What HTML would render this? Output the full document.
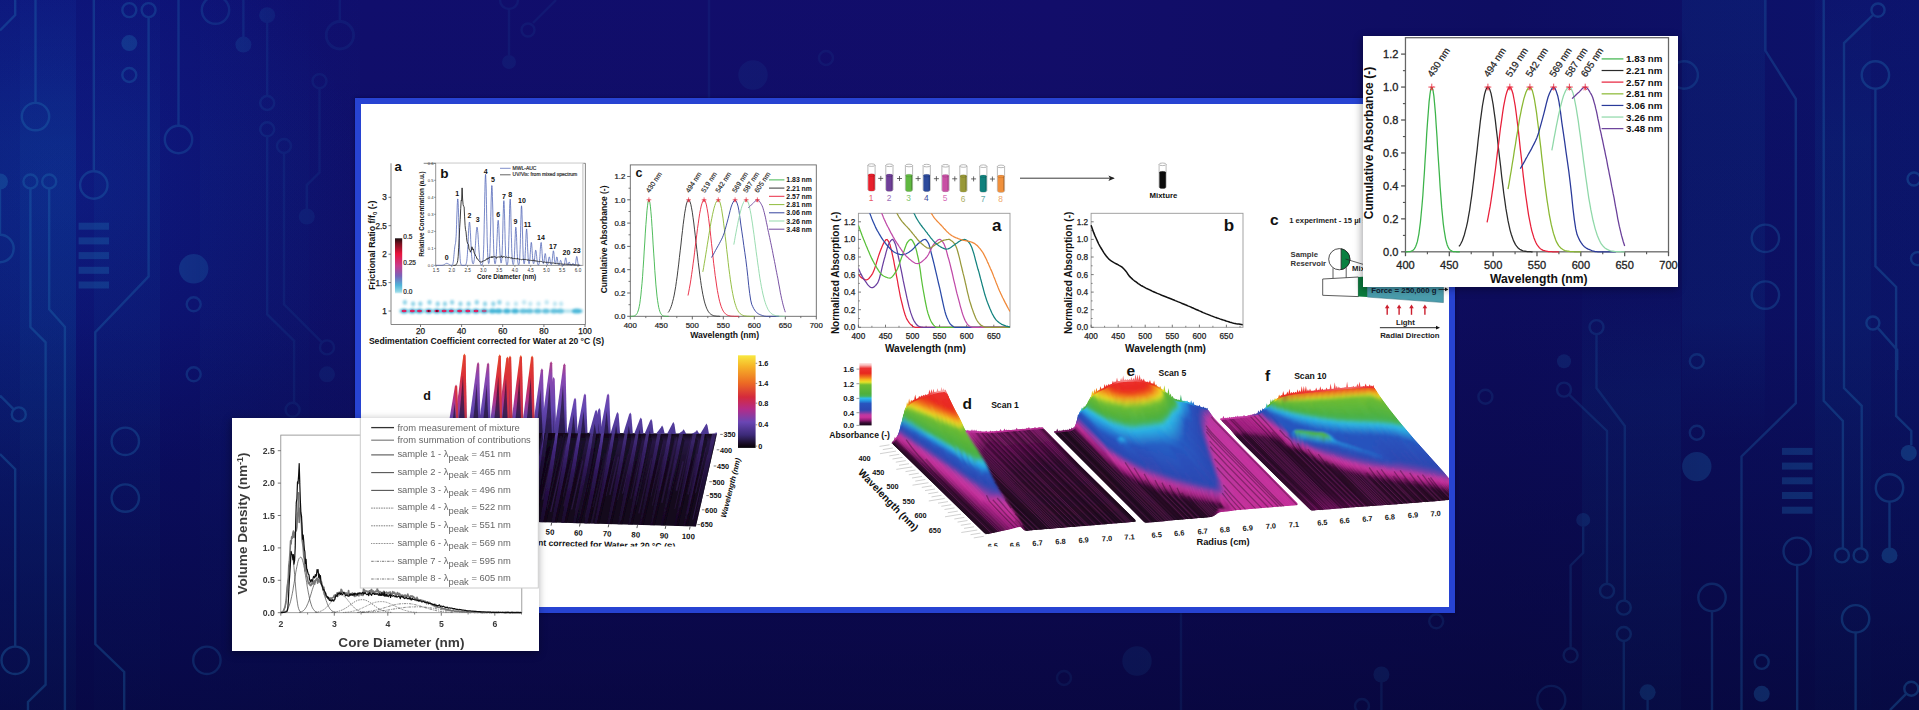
<!DOCTYPE html>
<html><head><meta charset="utf-8"><title>Multiwavelength AUC figures</title>
<style>
html,body{margin:0;padding:0;background:#0d0b63;}
body{width:1919px;height:710px;position:relative;overflow:hidden;font-family:"Liberation Sans",sans-serif;}
svg{position:absolute;left:0;top:0;display:block;}
svg text{font-family:"Liberation Sans",sans-serif;}
.panel{position:absolute;left:355px;top:98px;width:1088px;height:503px;border:6px solid #2743d2;background:#fff;box-shadow:0 0 3px rgba(0,0,40,.6);}
.card{position:absolute;background:#fff;box-shadow:-1px 2px 8px rgba(0,0,10,.38);}
#c1{left:1363px;top:36px;width:315px;height:251px;}
#c2{left:232px;top:418px;width:307px;height:233px;}
</style></head><body>
<svg class="bg" width="1919" height="710" viewBox="0 0 1919 710">
<defs>
<linearGradient id="bgh" x1="0" x2="1" y1="0" y2="0">
<stop offset="0" stop-color="#0c1174"/><stop offset="0.10" stop-color="#0d1072"/><stop offset="0.19" stop-color="#100e6c"/>
<stop offset="0.55" stop-color="#120d6a"/><stop offset="0.78" stop-color="#0e0d62"/><stop offset="1" stop-color="#0c136c"/>
</linearGradient>
<linearGradient id="bgv" x1="0" x2="0" y1="0" y2="1">
<stop offset="0" stop-color="#04042a" stop-opacity="0"/><stop offset="0.45" stop-color="#04042a" stop-opacity="0.12"/><stop offset="1" stop-color="#04042a" stop-opacity="0.62"/>
</linearGradient>
<linearGradient id="bandv" x1="0" x2="0" y1="0" y2="1"><stop offset="0" stop-color="#1238a0" stop-opacity="0.55"/><stop offset="0.2" stop-color="#0a58a4"/><stop offset="0.55" stop-color="#0a58a4"/><stop offset="1" stop-color="#0a50a0" stop-opacity="0.6"/></linearGradient>
<linearGradient id="bandT" x1="0" x2="0" y1="0" y2="1"><stop offset="0" stop-color="#0a58a4"/><stop offset="0.45" stop-color="#0a58a4"/><stop offset="0.62" stop-color="#0a58a4" stop-opacity="0"/></linearGradient>
<linearGradient id="bandB" x1="0" x2="0" y1="0" y2="1"><stop offset="0.38" stop-color="#0a58a4" stop-opacity="0"/><stop offset="0.56" stop-color="#0a58a4"/><stop offset="1" stop-color="#0a58a4"/></linearGradient>
<linearGradient id="cmg" x1="0" x2="1" y1="0" y2="0"><stop offset="0" stop-color="#fff"/><stop offset="0.09" stop-color="#ddd"/><stop offset="0.15" stop-color="#555"/><stop offset="0.5" stop-color="#4a4a4a"/><stop offset="0.8" stop-color="#777"/><stop offset="0.9" stop-color="#ccc"/><stop offset="1" stop-color="#fff"/></linearGradient><mask id="cmask" maskUnits="userSpaceOnUse" x="0" y="0" width="1919" height="710"><rect width="1919" height="710" fill="url(#cmg)"/></mask>
<radialGradient id="bgr" gradientUnits="userSpaceOnUse" cx="60" cy="190" r="300"><stop offset="0" stop-color="#1848c8" stop-opacity="0.22"/><stop offset="0.5" stop-color="#1848c8" stop-opacity="0.10"/><stop offset="1" stop-color="#1848c8" stop-opacity="0"/></radialGradient>
</defs>
<rect width="1919" height="710" fill="url(#bgh)"/>
<rect x="0" y="0" width="20" height="710" fill="url(#bandv)" opacity="0.2"/>
<rect x="20" y="0" width="56" height="710" fill="url(#bandv)" opacity="0.3"/>
<rect x="94" y="0" width="66" height="710" fill="url(#bandv)" opacity="0.11"/>
<rect x="200" y="0" width="109" height="710" fill="url(#bandv)" opacity="0.07"/>
<rect x="309" y="0" width="51" height="710" fill="url(#bandv)" opacity="0.04"/>
<rect x="1582" y="0" width="99" height="710" fill="url(#bandB)" opacity="0.14"/>
<rect x="1682" y="0" width="83" height="710" fill="url(#bandT)" opacity="0.13"/>
<rect x="1815" y="0" width="56" height="710" fill="url(#bandv)" opacity="0.14"/>
<rect x="1871" y="0" width="48" height="710" fill="url(#bandv)" opacity="0.05"/>
<rect width="700" height="710" fill="url(#bgr)"/>
<rect width="1919" height="710" fill="url(#bgv)"/>
<g stroke="#1f6fb0" stroke-width="2.4" opacity="0.36" fill="none" mask="url(#cmask)">
<path d="M15.2 0 L15.2 15 L0 30.4" fill="none"/>
<path d="M35.5 0 L35.5 103" fill="none"/>
<circle cx="35.5" cy="116.6" r="13.7" fill="none"/>
<path d="M93.8 0 L93.8 171.3" fill="none"/>
<circle cx="93.8" cy="185" r="13.7" fill="none"/>
<circle cx="129.3" cy="10.1" r="7" fill="none"/>
<circle cx="148.6" cy="10.1" r="7" fill="none"/>
<path d="M148.6 17 L148.6 276.4 L95.3 332.2 L95.3 644.1 L124.2 672 L124.2 710" fill="none"/>
<circle cx="129.3" cy="43.1" r="8" fill="#1f6fb0" stroke="none"/>
<circle cx="129.3" cy="75" r="7" fill="none"/>
<path d="M178.5 0 L178.5 126" fill="none"/>
<circle cx="178.5" cy="139.5" r="13.7" fill="none"/>
<circle cx="215.5" cy="10.1" r="13.7" fill="none"/>
<path d="M243.4 0 L243.4 37" fill="none"/>
<circle cx="243.4" cy="44.6" r="8" fill="#1f6fb0" stroke="none"/>
<circle cx="267.2" cy="15.2" r="8" fill="#1f6fb0" stroke="none"/>
<path d="M267.2 23 L267.2 96" fill="none"/>
<circle cx="267.2" cy="103" r="7" fill="none"/>
<circle cx="267.2" cy="129.3" r="7" fill="none"/>
<path d="M267.2 136.3 L267.2 314.4 L294.1 340.8 L294.1 402.8" fill="none"/>
<circle cx="292.6" cy="409.8" r="7" fill="none"/>
<circle cx="284" cy="146" r="7" fill="none"/>
<path d="M284 153 L284 304.3 L322 342.4" fill="none"/>
<circle cx="327" cy="347.4" r="7" fill="none"/>
<circle cx="327" cy="374.3" r="8" fill="#1f6fb0" stroke="none"/>
<circle cx="319.5" cy="81.1" r="7" fill="none"/>
<path d="M319.5 88 L319.5 172.4 L306.8 185.1 L306.8 209" fill="none"/>
<circle cx="306.8" cy="216.5" r="8" fill="#1f6fb0" stroke="none"/>
<path d="M339.8 0 L339.8 22" fill="none"/>
<circle cx="339.8" cy="35.5" r="13.7" fill="none"/>
<circle cx="30.4" cy="181.5" r="7" fill="none"/>
<circle cx="49.2" cy="181.5" r="7" fill="none"/>
<path d="M30.4 188.5 L30.4 327 L45.6 342.3 L45.6 684.7 L28 702 L28 710" fill="none"/>
<path d="M49.2 188.5 L49.2 309.3 L64.9 327 L64.9 710" fill="none"/>
<circle cx="0" cy="181.5" r="8" fill="#1f6fb0" stroke="none"/>
<path d="M0 189 L0 235" fill="none"/>
<circle cx="0" cy="248.5" r="13.7" fill="none"/>
<circle cx="193.7" cy="268.8" r="14.7" fill="#1f6fb0" stroke="none"/>
<circle cx="193.7" cy="304.3" r="7" fill="none"/>
<circle cx="193.7" cy="374.3" r="7" fill="none"/>
<rect x="78.6" y="222.7" width="30.4" height="7" fill="#1f6fb0" stroke="none"/>
<rect x="78.6" y="237.4" width="30.4" height="7" fill="#1f6fb0" stroke="none"/>
<rect x="78.6" y="252.1" width="30.4" height="7" fill="#1f6fb0" stroke="none"/>
<rect x="78.6" y="266.8" width="30.4" height="7" fill="#1f6fb0" stroke="none"/>
<rect x="78.6" y="281.5" width="30.4" height="7" fill="#1f6fb0" stroke="none"/>
<path d="M0 395.6 L13.8 409.4" fill="none"/>
<circle cx="18.8" cy="414.4" r="7" fill="none"/>
<path d="M0 454 L15.2 469.2 L15.2 646.6" fill="none"/>
<circle cx="15.2" cy="660.3" r="13.7" fill="none"/>
<circle cx="125.3" cy="441.3" r="13.7" fill="none"/>
<circle cx="125.3" cy="498.1" r="13.7" fill="none"/>
<circle cx="206.9" cy="660.3" r="13.7" fill="none"/>
<circle cx="340" cy="35" r="13.7" fill="none"/>
<circle cx="509" cy="0" r="9" fill="none"/>
<path d="M509 9 L509 55" fill="none"/>
<circle cx="509" cy="62" r="7" fill="#1f6fb0" stroke="none"/>
<path d="M556 0 L533 23" fill="none"/>
<circle cx="528" cy="30" r="6.5" fill="none"/>
<path d="M709 0 L709 98" fill="none"/>
<circle cx="753" cy="75" r="14.7" fill="#1f6fb0" stroke="none"/>
<circle cx="826" cy="58" r="7" fill="none"/>
<circle cx="1064" cy="678" r="7" fill="none"/>
<circle cx="1137" cy="661" r="14.7" fill="#1f6fb0" stroke="none"/>
<path d="M1181 613 L1181 710" fill="none"/>
<circle cx="1436.2" cy="621.3" r="7" fill="none"/>
<circle cx="1381.4" cy="674.5" r="8" fill="#1f6fb0" stroke="none"/>
<path d="M1381.4 682 L1381.4 710" fill="none"/>
<circle cx="1362" cy="706" r="7" fill="none"/>
<path d="M1765.4 0 L1765.4 50.7 L1795.8 98.9 L1795.8 403.2 L1741.5 456.5 L1741.5 710" fill="none"/>
<path d="M1823.7 0 L1823.7 400.7 L1842.9 421 L1842.9 548.4" fill="none"/>
<circle cx="1841.9" cy="555.4" r="7" fill="none"/>
<circle cx="1878" cy="10.1" r="6.6" fill="none"/>
<path d="M1873 15 L1844 43.1 L1844 388 L1861.7 405.8 L1861.7 548.4" fill="none"/>
<circle cx="1860.6" cy="555.4" r="7" fill="none"/>
<circle cx="1875.4" cy="75" r="13.7" fill="none"/>
<path d="M1875.4 88.7 L1875.4 266.2 L1896.1 287 L1896.1 415.9 L1911.3 431 L1911.3 445" fill="none"/>
<circle cx="1908.8" cy="452.9" r="8" fill="#1f6fb0" stroke="none"/>
<circle cx="1684.2" cy="75" r="13.7" fill="none"/>
<circle cx="1765.4" cy="238.3" r="13.7" fill="none"/>
<circle cx="1765.4" cy="295.1" r="13.7" fill="none"/>
<circle cx="1914" cy="179" r="6.5" fill="none"/>
<circle cx="1917.5" cy="258.6" r="6.5" fill="none"/>
<circle cx="1872.9" cy="323" r="6.5" fill="none"/>
<path d="M1877.5 327.6 L1897.2 349.9 L1897.2 370" fill="none"/>
<circle cx="1596.5" cy="327.1" r="7" fill="none"/>
<path d="M1596.5 334 L1596.5 388 L1624.8 426 L1624.8 600.6" fill="none"/>
<circle cx="1623.8" cy="607.6" r="7" fill="none"/>
<circle cx="1485.4" cy="396.7" r="7" fill="none"/>
<circle cx="1564" cy="361.2" r="7" fill="#1f6fb0" stroke="none"/>
<circle cx="1564" cy="389.6" r="7" fill="none"/>
<path d="M1569 394.6 L1607 431 L1607 583.9" fill="none"/>
<circle cx="1607" cy="590.9" r="7" fill="none"/>
<circle cx="1583.2" cy="519.9" r="7" fill="#1f6fb0" stroke="none"/>
<path d="M1583.2 527 L1583.2 552.8 L1570.6 565.5 L1570.6 648.3" fill="none"/>
<circle cx="1570.6" cy="655.3" r="7" fill="none"/>
<circle cx="1623.8" cy="634" r="7" fill="none"/>
<path d="M1623.8 641 L1623.8 710" fill="none"/>
<circle cx="1551.3" cy="699.9" r="14" fill="none"/>
<circle cx="1647.6" cy="692.3" r="8" fill="#1f6fb0" stroke="none"/>
<path d="M1647.6 700 L1647.6 710" fill="none"/>
<circle cx="1696.8" cy="361.2" r="7" fill="none"/>
<circle cx="1696.8" cy="432.7" r="7" fill="none"/>
<circle cx="1696.8" cy="466.6" r="14.7" fill="#1f6fb0" stroke="none"/>
<circle cx="1712" cy="597.5" r="13.7" fill="none"/>
<path d="M1712 611.2 L1712 710" fill="none"/>
<rect x="1782" y="447.9" width="30.5" height="7" fill="#1f6fb0" stroke="none"/>
<rect x="1782" y="462.6" width="30.5" height="7" fill="#1f6fb0" stroke="none"/>
<rect x="1782" y="477.3" width="30.5" height="7" fill="#1f6fb0" stroke="none"/>
<rect x="1782" y="492" width="30.5" height="7" fill="#1f6fb0" stroke="none"/>
<rect x="1782" y="506.7" width="30.5" height="7" fill="#1f6fb0" stroke="none"/>
<circle cx="1797.2" cy="551.3" r="13.7" fill="none"/>
<path d="M1797.2 565 L1797.2 710" fill="none"/>
<circle cx="1889.5" cy="487.9" r="13.7" fill="none"/>
<path d="M1889.5 501.6 L1889.5 548" fill="none"/>
<circle cx="1889.5" cy="555.4" r="8" fill="#1f6fb0" stroke="none"/>
<circle cx="1855.6" cy="618.8" r="13.7" fill="none"/>
<path d="M1855.6 632.5 L1855.6 710" fill="none"/>
<circle cx="1761.7" cy="661.9" r="7" fill="none"/>
<circle cx="1761.7" cy="693.8" r="8" fill="#1f6fb0" stroke="none"/>
<circle cx="1911.3" cy="688.7" r="7" fill="none"/>
<path d="M1906.3 693.7 L1890 710" fill="none"/>
</g></svg>
<div class="panel"></div>
<svg width="1919" height="710" viewBox="0 0 1919 710"><defs><clipPath id="pclip"><rect x="361" y="104" width="1088" height="503"/></clipPath><clipPath id="figclip"><rect x="361" y="104" width="1088" height="442.5"/></clipPath></defs>
<g clip-path="url(#pclip)">
<g>
<defs><linearGradient id="hcb" x1="0" x2="0" y1="0" y2="1"><stop offset="0" stop-color="#1a0d10"/><stop offset="0.1" stop-color="#7a1020"/><stop offset="0.28" stop-color="#e8143c"/><stop offset="0.5" stop-color="#c83c8c"/><stop offset="0.68" stop-color="#7a62b8"/><stop offset="0.85" stop-color="#4fb4d8"/><stop offset="0.96" stop-color="#8fd6e6"/><stop offset="1" stop-color="#d8f0f6"/></linearGradient><filter id="hb" x="-20%" y="-200%" width="140%" height="500%"><feGaussianBlur stdDeviation="1.3"/></filter><filter id="hb2" x="-20%" y="-200%" width="140%" height="500%"><feGaussianBlur stdDeviation="0.7"/></filter></defs>
<path d="M391 163.3 V324.5 H585.4 V163.3 H423.7" fill="#fff" stroke="#777" stroke-width="0.9"/>
<line x1="391" y1="311" x2="388.5" y2="311" stroke="#555" stroke-width="0.8" />
<text x="386.8" y="314" font-size="8.2" text-anchor="end" font-weight="normal" fill="#222" stroke="#222" stroke-width="0.25">1</text>
<line x1="391" y1="282.6" x2="388.5" y2="282.6" stroke="#555" stroke-width="0.8" />
<text x="386.8" y="285.6" font-size="8.2" text-anchor="end" font-weight="normal" fill="#222" stroke="#222" stroke-width="0.25">1.5</text>
<line x1="391" y1="254.2" x2="388.5" y2="254.2" stroke="#555" stroke-width="0.8" />
<text x="386.8" y="257.1" font-size="8.2" text-anchor="end" font-weight="normal" fill="#222" stroke="#222" stroke-width="0.25">2</text>
<line x1="391" y1="225.7" x2="388.5" y2="225.7" stroke="#555" stroke-width="0.8" />
<text x="386.8" y="228.7" font-size="8.2" text-anchor="end" font-weight="normal" fill="#222" stroke="#222" stroke-width="0.25">2.5</text>
<line x1="391" y1="197.3" x2="388.5" y2="197.3" stroke="#555" stroke-width="0.8" />
<text x="386.8" y="200.3" font-size="8.2" text-anchor="end" font-weight="normal" fill="#222" stroke="#222" stroke-width="0.25">3</text>
<line x1="420.5" y1="324.5" x2="420.5" y2="327" stroke="#555" stroke-width="0.8" />
<text x="420.5" y="334.1" font-size="8.2" text-anchor="middle" font-weight="normal" fill="#222" stroke="#222" stroke-width="0.25">20</text>
<line x1="461.6" y1="324.5" x2="461.6" y2="327" stroke="#555" stroke-width="0.8" />
<text x="461.6" y="334.1" font-size="8.2" text-anchor="middle" font-weight="normal" fill="#222" stroke="#222" stroke-width="0.25">40</text>
<line x1="502.7" y1="324.5" x2="502.7" y2="327" stroke="#555" stroke-width="0.8" />
<text x="502.7" y="334.1" font-size="8.2" text-anchor="middle" font-weight="normal" fill="#222" stroke="#222" stroke-width="0.25">60</text>
<line x1="543.9" y1="324.5" x2="543.9" y2="327" stroke="#555" stroke-width="0.8" />
<text x="543.9" y="334.1" font-size="8.2" text-anchor="middle" font-weight="normal" fill="#222" stroke="#222" stroke-width="0.25">80</text>
<line x1="585" y1="324.5" x2="585" y2="327" stroke="#555" stroke-width="0.8" />
<text x="585" y="334.1" font-size="8.2" text-anchor="middle" font-weight="normal" fill="#222" stroke="#222" stroke-width="0.25">100</text>
<text x="486.5" y="344.4" font-size="8.6" text-anchor="middle" font-weight="bold" fill="#111" >Sedimentation Coefficient corrected for Water at 20 °C (S)</text>
<text font-size="8.8" font-weight="bold" fill="#111" text-anchor="middle" transform="translate(375.3 245.2) rotate(-90)">Frictional Ratio f/f<tspan font-size="6" dy="1.8">0</tspan><tspan dy="-1.8"> (-)</tspan></text>
<text x="394.6" y="170.7" font-size="13" text-anchor="start" font-weight="bold" fill="#111" >a</text>
<rect x="395" y="238.3" width="7.2" height="55.2" fill="url(#hcb)"/>
<text x="403.3" y="239.3" font-size="6.5" text-anchor="start" font-weight="normal" fill="#222" stroke="#222" stroke-width="0.2">0.5</text>
<text x="403.3" y="265.4" font-size="6.5" text-anchor="start" font-weight="normal" fill="#222" stroke="#222" stroke-width="0.2">0.25</text>
<text x="403.3" y="294.3" font-size="6.5" text-anchor="start" font-weight="normal" fill="#222" stroke="#222" stroke-width="0.2">0.0</text>
<g filter="url(#hb)">
<rect x="399" y="309.3" width="184" height="3.6" fill="#7fd0e4" opacity="0.55"/>
<ellipse cx="404.1" cy="311" rx="3.6" ry="2.6" fill="#3fb2d6" opacity="0.95"/>
<ellipse cx="404.9" cy="302.3" rx="2.2" ry="2.6" fill="#52bcdc" opacity="0.6"/>
<ellipse cx="412.3" cy="311" rx="3.6" ry="2.6" fill="#3fb2d6" opacity="0.95"/>
<ellipse cx="413.1" cy="303.8" rx="2.2" ry="2.6" fill="#52bcdc" opacity="0.6"/>
<ellipse cx="419.5" cy="311" rx="3.6" ry="2.6" fill="#3fb2d6" opacity="0.95"/>
<ellipse cx="420.3" cy="303.8" rx="2.2" ry="2.6" fill="#52bcdc" opacity="0.6"/>
<ellipse cx="428.7" cy="311" rx="3.6" ry="2.6" fill="#3fb2d6" opacity="0.95"/>
<ellipse cx="429.5" cy="302.3" rx="2.2" ry="2.6" fill="#52bcdc" opacity="0.6"/>
<ellipse cx="436.9" cy="311" rx="3.6" ry="2.6" fill="#3fb2d6" opacity="0.95"/>
<ellipse cx="437.7" cy="303.8" rx="2.2" ry="2.6" fill="#52bcdc" opacity="0.6"/>
<ellipse cx="444.1" cy="311" rx="3.6" ry="2.6" fill="#3fb2d6" opacity="0.95"/>
<ellipse cx="444.9" cy="303.8" rx="2.2" ry="2.6" fill="#52bcdc" opacity="0.6"/>
<ellipse cx="451.3" cy="311" rx="3.6" ry="2.6" fill="#3fb2d6" opacity="0.95"/>
<ellipse cx="452.1" cy="302.3" rx="2.2" ry="2.6" fill="#52bcdc" opacity="0.6"/>
<ellipse cx="459.6" cy="311" rx="3.6" ry="2.6" fill="#3fb2d6" opacity="0.95"/>
<ellipse cx="460.4" cy="303.8" rx="2.2" ry="2.6" fill="#52bcdc" opacity="0.6"/>
<ellipse cx="467.8" cy="311" rx="3.6" ry="2.6" fill="#3fb2d6" opacity="0.95"/>
<ellipse cx="468.6" cy="303.8" rx="2.2" ry="2.6" fill="#52bcdc" opacity="0.6"/>
<ellipse cx="476" cy="311" rx="3.6" ry="2.6" fill="#3fb2d6" opacity="0.95"/>
<ellipse cx="476.8" cy="302.3" rx="2.2" ry="2.6" fill="#52bcdc" opacity="0.6"/>
<ellipse cx="484.2" cy="311" rx="3.6" ry="2.6" fill="#3fb2d6" opacity="0.95"/>
<ellipse cx="485" cy="303.8" rx="2.2" ry="2.6" fill="#52bcdc" opacity="0.6"/>
<ellipse cx="492.5" cy="311" rx="3.6" ry="2.6" fill="#3fb2d6" opacity="0.95"/>
<ellipse cx="493.3" cy="303.8" rx="2.2" ry="2.6" fill="#52bcdc" opacity="0.6"/>
<ellipse cx="498.6" cy="311" rx="3.6" ry="2.6" fill="#3fb2d6" opacity="0.95"/>
<ellipse cx="499.4" cy="302.3" rx="2.2" ry="2.6" fill="#52bcdc" opacity="0.6"/>
<ellipse cx="506.9" cy="311" rx="3.6" ry="2.6" fill="#3fb2d6" opacity="0.95"/>
<ellipse cx="507.7" cy="303.8" rx="2.2" ry="2.6" fill="#52bcdc" opacity="0.35"/>
<ellipse cx="515.1" cy="311" rx="3.6" ry="2.6" fill="#3fb2d6" opacity="0.95"/>
<ellipse cx="515.9" cy="303.8" rx="2.2" ry="2.6" fill="#52bcdc" opacity="0.35"/>
<ellipse cx="523.3" cy="311" rx="3.6" ry="2.6" fill="#3fb2d6" opacity="0.7"/>
<ellipse cx="524.1" cy="302.3" rx="2.2" ry="2.6" fill="#52bcdc" opacity="0.35"/>
<ellipse cx="529.5" cy="311" rx="3.6" ry="2.6" fill="#3fb2d6" opacity="0.7"/>
<ellipse cx="530.3" cy="303.8" rx="2.2" ry="2.6" fill="#52bcdc" opacity="0.35"/>
<ellipse cx="537.7" cy="311" rx="3.6" ry="2.6" fill="#3fb2d6" opacity="0.7"/>
<ellipse cx="538.5" cy="303.8" rx="2.2" ry="2.6" fill="#52bcdc" opacity="0.35"/>
<ellipse cx="545.9" cy="311" rx="3.6" ry="2.6" fill="#3fb2d6" opacity="0.7"/>
<ellipse cx="546.7" cy="302.3" rx="2.2" ry="2.6" fill="#52bcdc" opacity="0.35"/>
<ellipse cx="554.1" cy="311" rx="3.6" ry="2.6" fill="#3fb2d6" opacity="0.7"/>
<ellipse cx="554.9" cy="303.8" rx="2.2" ry="2.6" fill="#52bcdc" opacity="0.35"/>
<ellipse cx="560.3" cy="311" rx="3.6" ry="2.6" fill="#3fb2d6" opacity="0.7"/>
<ellipse cx="561.1" cy="303.8" rx="2.2" ry="2.6" fill="#52bcdc" opacity="0.35"/>
<ellipse cx="576.8" cy="311" rx="5" ry="2.6" fill="#3fb2d6" opacity="0.9"/>
</g><g filter="url(#hb2)">
<ellipse cx="404.1" cy="311" rx="2.5" ry="1.35" fill="#e21a5c" opacity="0.95"/>
<ellipse cx="412.3" cy="311" rx="2.5" ry="1.35" fill="#e21a5c" opacity="0.95"/>
<ellipse cx="419.5" cy="311" rx="2.5" ry="1.35" fill="#e21a5c" opacity="0.95"/>
<ellipse cx="428.7" cy="311" rx="2.5" ry="1.35" fill="#e21a5c" opacity="0.95"/>
<ellipse cx="436.9" cy="311" rx="2.5" ry="1.35" fill="#e21a5c" opacity="0.95"/>
<ellipse cx="444.1" cy="311" rx="2.5" ry="1.35" fill="#e21a5c" opacity="0.95"/>
<ellipse cx="451.3" cy="311" rx="2.5" ry="1.35" fill="#e21a5c" opacity="0.95"/>
<ellipse cx="459.6" cy="311" rx="2.5" ry="1.35" fill="#e21a5c" opacity="0.95"/>
<ellipse cx="467.8" cy="311" rx="2.5" ry="1.35" fill="#e21a5c" opacity="0.95"/>
<ellipse cx="476" cy="311" rx="2.5" ry="1.35" fill="#e21a5c" opacity="0.95"/>
<ellipse cx="484.2" cy="311" rx="2.5" ry="1.35" fill="#e21a5c" opacity="0.6"/>
<ellipse cx="428.7" cy="311" rx="1.1" ry="0.8" fill="#300810"/>
<ellipse cx="436.9" cy="311" rx="1.1" ry="0.8" fill="#300810"/>
</g>
<rect x="435.7" y="163.3" width="147.5" height="102.1" fill="#fff" stroke="none"/>
<path d="M435.7 163.3 V265.4 H583.2" fill="none" stroke="#777" stroke-width="0.8"/>
<line x1="582.9" y1="163.3" x2="582.9" y2="265.4" stroke="#c8c8c8" stroke-width="1.2" />
<line x1="435.7" y1="265.4" x2="434.1" y2="265.4" stroke="#555" stroke-width="0.6" />
<text x="433.7" y="266.9" font-size="4.2" text-anchor="end" font-weight="normal" fill="#333" >0.0</text>
<line x1="435.7" y1="248.4" x2="434.1" y2="248.4" stroke="#555" stroke-width="0.6" />
<text x="433.7" y="249.9" font-size="4.2" text-anchor="end" font-weight="normal" fill="#333" >0.1</text>
<line x1="435.7" y1="231.4" x2="434.1" y2="231.4" stroke="#555" stroke-width="0.6" />
<text x="433.7" y="232.9" font-size="4.2" text-anchor="end" font-weight="normal" fill="#333" >0.2</text>
<line x1="435.7" y1="214.3" x2="434.1" y2="214.3" stroke="#555" stroke-width="0.6" />
<text x="433.7" y="215.8" font-size="4.2" text-anchor="end" font-weight="normal" fill="#333" >0.3</text>
<line x1="435.7" y1="197.3" x2="434.1" y2="197.3" stroke="#555" stroke-width="0.6" />
<text x="433.7" y="198.8" font-size="4.2" text-anchor="end" font-weight="normal" fill="#333" >0.4</text>
<line x1="435.7" y1="180.3" x2="434.1" y2="180.3" stroke="#555" stroke-width="0.6" />
<text x="433.7" y="181.8" font-size="4.2" text-anchor="end" font-weight="normal" fill="#333" >0.5</text>
<line x1="435.7" y1="163.3" x2="434.1" y2="163.3" stroke="#555" stroke-width="0.6" />
<text x="433.7" y="164.8" font-size="4.2" text-anchor="end" font-weight="normal" fill="#333" >0.6</text>
<line x1="436" y1="265.4" x2="436" y2="267" stroke="#555" stroke-width="0.6" />
<text x="436" y="271.6" font-size="4.6" text-anchor="middle" font-weight="normal" fill="#333" >1.5</text>
<line x1="451.8" y1="265.4" x2="451.8" y2="267" stroke="#555" stroke-width="0.6" />
<text x="451.8" y="271.6" font-size="4.6" text-anchor="middle" font-weight="normal" fill="#333" >2.0</text>
<line x1="467.6" y1="265.4" x2="467.6" y2="267" stroke="#555" stroke-width="0.6" />
<text x="467.6" y="271.6" font-size="4.6" text-anchor="middle" font-weight="normal" fill="#333" >2.5</text>
<line x1="483.3" y1="265.4" x2="483.3" y2="267" stroke="#555" stroke-width="0.6" />
<text x="483.3" y="271.6" font-size="4.6" text-anchor="middle" font-weight="normal" fill="#333" >3.0</text>
<line x1="499.1" y1="265.4" x2="499.1" y2="267" stroke="#555" stroke-width="0.6" />
<text x="499.1" y="271.6" font-size="4.6" text-anchor="middle" font-weight="normal" fill="#333" >3.5</text>
<line x1="514.9" y1="265.4" x2="514.9" y2="267" stroke="#555" stroke-width="0.6" />
<text x="514.9" y="271.6" font-size="4.6" text-anchor="middle" font-weight="normal" fill="#333" >4.0</text>
<line x1="530.7" y1="265.4" x2="530.7" y2="267" stroke="#555" stroke-width="0.6" />
<text x="530.7" y="271.6" font-size="4.6" text-anchor="middle" font-weight="normal" fill="#333" >4.5</text>
<line x1="546.5" y1="265.4" x2="546.5" y2="267" stroke="#555" stroke-width="0.6" />
<text x="546.5" y="271.6" font-size="4.6" text-anchor="middle" font-weight="normal" fill="#333" >5.0</text>
<line x1="562.2" y1="265.4" x2="562.2" y2="267" stroke="#555" stroke-width="0.6" />
<text x="562.2" y="271.6" font-size="4.6" text-anchor="middle" font-weight="normal" fill="#333" >5.5</text>
<line x1="578" y1="265.4" x2="578" y2="267" stroke="#555" stroke-width="0.6" />
<text x="578" y="271.6" font-size="4.6" text-anchor="middle" font-weight="normal" fill="#333" >6.0</text>
<text x="506.6" y="279.2" font-size="6.4" text-anchor="middle" font-weight="bold" fill="#111" >Core Diameter (nm)</text>
<text x="424" y="214" font-size="6.3" text-anchor="middle" font-weight="bold" fill="#111" transform="rotate(-90 424 214)" >Relative Concentration (a.u.)</text>
<text x="440.2" y="177.9" font-size="13.6" text-anchor="start" font-weight="bold" fill="#111" >b</text>
<path d="M436 265.4 L436.2 265.4 L436.3 265.4 L436.5 265.4 L436.6 265.4 L436.8 265.4 L437 265.4 L437.1 265.4 L437.3 265.4 L437.4 265.4 L437.6 265.4 L437.8 265.4 L437.9 265.4 L438.1 265.4 L438.3 265.4 L438.4 265.4 L438.6 265.4 L438.7 265.4 L438.9 265.4 L439.1 265.4 L439.2 265.4 L439.4 265.4 L439.5 265.4 L439.7 265.4 L439.9 265.4 L440 265.4 L440.2 265.4 L440.3 265.4 L440.5 265.4 L440.7 265.4 L440.8 265.4 L441 265.4 L441.1 265.4 L441.3 265.4 L441.5 265.4 L441.6 265.3 L441.8 265.3 L441.9 265.3 L442.1 265.3 L442.3 265.3 L442.4 265.2 L442.6 265.2 L442.8 265.2 L442.9 265.1 L443.1 265.1 L443.2 265 L443.4 265 L443.6 264.9 L443.7 264.8 L443.9 264.7 L444 264.7 L444.2 264.6 L444.4 264.5 L444.5 264.4 L444.7 264.3 L444.8 264.2 L445 264.1 L445.2 263.9 L445.3 263.8 L445.5 263.8 L445.6 263.7 L445.8 263.6 L446 263.5 L446.1 263.5 L446.3 263.4 L446.5 263.4 L446.6 263.4 L446.8 263.4 L446.9 263.4 L447.1 263.4 L447.3 263.4 L447.4 263.5 L447.6 263.6 L447.7 263.6 L447.9 263.7 L448.1 263.8 L448.2 263.9 L448.4 264 L448.5 264.1 L448.7 264.2 L448.9 264.3 L449 264.4 L449.2 264.5 L449.3 264.6 L449.5 264.7 L449.7 264.8 L449.8 264.9 L450 264.9 L450.1 265 L450.3 265.1 L450.5 265.1 L450.6 265.2 L450.8 265.2 L451 265.2 L451.1 265.3 L451.3 265.3 L451.4 265.3 L451.6 265.3 L451.8 265.3 L451.9 265.2 L452.1 265.2 L452.2 265.1 L452.4 264.9 L452.6 264.6 L452.7 264.3 L452.9 263.8 L453 263.1 L453.2 262.2 L453.4 261.1 L453.5 259.7 L453.7 258.2 L453.8 256.5 L454 254.7 L454.2 252.8 L454.3 251 L454.5 249.4 L454.7 247.9 L454.8 246.7 L455 245.7 L455.1 245 L455.3 244.2 L455.5 243.5 L455.6 242.4 L455.8 241 L455.9 239.1 L456.1 236.5 L456.3 233.2 L456.4 229.2 L456.6 224.7 L456.7 219.9 L456.9 214.9 L457.1 210.2 L457.2 205.9 L457.4 202.5 L457.5 200.1 L457.7 198.9 L457.9 199.1 L458 200.6 L458.2 203.4 L458.3 207.3 L458.5 212.1 L458.7 217.6 L458.8 223.3 L459 229.2 L459.2 234.9 L459.3 240.2 L459.5 245 L459.6 249.3 L459.8 252.9 L460 255.9 L460.1 258.4 L460.3 260.3 L460.4 261.8 L460.6 262.9 L460.8 263.7 L460.9 264.2 L461.1 264.6 L461.2 264.9 L461.4 265.1 L461.6 265.2 L461.7 265.3 L461.9 265.3 L462 265.4 L462.2 265.4 L462.4 265.4 L462.5 265.4 L462.7 265.4 L462.9 265.4 L463 265.4 L463.2 265.4 L463.3 265.4 L463.5 265.4 L463.7 265.4 L463.8 265.4 L464 265.4 L464.1 265.4 L464.3 265.4 L464.5 265.4 L464.6 265.4 L464.8 265.4 L464.9 265.3 L465.1 265.3 L465.3 265.2 L465.4 265.1 L465.6 265 L465.7 264.8 L465.9 264.6 L466.1 264.2 L466.2 263.7 L466.4 263.1 L466.5 262.3 L466.7 261.3 L466.9 260.1 L467 258.5 L467.2 256.7 L467.4 254.5 L467.5 252.1 L467.7 249.3 L467.8 246.3 L468 243.1 L468.2 239.8 L468.3 236.4 L468.5 233.2 L468.6 230.2 L468.8 227.4 L469 225.2 L469.1 223.5 L469.3 222.4 L469.4 222 L469.6 222.3 L469.8 223.3 L469.9 224.9 L470.1 227.1 L470.2 229.8 L470.4 232.8 L470.6 236 L470.7 239.4 L470.9 242.7 L471.1 245.9 L471.2 248.9 L471.4 251.7 L471.5 254.2 L471.7 256.4 L471.9 258.2 L472 259.8 L472.2 261 L472.3 262 L472.5 262.8 L472.7 263.3 L472.8 263.7 L473 263.9 L473.1 263.9 L473.3 263.8 L473.5 263.5 L473.6 263.1 L473.8 262.5 L473.9 261.7 L474.1 260.7 L474.3 259.6 L474.4 258.2 L474.6 256.6 L474.7 254.8 L474.9 252.8 L475.1 250.6 L475.2 248.2 L475.4 245.7 L475.6 243.1 L475.7 240.4 L475.9 237.9 L476 235.4 L476.2 233.1 L476.4 231.2 L476.5 229.5 L476.7 228.2 L476.8 227.4 L477 227.1 L477.2 227.3 L477.3 227.9 L477.5 229 L477.6 230.5 L477.8 232.4 L478 234.6 L478.1 237 L478.3 239.5 L478.4 242.2 L478.6 244.8 L478.8 247.3 L478.9 249.8 L479.1 252.1 L479.3 254.1 L479.4 256 L479.6 257.7 L479.7 259.2 L479.9 260.4 L480.1 261.4 L480.2 262.3 L480.4 263 L480.5 263.6 L480.7 264 L480.9 264.4 L481 264.7 L481.2 264.9 L481.3 265 L481.5 265.1 L481.7 265.1 L481.8 265.1 L482 265.1 L482.1 264.9 L482.3 264.6 L482.5 264.2 L482.6 263.6 L482.8 262.7 L482.9 261.4 L483.1 259.5 L483.3 257.1 L483.4 253.9 L483.6 249.8 L483.8 244.8 L483.9 238.9 L484.1 232 L484.2 224.3 L484.4 216.1 L484.6 207.6 L484.7 199.2 L484.9 191.4 L485 184.6 L485.2 179.3 L485.4 175.8 L485.5 174.4 L485.7 175.1 L485.8 177.9 L486 182.6 L486.2 188.9 L486.3 196.4 L486.5 204.6 L486.6 213.2 L486.8 221.5 L487 229.4 L487.1 236.6 L487.3 242.9 L487.5 248.2 L487.6 252.6 L487.8 256 L487.9 258.7 L488.1 260.7 L488.3 262.1 L488.4 263 L488.6 263.5 L488.7 263.7 L488.9 263.5 L489.1 262.9 L489.2 262 L489.4 260.6 L489.5 258.7 L489.7 256 L489.9 252.7 L490 248.5 L490.2 243.5 L490.3 237.7 L490.5 231.1 L490.7 224 L490.8 216.5 L491 209.1 L491.1 202.1 L491.3 195.9 L491.5 190.8 L491.6 187.3 L491.8 185.6 L492 185.7 L492.1 187.7 L492.3 191.5 L492.4 196.7 L492.6 203 L492.8 210.1 L492.9 217.6 L493.1 225 L493.2 232.1 L493.4 238.5 L493.6 244.3 L493.7 249.2 L493.9 253.2 L494 256.4 L494.2 259 L494.4 260.8 L494.5 262.2 L494.7 263.1 L494.8 263.6 L495 263.8 L495.2 263.8 L495.3 263.4 L495.5 262.9 L495.7 262 L495.8 260.8 L496 259.2 L496.1 257.2 L496.3 254.8 L496.5 251.9 L496.6 248.7 L496.8 245.1 L496.9 241.3 L497.1 237.3 L497.3 233.4 L497.4 229.7 L497.6 226.3 L497.7 223.6 L497.9 221.6 L498.1 220.5 L498.2 220.3 L498.4 221.1 L498.5 222.8 L498.7 225.2 L498.9 228.4 L499 232 L499.2 235.8 L499.3 239.8 L499.5 243.7 L499.7 247.4 L499.8 250.8 L500 253.8 L500.2 256.3 L500.3 258.4 L500.5 260.1 L500.6 261.4 L500.8 262.4 L501 262.9 L501.1 263.1 L501.3 262.9 L501.4 262.3 L501.6 261.2 L501.8 259.6 L501.9 257.2 L502.1 254.1 L502.2 250.1 L502.4 245.4 L502.6 239.8 L502.7 233.6 L502.9 227 L503 220.4 L503.2 214.2 L503.4 208.7 L503.5 204.4 L503.7 201.7 L503.9 200.7 L504 201.6 L504.2 204.3 L504.3 208.5 L504.5 213.9 L504.7 220.2 L504.8 226.8 L505 233.4 L505.1 239.6 L505.3 245.2 L505.5 250 L505.6 254 L505.8 257.2 L505.9 259.7 L506.1 261.5 L506.3 262.8 L506.4 263.7 L506.6 264.3 L506.7 264.7 L506.9 264.9 L507.1 264.9 L507.2 264.7 L507.4 264.4 L507.5 263.9 L507.7 263.1 L507.9 261.9 L508 260.2 L508.2 257.8 L508.4 254.8 L508.5 250.9 L508.7 246.2 L508.8 240.7 L509 234.5 L509.2 227.8 L509.3 221 L509.5 214.4 L509.6 208.5 L509.8 203.8 L510 200.6 L510.1 199.1 L510.3 199.5 L510.4 201.8 L510.6 205.8 L510.8 211 L510.9 217.3 L511.1 224 L511.2 230.8 L511.4 237.3 L511.6 243.2 L511.7 248.4 L511.9 252.8 L512.1 256.2 L512.2 259 L512.4 261 L512.5 262.5 L512.7 263.5 L512.9 264.1 L513 264.5 L513.2 264.6 L513.3 264.5 L513.5 264.1 L513.7 263.5 L513.8 262.6 L514 261.3 L514.1 259.4 L514.3 257.1 L514.5 254.2 L514.6 250.7 L514.8 246.8 L514.9 242.7 L515.1 238.5 L515.3 234.5 L515.4 231.2 L515.6 228.7 L515.7 227.3 L515.9 227.2 L516.1 228.3 L516.2 230.6 L516.4 233.7 L516.6 237.6 L516.7 241.7 L516.9 245.9 L517 249.9 L517.2 253.5 L517.4 256.5 L517.5 259 L517.7 260.9 L517.8 262.4 L518 263.4 L518.2 264.1 L518.3 264.6 L518.5 264.8 L518.6 264.9 L518.8 264.7 L519 264.4 L519.1 263.9 L519.3 263 L519.4 261.7 L519.6 259.8 L519.8 257.2 L519.9 253.8 L520.1 249.5 L520.3 244.4 L520.4 238.6 L520.6 232.2 L520.7 225.6 L520.9 219.3 L521.1 213.8 L521.2 209.4 L521.4 206.7 L521.5 205.8 L521.7 206.9 L521.9 209.9 L522 214.4 L522.2 220 L522.3 226.4 L522.5 233 L522.7 239.3 L522.8 245.1 L523 250.1 L523.1 254.2 L523.3 257.5 L523.5 260 L523.6 261.7 L523.8 262.9 L523.9 263.6 L524.1 263.8 L524.3 263.7 L524.4 263.2 L524.6 262.3 L524.8 261 L524.9 259.1 L525.1 256.8 L525.2 253.8 L525.4 250.4 L525.6 246.6 L525.7 242.6 L525.9 238.6 L526 235 L526.2 232 L526.4 229.9 L526.5 228.9 L526.7 229.1 L526.8 230.4 L527 232.8 L527.2 236.1 L527.3 239.8 L527.5 243.8 L527.6 247.8 L527.8 251.5 L528 254.8 L528.1 257.5 L528.3 259.7 L528.5 261.4 L528.6 262.6 L528.8 263.4 L528.9 263.7 L529.1 263.8 L529.3 263.5 L529.4 262.9 L529.6 261.9 L529.7 260.6 L529.9 259 L530.1 257 L530.2 254.7 L530.4 252.2 L530.5 249.7 L530.7 247.3 L530.9 245.2 L531 243.6 L531.2 242.7 L531.3 242.4 L531.5 243 L531.7 244.2 L531.8 246 L532 248.3 L532.1 250.7 L532.3 253.3 L532.5 255.7 L532.6 257.8 L532.8 259.7 L533 261.2 L533.1 262.3 L533.3 263.1 L533.4 263.6 L533.6 263.8 L533.8 263.6 L533.9 263.2 L534.1 262.6 L534.2 261.6 L534.4 260.4 L534.6 259 L534.7 257.4 L534.9 255.7 L535 254.1 L535.2 252.6 L535.4 251.3 L535.5 250.5 L535.7 250.1 L535.8 250.2 L536 250.8 L536.2 251.9 L536.3 253.2 L536.5 254.8 L536.7 256.5 L536.8 258.2 L537 259.7 L537.1 261.1 L537.3 262.2 L537.5 263.1 L537.6 263.8 L537.8 264.3 L537.9 264.7 L538.1 264.9 L538.3 265 L538.4 265 L538.6 264.9 L538.7 264.7 L538.9 264.3 L539.1 263.8 L539.2 263 L539.4 261.9 L539.5 260.5 L539.7 258.7 L539.9 256.7 L540 254.3 L540.2 251.8 L540.3 249.3 L540.5 246.9 L540.7 244.9 L540.8 243.4 L541 242.6 L541.2 242.5 L541.3 243.1 L541.5 244.4 L541.6 246.3 L541.8 248.6 L542 251.1 L542.1 253.6 L542.3 256 L542.4 258.1 L542.6 260 L542.8 261.4 L542.9 262.5 L543.1 263.2 L543.2 263.6 L543.4 263.7 L543.6 263.5 L543.7 263 L543.9 262.3 L544 261.2 L544.2 259.9 L544.4 258.5 L544.5 257.1 L544.7 255.7 L544.9 254.6 L545 253.8 L545.2 253.5 L545.3 253.7 L545.5 254.3 L545.7 255.3 L545.8 256.6 L546 258.1 L546.1 259.5 L546.3 260.9 L546.5 262.1 L546.6 263 L546.8 263.8 L546.9 264.3 L547.1 264.6 L547.3 264.7 L547.4 264.7 L547.6 264.5 L547.7 264.1 L547.9 263.6 L548.1 262.9 L548.2 262 L548.4 261 L548.5 260 L548.7 259 L548.9 258.1 L549 257.4 L549.2 257 L549.4 256.9 L549.5 257.2 L549.7 257.8 L549.8 258.6 L550 259.6 L550.2 260.7 L550.3 261.7 L550.5 262.6 L550.6 263.4 L550.8 263.9 L551 264.3 L551.1 264.6 L551.3 264.6 L551.4 264.5 L551.6 264.2 L551.8 263.6 L551.9 262.8 L552.1 261.8 L552.2 260.4 L552.4 258.8 L552.6 257 L552.7 255.2 L552.9 253.6 L553.1 252.2 L553.2 251.2 L553.4 250.8 L553.5 251 L553.7 251.7 L553.9 253 L554 254.6 L554.2 256.3 L554.3 258.1 L554.5 259.8 L554.7 261.2 L554.8 262.4 L555 263.2 L555.1 263.7 L555.3 263.9 L555.5 263.8 L555.6 263.4 L555.8 262.8 L555.9 261.8 L556.1 260.8 L556.3 259.6 L556.4 258.5 L556.6 257.6 L556.7 257 L556.9 256.9 L557.1 257.2 L557.2 257.9 L557.4 259 L557.6 260.1 L557.7 261.3 L557.9 262.4 L558 263.3 L558.2 264 L558.4 264.5 L558.5 264.8 L558.7 265 L558.8 265.1 L559 265 L559.2 264.9 L559.3 264.6 L559.5 264.2 L559.6 263.7 L559.8 263 L560 262.3 L560.1 261.6 L560.3 261 L560.4 260.5 L560.6 260.3 L560.8 260.4 L560.9 260.7 L561.1 261.2 L561.3 261.8 L561.4 262.5 L561.6 263.2 L561.7 263.8 L561.9 264.3 L562.1 264.7 L562.2 265 L562.4 265.2 L562.5 265.3 L562.7 265.3 L562.9 265.4 L563 265.4 L563.2 265.4 L563.3 265.4 L563.5 265.4 L563.7 265.3 L563.8 265.2 L564 265.1 L564.1 264.8 L564.3 264.4 L564.5 263.9 L564.6 263.1 L564.8 262.2 L564.9 261.2 L565.1 260.1 L565.3 259.1 L565.4 258.3 L565.6 257.9 L565.8 257.8 L565.9 258.1 L566.1 258.7 L566.2 259.6 L566.4 260.7 L566.6 261.7 L566.7 262.7 L566.9 263.5 L567 264.2 L567.2 264.6 L567.4 264.9 L567.5 265 L567.7 265.1 L567.8 265 L568 264.8 L568.2 264.5 L568.3 264 L568.5 263.5 L568.6 263 L568.8 262.5 L569 262.2 L569.1 262 L569.3 262 L569.5 262.3 L569.6 262.7 L569.8 263.2 L569.9 263.7 L570.1 264.2 L570.3 264.6 L570.4 264.9 L570.6 265.1 L570.7 265.2 L570.9 265.3 L571.1 265.3 L571.2 265.3 L571.4 265.3 L571.5 265.2 L571.7 265.1 L571.9 265 L572 264.7 L572.2 264.5 L572.3 264.2 L572.5 263.8 L572.7 263.6 L572.8 263.4 L573 263.4 L573.1 263.4 L573.3 263.6 L573.5 263.9 L573.6 264.2 L573.8 264.5 L574 264.8 L574.1 265 L574.3 265.1 L574.4 265.2 L574.6 265.3 L574.8 265.2 L574.9 265.1 L575.1 264.9 L575.2 264.6 L575.4 264.1 L575.6 263.4 L575.7 262.4 L575.9 261.3 L576 260.1 L576.2 258.8 L576.4 257.7 L576.5 256.9 L576.7 256.4 L576.8 256.5 L577 256.9 L577.2 257.8 L577.3 259 L577.5 260.2 L577.7 261.5 L577.8 262.5 L578 263.4 L578.1 264.1 L578.3 264.6 L578.5 264.9 L578.6 265.1 L578.8 265.3 L578.9 265.3 L579.1 265.4 L579.3 265.4 L579.4 265.4 L579.6 265.4 L579.7 265.4 L579.9 265.4 L580.1 265.4 L580.2 265.4 L580.4 265.4 L580.5 265.4" fill="none" stroke="#4a5fb4" stroke-width="0.75" stroke-linejoin="round"/>
<path d="M453.4 265.4 L453.8 265.4 L454.3 265.4 L454.8 265.4 L455.3 265.3 L455.8 265 L456.3 264.4 L456.8 263.6 L457.3 262.5 L457.7 260.7 L458.2 256.4 L458.7 247.3 L459.2 238.2 L459.7 227.4 L460.2 219.7 L460.7 208.7 L461.2 200.4 L461.6 200.9 L462.1 187.9 L462.6 199 L463.1 204.6 L463.6 206.3 L464.1 206.6 L464.6 216.9 L465.1 225.7 L465.5 229.7 L466 231.7 L466.5 237.4 L467 241.4 L467.5 243.1 L468 244 L468.5 244.5 L469 249.3 L469.4 249.5 L469.9 250.3 L470.4 252.2 L470.9 250.8 L471.4 250.1 L471.9 246.8 L472.4 247.7 L472.9 249.9 L473.3 248.9 L473.8 251.1 L474.3 253.4 L474.8 253.7 L475.3 254.9 L475.8 256.1 L476.3 256.6 L476.8 258.6 L477.2 258.5 L477.7 258.9 L478.2 259.9 L478.7 260.6 L479.2 261.2 L479.7 261.5 L480.2 262.2 L480.7 261.8 L481.1 262.3 L481.6 261.9 L482.1 262 L482.6 261.2 L483.1 260.9 L483.6 261.1 L484.1 260.4 L484.6 260.8 L485 260.3 L485.5 260 L486 260.1 L486.5 259.3 L487 258.4 L487.5 259.3 L488 258.3 L488.5 258.5 L488.9 257.4 L489.4 257.7 L489.9 257.4 L490.4 257.2 L490.9 257.2 L491.4 257.8 L491.9 256.3 L492.4 257.6 L492.8 256.8 L493.3 256.6 L493.8 257.3 L494.3 256.8 L494.8 256.3 L495.3 256.9 L495.8 257.3 L496.3 258.4 L496.7 257.4 L497.2 257.2 L497.7 257.2 L498.2 257.4 L498.7 256.7 L499.2 257.2 L499.7 256.9 L500.1 256.5 L500.6 257.3 L501.1 257 L501.6 255.8 L502.1 256.4 L502.6 257.6 L503.1 256.9 L503.6 256.6 L504 256.3 L504.5 256.9 L505 257.3 L505.5 257.5 L506 256.8 L506.5 257.1 L507 257.5 L507.5 257.5 L507.9 257.6 L508.4 257.2 L508.9 257.9 L509.4 257.5 L509.9 257.4 L510.4 257.7 L510.9 258.3 L511.4 257.5 L511.8 258.4 L512.3 258 L512.8 258.6 L513.3 259.1 L513.8 258.4 L514.3 258.4 L514.8 258.6 L515.3 258.5 L515.7 259 L516.2 259 L516.7 258.9 L517.2 258.1 L517.7 258.6 L518.2 259.2 L518.7 258.8 L519.2 259.3 L519.6 259.3 L520.1 258.9 L520.6 259.4 L521.1 259.9 L521.6 259.7 L522.1 259.3 L522.6 259.4 L523.1 259 L523.5 259.8 L524 259.3 L524.5 259.5 L525 259.7 L525.5 259.4 L526 259.6 L526.5 260.1 L527 259.5 L527.4 260.3 L527.9 260 L528.4 260 L528.9 260 L529.4 260.4 L529.9 260.2 L530.4 260.3 L530.9 260 L531.3 260.6 L531.8 260.4 L532.3 260.6 L532.8 260.9 L533.3 259.8 L533.8 260.7 L534.3 261.2 L534.8 260.4 L535.2 261.2 L535.7 260.8 L536.2 260.8 L536.7 261.2 L537.2 261.2 L537.7 261.3 L538.2 261.3 L538.7 261.7 L539.1 261.7 L539.6 261.5 L540.1 261.3 L540.6 261.4 L541.1 261.3 L541.6 261.6 L542.1 261.9 L542.6 261.9 L543 262.3 L543.5 262.2 L544 262.2 L544.5 262 L545 262 L545.5 262.3 L546 262.4 L546.5 262.6 L546.9 262.4 L547.4 262.4 L547.9 262.4 L548.4 262.7 L548.9 262.3 L549.4 262.5 L549.9 262.8 L550.4 262.9 L550.8 262.9 L551.3 262.9 L551.8 263 L552.3 263 L552.8 263 L553.3 263 L553.8 263 L554.3 263.3 L554.7 263.3 L555.2 263.4 L555.7 263.5 L556.2 263.2 L556.7 263.6 L557.2 263.3 L557.7 263.7 L558.2 263.6 L558.6 263.6 L559.1 263.8 L559.6 263.8 L560.1 263.9 L560.6 263.9 L561.1 264 L561.6 264 L562.1 263.9 L562.5 264.1 L563 264 L563.5 264.3 L564 264.2 L564.5 264.2 L565 264.3 L565.5 264.2 L566 264.3 L566.4 264.3 L566.9 264.3 L567.4 264.2 L567.9 264.4 L568.4 264.4 L568.9 264.5 L569.4 264.5 L569.8 264.6 L570.3 264.6 L570.8 264.5 L571.3 264.6 L571.8 264.6 L572.3 264.6 L572.8 264.6 L573.3 264.7 L573.7 264.7 L574.2 264.7 L574.7 264.8 L575.2 264.8 L575.7 265 L576.2 264.9 L576.7 264.9 L577.2 265 L577.6 265 L578.1 265.1 L578.6 265.1 L579.1 265.1 L579.6 265.2" fill="none" stroke="#1a1a1a" stroke-width="0.85" stroke-linejoin="round"/>
<text x="446.7" y="259.6" font-size="7.0" text-anchor="middle" font-weight="bold" fill="#111" >0</text>
<text x="457.2" y="196.2" font-size="7.0" text-anchor="middle" font-weight="bold" fill="#111" >1</text>
<text x="469.5" y="217.9" font-size="7.0" text-anchor="middle" font-weight="bold" fill="#111" >2</text>
<text x="477.7" y="222.1" font-size="7.0" text-anchor="middle" font-weight="bold" fill="#111" >3</text>
<text x="485.6" y="174.1" font-size="7.0" text-anchor="middle" font-weight="bold" fill="#111" >4</text>
<text x="492.9" y="181.6" font-size="7.0" text-anchor="middle" font-weight="bold" fill="#111" >5</text>
<text x="498.2" y="217.4" font-size="7.0" text-anchor="middle" font-weight="bold" fill="#111" >6</text>
<text x="504" y="198.6" font-size="7.0" text-anchor="middle" font-weight="bold" fill="#111" >7</text>
<text x="510.3" y="197.1" font-size="7.0" text-anchor="middle" font-weight="bold" fill="#111" >8</text>
<text x="515.4" y="224.4" font-size="7.0" text-anchor="middle" font-weight="bold" fill="#111" >9</text>
<text x="521.9" y="203.3" font-size="7.0" text-anchor="middle" font-weight="bold" fill="#111" >10</text>
<text x="527.4" y="227.2" font-size="7.0" text-anchor="middle" font-weight="bold" fill="#111" >11</text>
<text x="541" y="239.9" font-size="7.0" text-anchor="middle" font-weight="bold" fill="#111" >14</text>
<text x="552.9" y="249.2" font-size="7.0" text-anchor="middle" font-weight="bold" fill="#111" >17</text>
<text x="566.4" y="255.4" font-size="7.0" text-anchor="middle" font-weight="bold" fill="#111" >20</text>
<text x="576.8" y="253.4" font-size="7.0" text-anchor="middle" font-weight="bold" fill="#111" >23</text>
<line x1="500" y1="168.3" x2="510.6" y2="168.3" stroke="#4a5fb4" stroke-width="0.7" />
<text x="512.6" y="169.8" font-size="5.0" text-anchor="start" font-weight="normal" fill="#333" stroke="#333" stroke-width="0.2">MWL-AUC</text>
<line x1="500" y1="174.8" x2="510.6" y2="174.8" stroke="#222" stroke-width="0.7" />
<text x="512.6" y="176.3" font-size="5.0" text-anchor="start" font-weight="normal" fill="#333" stroke="#333" stroke-width="0.2">UV/Vis: from mixed spectrum</text>
</g>
<g transform="translate(0 0) scale(1)">
<rect x="630.3" y="164.9" width="186" height="151.4" fill="#fff" stroke="#666" stroke-width="0.9"/>
<line x1="630.3" y1="316.3" x2="627.2" y2="316.3" stroke="#555" stroke-width="0.9" />
<text x="625.3" y="319.1" font-size="7.8" text-anchor="end" font-weight="normal" fill="#222" stroke="#222" stroke-width="0.22">0.0</text>
<line x1="630.3" y1="304.7" x2="628.5" y2="304.7" stroke="#555" stroke-width="0.8" />
<line x1="630.3" y1="293" x2="627.2" y2="293" stroke="#555" stroke-width="0.9" />
<text x="625.3" y="295.8" font-size="7.8" text-anchor="end" font-weight="normal" fill="#222" stroke="#222" stroke-width="0.22">0.2</text>
<line x1="630.3" y1="281.4" x2="628.5" y2="281.4" stroke="#555" stroke-width="0.8" />
<line x1="630.3" y1="269.7" x2="627.2" y2="269.7" stroke="#555" stroke-width="0.9" />
<text x="625.3" y="272.5" font-size="7.8" text-anchor="end" font-weight="normal" fill="#222" stroke="#222" stroke-width="0.22">0.4</text>
<line x1="630.3" y1="258.1" x2="628.5" y2="258.1" stroke="#555" stroke-width="0.8" />
<line x1="630.3" y1="246.4" x2="627.2" y2="246.4" stroke="#555" stroke-width="0.9" />
<text x="625.3" y="249.2" font-size="7.8" text-anchor="end" font-weight="normal" fill="#222" stroke="#222" stroke-width="0.22">0.6</text>
<line x1="630.3" y1="234.8" x2="628.5" y2="234.8" stroke="#555" stroke-width="0.8" />
<line x1="630.3" y1="223.1" x2="627.2" y2="223.1" stroke="#555" stroke-width="0.9" />
<text x="625.3" y="225.9" font-size="7.8" text-anchor="end" font-weight="normal" fill="#222" stroke="#222" stroke-width="0.22">0.8</text>
<line x1="630.3" y1="211.5" x2="628.5" y2="211.5" stroke="#555" stroke-width="0.8" />
<line x1="630.3" y1="199.8" x2="627.2" y2="199.8" stroke="#555" stroke-width="0.9" />
<text x="625.3" y="202.6" font-size="7.8" text-anchor="end" font-weight="normal" fill="#222" stroke="#222" stroke-width="0.22">1.0</text>
<line x1="630.3" y1="188.2" x2="628.5" y2="188.2" stroke="#555" stroke-width="0.8" />
<line x1="630.3" y1="176.5" x2="627.2" y2="176.5" stroke="#555" stroke-width="0.9" />
<text x="625.3" y="179.3" font-size="7.8" text-anchor="end" font-weight="normal" fill="#222" stroke="#222" stroke-width="0.22">1.2</text>
<line x1="630.3" y1="316.3" x2="630.3" y2="319.4" stroke="#555" stroke-width="0.9" />
<text x="630.3" y="328.3" font-size="7.8" text-anchor="middle" font-weight="normal" fill="#222" stroke="#222" stroke-width="0.22">400</text>
<line x1="645.8" y1="316.3" x2="645.8" y2="318.1" stroke="#555" stroke-width="0.8" />
<line x1="661.3" y1="316.3" x2="661.3" y2="319.4" stroke="#555" stroke-width="0.9" />
<text x="661.3" y="328.3" font-size="7.8" text-anchor="middle" font-weight="normal" fill="#222" stroke="#222" stroke-width="0.22">450</text>
<line x1="676.8" y1="316.3" x2="676.8" y2="318.1" stroke="#555" stroke-width="0.8" />
<line x1="692.3" y1="316.3" x2="692.3" y2="319.4" stroke="#555" stroke-width="0.9" />
<text x="692.3" y="328.3" font-size="7.8" text-anchor="middle" font-weight="normal" fill="#222" stroke="#222" stroke-width="0.22">500</text>
<line x1="707.8" y1="316.3" x2="707.8" y2="318.1" stroke="#555" stroke-width="0.8" />
<line x1="723.3" y1="316.3" x2="723.3" y2="319.4" stroke="#555" stroke-width="0.9" />
<text x="723.3" y="328.3" font-size="7.8" text-anchor="middle" font-weight="normal" fill="#222" stroke="#222" stroke-width="0.22">550</text>
<line x1="738.8" y1="316.3" x2="738.8" y2="318.1" stroke="#555" stroke-width="0.8" />
<line x1="754.3" y1="316.3" x2="754.3" y2="319.4" stroke="#555" stroke-width="0.9" />
<text x="754.3" y="328.3" font-size="7.8" text-anchor="middle" font-weight="normal" fill="#222" stroke="#222" stroke-width="0.22">600</text>
<line x1="769.8" y1="316.3" x2="769.8" y2="318.1" stroke="#555" stroke-width="0.8" />
<line x1="785.3" y1="316.3" x2="785.3" y2="319.4" stroke="#555" stroke-width="0.9" />
<text x="785.3" y="328.3" font-size="7.8" text-anchor="middle" font-weight="normal" fill="#222" stroke="#222" stroke-width="0.22">650</text>
<line x1="800.8" y1="316.3" x2="800.8" y2="318.1" stroke="#555" stroke-width="0.8" />
<line x1="816.3" y1="316.3" x2="816.3" y2="319.4" stroke="#555" stroke-width="0.9" />
<text x="816.3" y="328.3" font-size="7.8" text-anchor="middle" font-weight="normal" fill="#222" stroke="#222" stroke-width="0.22">700</text>
<text x="724.6" y="338.2" font-size="8.6" text-anchor="middle" font-weight="bold" fill="#111" >Wavelength (nm)</text>
<text x="607.4" y="239.4" font-size="8.5" text-anchor="middle" font-weight="bold" fill="#111" transform="rotate(-90 607.4 239.4)" >Cumulative Absorbance (-)</text>
<text x="635.6" y="177" font-size="12.5" text-anchor="start" font-weight="bold" fill="#111" >c</text>
<path d="M630.3 316.3 L630.9 316.3 L631.4 316.3 L632 316.2 L632.5 316.2 L633.1 316.1 L633.6 316.1 L634.2 315.9 L634.8 315.7 L635.3 315.4 L635.9 315 L636.4 314.4 L637 313.6 L637.5 312.5 L638.1 311 L638.7 309.1 L639.2 306.7 L639.8 303.6 L640.3 299.7 L640.9 295.1 L641.4 289.7 L642 283.4 L642.6 276.3 L643.1 268.4 L643.7 259.9 L644.2 251.1 L644.8 242 L645.3 233.1 L645.9 224.6 L646.5 216.9 L647 210.3 L647.6 205.2 L648.1 201.7 L648.7 200 L649.2 200.2 L649.8 202.3 L650.4 206.2 L650.9 211.7 L651.5 218.6 L652 226.5 L652.6 235.1 L653.1 244.1 L653.7 253.1 L654.3 261.9 L654.8 270.3 L655.4 278 L655.9 284.9 L656.5 291 L657 296.2 L657.6 300.7 L658.2 304.3 L658.7 307.3 L659.3 309.6 L659.8 311.4 L660.4 312.8 L660.9 313.8 L661.5 314.6 L662.1 315.1 L662.6 315.5 L663.2 315.8 L663.7 316 L664.3 316.1 L664.8 316.2 L665.4 316.2 L666 316.2 L666.5 316.3 L667.1 316.3 L667.6 316.3 L668.2 316.3 L668.7 316.3" fill="none" stroke="#3cb44a" stroke-width="0.9" stroke-linejoin="round"/>
<line x1="769" y1="179.9" x2="784.4" y2="179.9" stroke="#3cb44a" stroke-width="0.95" />
<text x="786.3" y="182.4" font-size="6.9" text-anchor="start" font-weight="bold" fill="#111" >1.83 nm</text>
<path d="M646.5 199.8 h4.8 M648.9 197.4 v4.8 M647.7 199.6 l2.4 2.2 M650.1 199.6 l-2.4 2.2" stroke="#e8283c" stroke-width="0.7" fill="none"/>
<text x="649.5" y="193.2" font-size="6.9" text-anchor="start" font-weight="normal" fill="#222" transform="rotate(-57 649.5 193.2)" stroke="#222" stroke-width="0.15">430 nm</text>
<path d="M668.1 312.5 L668.9 311.5 L669.6 310.2 L670.4 308.6 L671.1 306.7 L671.9 304.4 L672.6 301.7 L673.4 298.7 L674.2 295.1 L674.9 291.1 L675.7 286.6 L676.4 281.6 L677.2 276.2 L677.9 270.3 L678.7 264.1 L679.4 257.5 L680.2 250.8 L681 244 L681.7 237.2 L682.5 230.6 L683.2 224.3 L684 218.4 L684.7 213.2 L685.5 208.7 L686.2 205 L687 202.2 L687.7 200.5 L688.5 199.8 L689.3 200.3 L690 201.8 L690.8 204.3 L691.5 207.8 L692.3 212.2 L693 217.3 L693.8 223 L694.5 229.2 L695.3 235.8 L696 242.5 L696.8 249.4 L697.6 256.1 L698.3 262.7 L699.1 269 L699.8 274.9 L700.6 280.5 L701.3 285.6 L702.1 290.2 L702.8 294.3 L703.6 297.9 L704.3 301.1 L705.1 303.9 L705.9 306.2 L706.6 308.2 L707.4 309.8 L708.1 311.2 L708.9 312.3 L709.6 313.2 L710.4 313.9 L711.1 314.5 L711.9 314.9 L712.7 315.3 L713.4 315.6 L714.2 315.8 L714.9 315.9 L715.7 316 L716.4 316.1 L717.2 316.2 L717.9 316.2 L718.7 316.2 L719.4 316.3 L720.2 316.3" fill="none" stroke="#2b2b2b" stroke-width="0.9" stroke-linejoin="round"/>
<line x1="769" y1="188.1" x2="784.4" y2="188.1" stroke="#2b2b2b" stroke-width="0.95" />
<text x="786.3" y="190.6" font-size="6.9" text-anchor="start" font-weight="bold" fill="#111" >2.21 nm</text>
<path d="M686.2 199.8 h4.8 M688.6 197.4 v4.8 M687.4 199.6 l2.4 2.2 M689.8 199.6 l-2.4 2.2" stroke="#e8283c" stroke-width="0.7" fill="none"/>
<text x="689.2" y="193.2" font-size="6.9" text-anchor="start" font-weight="normal" fill="#222" transform="rotate(-57 689.2 193.2)" stroke="#222" stroke-width="0.15">494 nm</text>
<path d="M688 295.5 L688.7 292.1 L689.4 288.3 L690.2 284 L690.9 279.5 L691.6 274.6 L692.4 269.3 L693.1 263.8 L693.9 258.1 L694.6 252.2 L695.3 246.2 L696.1 240.3 L696.8 234.4 L697.5 228.6 L698.3 223.2 L699 218.1 L699.7 213.5 L700.5 209.4 L701.2 206 L702 203.3 L702.7 201.3 L703.4 200.2 L704.2 199.8 L704.9 200.5 L705.6 202.2 L706.4 204.9 L707.1 208.6 L707.9 213.1 L708.6 218.3 L709.3 224 L710.1 230.3 L710.8 236.8 L711.5 243.5 L712.3 250.3 L713 257 L713.7 263.5 L714.5 269.7 L715.2 275.6 L716 281 L716.7 286 L717.4 290.5 L718.2 294.6 L718.9 298.2 L719.6 301.3 L720.4 304 L721.1 306.3 L721.9 308.3 L722.6 309.9 L723.3 311.2 L724.1 312.3 L724.8 313.2 L725.5 313.9 L726.3 314.5 L727 314.9 L727.7 315.3 L728.5 315.5 L729.2 315.7 L730 315.9 L730.7 316 L731.4 316.1 L732.2 316.2 L732.9 316.2 L733.6 316.2 L734.4 316.3 L735.1 316.3 L735.9 316.3 L736.6 316.3 L737.3 316.3 L738.1 316.3 L738.8 316.3" fill="none" stroke="#e8203a" stroke-width="0.9" stroke-linejoin="round"/>
<line x1="769" y1="196.3" x2="784.4" y2="196.3" stroke="#e8203a" stroke-width="0.95" />
<text x="786.3" y="198.8" font-size="6.9" text-anchor="start" font-weight="bold" fill="#111" >2.57 nm</text>
<path d="M701.7 199.8 h4.8 M704.1 197.4 v4.8 M702.9 199.6 l2.4 2.2 M705.3 199.6 l-2.4 2.2" stroke="#e8283c" stroke-width="0.7" fill="none"/>
<text x="704.7" y="193.2" font-size="6.9" text-anchor="start" font-weight="normal" fill="#222" transform="rotate(-57 704.7 193.2)" stroke="#222" stroke-width="0.15">519 nm</text>
<path d="M702.8 271.9 L703.6 267.7 L704.3 263.3 L705.1 258.8 L705.8 254.2 L706.6 249.5 L707.3 244.8 L708.1 240.1 L708.8 235.4 L709.6 230.9 L710.3 226.5 L711 222.2 L711.8 218.3 L712.5 214.6 L713.3 211.2 L714 208.2 L714.8 205.6 L715.5 203.5 L716.3 201.8 L717 200.7 L717.8 200 L718.5 199.9 L719.2 200.6 L720 202.3 L720.7 205 L721.5 208.6 L722.2 213 L723 218.1 L723.7 223.8 L724.5 229.9 L725.2 236.3 L726 242.8 L726.7 249.5 L727.5 256.1 L728.2 262.5 L728.9 268.6 L729.7 274.4 L730.4 279.8 L731.2 284.8 L731.9 289.4 L732.7 293.5 L733.4 297.1 L734.2 300.3 L734.9 303.1 L735.7 305.5 L736.4 307.6 L737.1 309.3 L737.9 310.7 L738.6 311.9 L739.4 312.8 L740.1 313.6 L740.9 314.2 L741.6 314.7 L742.4 315.1 L743.1 315.4 L743.9 315.6 L744.6 315.8 L745.4 315.9 L746.1 316 L746.8 316.1 L747.6 316.2 L748.3 316.2 L749.1 316.2 L749.8 316.3 L750.6 316.3 L751.3 316.3 L752.1 316.3 L752.8 316.3 L753.6 316.3 L754.3 316.3" fill="none" stroke="#8ab832" stroke-width="0.9" stroke-linejoin="round"/>
<line x1="769" y1="204.6" x2="784.4" y2="204.6" stroke="#8ab832" stroke-width="0.95" />
<text x="786.3" y="207.1" font-size="6.9" text-anchor="start" font-weight="bold" fill="#111" >2.81 nm</text>
<path d="M715.9 199.8 h4.8 M718.3 197.4 v4.8 M717.1 199.6 l2.4 2.2 M719.5 199.6 l-2.4 2.2" stroke="#e8283c" stroke-width="0.7" fill="none"/>
<text x="718.9" y="193.2" font-size="6.9" text-anchor="start" font-weight="normal" fill="#222" transform="rotate(-57 718.9 193.2)" stroke="#222" stroke-width="0.15">542 nm</text>
<path d="M711.5 257.5 L712.5 255.8 L713.5 254.1 L714.5 252.4 L715.4 250.6 L716.4 248.9 L717.4 247 L718.4 245.3 L719.4 243.5 L720.3 241.7 L721.3 239.8 L722.3 237.8 L723.3 235.4 L724.3 232.7 L725.2 229.4 L726.2 225.8 L727.2 222.1 L728.2 218.4 L729.1 214.8 L730.1 210.7 L731.1 207 L732.1 204.3 L733.1 202.2 L734 200.6 L735 199.8 L736 200.7 L737 203 L738 206.1 L738.9 210.5 L739.9 217.4 L740.9 225.1 L741.9 231.9 L742.9 238.7 L743.8 245.5 L744.8 252.3 L745.8 259.4 L746.8 267.5 L747.8 276.4 L748.7 285.3 L749.7 293.5 L750.7 300.1 L751.7 304.3 L752.7 306.5 L753.6 308.4 L754.6 310 L755.6 311.4 L756.6 312.5 L757.6 313.3 L758.5 313.9 L759.5 314.4 L760.5 314.8 L761.5 315.2 L762.4 315.6 L763.4 315.8 L764.4 316.1 L765.4 316.2 L766.4 316.3 L767.3 316.3 L768.3 316.3 L769.3 316.3 L770.3 316.3 L771.3 316.3 L772.2 316.3 L773.2 316.3 L774.2 316.3 L775.2 316.3 L776.2 316.3 L777.1 316.3 L778.1 316.3 L779.1 316.3" fill="none" stroke="#2a3a9a" stroke-width="0.9" stroke-linejoin="round"/>
<line x1="769" y1="212.8" x2="784.4" y2="212.8" stroke="#2a3a9a" stroke-width="0.95" />
<text x="786.3" y="215.3" font-size="6.9" text-anchor="start" font-weight="bold" fill="#111" >3.06 nm</text>
<path d="M732.7 199.8 h4.8 M735.1 197.4 v4.8 M733.9 199.6 l2.4 2.2 M736.3 199.6 l-2.4 2.2" stroke="#e8283c" stroke-width="0.7" fill="none"/>
<text x="735.7" y="193.2" font-size="6.9" text-anchor="start" font-weight="normal" fill="#222" transform="rotate(-57 735.7 193.2)" stroke="#222" stroke-width="0.15">569 nm</text>
<path d="M733.8 244.6 L734.6 240.4 L735.3 236.3 L736.1 232.2 L736.8 228.3 L737.6 224.4 L738.3 220.8 L739.1 217.3 L739.8 214.1 L740.6 211.1 L741.3 208.5 L742 206.1 L742.8 204.1 L743.5 202.5 L744.3 201.2 L745 200.4 L745.8 199.9 L746.5 199.9 L747.3 200.6 L748 202 L748.8 204.1 L749.5 207 L750.2 210.4 L751 214.5 L751.7 219 L752.5 223.9 L753.2 229.2 L754 234.7 L754.7 240.3 L755.5 246.1 L756.2 251.8 L757 257.4 L757.7 262.9 L758.5 268.3 L759.2 273.3 L759.9 278.1 L760.7 282.6 L761.4 286.7 L762.2 290.5 L762.9 294 L763.7 297.1 L764.4 299.9 L765.2 302.4 L765.9 304.6 L766.7 306.5 L767.4 308.1 L768.1 309.6 L768.9 310.8 L769.6 311.8 L770.4 312.6 L771.1 313.4 L771.9 313.9 L772.6 314.4 L773.4 314.8 L774.1 315.1 L774.9 315.4 L775.6 315.6 L776.4 315.8 L777.1 315.9 L777.8 316 L778.6 316.1 L779.3 316.1 L780.1 316.2 L780.8 316.2 L781.6 316.2 L782.3 316.2 L783.1 316.3 L783.8 316.3 L784.6 316.3 L785.3 316.3" fill="none" stroke="#8fd8a8" stroke-width="0.9" stroke-linejoin="round"/>
<line x1="769" y1="221" x2="784.4" y2="221" stroke="#8fd8a8" stroke-width="0.95" />
<text x="786.3" y="223.5" font-size="6.9" text-anchor="start" font-weight="bold" fill="#111" >3.26 nm</text>
<path d="M743.8 199.8 h4.8 M746.2 197.4 v4.8 M745 199.6 l2.4 2.2 M747.4 199.6 l-2.4 2.2" stroke="#e8283c" stroke-width="0.7" fill="none"/>
<text x="746.8" y="193.2" font-size="6.9" text-anchor="start" font-weight="normal" fill="#222" transform="rotate(-57 746.8 193.2)" stroke="#222" stroke-width="0.15">587 nm</text>
<path d="M748.1 208 L748.6 207.5 L749.2 206.9 L749.7 206.4 L750.3 205.9 L750.8 205.4 L751.3 204.9 L751.9 204.4 L752.4 203.9 L753 203.4 L753.5 202.9 L754 202.3 L754.6 201.7 L755.1 201.1 L755.6 200.7 L756.2 200.3 L756.7 200 L757.3 199.8 L757.8 199.9 L758.3 200.2 L758.9 200.7 L759.4 201.3 L760 202.1 L760.5 202.9 L761 203.8 L761.6 204.8 L762.1 205.8 L762.7 207.2 L763.2 208.8 L763.7 210.6 L764.3 212.6 L764.8 214.9 L765.4 217.2 L765.9 219.7 L766.4 222.3 L767 224.9 L767.5 227.5 L768 230.1 L768.6 232.6 L769.1 235.1 L769.7 237.6 L770.2 240.1 L770.7 242.6 L771.3 245.2 L771.8 247.9 L772.4 250.5 L772.9 253.3 L773.4 256 L774 258.8 L774.5 261.5 L775.1 264.3 L775.6 267.1 L776.1 269.9 L776.7 272.7 L777.2 275.4 L777.8 278.2 L778.3 281.1 L778.8 284 L779.4 287 L779.9 289.9 L780.4 292.8 L781 295.6 L781.5 298.2 L782.1 300.6 L782.6 302.8 L783.1 304.9 L783.7 306.9 L784.2 308.8 L784.8 310.6 L785.3 312.2" fill="none" stroke="#6a3f9a" stroke-width="0.9" stroke-linejoin="round"/>
<line x1="769" y1="229.2" x2="784.4" y2="229.2" stroke="#6a3f9a" stroke-width="0.95" />
<text x="786.3" y="231.7" font-size="6.9" text-anchor="start" font-weight="bold" fill="#111" >3.48 nm</text>
<path d="M755 199.8 h4.8 M757.4 197.4 v4.8 M756.2 199.6 l2.4 2.2 M758.6 199.6 l-2.4 2.2" stroke="#e8283c" stroke-width="0.7" fill="none"/>
<text x="758" y="193.2" font-size="6.9" text-anchor="start" font-weight="normal" fill="#222" transform="rotate(-57 758 193.2)" stroke="#222" stroke-width="0.15">605 nm</text>
</g>
<g>
<path d="M867.9 165 V189.6 A3.6 1.4 0 0 0 875.1 189.6 V165" fill="#fff" stroke="#8a8a8a" stroke-width="0.6"/><path d="M868.2 175.1 V189.5 A3.3 1.5 0 0 0 874.8 189.5 V175.1 Z" fill="#e8202c"/><ellipse cx="871.5" cy="175.1" rx="3.3" ry="1.3" fill="#e8202c" stroke="rgba(0,0,0,0.25)" stroke-width="0.4"/><rect x="873.5" y="175.1" width="1.2" height="14.2" fill="rgba(0,0,0,0.18)"/><ellipse cx="871.5" cy="165.1" rx="3.6" ry="1.3" fill="#fff" stroke="#8a8a8a" stroke-width="0.6"/>
<text x="871.2" y="200.9" font-size="8.4" text-anchor="middle" font-weight="normal" fill="#e85868" >1</text>
<path d="M878.2 178.4 h5 M880.8 175.9 v5" stroke="#444" stroke-width="0.8" fill="none"/>
<path d="M885.8 165.2 V189.8 A3.6 1.4 0 0 0 893 189.8 V165.2" fill="#fff" stroke="#8a8a8a" stroke-width="0.6"/><path d="M886.1 175.3 V189.7 A3.3 1.5 0 0 0 892.7 189.7 V175.3 Z" fill="#6f3f98"/><ellipse cx="889.4" cy="175.3" rx="3.3" ry="1.3" fill="#6f3f98" stroke="rgba(0,0,0,0.25)" stroke-width="0.4"/><rect x="891.4" y="175.3" width="1.2" height="14.2" fill="rgba(0,0,0,0.18)"/><ellipse cx="889.4" cy="165.3" rx="3.6" ry="1.3" fill="#fff" stroke="#8a8a8a" stroke-width="0.6"/>
<text x="889.1" y="201" font-size="8.4" text-anchor="middle" font-weight="normal" fill="#9a70b8" >2</text>
<path d="M897 178.5 h5 M899.5 176 v5" stroke="#444" stroke-width="0.8" fill="none"/>
<path d="M905.4 165.4 V190 A3.6 1.4 0 0 0 912.6 190 V165.4" fill="#fff" stroke="#8a8a8a" stroke-width="0.6"/><path d="M905.7 175.5 V189.9 A3.3 1.5 0 0 0 912.3 189.9 V175.5 Z" fill="#60b840"/><ellipse cx="909" cy="175.5" rx="3.3" ry="1.3" fill="#60b840" stroke="rgba(0,0,0,0.25)" stroke-width="0.4"/><rect x="911" y="175.5" width="1.2" height="14.2" fill="rgba(0,0,0,0.18)"/><ellipse cx="909" cy="165.5" rx="3.6" ry="1.3" fill="#fff" stroke="#8a8a8a" stroke-width="0.6"/>
<text x="908.7" y="201.1" font-size="8.4" text-anchor="middle" font-weight="normal" fill="#80c870" >3</text>
<path d="M915.6 178.6 h5 M918.1 176.1 v5" stroke="#444" stroke-width="0.8" fill="none"/>
<path d="M923.1 165.5 V190.1 A3.6 1.4 0 0 0 930.3 190.1 V165.5" fill="#fff" stroke="#8a8a8a" stroke-width="0.6"/><path d="M923.4 175.6 V190 A3.3 1.5 0 0 0 930 190 V175.6 Z" fill="#2c4a9c"/><ellipse cx="926.7" cy="175.6" rx="3.3" ry="1.3" fill="#2c4a9c" stroke="rgba(0,0,0,0.25)" stroke-width="0.4"/><rect x="928.7" y="175.6" width="1.2" height="14.2" fill="rgba(0,0,0,0.18)"/><ellipse cx="926.7" cy="165.6" rx="3.6" ry="1.3" fill="#fff" stroke="#8a8a8a" stroke-width="0.6"/>
<text x="926.4" y="201.3" font-size="8.4" text-anchor="middle" font-weight="normal" fill="#3a4a9a" >4</text>
<path d="M933.9 178.7 h5 M936.4 176.2 v5" stroke="#444" stroke-width="0.8" fill="none"/>
<path d="M941.9 165.7 V190.3 A3.6 1.4 0 0 0 949.1 190.3 V165.7" fill="#fff" stroke="#8a8a8a" stroke-width="0.6"/><path d="M942.2 175.8 V190.2 A3.3 1.5 0 0 0 948.8 190.2 V175.8 Z" fill="#c850a4"/><ellipse cx="945.5" cy="175.8" rx="3.3" ry="1.3" fill="#c850a4" stroke="rgba(0,0,0,0.25)" stroke-width="0.4"/><rect x="947.5" y="175.8" width="1.2" height="14.2" fill="rgba(0,0,0,0.18)"/><ellipse cx="945.5" cy="165.8" rx="3.6" ry="1.3" fill="#fff" stroke="#8a8a8a" stroke-width="0.6"/>
<text x="945.2" y="201.4" font-size="8.4" text-anchor="middle" font-weight="normal" fill="#d870b8" >5</text>
<path d="M952.2 178.8 h5 M954.8 176.3 v5" stroke="#444" stroke-width="0.8" fill="none"/>
<path d="M959.8 165.9 V190.5 A3.6 1.4 0 0 0 967 190.5 V165.9" fill="#fff" stroke="#8a8a8a" stroke-width="0.6"/><path d="M960.1 176 V190.4 A3.3 1.5 0 0 0 966.7 190.4 V176 Z" fill="#989838"/><ellipse cx="963.4" cy="176" rx="3.3" ry="1.3" fill="#989838" stroke="rgba(0,0,0,0.25)" stroke-width="0.4"/><rect x="965.4" y="176" width="1.2" height="14.2" fill="rgba(0,0,0,0.18)"/><ellipse cx="963.4" cy="166" rx="3.6" ry="1.3" fill="#fff" stroke="#8a8a8a" stroke-width="0.6"/>
<text x="963.1" y="201.5" font-size="8.4" text-anchor="middle" font-weight="normal" fill="#b0b068" >6</text>
<path d="M971.1 178.9 h5 M973.6 176.4 v5" stroke="#444" stroke-width="0.8" fill="none"/>
<path d="M979.7 166.1 V190.7 A3.6 1.4 0 0 0 986.9 190.7 V166.1" fill="#fff" stroke="#8a8a8a" stroke-width="0.6"/><path d="M980 176.2 V190.6 A3.3 1.5 0 0 0 986.6 190.6 V176.2 Z" fill="#0f807c"/><ellipse cx="983.3" cy="176.2" rx="3.3" ry="1.3" fill="#0f807c" stroke="rgba(0,0,0,0.25)" stroke-width="0.4"/><rect x="985.3" y="176.2" width="1.2" height="14.2" fill="rgba(0,0,0,0.18)"/><ellipse cx="983.3" cy="166.2" rx="3.6" ry="1.3" fill="#fff" stroke="#8a8a8a" stroke-width="0.6"/>
<text x="983" y="201.6" font-size="8.4" text-anchor="middle" font-weight="normal" fill="#60a8a8" >7</text>
<path d="M989.9 179 h5 M992.4 176.5 v5" stroke="#444" stroke-width="0.8" fill="none"/>
<path d="M997.4 166.3 V190.9 A3.6 1.4 0 0 0 1004.6 190.9 V166.3" fill="#fff" stroke="#8a8a8a" stroke-width="0.6"/><path d="M997.7 176.4 V190.8 A3.3 1.5 0 0 0 1004.3 190.8 V176.4 Z" fill="#f0903c"/><ellipse cx="1001" cy="176.4" rx="3.3" ry="1.3" fill="#f0903c" stroke="rgba(0,0,0,0.25)" stroke-width="0.4"/><rect x="1003" y="176.4" width="1.2" height="14.2" fill="rgba(0,0,0,0.18)"/><ellipse cx="1001" cy="166.4" rx="3.6" ry="1.3" fill="#fff" stroke="#8a8a8a" stroke-width="0.6"/>
<text x="1000.7" y="201.7" font-size="8.4" text-anchor="middle" font-weight="normal" fill="#f0a868" >8</text>
<line x1="1020" y1="178.2" x2="1113.5" y2="178.2" stroke="#222" stroke-width="0.9" />
<path d="M1108.4 175.4 L1114.8 178.2 L1108.4 181 L1110 178.2 Z" fill="#222"/>
<path d="M1159.1 164.2 V187.1 A3.5 1.4 0 0 0 1166.1 187.1 V164.2" fill="#fff" stroke="#8a8a8a" stroke-width="0.6"/><path d="M1159.4 172.5 V187 A3.2 1.5 0 0 0 1165.8 187 V172.5 Z" fill="#0c0c0c"/><ellipse cx="1162.6" cy="172.5" rx="3.2" ry="1.3" fill="#0c0c0c" stroke="rgba(0,0,0,0.25)" stroke-width="0.4"/><rect x="1164.5" y="172.5" width="1.2" height="14.3" fill="rgba(0,0,0,0.18)"/><ellipse cx="1162.6" cy="164.3" rx="3.5" ry="1.3" fill="#fff" stroke="#8a8a8a" stroke-width="0.6"/>
<text x="1163.4" y="197.8" font-size="7.8" text-anchor="middle" font-weight="bold" fill="#111" >Mixture</text>
<rect x="858.4" y="213.3" width="151.6" height="114" fill="#fff" stroke="#999" stroke-width="0.9"/><line x1="858.4" y1="327.3" x2="861" y2="327.3" stroke="#555" stroke-width="0.8" /><line x1="858.4" y1="318.5" x2="859.9" y2="318.5" stroke="#555" stroke-width="0.7" /><text x="855.4" y="330.3" font-size="8.2" text-anchor="end" font-weight="normal" fill="#222" stroke="#222" stroke-width="0.25">0.0</text><line x1="858.4" y1="309.7" x2="861" y2="309.7" stroke="#555" stroke-width="0.8" /><line x1="858.4" y1="300.9" x2="859.9" y2="300.9" stroke="#555" stroke-width="0.7" /><text x="855.4" y="312.7" font-size="8.2" text-anchor="end" font-weight="normal" fill="#222" stroke="#222" stroke-width="0.25">0.2</text><line x1="858.4" y1="292.1" x2="861" y2="292.1" stroke="#555" stroke-width="0.8" /><line x1="858.4" y1="283.4" x2="859.9" y2="283.4" stroke="#555" stroke-width="0.7" /><text x="855.4" y="295.1" font-size="8.2" text-anchor="end" font-weight="normal" fill="#222" stroke="#222" stroke-width="0.25">0.4</text><line x1="858.4" y1="274.6" x2="861" y2="274.6" stroke="#555" stroke-width="0.8" /><line x1="858.4" y1="265.8" x2="859.9" y2="265.8" stroke="#555" stroke-width="0.7" /><text x="855.4" y="277.6" font-size="8.2" text-anchor="end" font-weight="normal" fill="#222" stroke="#222" stroke-width="0.25">0.6</text><line x1="858.4" y1="257" x2="861" y2="257" stroke="#555" stroke-width="0.8" /><line x1="858.4" y1="248.2" x2="859.9" y2="248.2" stroke="#555" stroke-width="0.7" /><text x="855.4" y="260" font-size="8.2" text-anchor="end" font-weight="normal" fill="#222" stroke="#222" stroke-width="0.25">0.8</text><line x1="858.4" y1="239.4" x2="861" y2="239.4" stroke="#555" stroke-width="0.8" /><line x1="858.4" y1="230.6" x2="859.9" y2="230.6" stroke="#555" stroke-width="0.7" /><text x="855.4" y="242.4" font-size="8.2" text-anchor="end" font-weight="normal" fill="#222" stroke="#222" stroke-width="0.25">1.0</text><line x1="858.4" y1="221.8" x2="861" y2="221.8" stroke="#555" stroke-width="0.8" /><text x="855.4" y="224.8" font-size="8.2" text-anchor="end" font-weight="normal" fill="#222" stroke="#222" stroke-width="0.25">1.2</text><line x1="858.4" y1="327.3" x2="858.4" y2="324.7" stroke="#555" stroke-width="0.8" /><line x1="871.9" y1="327.3" x2="871.9" y2="325.8" stroke="#555" stroke-width="0.7" /><text x="858.4" y="339.3" font-size="8.2" text-anchor="middle" font-weight="normal" fill="#222" stroke="#222" stroke-width="0.25">400</text><line x1="885.5" y1="327.3" x2="885.5" y2="324.7" stroke="#555" stroke-width="0.8" /><line x1="899" y1="327.3" x2="899" y2="325.8" stroke="#555" stroke-width="0.7" /><text x="885.5" y="339.3" font-size="8.2" text-anchor="middle" font-weight="normal" fill="#222" stroke="#222" stroke-width="0.25">450</text><line x1="912.5" y1="327.3" x2="912.5" y2="324.7" stroke="#555" stroke-width="0.8" /><line x1="926.1" y1="327.3" x2="926.1" y2="325.8" stroke="#555" stroke-width="0.7" /><text x="912.5" y="339.3" font-size="8.2" text-anchor="middle" font-weight="normal" fill="#222" stroke="#222" stroke-width="0.25">500</text><line x1="939.6" y1="327.3" x2="939.6" y2="324.7" stroke="#555" stroke-width="0.8" /><line x1="953.1" y1="327.3" x2="953.1" y2="325.8" stroke="#555" stroke-width="0.7" /><text x="939.6" y="339.3" font-size="8.2" text-anchor="middle" font-weight="normal" fill="#222" stroke="#222" stroke-width="0.25">550</text><line x1="966.7" y1="327.3" x2="966.7" y2="324.7" stroke="#555" stroke-width="0.8" /><line x1="980.2" y1="327.3" x2="980.2" y2="325.8" stroke="#555" stroke-width="0.7" /><text x="966.7" y="339.3" font-size="8.2" text-anchor="middle" font-weight="normal" fill="#222" stroke="#222" stroke-width="0.25">600</text><line x1="993.8" y1="327.3" x2="993.8" y2="324.7" stroke="#555" stroke-width="0.8" /><line x1="1007.3" y1="327.3" x2="1007.3" y2="325.8" stroke="#555" stroke-width="0.7" /><text x="993.8" y="339.3" font-size="8.2" text-anchor="middle" font-weight="normal" fill="#222" stroke="#222" stroke-width="0.25">650</text><text x="925.4" y="352.1" font-size="10.1" text-anchor="middle" font-weight="bold" fill="#111" >Wavelength (nm)</text><text x="838.9" y="272.9" font-size="10.0" text-anchor="middle" font-weight="bold" fill="#111" transform="rotate(-90 838.9 272.9)" >Normalized Absorption (-)</text><text x="996.8" y="231.3" font-size="17" text-anchor="middle" font-weight="bold" fill="#111" >a</text>
<clipPath id="aclip"><rect x="858.4" y="213.3" width="151.6" height="115"/></clipPath><g clip-path="url(#aclip)">
<path d="M858.4 274.6 L859.4 275.7 L860.3 276.7 L861.3 277.5 L862.2 278.2 L863.2 278.7 L864.1 279.2 L865.1 279.6 L866 279.8 L867 279.8 L867.9 279.3 L868.9 278.5 L869.8 277.4 L870.8 276.2 L871.7 274.8 L872.7 273.3 L873.7 271.1 L874.6 268.6 L875.6 265.7 L876.5 262.6 L877.5 259.4 L878.4 256.4 L879.4 253.5 L880.3 251 L881.3 248.6 L882.2 246.2 L883.2 244.1 L884.1 242.4 L885.1 240.8 L886 239.6 L887 239.5 L888 240.6 L888.9 242.2 L889.9 244.4 L890.8 247.8 L891.8 251.9 L892.7 256.2 L893.7 260.7 L894.6 265.7 L895.6 270.8 L896.5 275.8 L897.5 281 L898.4 286.3 L899.4 291.5 L900.3 296.4 L901.3 300.6 L902.3 304.5 L903.2 308.3 L904.2 311.8 L905.1 314.8 L906.1 317.4 L907 319.4 L908 321 L908.9 322.4 L909.9 323.6 L910.8 324.6 L911.8 325.4 L912.7 326.2 L913.7 326.8 L914.7 327.2 L915.6 327.3 L916.6 327.3 L917.5 327.3 L918.5 327.3 L919.4 327.3 L920.4 327.3 L921.3 327.3 L922.3 327.3 L923.2 327.3 L924.2 327.3 L925.1 327.3 L926.1 327.3 L927 327.3 L928 327.3 L929 327.3 L929.9 327.3 L930.9 327.3 L931.8 327.3 L932.8 327.3 L933.7 327.3 L934.7 327.3 L935.6 327.3 L936.6 327.3 L937.5 327.3 L938.5 327.3 L939.4 327.3 L940.4 327.3 L941.3 327.3 L942.3 327.3 L943.3 327.3 L944.2 327.3 L945.2 327.3 L946.1 327.3 L947.1 327.3 L948 327.3 L949 327.3 L949.9 327.3 L950.9 327.3 L951.8 327.3 L952.8 327.3 L953.7 327.3 L954.7 327.3 L955.6 327.3 L956.6 327.3 L957.6 327.3 L958.5 327.3 L959.5 327.3 L960.4 327.3 L961.4 327.3 L962.3 327.3 L963.3 327.3 L964.2 327.3 L965.2 327.3 L966.1 327.3 L967.1 327.3 L968 327.3 L969 327.3 L969.9 327.3 L970.9 327.3 L971.9 327.3 L972.8 327.3 L973.8 327.3 L974.7 327.3 L975.7 327.3 L976.6 327.3 L977.6 327.3 L978.5 327.3 L979.5 327.3 L980.4 327.3 L981.4 327.3 L982.3 327.3 L983.3 327.3 L984.2 327.3 L985.2 327.3 L986.2 327.3 L987.1 327.3 L988.1 327.3 L989 327.3 L990 327.3 L990.9 327.3 L991.9 327.3 L992.8 327.3 L993.8 327.3 L994.7 327.3 L995.7 327.3 L996.6 327.3 L997.6 327.3 L998.6 327.3 L999.5 327.3 L1000.5 327.3 L1001.4 327.3 L1002.4 327.3 L1003.3 327.3 L1004.3 327.3 L1005.2 327.3 L1006.2 327.3 L1007.1 327.3 L1008.1 327.3 L1009 327.3 L1010 327.3" fill="none" stroke="#e8203a" stroke-width="1.25" stroke-linejoin="round"/>
<path d="M858.4 268.4 L859.4 270.6 L860.3 272.7 L861.3 274.6 L862.2 276.4 L863.2 278.1 L864.1 279.6 L865.1 280.9 L866 282.2 L867 283.6 L867.9 284.8 L868.9 285.9 L869.8 286.8 L870.8 287.5 L871.7 287.7 L872.7 287.6 L873.7 287.2 L874.6 286.4 L875.6 285.5 L876.5 284.4 L877.5 283.2 L878.4 281.3 L879.4 278.5 L880.3 275 L881.3 271.2 L882.2 267.1 L883.2 263.2 L884.1 259.6 L885.1 256.2 L886 252.6 L887 249.1 L888 245.9 L888.9 243.5 L889.9 242 L890.8 240.6 L891.8 239.7 L892.7 239.4 L893.7 240.5 L894.6 242.4 L895.6 244.8 L896.5 248.2 L897.5 252.4 L898.4 257 L899.4 261.4 L900.3 266 L901.3 270.7 L902.3 275.6 L903.2 280.4 L904.2 285.1 L905.1 289.4 L906.1 293.9 L907 298.2 L908 302.5 L908.9 306.4 L909.9 309.9 L910.8 312.9 L911.8 315.6 L912.7 318.1 L913.7 320.3 L914.7 321.9 L915.6 323.3 L916.6 324.5 L917.5 325.5 L918.5 326.2 L919.4 326.5 L920.4 326.8 L921.3 327.1 L922.3 327.2 L923.2 327.3 L924.2 327.3 L925.1 327.3 L926.1 327.3 L927 327.3 L928 327.3 L929 327.3 L929.9 327.3 L930.9 327.3 L931.8 327.3 L932.8 327.3 L933.7 327.3 L934.7 327.3 L935.6 327.3 L936.6 327.3 L937.5 327.3 L938.5 327.3 L939.4 327.3 L940.4 327.3 L941.3 327.3 L942.3 327.3 L943.3 327.3 L944.2 327.3 L945.2 327.3 L946.1 327.3 L947.1 327.3 L948 327.3 L949 327.3 L949.9 327.3 L950.9 327.3 L951.8 327.3 L952.8 327.3 L953.7 327.3 L954.7 327.3 L955.6 327.3 L956.6 327.3 L957.6 327.3 L958.5 327.3 L959.5 327.3 L960.4 327.3 L961.4 327.3 L962.3 327.3 L963.3 327.3 L964.2 327.3 L965.2 327.3 L966.1 327.3 L967.1 327.3 L968 327.3 L969 327.3 L969.9 327.3 L970.9 327.3 L971.9 327.3 L972.8 327.3 L973.8 327.3 L974.7 327.3 L975.7 327.3 L976.6 327.3 L977.6 327.3 L978.5 327.3 L979.5 327.3 L980.4 327.3 L981.4 327.3 L982.3 327.3 L983.3 327.3 L984.2 327.3 L985.2 327.3 L986.2 327.3 L987.1 327.3 L988.1 327.3 L989 327.3 L990 327.3 L990.9 327.3 L991.9 327.3 L992.8 327.3 L993.8 327.3 L994.7 327.3 L995.7 327.3 L996.6 327.3 L997.6 327.3 L998.6 327.3 L999.5 327.3 L1000.5 327.3 L1001.4 327.3 L1002.4 327.3 L1003.3 327.3 L1004.3 327.3 L1005.2 327.3 L1006.2 327.3 L1007.1 327.3 L1008.1 327.3 L1009 327.3 L1010 327.3" fill="none" stroke="#6a3fa0" stroke-width="1.25" stroke-linejoin="round"/>
<path d="M858.4 225.3 L859.4 228 L860.3 230.6 L861.3 233.2 L862.2 235.7 L863.2 238.2 L864.1 240.6 L865.1 242.9 L866 245.3 L867 247.5 L867.9 249.8 L868.9 252 L869.8 254.2 L870.8 256.4 L871.7 258.4 L872.7 260.4 L873.7 262.2 L874.6 264 L875.6 265.6 L876.5 267.3 L877.5 268.9 L878.4 270.4 L879.4 271.9 L880.3 273.1 L881.3 274.2 L882.2 275.1 L883.2 275.7 L884.1 276.2 L885.1 276.7 L886 277.2 L887 277.5 L888 277.8 L888.9 278 L889.9 278.1 L890.8 277.8 L891.8 277.2 L892.7 276.2 L893.7 275 L894.6 273.6 L895.6 272.1 L896.5 270.7 L897.5 268.8 L898.4 266.5 L899.4 263.9 L900.3 261.1 L901.3 258.3 L902.3 255.5 L903.2 252.9 L904.2 250.4 L905.1 247.7 L906.1 245.1 L907 243 L908 241.7 L908.9 240.6 L909.9 239.8 L910.8 239.4 L911.8 239.9 L912.7 241.1 L913.7 242.9 L914.7 244.9 L915.6 247.6 L916.6 251.1 L917.5 255.1 L918.5 259.5 L919.4 264.7 L920.4 271.1 L921.3 278 L922.3 284.5 L923.2 290 L924.2 295.3 L925.1 300.5 L926.1 305.3 L927 309.7 L928 313.4 L929 316.3 L929.9 318.8 L930.9 321 L931.8 322.7 L932.8 324 L933.7 325.1 L934.7 326.1 L935.6 326.9 L936.6 327.3 L937.5 327.3 L938.5 327.3 L939.4 327.3 L940.4 327.3 L941.3 327.3 L942.3 327.3 L943.3 327.3 L944.2 327.3 L945.2 327.3 L946.1 327.3 L947.1 327.3 L948 327.3 L949 327.3 L949.9 327.3 L950.9 327.3 L951.8 327.3 L952.8 327.3 L953.7 327.3 L954.7 327.3 L955.6 327.3 L956.6 327.3 L957.6 327.3 L958.5 327.3 L959.5 327.3 L960.4 327.3 L961.4 327.3 L962.3 327.3 L963.3 327.3 L964.2 327.3 L965.2 327.3 L966.1 327.3 L967.1 327.3 L968 327.3 L969 327.3 L969.9 327.3 L970.9 327.3 L971.9 327.3 L972.8 327.3 L973.8 327.3 L974.7 327.3 L975.7 327.3 L976.6 327.3 L977.6 327.3 L978.5 327.3 L979.5 327.3 L980.4 327.3 L981.4 327.3 L982.3 327.3 L983.3 327.3 L984.2 327.3 L985.2 327.3 L986.2 327.3 L987.1 327.3 L988.1 327.3 L989 327.3 L990 327.3 L990.9 327.3 L991.9 327.3 L992.8 327.3 L993.8 327.3 L994.7 327.3 L995.7 327.3 L996.6 327.3 L997.6 327.3 L998.6 327.3 L999.5 327.3 L1000.5 327.3 L1001.4 327.3 L1002.4 327.3 L1003.3 327.3 L1004.3 327.3 L1005.2 327.3 L1006.2 327.3 L1007.1 327.3 L1008.1 327.3 L1009 327.3 L1010 327.3" fill="none" stroke="#58c038" stroke-width="1.25" stroke-linejoin="round"/>
<path d="M866.5 202.5 L867.4 205.6 L868.3 208.7 L869.2 211.5 L870.1 214 L871 216.4 L871.9 218.8 L872.8 221 L873.7 223.1 L874.6 225.1 L875.5 227.1 L876.4 228.9 L877.3 230.6 L878.3 232.3 L879.2 233.9 L880.1 235.4 L881 236.9 L881.9 238.3 L882.8 239.7 L883.7 241 L884.6 242.2 L885.5 243.4 L886.4 244.5 L887.3 245.5 L888.2 246.5 L889.1 247.5 L890 248.5 L890.9 249.4 L891.8 250.2 L892.7 251 L893.6 251.7 L894.5 252.2 L895.4 252.7 L896.3 253.1 L897.2 253.4 L898.1 253.8 L899 254.1 L899.9 254.4 L900.8 254.6 L901.7 254.7 L902.6 254.8 L903.5 254.7 L904.4 254.5 L905.3 254.2 L906.2 253.8 L907.1 253.3 L908 252.8 L908.9 252.2 L909.8 251.5 L910.7 250.9 L911.6 250.3 L912.5 249.5 L913.4 248.6 L914.3 247.7 L915.2 246.6 L916.1 245.6 L917.1 244.7 L918 243.8 L918.9 243.1 L919.8 242.4 L920.7 241.7 L921.6 240.9 L922.5 240.3 L923.4 239.8 L924.3 239.5 L925.2 239.4 L926.1 239.9 L927 241 L927.9 242.3 L928.8 244 L929.7 246.8 L930.6 250.3 L931.5 254 L932.4 257.5 L933.3 261 L934.2 264.7 L935.1 268.5 L936 272.3 L936.9 276.2 L937.8 280.1 L938.7 284 L939.6 287.7 L940.5 291.6 L941.4 295.8 L942.3 300 L943.2 304.1 L944.1 308.1 L945 311.7 L945.9 314.7 L946.8 317.2 L947.7 319.3 L948.6 321.2 L949.5 322.8 L950.4 324.1 L951.3 325 L952.2 325.8 L953.1 326.5 L954 327 L954.9 327.3 L955.9 327.3 L956.8 327.3 L957.7 327.3 L958.6 327.3 L959.5 327.3 L960.4 327.3 L961.3 327.3 L962.2 327.3 L963.1 327.3 L964 327.3 L964.9 327.3 L965.8 327.3 L966.7 327.3 L967.6 327.3 L968.5 327.3 L969.4 327.3 L970.3 327.3 L971.2 327.3 L972.1 327.3 L973 327.3 L973.9 327.3 L974.8 327.3 L975.7 327.3 L976.6 327.3 L977.5 327.3 L978.4 327.3 L979.3 327.3 L980.2 327.3 L981.1 327.3 L982 327.3 L982.9 327.3 L983.8 327.3 L984.7 327.3 L985.6 327.3 L986.5 327.3 L987.4 327.3 L988.3 327.3 L989.2 327.3 L990.1 327.3 L991 327.3 L991.9 327.3 L992.8 327.3 L993.8 327.3 L994.7 327.3 L995.6 327.3 L996.5 327.3 L997.4 327.3 L998.3 327.3 L999.2 327.3 L1000.1 327.3 L1001 327.3 L1001.9 327.3 L1002.8 327.3 L1003.7 327.3 L1004.6 327.3 L1005.5 327.3 L1006.4 327.3 L1007.3 327.3 L1008.2 327.3 L1009.1 327.3 L1010 327.3" fill="none" stroke="#2a4aa8" stroke-width="1.25" stroke-linejoin="round"/>
<path d="M878.4 202.5 L879.3 205.4 L880.1 208.2 L880.9 210.8 L881.7 213.2 L882.6 215.3 L883.4 217.4 L884.2 219.3 L885.1 221.1 L885.9 222.9 L886.7 224.6 L887.5 226.2 L888.4 227.8 L889.2 229.4 L890 231 L890.8 232.6 L891.7 234.1 L892.5 235.6 L893.3 237.1 L894.2 238.6 L895 240 L895.8 241.3 L896.6 242.6 L897.5 243.9 L898.3 245.2 L899.1 246.5 L899.9 247.7 L900.8 249 L901.6 250.2 L902.4 251.4 L903.3 252.6 L904.1 253.7 L904.9 254.7 L905.7 255.6 L906.6 256.5 L907.4 257.2 L908.2 257.9 L909 258.7 L909.9 259.4 L910.7 260.1 L911.5 260.8 L912.4 261.5 L913.2 262 L914 262.5 L914.8 263 L915.7 263.3 L916.5 263.5 L917.3 263.6 L918.1 263.5 L919 263.3 L919.8 263 L920.6 262.5 L921.5 262 L922.3 261.3 L923.1 260.6 L923.9 259.9 L924.8 259.1 L925.6 258.3 L926.4 257.5 L927.2 256.4 L928.1 255 L928.9 253.5 L929.7 251.8 L930.6 250.1 L931.4 248.4 L932.2 246.8 L933 245.3 L933.9 244.2 L934.7 243.2 L935.5 242.3 L936.4 241.4 L937.2 240.6 L938 240 L938.8 239.5 L939.7 239.4 L940.5 239.7 L941.3 240.3 L942.1 241.2 L943 242.3 L943.8 243.6 L944.6 245.4 L945.5 247.7 L946.3 250.4 L947.1 253.4 L947.9 256.5 L948.8 259.4 L949.6 262.4 L950.4 265.6 L951.2 269 L952.1 272.5 L952.9 276.1 L953.7 279.8 L954.6 283.4 L955.4 286.9 L956.2 290.4 L957 293.7 L957.9 296.8 L958.7 299.8 L959.5 302.9 L960.3 306.1 L961.2 309.1 L962 312 L962.8 314.6 L963.7 317 L964.5 319.1 L965.3 320.7 L966.1 322.2 L967 323.5 L967.8 324.6 L968.6 325.4 L969.4 326 L970.3 326.5 L971.1 326.9 L971.9 327.2 L972.8 327.3 L973.6 327.3 L974.4 327.3 L975.2 327.3 L976.1 327.3 L976.9 327.3 L977.7 327.3 L978.5 327.3 L979.4 327.3 L980.2 327.3 L981 327.3 L981.9 327.3 L982.7 327.3 L983.5 327.3 L984.3 327.3 L985.2 327.3 L986 327.3 L986.8 327.3 L987.7 327.3 L988.5 327.3 L989.3 327.3 L990.1 327.3 L991 327.3 L991.8 327.3 L992.6 327.3 L993.4 327.3 L994.3 327.3 L995.1 327.3 L995.9 327.3 L996.8 327.3 L997.6 327.3 L998.4 327.3 L999.2 327.3 L1000.1 327.3 L1000.9 327.3 L1001.7 327.3 L1002.5 327.3 L1003.4 327.3 L1004.2 327.3 L1005 327.3 L1005.9 327.3 L1006.7 327.3 L1007.5 327.3 L1008.3 327.3 L1009.2 327.3 L1010 327.3" fill="none" stroke="#c04aa8" stroke-width="1.25" stroke-linejoin="round"/>
<path d="M893.6 202.5 L894.3 205.2 L895.1 207.8 L895.8 210.3 L896.5 212.3 L897.3 213.9 L898 215.2 L898.7 216.5 L899.4 217.7 L900.2 218.8 L900.9 219.9 L901.6 220.8 L902.4 221.8 L903.1 222.6 L903.8 223.5 L904.6 224.3 L905.3 225.1 L906 225.9 L906.8 226.6 L907.5 227.4 L908.2 228.2 L909 229 L909.7 229.8 L910.4 230.7 L911.2 231.6 L911.9 232.5 L912.6 233.4 L913.4 234.3 L914.1 235.2 L914.8 236.1 L915.6 237 L916.3 237.9 L917 238.8 L917.7 239.7 L918.5 240.5 L919.2 241.3 L919.9 242.1 L920.7 242.8 L921.4 243.5 L922.1 244.1 L922.9 244.7 L923.6 245.3 L924.3 245.9 L925.1 246.5 L925.8 247.1 L926.5 247.6 L927.3 247.9 L928 248.1 L928.7 248.2 L929.5 248.1 L930.2 247.9 L930.9 247.6 L931.7 247.2 L932.4 246.7 L933.1 246.2 L933.9 245.7 L934.6 245.2 L935.3 244.7 L936.1 244.3 L936.8 243.9 L937.5 243.5 L938.2 243.1 L939 242.6 L939.7 242.2 L940.4 241.8 L941.2 241.4 L941.9 241 L942.6 240.7 L943.4 240.4 L944.1 240.2 L944.8 240 L945.6 239.9 L946.3 239.7 L947 239.6 L947.8 239.5 L948.5 239.4 L949.2 239.4 L950 239.7 L950.7 240.2 L951.4 240.7 L952.2 241.2 L952.9 241.9 L953.6 242.6 L954.4 243.6 L955.1 244.7 L955.8 246 L956.6 247.9 L957.3 250 L958 252.5 L958.7 255.2 L959.5 258.1 L960.2 261.2 L960.9 264.3 L961.7 267.4 L962.4 270.5 L963.1 273.4 L963.9 276.3 L964.6 279.3 L965.3 282.5 L966.1 285.8 L966.8 289.1 L967.5 292.3 L968.3 295.4 L969 298.4 L969.7 301.1 L970.5 303.5 L971.2 305.8 L971.9 308 L972.7 310.1 L973.4 312.2 L974.1 314.1 L974.9 316 L975.6 317.7 L976.3 319.2 L977 320.5 L977.8 321.7 L978.5 322.6 L979.2 323.4 L980 324.2 L980.7 324.9 L981.4 325.4 L982.2 325.9 L982.9 326.2 L983.6 326.6 L984.4 326.9 L985.1 327.2 L985.8 327.3 L986.6 327.3 L987.3 327.3 L988 327.3 L988.8 327.3 L989.5 327.3 L990.2 327.3 L991 327.3 L991.7 327.3 L992.4 327.3 L993.2 327.3 L993.9 327.3 L994.6 327.3 L995.4 327.3 L996.1 327.3 L996.8 327.3 L997.5 327.3 L998.3 327.3 L999 327.3 L999.7 327.3 L1000.5 327.3 L1001.2 327.3 L1001.9 327.3 L1002.7 327.3 L1003.4 327.3 L1004.1 327.3 L1004.9 327.3 L1005.6 327.3 L1006.3 327.3 L1007.1 327.3 L1007.8 327.3 L1008.5 327.3 L1009.3 327.3 L1010 327.3" fill="none" stroke="#98983a" stroke-width="1.25" stroke-linejoin="round"/>
<path d="M910.4 202.5 L911 204.6 L911.6 206.6 L912.3 208.6 L912.9 210.5 L913.5 212.1 L914.1 213.5 L914.8 214.8 L915.4 216.1 L916 217.2 L916.6 218.4 L917.3 219.5 L917.9 220.5 L918.5 221.5 L919.1 222.4 L919.8 223.4 L920.4 224.3 L921 225.1 L921.7 226 L922.3 226.8 L922.9 227.6 L923.5 228.4 L924.2 229.2 L924.8 230 L925.4 230.8 L926 231.6 L926.7 232.4 L927.3 233.2 L927.9 234.1 L928.5 234.9 L929.2 235.7 L929.8 236.5 L930.4 237.4 L931 238.2 L931.7 238.9 L932.3 239.7 L932.9 240.4 L933.6 241.1 L934.2 241.8 L934.8 242.5 L935.4 243.1 L936.1 243.6 L936.7 244.1 L937.3 244.6 L937.9 245 L938.6 245.4 L939.2 245.9 L939.8 246.3 L940.4 246.7 L941.1 247.1 L941.7 247.4 L942.3 247.8 L943 248.1 L943.6 248.4 L944.2 248.6 L944.8 248.8 L945.5 249 L946.1 249 L946.7 249.1 L947.3 249 L948 248.9 L948.6 248.7 L949.2 248.4 L949.8 248 L950.5 247.7 L951.1 247.2 L951.7 246.8 L952.4 246.3 L953 245.8 L953.6 245.4 L954.2 244.9 L954.9 244.5 L955.5 244 L956.1 243.6 L956.7 243.2 L957.4 242.8 L958 242.3 L958.6 241.8 L959.2 241.4 L959.9 241 L960.5 240.6 L961.1 240.3 L961.7 240.1 L962.4 239.8 L963 239.6 L963.6 239.5 L964.3 239.4 L964.9 239.5 L965.5 239.7 L966.1 240 L966.8 240.4 L967.4 240.8 L968 241.4 L968.6 242 L969.3 242.8 L969.9 243.7 L970.5 244.8 L971.1 246 L971.8 247.5 L972.4 249.2 L973 251.1 L973.7 253.2 L974.3 255.4 L974.9 257.7 L975.5 260.1 L976.2 262.5 L976.8 264.8 L977.4 267.1 L978 269.3 L978.7 271.4 L979.3 273.7 L979.9 276 L980.5 278.4 L981.2 280.8 L981.8 283.2 L982.4 285.6 L983.1 288 L983.7 290.3 L984.3 292.6 L984.9 294.8 L985.6 296.9 L986.2 298.8 L986.8 300.6 L987.4 302.3 L988.1 303.9 L988.7 305.4 L989.3 307 L989.9 308.5 L990.6 310 L991.2 311.4 L991.8 312.8 L992.4 314.1 L993.1 315.3 L993.7 316.4 L994.3 317.5 L995 318.4 L995.6 319.3 L996.2 320 L996.8 320.6 L997.5 321.2 L998.1 321.8 L998.7 322.3 L999.3 322.8 L1000 323.2 L1000.6 323.6 L1001.2 324 L1001.8 324.4 L1002.5 324.7 L1003.1 324.9 L1003.7 325.2 L1004.4 325.4 L1005 325.7 L1005.6 325.9 L1006.2 326.1 L1006.9 326.3 L1007.5 326.4 L1008.1 326.6 L1008.7 326.7 L1009.4 326.8 L1010 326.9" fill="none" stroke="#12827e" stroke-width="1.25" stroke-linejoin="round"/>
<path d="M927.7 202.5 L928.2 204.3 L928.7 206 L929.3 207.7 L929.8 209.3 L930.3 210.8 L930.8 212.1 L931.3 213.1 L931.8 214.1 L932.4 214.9 L932.9 215.8 L933.4 216.5 L933.9 217.3 L934.4 218 L934.9 218.6 L935.5 219.2 L936 219.9 L936.5 220.4 L937 221 L937.5 221.5 L938.1 222.1 L938.6 222.6 L939.1 223.1 L939.6 223.6 L940.1 224.2 L940.6 224.7 L941.2 225.3 L941.7 225.8 L942.2 226.4 L942.7 226.9 L943.2 227.5 L943.7 228.1 L944.3 228.7 L944.8 229.2 L945.3 229.8 L945.8 230.3 L946.3 230.9 L946.8 231.4 L947.4 231.9 L947.9 232.4 L948.4 232.9 L948.9 233.4 L949.4 233.8 L950 234.2 L950.5 234.7 L951 235 L951.5 235.4 L952 235.7 L952.5 236 L953.1 236.3 L953.6 236.6 L954.1 236.8 L954.6 237.1 L955.1 237.3 L955.6 237.6 L956.2 237.8 L956.7 238 L957.2 238.2 L957.7 238.4 L958.2 238.6 L958.8 238.8 L959.3 239 L959.8 239.2 L960.3 239.4 L960.8 239.5 L961.3 239.7 L961.9 239.8 L962.4 240 L962.9 240.1 L963.4 240.3 L963.9 240.4 L964.4 240.5 L965 240.6 L965.5 240.7 L966 240.8 L966.5 240.9 L967 241 L967.6 241.1 L968.1 241.2 L968.6 241.3 L969.1 241.4 L969.6 241.5 L970.1 241.7 L970.7 241.8 L971.2 242 L971.7 242.2 L972.2 242.4 L972.7 242.6 L973.2 242.8 L973.8 243.1 L974.3 243.4 L974.8 243.7 L975.3 244 L975.8 244.4 L976.4 244.9 L976.9 245.3 L977.4 245.8 L977.9 246.3 L978.4 246.9 L978.9 247.5 L979.5 248.1 L980 248.7 L980.5 249.4 L981 250 L981.5 250.7 L982 251.4 L982.6 252.2 L983.1 253 L983.6 253.9 L984.1 254.9 L984.6 255.8 L985.1 256.9 L985.7 257.9 L986.2 259 L986.7 260.1 L987.2 261.3 L987.7 262.4 L988.3 263.6 L988.8 264.8 L989.3 265.9 L989.8 267.1 L990.3 268.3 L990.8 269.4 L991.4 270.6 L991.9 271.8 L992.4 273.1 L992.9 274.3 L993.4 275.6 L993.9 276.9 L994.5 278.3 L995 279.6 L995.5 280.9 L996 282.3 L996.5 283.6 L997.1 284.9 L997.6 286.2 L998.1 287.5 L998.6 288.7 L999.1 289.9 L999.6 291.1 L1000.2 292.3 L1000.7 293.4 L1001.2 294.5 L1001.7 295.6 L1002.2 296.7 L1002.7 297.8 L1003.3 298.8 L1003.8 299.9 L1004.3 300.9 L1004.8 301.9 L1005.3 302.9 L1005.9 303.9 L1006.4 304.9 L1006.9 305.9 L1007.4 306.9 L1007.9 307.8 L1008.4 308.7 L1009 309.7 L1009.5 310.6 L1010 311.5" fill="none" stroke="#f08838" stroke-width="1.25" stroke-linejoin="round"/>
</g>
<rect x="1091.1" y="213.3" width="151.9" height="114" fill="#fff" stroke="#999" stroke-width="0.9"/><line x1="1091.1" y1="327.3" x2="1093.7" y2="327.3" stroke="#555" stroke-width="0.8" /><line x1="1091.1" y1="318.5" x2="1092.6" y2="318.5" stroke="#555" stroke-width="0.7" /><text x="1088.1" y="330.3" font-size="8.2" text-anchor="end" font-weight="normal" fill="#222" stroke="#222" stroke-width="0.25">0.0</text><line x1="1091.1" y1="309.7" x2="1093.7" y2="309.7" stroke="#555" stroke-width="0.8" /><line x1="1091.1" y1="300.9" x2="1092.6" y2="300.9" stroke="#555" stroke-width="0.7" /><text x="1088.1" y="312.7" font-size="8.2" text-anchor="end" font-weight="normal" fill="#222" stroke="#222" stroke-width="0.25">0.2</text><line x1="1091.1" y1="292.1" x2="1093.7" y2="292.1" stroke="#555" stroke-width="0.8" /><line x1="1091.1" y1="283.4" x2="1092.6" y2="283.4" stroke="#555" stroke-width="0.7" /><text x="1088.1" y="295.1" font-size="8.2" text-anchor="end" font-weight="normal" fill="#222" stroke="#222" stroke-width="0.25">0.4</text><line x1="1091.1" y1="274.6" x2="1093.7" y2="274.6" stroke="#555" stroke-width="0.8" /><line x1="1091.1" y1="265.8" x2="1092.6" y2="265.8" stroke="#555" stroke-width="0.7" /><text x="1088.1" y="277.6" font-size="8.2" text-anchor="end" font-weight="normal" fill="#222" stroke="#222" stroke-width="0.25">0.6</text><line x1="1091.1" y1="257" x2="1093.7" y2="257" stroke="#555" stroke-width="0.8" /><line x1="1091.1" y1="248.2" x2="1092.6" y2="248.2" stroke="#555" stroke-width="0.7" /><text x="1088.1" y="260" font-size="8.2" text-anchor="end" font-weight="normal" fill="#222" stroke="#222" stroke-width="0.25">0.8</text><line x1="1091.1" y1="239.4" x2="1093.7" y2="239.4" stroke="#555" stroke-width="0.8" /><line x1="1091.1" y1="230.6" x2="1092.6" y2="230.6" stroke="#555" stroke-width="0.7" /><text x="1088.1" y="242.4" font-size="8.2" text-anchor="end" font-weight="normal" fill="#222" stroke="#222" stroke-width="0.25">1.0</text><line x1="1091.1" y1="221.8" x2="1093.7" y2="221.8" stroke="#555" stroke-width="0.8" /><text x="1088.1" y="224.8" font-size="8.2" text-anchor="end" font-weight="normal" fill="#222" stroke="#222" stroke-width="0.25">1.2</text><line x1="1091.1" y1="327.3" x2="1091.1" y2="324.7" stroke="#555" stroke-width="0.8" /><line x1="1104.6" y1="327.3" x2="1104.6" y2="325.8" stroke="#555" stroke-width="0.7" /><text x="1091.1" y="339.3" font-size="8.2" text-anchor="middle" font-weight="normal" fill="#222" stroke="#222" stroke-width="0.25">400</text><line x1="1118.2" y1="327.3" x2="1118.2" y2="324.7" stroke="#555" stroke-width="0.8" /><line x1="1131.7" y1="327.3" x2="1131.7" y2="325.8" stroke="#555" stroke-width="0.7" /><text x="1118.2" y="339.3" font-size="8.2" text-anchor="middle" font-weight="normal" fill="#222" stroke="#222" stroke-width="0.25">450</text><line x1="1145.2" y1="327.3" x2="1145.2" y2="324.7" stroke="#555" stroke-width="0.8" /><line x1="1158.8" y1="327.3" x2="1158.8" y2="325.8" stroke="#555" stroke-width="0.7" /><text x="1145.2" y="339.3" font-size="8.2" text-anchor="middle" font-weight="normal" fill="#222" stroke="#222" stroke-width="0.25">500</text><line x1="1172.3" y1="327.3" x2="1172.3" y2="324.7" stroke="#555" stroke-width="0.8" /><line x1="1185.8" y1="327.3" x2="1185.8" y2="325.8" stroke="#555" stroke-width="0.7" /><text x="1172.3" y="339.3" font-size="8.2" text-anchor="middle" font-weight="normal" fill="#222" stroke="#222" stroke-width="0.25">550</text><line x1="1199.4" y1="327.3" x2="1199.4" y2="324.7" stroke="#555" stroke-width="0.8" /><line x1="1212.9" y1="327.3" x2="1212.9" y2="325.8" stroke="#555" stroke-width="0.7" /><text x="1199.4" y="339.3" font-size="8.2" text-anchor="middle" font-weight="normal" fill="#222" stroke="#222" stroke-width="0.25">600</text><line x1="1226.4" y1="327.3" x2="1226.4" y2="324.7" stroke="#555" stroke-width="0.8" /><line x1="1240" y1="327.3" x2="1240" y2="325.8" stroke="#555" stroke-width="0.7" /><text x="1226.4" y="339.3" font-size="8.2" text-anchor="middle" font-weight="normal" fill="#222" stroke="#222" stroke-width="0.25">650</text><text x="1165.5" y="352.1" font-size="10.1" text-anchor="middle" font-weight="bold" fill="#111" >Wavelength (nm)</text><text x="1071.6" y="272.9" font-size="10.0" text-anchor="middle" font-weight="bold" fill="#111" transform="rotate(-90 1071.6 272.9)" >Normalized Absorption (-)</text><text x="1229" y="231.3" font-size="17" text-anchor="middle" font-weight="bold" fill="#111" >b</text>
<path d="M1091.1 225.3 L1092.4 228.9 L1093.6 232.4 L1094.9 235.6 L1096.2 238.5 L1097.5 241.4 L1098.7 244 L1100 246.4 L1101.3 248.5 L1102.6 250.6 L1103.8 252.6 L1105.1 254.5 L1106.4 256.2 L1107.7 257.8 L1108.9 259.1 L1110.2 260.2 L1111.5 261.1 L1112.8 261.9 L1114 262.6 L1115.3 263.3 L1116.6 264 L1117.9 264.7 L1119.1 265.4 L1120.4 266.1 L1121.7 266.9 L1122.9 267.9 L1124.2 269.3 L1125.5 270.7 L1126.8 272.4 L1128 274.3 L1129.3 276.1 L1130.6 277.4 L1131.9 278.6 L1133.1 279.7 L1134.4 280.8 L1135.7 281.7 L1137 282.7 L1138.2 283.6 L1139.5 284.4 L1140.8 285.3 L1142.1 286 L1143.3 286.7 L1144.6 287.4 L1145.9 288.1 L1147.2 288.7 L1148.4 289.3 L1149.7 289.9 L1151 290.5 L1152.2 291.1 L1153.5 291.7 L1154.8 292.3 L1156.1 292.8 L1157.3 293.4 L1158.6 293.9 L1159.9 294.4 L1161.2 295 L1162.4 295.5 L1163.7 296 L1165 296.5 L1166.3 297 L1167.5 297.5 L1168.8 298 L1170.1 298.5 L1171.4 299 L1172.6 299.5 L1173.9 300 L1175.2 300.6 L1176.5 301.1 L1177.7 301.6 L1179 302.1 L1180.3 302.6 L1181.5 303.2 L1182.8 303.7 L1184.1 304.2 L1185.4 304.8 L1186.6 305.3 L1187.9 305.9 L1189.2 306.4 L1190.5 306.9 L1191.7 307.5 L1193 308 L1194.3 308.6 L1195.6 309.2 L1196.8 309.7 L1198.1 310.3 L1199.4 310.9 L1200.7 311.4 L1201.9 312 L1203.2 312.6 L1204.5 313.1 L1205.7 313.6 L1207 314.1 L1208.3 314.6 L1209.6 315.1 L1210.8 315.6 L1212.1 316.1 L1213.4 316.6 L1214.7 317.1 L1215.9 317.5 L1217.2 318 L1218.5 318.4 L1219.8 318.9 L1221 319.3 L1222.3 319.7 L1223.6 320.1 L1224.9 320.5 L1226.1 321 L1227.4 321.4 L1228.7 321.8 L1230 322.2 L1231.2 322.5 L1232.5 322.9 L1233.8 323.2 L1235 323.4 L1236.3 323.7 L1237.6 323.9 L1238.9 324.1 L1240.1 324.3 L1241.4 324.5 L1242.7 324.7" fill="none" stroke="#111" stroke-width="1.5" stroke-linejoin="round"/>
</g>
<g>
<text x="1270" y="224.7" font-size="15.5" text-anchor="start" font-weight="bold" fill="#111" >c</text>
<text x="1289.2" y="222.8" font-size="7.7" text-anchor="start" font-weight="bold" fill="#222" >1 experiment - 15 µl sample</text>
<text x="1290.6" y="256.7" font-size="7.7" text-anchor="start" font-weight="bold" fill="#333" >Sample</text>
<text x="1290.6" y="265.7" font-size="7.7" text-anchor="start" font-weight="bold" fill="#333" >Reservoir</text>
<circle cx="1339.3" cy="259.2" r="10.6" fill="#fff" stroke="#222" stroke-width="0.8"/>
<path d="M1341.1 248.75 A10.6 10.6 0 0 1 1341.1 269.65 Z" fill="#0a8040" stroke="#222" stroke-width="0.8"/>
<line x1="1333" y1="268.2" x2="1333" y2="278.6" stroke="#333" stroke-width="0.8" />
<line x1="1346.2" y1="267.5" x2="1346.2" y2="278.2" stroke="#333" stroke-width="0.8" />
<line x1="1345.5" y1="259" x2="1364" y2="264.6" stroke="#222" stroke-width="0.7" />
<text x="1352.1" y="270.7" font-size="7.7" text-anchor="start" font-weight="bold" fill="#222" >Mixture</text>
<path d="M1322.7 279 L1358.4 277 L1358.4 296.6 L1322.7 295.3 Z" fill="#fff" stroke="#333" stroke-width="0.8"/>
<path d="M1358.2 277 L1367.5 276.6 L1367.5 297.1 L1358.2 296.6 Z" fill="#0a7a3c"/>
<path d="M1367.5 276.6 L1443.4 274 L1443.4 302.6 L1367.5 297.1 Z" fill="#4a9cac" stroke="#2a6a78" stroke-width="0.5"/>
<text x="1371.2" y="292.8" font-size="7.8" text-anchor="start" font-weight="bold" fill="#123" >Force = 250,000 g</text>
<line x1="1438.5" y1="289.4" x2="1447" y2="289.4" stroke="#111" stroke-width="0.8" />
<path d="M1445 287.6 L1448.4 289.4 L1445 291.2 Z" fill="#111"/>
<line x1="1387.2" y1="314.8" x2="1387.2" y2="306.5" stroke="#cc1f2e" stroke-width="1.4" />
<path d="M1384.9 308.2 L1387.2 304.4 L1389.5 308.2 Z" fill="#cc1f2e"/>
<line x1="1399.1" y1="314.8" x2="1399.1" y2="306.5" stroke="#cc1f2e" stroke-width="1.4" />
<path d="M1396.8 308.2 L1399.1 304.4 L1401.4 308.2 Z" fill="#cc1f2e"/>
<line x1="1411.5" y1="314.8" x2="1411.5" y2="306.5" stroke="#cc1f2e" stroke-width="1.4" />
<path d="M1409.2 308.2 L1411.5 304.4 L1413.8 308.2 Z" fill="#cc1f2e"/>
<line x1="1424.9" y1="314.8" x2="1424.9" y2="306.5" stroke="#cc1f2e" stroke-width="1.4" />
<path d="M1422.6 308.2 L1424.9 304.4 L1427.2 308.2 Z" fill="#cc1f2e"/>
<text x="1405.4" y="324.7" font-size="7.7" text-anchor="middle" font-weight="bold" fill="#222" >Light</text>
<line x1="1379.9" y1="327.7" x2="1437.5" y2="327.7" stroke="#111" stroke-width="0.9" />
<path d="M1436 325.8 L1440 327.7 L1436 329.6 Z" fill="#111"/>
<text x="1409.9" y="338.1" font-size="7.8" text-anchor="middle" font-weight="bold" fill="#222" >Radial Direction</text>
</g>
<g clip-path="url(#figclip)">
<g>
<defs>
<linearGradient id="dsp" gradientUnits="userSpaceOnUse" x1="0" y1="352" x2="0" y2="434">
<stop offset="0" stop-color="#ee5a26"/><stop offset="0.3" stop-color="#d82e3a"/><stop offset="0.58" stop-color="#b4348a"/><stop offset="0.8" stop-color="#6e48b4"/><stop offset="1" stop-color="#4c3894"/></linearGradient>
<linearGradient id="dsp2" gradientUnits="userSpaceOnUse" x1="0" y1="352" x2="0" y2="434">
<stop offset="0" stop-color="#c83a6a"/><stop offset="0.3" stop-color="#8a46b0"/><stop offset="0.68" stop-color="#6446b0"/><stop offset="1" stop-color="#4a3690"/></linearGradient>
<linearGradient id="dwall" gradientUnits="userSpaceOnUse" x1="0" y1="430" x2="0" y2="526">
<stop offset="0" stop-color="#5a42a4"/><stop offset="0.2" stop-color="#40267a"/><stop offset="0.5" stop-color="#2a1450"/><stop offset="1" stop-color="#1a0a2a"/></linearGradient>
<linearGradient id="dcb" x1="0" x2="0" y1="0" y2="1">
<stop offset="0" stop-color="#f8e840"/><stop offset="0.12" stop-color="#f6b428"/><stop offset="0.3" stop-color="#ec6a24"/><stop offset="0.45" stop-color="#d42a3c"/><stop offset="0.58" stop-color="#b42c88"/>
<stop offset="0.72" stop-color="#6a46b4"/><stop offset="0.86" stop-color="#3c2a78"/><stop offset="0.97" stop-color="#120818"/><stop offset="1" stop-color="#050308"/></linearGradient>
<linearGradient id="dhaze" gradientUnits="userSpaceOnUse" x1="0" y1="434" x2="0" y2="495"><stop offset="0" stop-color="#4a3090" stop-opacity="0"/><stop offset="0.12" stop-color="#4a3090" stop-opacity="0.34"/><stop offset="0.55" stop-color="#3a2470" stop-opacity="0.16"/><stop offset="1" stop-color="#3a2470" stop-opacity="0"/></linearGradient>
<filter id="dbl" x="-5%" y="-5%" width="110%" height="110%"><feGaussianBlur stdDeviation="0.6"/></filter>
</defs>
<path d="M430 431.7 L717 433.7 L695.9 526.5 L408.7 518.4Z" fill="#140a1c"/>
<clipPath id="dclip"><path d="M400 340H720V433.7H717L695.9 526.5L408.7 518.4L400 518Z"/></clipPath><g clip-path="url(#dclip)"><g filter="url(#dbl)">
<path d="M430 431.7L717 433.7L695.9 526.5L408.7 518.4Z" fill="url(#dhaze)"/>
<path d="M434.9 456.1 L425.9 495.3" stroke="#3a2060" stroke-width="1.7" opacity="0.4" fill="none"/>
<path d="M440.3 453.2 L428 506.9" stroke="#3a2060" stroke-width="1.1" opacity="0.3" fill="none"/>
<path d="M443.4 452.4 L431.6 504" stroke="#3a2060" stroke-width="1" opacity="0.6" fill="none"/>
<path d="M449.9 443.4 L437.2 498.7" stroke="#3a2060" stroke-width="1.4" opacity="0.5" fill="none"/>
<path d="M455.5 439.3 L442 498.3" stroke="#3a2060" stroke-width="1.1" opacity="0.4" fill="none"/>
<path d="M459.2 436.5 L439.3 523.6" stroke="#3a2060" stroke-width="1.8" opacity="0.3" fill="none"/>
<path d="M462.7 437.6 L445.3 513.8" stroke="#3a2060" stroke-width="1.6" opacity="0.3" fill="none"/>
<path d="M469.1 432 L452 506.9" stroke="#3a2060" stroke-width="1.4" opacity="0.6" fill="none"/>
<path d="M467.4 454.4 L452.3 520.2" stroke="#3a2060" stroke-width="1.7" opacity="0.3" fill="none"/>
<path d="M470.7 459.4 L460.8 502.7" stroke="#3a2060" stroke-width="1.6" opacity="0.5" fill="none"/>
<path d="M478.4 445.6 L468.5 488.9" stroke="#3a2060" stroke-width="0.9" opacity="0.3" fill="none"/>
<path d="M478.3 459 L466.3 511.4" stroke="#3a2060" stroke-width="1.6" opacity="0.5" fill="none"/>
<path d="M484.1 454.8 L468.6 522.4" stroke="#3a2060" stroke-width="1.7" opacity="0.6" fill="none"/>
<path d="M489.9 442.2 L479.1 489.3" stroke="#3a2060" stroke-width="1.3" opacity="0.6" fill="none"/>
<path d="M494.9 437.4 L480.2 501.6" stroke="#3a2060" stroke-width="1" opacity="0.6" fill="none"/>
<path d="M496.6 450 L483.7 506.3" stroke="#3a2060" stroke-width="1.4" opacity="0.6" fill="none"/>
<path d="M505.2 435.3 L485.9 519.4" stroke="#3a2060" stroke-width="1.1" opacity="0.3" fill="none"/>
<path d="M505.5 446.5 L487.8 523.8" stroke="#3a2060" stroke-width="1.2" opacity="0.3" fill="none"/>
<path d="M513 435.4 L496.9 505.9" stroke="#3a2060" stroke-width="1.6" opacity="0.5" fill="none"/>
<path d="M511.8 454.6 L503.9 488.9" stroke="#3a2060" stroke-width="1.4" opacity="0.4" fill="none"/>
<path d="M516.8 454.7 L508.7 490.1" stroke="#3a2060" stroke-width="1" opacity="0.4" fill="none"/>
<path d="M523.3 441.6 L509.6 501.6" stroke="#3a2060" stroke-width="1.7" opacity="0.6" fill="none"/>
<path d="M523.1 457.5 L513.2 500.5" stroke="#3a2060" stroke-width="0.9" opacity="0.5" fill="none"/>
<path d="M527.6 457.3 L512.3 524.1" stroke="#3a2060" stroke-width="1.6" opacity="0.6" fill="none"/>
<path d="M532.9 452 L518.1 516.8" stroke="#3a2060" stroke-width="1.8" opacity="0.4" fill="none"/>
<path d="M538.6 439.2 L525.5 496.5" stroke="#3a2060" stroke-width="1.2" opacity="0.6" fill="none"/>
<path d="M541.2 445 L524.4 518.5" stroke="#3a2060" stroke-width="1.1" opacity="0.3" fill="none"/>
<path d="M547.9 434.9 L528.8 518.4" stroke="#3a2060" stroke-width="1" opacity="0.3" fill="none"/>
<path d="M548.5 455.2 L535.8 510.3" stroke="#3a2060" stroke-width="1.7" opacity="0.3" fill="none"/>
<path d="M554.3 448.5 L542.6 499.6" stroke="#3a2060" stroke-width="1.6" opacity="0.5" fill="none"/>
<path d="M561.3 435.6 L544.2 510" stroke="#3a2060" stroke-width="1.3" opacity="0.5" fill="none"/>
<path d="M564.3 433.5 L547.1 508.7" stroke="#3a2060" stroke-width="1.2" opacity="0.6" fill="none"/>
<path d="M566.2 444.3 L550.7 512" stroke="#3a2060" stroke-width="1.3" opacity="0.6" fill="none"/>
<path d="M570.4 446.6 L559 496.4" stroke="#3a2060" stroke-width="1.4" opacity="0.5" fill="none"/>
<path d="M571.2 460.4 L562.9 496.7" stroke="#3a2060" stroke-width="1.2" opacity="0.4" fill="none"/>
<path d="M578.3 442.9 L563.8 506.3" stroke="#3a2060" stroke-width="1.3" opacity="0.4" fill="none"/>
<path d="M582.3 441.2 L570.3 493.7" stroke="#3a2060" stroke-width="1.1" opacity="0.5" fill="none"/>
<path d="M582.8 460.6 L571.6 509.5" stroke="#3a2060" stroke-width="1.3" opacity="0.5" fill="none"/>
<path d="M589.5 450 L575.7 510.5" stroke="#3a2060" stroke-width="1.4" opacity="0.4" fill="none"/>
<path d="M593.7 449.7 L582.1 500.2" stroke="#3a2060" stroke-width="1" opacity="0.3" fill="none"/>
<path d="M600.6 433.2 L586.5 494.9" stroke="#3a2060" stroke-width="0.9" opacity="0.4" fill="none"/>
<path d="M600.9 449.4 L585.3 517.5" stroke="#3a2060" stroke-width="1.4" opacity="0.3" fill="none"/>
<path d="M605.1 453.3 L592.8 507.3" stroke="#3a2060" stroke-width="1.4" opacity="0.5" fill="none"/>
<path d="M608.2 450.9 L591.1 525.5" stroke="#3a2060" stroke-width="1.6" opacity="0.3" fill="none"/>
<path d="M610.3 459 L595.7 522.7" stroke="#3a2060" stroke-width="1.5" opacity="0.6" fill="none"/>
<path d="M615.1 455.7 L605.9 496" stroke="#3a2060" stroke-width="1" opacity="0.4" fill="none"/>
<path d="M618.6 456.6 L609.8 494.8" stroke="#3a2060" stroke-width="1.5" opacity="0.5" fill="none"/>
<path d="M625.7 449.8 L608.6 524.7" stroke="#3a2060" stroke-width="1.2" opacity="0.4" fill="none"/>
<path d="M627.9 453.8 L617.3 500.1" stroke="#3a2060" stroke-width="1.6" opacity="0.3" fill="none"/>
<path d="M633.7 445.4 L622.6 493.6" stroke="#3a2060" stroke-width="1" opacity="0.6" fill="none"/>
<path d="M639.3 439.3 L620.8 520.4" stroke="#3a2060" stroke-width="1.4" opacity="0.5" fill="none"/>
<path d="M641.2 453.1 L630.7 498.9" stroke="#3a2060" stroke-width="0.8" opacity="0.5" fill="none"/>
<path d="M644.3 455.7 L635 496.1" stroke="#3a2060" stroke-width="1.4" opacity="0.6" fill="none"/>
<path d="M650.6 441.4 L636.1 504.9" stroke="#3a2060" stroke-width="1.4" opacity="0.6" fill="none"/>
<path d="M651.5 458.1 L638.8 513.5" stroke="#3a2060" stroke-width="1.3" opacity="0.4" fill="none"/>
<path d="M655.7 455 L646.4 495.7" stroke="#3a2060" stroke-width="0.9" opacity="0.3" fill="none"/>
<path d="M663 443.7 L650.8 496.8" stroke="#3a2060" stroke-width="1.1" opacity="0.3" fill="none"/>
<path d="M663.7 456 L652.3 505.7" stroke="#3a2060" stroke-width="1.2" opacity="0.3" fill="none"/>
<path d="M672.1 435.5 L659.4 491" stroke="#3a2060" stroke-width="1.7" opacity="0.5" fill="none"/>
<path d="M676.8 437.1 L661.8 502.8" stroke="#3a2060" stroke-width="1.7" opacity="0.4" fill="none"/>
<path d="M675.7 460.3 L669 489.5" stroke="#3a2060" stroke-width="1.2" opacity="0.5" fill="none"/>
<path d="M682.3 444 L668.9 502.5" stroke="#3a2060" stroke-width="1" opacity="0.3" fill="none"/>
<path d="M683.1 461.4 L676.4 490.7" stroke="#3a2060" stroke-width="1.7" opacity="0.5" fill="none"/>
<path d="M691.6 435.4 L674.8 508.9" stroke="#3a2060" stroke-width="0.9" opacity="0.4" fill="none"/>
<path d="M690.3 460.6 L679.8 506.8" stroke="#3a2060" stroke-width="1.1" opacity="0.6" fill="none"/>
<path d="M697.3 453.7 L688 494.5" stroke="#3a2060" stroke-width="1.7" opacity="0.4" fill="none"/>
<path d="M701 453.7 L687.2 513.7" stroke="#3a2060" stroke-width="1.6" opacity="0.6" fill="none"/>
<path d="M705.8 447.2 L695.3 493.1" stroke="#3a2060" stroke-width="1.2" opacity="0.6" fill="none"/>
<path d="M707.7 454.6 L692.8 519.5" stroke="#3a2060" stroke-width="1" opacity="0.6" fill="none"/>
<path d="M711.1 460.9 L701.2 503.9" stroke="#3a2060" stroke-width="1.6" opacity="0.6" fill="none"/>
<path d="M716.4 432.2 L714.8 439.8 L713.1 447.3 L711.5 454.7 L709.8 462 L708.2 469.3 L706.6 476.5 L704.9 483.7 L703.3 490.9 L701.7 498 L700 505.2 L698.4 512.4 L696.7 519.5 L695.1 526.7 L693.2 526.7 L694.6 519.5 L696.1 512.4 L697.5 505.2 L699 498.1 L700.4 490.9 L701.9 483.8 L703.4 476.6 L704.8 469.5 L706.3 462.3 L707.7 455.2 L709.2 448 L710.6 440.8 L712.1 433.7Z" fill="url(#dwall)" opacity="0.5"/>
<path d="M710.6 434.2 L715.1 434.2 L716.2 432.2 L717.3 434.2 L718.8 434.2Z" fill="url(#dsp2)"/>
<path d="M714.8 439.8 L713.1 447.3 L711.5 454.7 L709.8 462 L708.2 469.3 L706.6 476.5 L704.9 483.7 L703.3 490.9 L701.7 498 L700 505.2 L698.4 512.4 L696.7 519.5 L695.1 526.7 L697.5 526.7 L699.1 519.5 L700.8 512.4 L702.4 505.2 L704.1 498.1 L705.7 490.9 L707.3 483.8 L709 476.6 L710.6 469.5 L712.2 462.3 L713.9 455.2 L715.5 448 L717.2 440.8Z" fill="#0c0612" opacity="0.55"/>
<path d="M706.6 423.4 L705 433.7 L703.3 443.1 L701.7 451.7 L700 459.9 L698.4 467.8 L696.8 475.5 L695.1 483 L693.5 490.4 L691.9 497.7 L690.2 504.9 L688.6 512.2 L686.9 519.4 L685.3 526.6 L683.1 526.6 L684.5 519.5 L685.9 512.3 L687.4 505.2 L688.8 498 L690.2 490.9 L691.7 483.7 L693.1 476.6 L694.5 469.4 L696 462.2 L697.4 455.1 L698.8 447.9 L700.3 440.8 L701.7 433.6Z" fill="url(#dwall)" opacity="0.6"/>
<path d="M700.2 434.1 L705.3 425.4 L706.4 423.4 L707.5 425.4 L709 434.1Z" fill="url(#dsp2)"/>
<path d="M705 433.7 L703.3 443.1 L701.7 451.7 L700 459.9 L698.4 467.8 L696.8 475.5 L695.1 483 L693.5 490.4 L691.9 497.7 L690.2 504.9 L688.6 512.2 L686.9 519.4 L685.3 526.6 L687.7 526.6 L689.3 519.5 L691 512.3 L692.6 505.2 L694.3 498 L695.9 490.9 L697.5 483.7 L699.2 476.6 L700.8 469.4 L702.4 462.2 L704.1 455.1 L705.7 447.9 L707.4 440.8Z" fill="#0c0612" opacity="0.55"/>
<path d="M697.2 429.9 L695.6 438.2 L693.9 446.2 L692.3 453.9 L690.6 461.4 L689 468.8 L687.4 476.1 L685.7 483.4 L684.1 490.6 L682.5 497.8 L680.8 505 L679.2 512.2 L677.5 519.4 L675.9 526.5 L673.9 526.6 L675.3 519.4 L676.8 512.3 L678.2 505.1 L679.7 497.9 L681.1 490.8 L682.6 483.6 L684 476.5 L685.5 469.3 L686.9 462.2 L688.4 455 L689.8 447.9 L691.3 440.7 L692.7 433.6Z" fill="url(#dwall)" opacity="0.5"/>
<path d="M691.2 434.1 L695.9 431.9 L697 429.9 L698.1 431.9 L699.6 434.1Z" fill="url(#dsp2)"/>
<path d="M695.6 438.2 L693.9 446.2 L692.3 453.9 L690.6 461.4 L689 468.8 L687.4 476.1 L685.7 483.4 L684.1 490.6 L682.5 497.8 L680.8 505 L679.2 512.2 L677.5 519.4 L675.9 526.5 L678.3 526.6 L679.9 519.4 L681.6 512.3 L683.2 505.1 L684.9 497.9 L686.5 490.8 L688.1 483.6 L689.8 476.5 L691.4 469.3 L693 462.2 L694.7 455 L696.3 447.9 L698 440.7Z" fill="#0c0612" opacity="0.55"/>
<path d="M683.9 429.3 L682.3 437.8 L680.6 445.8 L679 453.6 L677.3 461.2 L675.7 468.6 L674.1 476 L672.4 483.3 L670.8 490.5 L669.2 497.7 L667.5 504.9 L665.9 512.1 L664.2 519.3 L662.6 526.4 L660.6 526.5 L662 519.3 L663.5 512.2 L664.9 505 L666.4 497.9 L667.8 490.7 L669.3 483.5 L670.7 476.4 L672.2 469.2 L673.6 462.1 L675.1 454.9 L676.5 447.8 L678 440.6 L679.4 433.5Z" fill="url(#dwall)" opacity="0.5"/>
<path d="M677.9 434 L682.6 431.3 L683.7 429.3 L684.8 431.3 L686.3 434Z" fill="url(#dsp2)"/>
<path d="M682.3 437.8 L680.6 445.8 L679 453.6 L677.3 461.2 L675.7 468.6 L674.1 476 L672.4 483.3 L670.8 490.5 L669.2 497.7 L667.5 504.9 L665.9 512.1 L664.2 519.3 L662.6 526.4 L665 526.5 L666.6 519.3 L668.3 512.2 L669.9 505 L671.6 497.9 L673.2 490.7 L674.8 483.5 L676.5 476.4 L678.1 469.2 L679.7 462.1 L681.4 454.9 L683 447.8 L684.7 440.6Z" fill="#0c0612" opacity="0.55"/>
<path d="M673.5 421.9 L671.9 432.6 L670.2 442.2 L668.6 451 L666.9 459.4 L665.3 467.4 L663.7 475.1 L662 482.6 L660.4 490 L658.8 497.4 L657.1 504.7 L655.5 511.9 L653.8 519.1 L652.2 526.3 L649.9 526.4 L651.4 519.2 L652.8 512.1 L654.2 504.9 L655.7 497.8 L657.1 490.6 L658.5 483.5 L659.9 476.3 L661.4 469.2 L662.8 462 L664.2 454.9 L665.6 447.7 L667.1 440.6 L668.5 433.4Z" fill="url(#dwall)" opacity="0.6"/>
<path d="M667 433.9 L672.2 423.9 L673.3 421.9 L674.4 423.9 L675.9 433.9Z" fill="url(#dsp2)"/>
<path d="M671.9 432.6 L670.2 442.2 L668.6 451 L666.9 459.4 L665.3 467.4 L663.7 475.1 L662 482.6 L660.4 490 L658.8 497.4 L657.1 504.7 L655.5 511.9 L653.8 519.1 L652.2 526.3 L654.6 526.4 L656.2 519.2 L657.9 512.1 L659.5 504.9 L661.2 497.8 L662.8 490.6 L664.4 483.5 L666.1 476.3 L667.7 469.2 L669.3 462 L671 454.9 L672.6 447.7 L674.3 440.6Z" fill="#0c0612" opacity="0.55"/>
<path d="M662.3 425.4 L660.7 435 L659 443.9 L657.4 452.2 L655.7 460.2 L654.1 467.9 L652.5 475.4 L650.8 482.8 L649.2 490.2 L647.6 497.5 L645.9 504.7 L644.3 511.9 L642.6 519.1 L641 526.3 L638.9 526.3 L640.3 519.2 L641.7 512 L643.2 504.9 L644.6 497.7 L646 490.5 L647.5 483.4 L648.9 476.2 L650.4 469.1 L651.8 461.9 L653.2 454.8 L654.7 447.6 L656.1 440.5 L657.5 433.3Z" fill="url(#dwall)" opacity="0.6"/>
<path d="M656 433.8 L661 427.4 L662.1 425.4 L663.2 427.4 L664.7 433.8Z" fill="url(#dsp2)"/>
<path d="M660.7 435 L659 443.9 L657.4 452.2 L655.7 460.2 L654.1 467.9 L652.5 475.4 L650.8 482.8 L649.2 490.2 L647.6 497.5 L645.9 504.7 L644.3 511.9 L642.6 519.1 L641 526.3 L643.4 526.3 L645 519.2 L646.7 512 L648.3 504.9 L650 497.7 L651.6 490.5 L653.2 483.4 L654.9 476.2 L656.5 469.1 L658.1 461.9 L659.8 454.8 L661.4 447.6 L663.1 440.5Z" fill="#0c0612" opacity="0.55"/>
<path d="M651.3 418.9 L649.7 430.4 L648 440.6 L646.4 449.9 L644.7 458.5 L643.1 466.7 L641.5 474.6 L639.8 482.2 L638.2 489.7 L636.6 497.1 L634.9 504.4 L633.3 511.7 L631.6 518.9 L630 526.1 L627.7 526.2 L629.1 519.1 L630.5 511.9 L631.9 504.8 L633.3 497.6 L634.7 490.5 L636.2 483.3 L637.6 476.2 L639 469 L640.4 461.9 L641.8 454.7 L643.3 447.5 L644.7 440.4 L646.1 433.2Z" fill="url(#dwall)" opacity="0.7"/>
<path d="M644.6 433.7 L650 420.9 L651.1 418.9 L652.2 420.9 L653.7 433.7Z" fill="url(#dsp2)"/>
<path d="M649.7 430.4 L648 440.6 L646.4 449.9 L644.7 458.5 L643.1 466.7 L641.5 474.6 L639.8 482.2 L638.2 489.7 L636.6 497.1 L634.9 504.4 L633.3 511.7 L631.6 518.9 L630 526.1 L632.4 526.2 L634 519.1 L635.7 511.9 L637.3 504.8 L639 497.6 L640.6 490.5 L642.2 483.3 L643.9 476.2 L645.5 469 L647.1 461.9 L648.8 454.7 L650.4 447.5 L652.1 440.4Z" fill="#0c0612" opacity="0.55"/>
<path d="M641 417.4 L639.4 429.3 L637.7 439.8 L636.1 449.2 L634.4 458 L632.8 466.3 L631.2 474.3 L629.5 482 L627.9 489.5 L626.3 497 L624.6 504.3 L623 511.6 L621.3 518.8 L619.7 526 L617.3 526.2 L618.7 519 L620.1 511.9 L621.6 504.7 L623 497.6 L624.4 490.4 L625.8 483.2 L627.2 476.1 L628.6 468.9 L630 461.8 L631.5 454.6 L632.9 447.5 L634.3 440.3 L635.7 433.2Z" fill="url(#dwall)" opacity="0.7"/>
<path d="M634.2 433.7 L639.7 419.4 L640.8 417.4 L641.9 419.4 L643.4 433.7Z" fill="url(#dsp2)"/>
<path d="M639.4 429.3 L637.7 439.8 L636.1 449.2 L634.4 458 L632.8 466.3 L631.2 474.3 L629.5 482 L627.9 489.5 L626.3 497 L624.6 504.3 L623 511.6 L621.3 518.8 L619.7 526 L622.1 526.2 L623.7 519 L625.4 511.9 L627 504.7 L628.7 497.6 L630.3 490.4 L631.9 483.2 L633.6 476.1 L635.2 468.9 L636.8 461.8 L638.5 454.6 L640.1 447.5 L641.8 440.3Z" fill="#0c0612" opacity="0.55"/>
<path d="M630.4 412.6 L628.8 425.7 L627.1 437.2 L625.5 447.3 L623.8 456.6 L622.2 465.3 L620.6 473.5 L618.9 481.4 L617.3 489.1 L615.7 496.6 L614 504 L612.4 511.4 L610.7 518.7 L609.1 525.9 L606.6 526.1 L608 518.9 L609.4 511.8 L610.8 504.6 L612.2 497.5 L613.6 490.3 L615 483.2 L616.4 476 L617.8 468.9 L619.2 461.7 L620.6 454.6 L622 447.4 L623.4 440.3 L624.8 433.1Z" fill="url(#dwall)" opacity="0.7"/>
<path d="M623.3 433.6 L629.1 414.6 L630.2 412.6 L631.3 414.6 L632.8 433.6Z" fill="url(#dsp2)"/>
<path d="M628.8 425.7 L627.1 437.2 L625.5 447.3 L623.8 456.6 L622.2 465.3 L620.6 473.5 L618.9 481.4 L617.3 489.1 L615.7 496.6 L614 504 L612.4 511.4 L610.7 518.7 L609.1 525.9 L611.5 526.1 L613.1 518.9 L614.8 511.8 L616.4 504.6 L618.1 497.5 L619.7 490.3 L621.3 483.2 L623 476 L624.6 468.9 L626.2 461.7 L627.9 454.6 L629.5 447.4 L631.2 440.3Z" fill="#0c0612" opacity="0.55"/>
<path d="M617.7 411.9 L616.1 425.2 L614.4 436.7 L612.8 447 L611.1 456.4 L609.5 465.1 L607.9 473.3 L606.2 481.3 L604.6 489 L603 496.5 L601.3 503.9 L599.7 511.3 L598 518.6 L596.4 525.8 L593.8 526 L595.2 518.9 L596.6 511.7 L598 504.5 L599.4 497.4 L600.8 490.2 L602.2 483.1 L603.6 475.9 L605 468.8 L606.4 461.6 L607.8 454.5 L609.2 447.3 L610.6 440.2 L612 433Z" fill="url(#dwall)" opacity="0.8"/>
<path d="M610.5 433.5 L616.4 413.9 L617.5 411.9 L618.6 413.9 L620.1 433.5Z" fill="url(#dsp2)"/>
<path d="M616.1 425.2 L614.4 436.7 L612.8 447 L611.1 456.4 L609.5 465.1 L607.9 473.3 L606.2 481.3 L604.6 489 L603 496.5 L601.3 503.9 L599.7 511.3 L598 518.6 L596.4 525.8 L598.8 526 L600.4 518.9 L602.1 511.7 L603.7 504.5 L605.4 497.4 L607 490.2 L608.6 483.1 L610.3 475.9 L611.9 468.8 L613.5 461.6 L615.2 454.5 L616.8 447.3 L618.5 440.2Z" fill="#0c0612" opacity="0.55"/>
<path d="M608.3 393.6 L606.7 411 L605 425.8 L603.4 438.6 L601.7 449.9 L600.1 460.2 L598.5 469.6 L596.8 478.5 L595.2 486.9 L593.6 494.9 L591.9 502.7 L590.3 510.4 L588.6 517.9 L587 525.3 L583.9 525.9 L585.2 518.8 L586.6 511.6 L587.9 504.5 L589.2 497.3 L590.6 490.2 L591.9 483 L593.3 475.9 L594.6 468.7 L596 461.6 L597.3 454.4 L598.7 447.3 L600 440.1 L601.3 432.9Z" fill="url(#dwall)" opacity="1"/>
<path d="M599.8 433.4 L607 395.6 L608.1 393.6 L609.2 395.6 L610.7 433.4Z" fill="url(#dsp2)"/>
<path d="M606.7 411 L605 425.8 L603.4 438.6 L601.7 449.9 L600.1 460.2 L598.5 469.6 L596.8 478.5 L595.2 486.9 L593.6 494.9 L591.9 502.7 L590.3 510.4 L588.6 517.9 L587 525.3 L589.4 525.9 L591 518.8 L592.7 511.6 L594.3 504.5 L596 497.3 L597.6 490.2 L599.2 483 L600.9 475.9 L602.5 468.7 L604.1 461.6 L605.8 454.4 L607.4 447.3 L609.1 440.1Z" fill="#0c0612" opacity="0.55"/>
<path d="M599.5 408 L597.9 422.2 L596.2 434.5 L594.6 445.3 L592.9 455.1 L591.3 464.1 L589.7 472.6 L588 480.7 L586.4 488.5 L584.8 496.1 L583.1 503.6 L581.5 511 L579.8 518.3 L578.2 525.6 L575.5 525.9 L576.9 518.7 L578.3 511.6 L579.7 504.4 L581.1 497.3 L582.5 490.1 L583.8 483 L585.2 475.8 L586.6 468.7 L588 461.5 L589.4 454.3 L590.8 447.2 L592.2 440 L593.6 432.9Z" fill="url(#dwall)" opacity="0.8"/>
<path d="M592.1 433.4 L598.2 410 L599.3 408 L600.4 410 L601.9 433.4Z" fill="url(#dsp2)"/>
<path d="M597.9 422.2 L596.2 434.5 L594.6 445.3 L592.9 455.1 L591.3 464.1 L589.7 472.6 L588 480.7 L586.4 488.5 L584.8 496.1 L583.1 503.6 L581.5 511 L579.8 518.3 L578.2 525.6 L580.6 525.9 L582.2 518.7 L583.9 511.6 L585.5 504.4 L587.2 497.3 L588.8 490.1 L590.4 483 L592.1 475.8 L593.7 468.7 L595.3 461.5 L597 454.3 L598.6 447.2 L600.3 440Z" fill="#0c0612" opacity="0.55"/>
<path d="M596.3 409.8 L594.7 423.6 L593 435.5 L591.4 446 L589.7 455.6 L588.1 464.5 L586.5 472.9 L584.8 480.9 L583.2 488.6 L581.6 496.2 L579.9 503.7 L578.3 511.1 L576.6 518.4 L575 525.6 L572.4 525.9 L573.8 518.7 L575.2 511.6 L576.6 504.4 L578 497.2 L579.3 490.1 L580.7 482.9 L582.1 475.8 L583.5 468.6 L584.9 461.5 L586.3 454.3 L587.7 447.2 L589.1 440 L590.5 432.9Z" fill="url(#dwall)" opacity="0.8"/>
<path d="M589 433.4 L595 411.8 L596.1 409.8 L597.2 411.8 L598.7 433.4Z" fill="url(#dsp2)"/>
<path d="M594.7 423.6 L593 435.5 L591.4 446 L589.7 455.6 L588.1 464.5 L586.5 472.9 L584.8 480.9 L583.2 488.6 L581.6 496.2 L579.9 503.7 L578.3 511.1 L576.6 518.4 L575 525.6 L577.4 525.9 L579 518.7 L580.7 511.6 L582.3 504.4 L584 497.2 L585.6 490.1 L587.2 482.9 L588.9 475.8 L590.5 468.6 L592.1 461.5 L593.8 454.3 L595.4 447.2 L597.1 440Z" fill="#0c0612" opacity="0.55"/>
<path d="M585.1 393.6 L583.5 411 L581.8 425.7 L580.2 438.5 L578.5 449.8 L576.9 460.1 L575.3 469.5 L573.6 478.3 L572 486.7 L570.4 494.8 L568.7 502.6 L567.1 510.2 L565.4 517.7 L563.8 525.1 L560.7 525.8 L562 518.6 L563.4 511.5 L564.7 504.3 L566.1 497.2 L567.4 490 L568.7 482.9 L570.1 475.7 L571.4 468.6 L572.8 461.4 L574.1 454.2 L575.5 447.1 L576.8 439.9 L578.2 432.8Z" fill="url(#dwall)" opacity="1"/>
<path d="M576.7 433.3 L583.8 395.6 L584.9 393.6 L586 395.6 L587.5 433.3Z" fill="url(#dsp2)"/>
<path d="M583.5 411 L581.8 425.7 L580.2 438.5 L578.5 449.8 L576.9 460.1 L575.3 469.5 L573.6 478.3 L572 486.7 L570.4 494.8 L568.7 502.6 L567.1 510.2 L565.4 517.7 L563.8 525.1 L566.2 525.8 L567.8 518.6 L569.5 511.5 L571.1 504.3 L572.8 497.2 L574.4 490 L576 482.9 L577.7 475.7 L579.3 468.6 L580.9 461.4 L582.6 454.2 L584.2 447.1 L585.9 439.9Z" fill="#0c0612" opacity="0.55"/>
<path d="M575.2 397.8 L573.6 414.3 L571.9 428.4 L570.3 440.6 L568.6 451.4 L567 461.3 L565.4 470.4 L563.7 479 L562.1 487.2 L560.5 495.1 L558.8 502.9 L557.2 510.4 L555.5 517.9 L553.9 525.2 L550.9 525.7 L552.3 518.6 L553.6 511.4 L555 504.3 L556.3 497.1 L557.7 489.9 L559.1 482.8 L560.4 475.6 L561.8 468.5 L563.1 461.3 L564.5 454.2 L565.8 447 L567.2 439.9 L568.6 432.7Z" fill="url(#dwall)" opacity="0.9"/>
<path d="M567.1 433.2 L573.9 399.8 L575 397.8 L576.1 399.8 L577.6 433.2Z" fill="url(#dsp2)"/>
<path d="M573.6 414.3 L571.9 428.4 L570.3 440.6 L568.6 451.4 L567 461.3 L565.4 470.4 L563.7 479 L562.1 487.2 L560.5 495.1 L558.8 502.9 L557.2 510.4 L555.5 517.9 L553.9 525.2 L556.3 525.7 L557.9 518.6 L559.6 511.4 L561.2 504.3 L562.9 497.1 L564.5 489.9 L566.1 482.8 L567.8 475.6 L569.4 468.5 L571 461.3 L572.7 454.2 L574.3 447 L576 439.9Z" fill="#0c0612" opacity="0.55"/>
<path d="M564.6 363.3 L563 384.9 L561.3 403.5 L559.7 419.8 L558 434.2 L556.4 447.2 L554.8 458.9 L553.1 469.7 L551.5 479.7 L549.9 489.1 L548.2 498 L546.6 506.6 L544.9 514.8 L543.3 522.8 L539.2 525.6 L540.5 518.5 L541.7 511.3 L543 504.2 L544.2 497 L545.5 489.9 L546.8 482.7 L548 475.6 L549.3 468.4 L550.5 461.3 L551.8 454.1 L553 446.9 L554.3 439.8 L555.5 432.6Z" fill="url(#dwall)" opacity="1"/>
<path d="M554 433.1 L563.3 365.3 L564.4 363.3 L565.5 365.3 L567 433.1Z" fill="url(#dsp2)"/>
<path d="M563 384.9 L561.3 403.5 L559.7 419.8 L558 434.2 L556.4 447.2 L554.8 458.9 L553.1 469.7 L551.5 479.7 L549.9 489.1 L548.2 498 L546.6 506.6 L544.9 514.8 L543.3 522.8 L545.7 525.6 L547.3 518.5 L549 511.3 L550.6 504.2 L552.3 497 L553.9 489.9 L555.5 482.7 L557.2 475.6 L558.8 468.4 L560.4 461.3 L562.1 454.1 L563.7 446.9 L565.4 439.8Z" fill="#0c0612" opacity="0.55"/>
<path d="M553.8 377 L552.2 397.1 L550.5 414.2 L548.9 429 L547.2 442.1 L545.6 453.8 L544 464.4 L542.3 474.3 L540.7 483.5 L539.1 492.2 L537.4 500.5 L535.8 508.6 L534.1 516.4 L532.5 524.1 L528.9 525.6 L530.2 518.4 L531.5 511.3 L532.7 504.1 L534 496.9 L535.3 489.8 L536.6 482.6 L537.9 475.5 L539.2 468.3 L540.5 461.2 L541.8 454 L543.1 446.9 L544.4 439.7 L545.7 432.6Z" fill="url(#dwall)" opacity="1"/>
<path d="M544.2 433.1 L552.5 379 L553.6 377 L554.7 379 L556.2 433.1Z" fill="url(#dsp2)"/>
<path d="M552.2 397.1 L550.5 414.2 L548.9 429 L547.2 442.1 L545.6 453.8 L544 464.4 L542.3 474.3 L540.7 483.5 L539.1 492.2 L537.4 500.5 L535.8 508.6 L534.1 516.4 L532.5 524.1 L534.9 525.6 L536.5 518.4 L538.2 511.3 L539.8 504.1 L541.5 496.9 L543.1 489.8 L544.7 482.6 L546.4 475.5 L548 468.3 L549.6 461.2 L551.3 454 L552.9 446.9 L554.6 439.7Z" fill="#0c0612" opacity="0.55"/>
<path d="M551.3 361.2 L549.7 382.9 L548 401.7 L546.4 418.2 L544.7 432.8 L543.1 445.9 L541.5 457.8 L539.8 468.8 L538.2 478.9 L536.6 488.4 L534.9 497.5 L533.3 506.1 L531.6 514.4 L530 522.5 L525.9 525.5 L527.1 518.4 L528.4 511.2 L529.6 504.1 L530.9 496.9 L532.1 489.8 L533.4 482.6 L534.6 475.5 L535.9 468.3 L537.1 461.2 L538.4 454 L539.6 446.9 L540.9 439.7 L542.1 432.5Z" fill="url(#dwall)" opacity="1"/>
<path d="M540.6 433 L550 363.2 L551.1 361.2 L552.2 363.2 L553.7 433Z" fill="url(#dsp2)"/>
<path d="M549.7 382.9 L548 401.7 L546.4 418.2 L544.7 432.8 L543.1 445.9 L541.5 457.8 L539.8 468.8 L538.2 478.9 L536.6 488.4 L534.9 497.5 L533.3 506.1 L531.6 514.4 L530 522.5 L532.4 525.5 L534 518.4 L535.7 511.2 L537.3 504.1 L539 496.9 L540.6 489.8 L542.2 482.6 L543.9 475.5 L545.5 468.3 L547.1 461.2 L548.8 454 L550.4 446.9 L552.1 439.7Z" fill="#0c0612" opacity="0.55"/>
<path d="M542.1 368.2 L540.5 389.3 L538.8 407.4 L537.2 423.2 L535.5 437.2 L533.9 449.7 L532.3 461 L530.6 471.4 L529 481.1 L527.4 490.3 L525.7 499 L524.1 507.3 L522.4 515.4 L520.8 523.3 L516.9 525.5 L518.2 518.3 L519.4 511.2 L520.7 504 L522 496.9 L523.2 489.7 L524.5 482.6 L525.8 475.4 L527 468.3 L528.3 461.1 L529.6 453.9 L530.9 446.8 L532.1 439.6 L533.4 432.5Z" fill="url(#dwall)" opacity="1"/>
<path d="M531.9 433 L540.8 370.2 L541.9 368.2 L543 370.2 L544.5 433Z" fill="url(#dsp2)"/>
<path d="M540.5 389.3 L538.8 407.4 L537.2 423.2 L535.5 437.2 L533.9 449.7 L532.3 461 L530.6 471.4 L529 481.1 L527.4 490.3 L525.7 499 L524.1 507.3 L522.4 515.4 L520.8 523.3 L523.2 525.5 L524.8 518.3 L526.5 511.2 L528.1 504 L529.8 496.9 L531.4 489.7 L533 482.6 L534.7 475.4 L536.3 468.3 L537.9 461.1 L539.6 453.9 L541.2 446.8 L542.9 439.6Z" fill="#0c0612" opacity="0.55"/>
<path d="M532.3 355.6 L530.7 377.7 L529 396.9 L527.4 413.9 L525.7 429 L524.1 442.5 L522.5 454.9 L520.8 466.2 L519.2 476.7 L517.6 486.5 L515.9 495.9 L514.3 504.8 L512.6 513.3 L511 521.5 L506.7 525.4 L507.9 518.3 L509.2 511.1 L510.4 504 L511.6 496.8 L512.9 489.6 L514.1 482.5 L515.3 475.3 L516.6 468.2 L517.8 461 L519 453.9 L520.3 446.7 L521.5 439.6 L522.7 432.4Z" fill="url(#dwall)" opacity="1"/>
<path d="M521.2 432.9 L531 357.6 L532.1 355.6 L533.2 357.6 L534.7 432.9Z" fill="url(#dsp)"/>
<path d="M531.2 357.6 L533.2 357.6 L534.7 424.4 L532.1 424.4Z" fill="#dc3436" opacity="0.8"/>
<path d="M530.7 377.7 L529 396.9 L527.4 413.9 L525.7 429 L524.1 442.5 L522.5 454.9 L520.8 466.2 L519.2 476.7 L517.6 486.5 L515.9 495.9 L514.3 504.8 L512.6 513.3 L511 521.5 L513.4 525.4 L515 518.3 L516.7 511.1 L518.3 504 L520 496.8 L521.6 489.6 L523.2 482.5 L524.9 475.3 L526.5 468.2 L528.1 461 L529.8 453.9 L531.4 446.7 L533.1 439.6Z" fill="#0c0612" opacity="0.55"/>
<path d="M521 354.9 L519.4 377 L517.7 396.3 L516.1 413.3 L514.4 428.4 L512.8 442.1 L511.2 454.4 L509.5 465.8 L507.9 476.4 L506.3 486.3 L504.6 495.6 L503 504.5 L501.3 513.1 L499.7 521.4 L495.4 525.3 L496.6 518.2 L497.8 511 L499.1 503.9 L500.3 496.7 L501.5 489.6 L502.8 482.4 L504 475.3 L505.2 468.1 L506.5 460.9 L507.7 453.8 L508.9 446.6 L510.1 439.5 L511.4 432.3Z" fill="url(#dwall)" opacity="1"/>
<path d="M509.9 432.8 L519.7 356.9 L520.8 354.9 L521.9 356.9 L523.4 432.8Z" fill="url(#dsp)"/>
<path d="M519.9 356.9 L521.9 356.9 L523.4 424.3 L520.8 424.3Z" fill="#dc3436" opacity="0.8"/>
<path d="M519.4 377 L517.7 396.3 L516.1 413.3 L514.4 428.4 L512.8 442.1 L511.2 454.4 L509.5 465.8 L507.9 476.4 L506.3 486.3 L504.6 495.6 L503 504.5 L501.3 513.1 L499.7 521.4 L502.1 525.3 L503.7 518.2 L505.4 511 L507 503.9 L508.7 496.7 L510.3 489.6 L511.9 482.4 L513.6 475.3 L515.2 468.1 L516.8 460.9 L518.5 453.8 L520.1 446.6 L521.8 439.5Z" fill="#0c0612" opacity="0.55"/>
<path d="M510.2 355.4 L508.6 377.5 L506.9 396.7 L505.3 413.7 L503.6 428.8 L502 442.3 L500.4 454.7 L498.7 466 L497.1 476.5 L495.5 486.4 L493.8 495.7 L492.2 504.6 L490.5 513.1 L488.9 521.4 L484.6 525.3 L485.8 518.1 L487.1 511 L488.3 503.8 L489.5 496.6 L490.8 489.5 L492 482.3 L493.2 475.2 L494.5 468 L495.7 460.9 L496.9 453.7 L498.2 446.6 L499.4 439.4 L500.6 432.3Z" fill="url(#dwall)" opacity="1"/>
<path d="M499.1 432.8 L508.9 357.4 L510 355.4 L511.1 357.4 L512.6 432.8Z" fill="url(#dsp)"/>
<path d="M509.1 357.4 L511.1 357.4 L512.6 424.3 L510 424.3Z" fill="#dc3436" opacity="0.8"/>
<path d="M508.6 377.5 L506.9 396.7 L505.3 413.7 L503.6 428.8 L502 442.3 L500.4 454.7 L498.7 466 L497.1 476.5 L495.5 486.4 L493.8 495.7 L492.2 504.6 L490.5 513.1 L488.9 521.4 L491.3 525.3 L492.9 518.1 L494.6 511 L496.2 503.8 L497.9 496.6 L499.5 489.5 L501.1 482.3 L502.8 475.2 L504.4 468 L506 460.9 L507.7 453.7 L509.3 446.6 L511 439.4Z" fill="#0c0612" opacity="0.55"/>
<path d="M507.6 356.5 L506 378.5 L504.3 397.7 L502.7 414.5 L501 429.5 L499.4 443 L497.8 455.3 L496.1 466.5 L494.5 477 L492.9 486.7 L491.2 496 L489.6 504.8 L487.9 513.3 L486.3 521.5 L482 525.2 L483.3 518.1 L484.5 510.9 L485.7 503.8 L487 496.6 L488.2 489.5 L489.4 482.3 L490.7 475.2 L491.9 468 L493.2 460.9 L494.4 453.7 L495.6 446.5 L496.9 439.4 L498.1 432.2Z" fill="url(#dwall)" opacity="1"/>
<path d="M496.6 432.7 L506.3 358.5 L507.4 356.5 L508.5 358.5 L510 432.7Z" fill="url(#dsp)"/>
<path d="M506.5 358.5 L508.5 358.5 L510 424.2 L507.4 424.2Z" fill="#dc3436" opacity="0.8"/>
<path d="M506 378.5 L504.3 397.7 L502.7 414.5 L501 429.5 L499.4 443 L497.8 455.3 L496.1 466.5 L494.5 477 L492.9 486.7 L491.2 496 L489.6 504.8 L487.9 513.3 L486.3 521.5 L488.7 525.2 L490.3 518.1 L492 510.9 L493.6 503.8 L495.3 496.6 L496.9 489.5 L498.5 482.3 L500.2 475.2 L501.8 468 L503.4 460.9 L505.1 453.7 L506.7 446.5 L508.4 439.4Z" fill="#0c0612" opacity="0.55"/>
<path d="M499.9 354.2 L498.3 376.3 L496.6 395.7 L495 412.7 L493.3 427.9 L491.7 441.6 L490.1 454 L488.4 465.4 L486.8 476 L485.2 485.9 L483.5 495.3 L481.9 504.2 L480.2 512.8 L478.6 521.1 L474.3 525.2 L475.5 518 L476.7 510.9 L477.9 503.7 L479.2 496.6 L480.4 489.4 L481.6 482.3 L482.9 475.1 L484.1 468 L485.3 460.8 L486.6 453.6 L487.8 446.5 L489 439.3 L490.2 432.2Z" fill="url(#dwall)" opacity="1"/>
<path d="M488.7 432.7 L498.6 356.2 L499.7 354.2 L500.8 356.2 L502.3 432.7Z" fill="url(#dsp)"/>
<path d="M498.8 356.2 L500.8 356.2 L502.3 424.2 L499.7 424.2Z" fill="#dc3436" opacity="0.8"/>
<path d="M498.3 376.3 L496.6 395.7 L495 412.7 L493.3 427.9 L491.7 441.6 L490.1 454 L488.4 465.4 L486.8 476 L485.2 485.9 L483.5 495.3 L481.9 504.2 L480.2 512.8 L478.6 521.1 L481 525.2 L482.6 518 L484.3 510.9 L485.9 503.7 L487.6 496.6 L489.2 489.4 L490.8 482.3 L492.5 475.1 L494.1 468 L495.7 460.8 L497.4 453.6 L499 446.5 L500.7 439.3Z" fill="#0c0612" opacity="0.55"/>
<path d="M488.3 362.6 L486.7 384.2 L485 402.8 L483.4 419.2 L481.7 433.6 L480.1 446.5 L478.5 458.3 L476.8 469.1 L475.2 479.1 L473.6 488.5 L471.9 497.5 L470.3 506 L468.6 514.3 L467 522.3 L462.9 525.1 L464.2 518 L465.4 510.8 L466.7 503.6 L467.9 496.5 L469.2 489.3 L470.5 482.2 L471.7 475 L473 467.9 L474.2 460.7 L475.5 453.6 L476.7 446.4 L478 439.3 L479.2 432.1Z" fill="url(#dwall)" opacity="1"/>
<path d="M477.7 432.6 L487 364.6 L488.1 362.6 L489.2 364.6 L490.7 432.6Z" fill="url(#dsp2)"/>
<path d="M486.7 384.2 L485 402.8 L483.4 419.2 L481.7 433.6 L480.1 446.5 L478.5 458.3 L476.8 469.1 L475.2 479.1 L473.6 488.5 L471.9 497.5 L470.3 506 L468.6 514.3 L467 522.3 L469.4 525.1 L471 518 L472.7 510.8 L474.3 503.6 L476 496.5 L477.6 489.3 L479.2 482.2 L480.9 475 L482.5 467.9 L484.1 460.7 L485.8 453.6 L487.4 446.4 L489.1 439.3Z" fill="#0c0612" opacity="0.55"/>
<path d="M478.3 361.9 L476.7 383.5 L475 402.2 L473.4 418.6 L471.7 433.1 L470.1 446.1 L468.5 457.9 L466.8 468.7 L465.2 478.8 L463.6 488.3 L461.9 497.2 L460.3 505.8 L458.6 514.1 L457 522.1 L452.9 525 L454.2 517.9 L455.4 510.7 L456.7 503.6 L457.9 496.4 L459.2 489.3 L460.4 482.1 L461.7 475 L462.9 467.8 L464.2 460.7 L465.4 453.5 L466.7 446.3 L467.9 439.2 L469.2 432Z" fill="url(#dwall)" opacity="1"/>
<path d="M467.7 432.5 L477 363.9 L478.1 361.9 L479.2 363.9 L480.7 432.5Z" fill="url(#dsp2)"/>
<path d="M476.7 383.5 L475 402.2 L473.4 418.6 L471.7 433.1 L470.1 446.1 L468.5 457.9 L466.8 468.7 L465.2 478.8 L463.6 488.3 L461.9 497.2 L460.3 505.8 L458.6 514.1 L457 522.1 L459.4 525 L461 517.9 L462.7 510.7 L464.3 503.6 L466 496.4 L467.6 489.3 L469.2 482.1 L470.9 475 L472.5 467.8 L474.1 460.7 L475.8 453.5 L477.4 446.3 L479.1 439.2Z" fill="#0c0612" opacity="0.55"/>
<path d="M464.6 353.5 L463 375.6 L461.3 395 L459.7 412.1 L458 427.3 L456.4 441 L454.8 453.5 L453.1 464.9 L451.5 475.5 L449.9 485.5 L448.2 494.9 L446.6 503.9 L444.9 512.5 L443.3 520.8 L438.9 524.9 L440.2 517.8 L441.4 510.6 L442.6 503.5 L443.9 496.3 L445.1 489.2 L446.3 482 L447.5 474.9 L448.8 467.7 L450 460.6 L451.2 453.4 L452.5 446.2 L453.7 439.1 L454.9 431.9Z" fill="url(#dwall)" opacity="1"/>
<path d="M453.4 432.4 L463.3 355.5 L464.4 353.5 L465.5 355.5 L467 432.4Z" fill="url(#dsp)"/>
<path d="M463.5 355.5 L465.5 355.5 L467 423.9 L464.4 423.9Z" fill="#dc3436" opacity="0.8"/>
<path d="M463 375.6 L461.3 395 L459.7 412.1 L458 427.3 L456.4 441 L454.8 453.5 L453.1 464.9 L451.5 475.5 L449.9 485.5 L448.2 494.9 L446.6 503.9 L444.9 512.5 L443.3 520.8 L445.7 524.9 L447.3 517.8 L449 510.6 L450.6 503.5 L452.3 496.3 L453.9 489.2 L455.5 482 L457.2 474.9 L458.8 467.7 L460.4 460.6 L462.1 453.4 L463.7 446.2 L465.4 439.1Z" fill="#0c0612" opacity="0.55"/>
<path d="M456.2 384.4 L454.6 403.3 L452.9 419.3 L451.3 433.2 L449.6 445.4 L448 456.3 L446.4 466.4 L444.7 475.7 L443.1 484.5 L441.5 492.8 L439.8 500.9 L438.2 508.7 L436.5 516.4 L434.9 523.9 L431.5 524.9 L432.8 517.7 L434.2 510.6 L435.5 503.4 L436.8 496.3 L438.1 489.1 L439.4 482 L440.8 474.8 L442.1 467.7 L443.4 460.5 L444.7 453.3 L446 446.2 L447.4 439 L448.7 431.9Z" fill="url(#dwall)" opacity="1"/>
<path d="M447.2 432.4 L454.9 386.4 L456 384.4 L457.1 386.4 L458.6 432.4Z" fill="url(#dsp)"/>
<path d="M455.1 386.4 L457.1 386.4 L458.6 423.9 L456 423.9Z" fill="#dc3436" opacity="0.8"/>
<path d="M454.6 403.3 L452.9 419.3 L451.3 433.2 L449.6 445.4 L448 456.3 L446.4 466.4 L444.7 475.7 L443.1 484.5 L441.5 492.8 L439.8 500.9 L438.2 508.7 L436.5 516.4 L434.9 523.9 L437.3 524.9 L438.9 517.7 L440.6 510.6 L442.2 503.4 L443.9 496.3 L445.5 489.1 L447.1 482 L448.8 474.8 L450.4 467.7 L452 460.5 L453.7 453.3 L455.3 446.2 L457 439Z" fill="#0c0612" opacity="0.55"/>
</g></g>
<line x1="720.2" y1="434.4" x2="722.8" y2="434.4" stroke="#444" stroke-width="0.7" />
<text x="723.4" y="437.2" font-size="7.3" text-anchor="start" font-weight="bold" fill="#111" >350</text>
<line x1="716.7" y1="449.8" x2="719.3" y2="449.8" stroke="#444" stroke-width="0.7" />
<text x="719.9" y="452.6" font-size="7.3" text-anchor="start" font-weight="bold" fill="#111" >400</text>
<line x1="713.7" y1="466" x2="716.3" y2="466" stroke="#444" stroke-width="0.7" />
<text x="716.9" y="468.8" font-size="7.3" text-anchor="start" font-weight="bold" fill="#111" >450</text>
<line x1="709.3" y1="481.7" x2="711.9" y2="481.7" stroke="#444" stroke-width="0.7" />
<text x="712.5" y="484.5" font-size="7.3" text-anchor="start" font-weight="bold" fill="#111" >500</text>
<line x1="706.3" y1="495.6" x2="708.9" y2="495.6" stroke="#444" stroke-width="0.7" />
<text x="709.5" y="498.4" font-size="7.3" text-anchor="start" font-weight="bold" fill="#111" >550</text>
<line x1="701.9" y1="509.8" x2="704.5" y2="509.8" stroke="#444" stroke-width="0.7" />
<text x="705.1" y="512.6" font-size="7.3" text-anchor="start" font-weight="bold" fill="#111" >600</text>
<line x1="697.4" y1="524.6" x2="700" y2="524.6" stroke="#444" stroke-width="0.7" />
<text x="700.6" y="527.4" font-size="7.3" text-anchor="start" font-weight="bold" fill="#111" >650</text>
<text x="733.2" y="488.4" font-size="7.6" text-anchor="middle" font-weight="bold" fill="#111" font-style="italic" transform="rotate(-76 733.2 488.4)" >Wavelength (nm)</text>
<text x="549.9" y="534.7" font-size="7.8" text-anchor="middle" font-weight="bold" fill="#111" transform="rotate(1.7 549.9 534.7)" >50</text>
<line x1="551.7" y1="522.7" x2="551.1" y2="525.7" stroke="#333" stroke-width="0.8" />
<text x="578.3" y="535.6" font-size="7.8" text-anchor="middle" font-weight="bold" fill="#111" transform="rotate(1.7 578.3 535.6)" >60</text>
<line x1="580.1" y1="523.5" x2="579.5" y2="526.5" stroke="#333" stroke-width="0.8" />
<text x="607" y="536.5" font-size="7.8" text-anchor="middle" font-weight="bold" fill="#111" transform="rotate(1.7 607 536.5)" >70</text>
<line x1="608.8" y1="524.3" x2="608.2" y2="527.3" stroke="#333" stroke-width="0.8" />
<text x="635.7" y="537.5" font-size="7.8" text-anchor="middle" font-weight="bold" fill="#111" transform="rotate(1.7 635.7 537.5)" >80</text>
<line x1="637.5" y1="525.1" x2="636.9" y2="528.1" stroke="#333" stroke-width="0.8" />
<text x="664" y="538.4" font-size="7.8" text-anchor="middle" font-weight="bold" fill="#111" transform="rotate(1.7 664 538.4)" >90</text>
<line x1="665.8" y1="525.9" x2="665.2" y2="528.9" stroke="#333" stroke-width="0.8" />
<text x="688.3" y="539.1" font-size="7.8" text-anchor="middle" font-weight="bold" fill="#111" transform="rotate(1.7 688.3 539.1)" >100</text>
<line x1="690.1" y1="526.6" x2="689.5" y2="529.6" stroke="#333" stroke-width="0.8" />
<text x="557.8" y="546.2" font-size="8.6" text-anchor="middle" font-weight="bold" fill="#111" transform="rotate(1.7 557.8 546.2)" >Sedimentation Coefficient corrected for Water at 20 °C (S)</text>
<text x="423.2" y="399.8" font-size="12.5" text-anchor="start" font-weight="bold" fill="#111" >d</text>
<rect x="738" y="355.3" width="17.6" height="92.6" fill="url(#dcb)"/>
<line x1="755.6" y1="363.3" x2="757.2" y2="363.3" stroke="#444" stroke-width="0.6" />
<text x="758.2" y="365.9" font-size="7.3" text-anchor="start" font-weight="bold" fill="#111" >1.6</text>
<line x1="755.6" y1="383.4" x2="757.2" y2="383.4" stroke="#444" stroke-width="0.6" />
<text x="758.2" y="386" font-size="7.3" text-anchor="start" font-weight="bold" fill="#111" >1.4</text>
<line x1="755.6" y1="403.2" x2="757.2" y2="403.2" stroke="#444" stroke-width="0.6" />
<text x="758.2" y="405.8" font-size="7.3" text-anchor="start" font-weight="bold" fill="#111" >0.8</text>
<line x1="755.6" y1="424.8" x2="757.2" y2="424.8" stroke="#444" stroke-width="0.6" />
<text x="758.2" y="427.4" font-size="7.3" text-anchor="start" font-weight="bold" fill="#111" >0.4</text>
<line x1="755.6" y1="446.1" x2="757.2" y2="446.1" stroke="#444" stroke-width="0.6" />
<text x="758.2" y="448.7" font-size="7.3" text-anchor="start" font-weight="bold" fill="#111" >0</text>
</g>
<g>
<defs><filter id="sbl" x="-2%" y="-5%" width="104%" height="110%"><feGaussianBlur stdDeviation="1.15"/><feComponentTransfer><feFuncA type="linear" slope="4" intercept="-1.5"/></feComponentTransfer></filter><linearGradient id="p76" gradientUnits="userSpaceOnUse" x1="1041.9" x2="1136.2"><stop offset="0" stop-color="#72165e"/><stop offset=".357" stop-color="#340b31"/><stop offset="1" stop-color="#260925"/></linearGradient><linearGradient id="p75" gradientUnits="userSpaceOnUse" x1="1039.5" x2="1133.8"><stop offset="0" stop-color="#72165e"/><stop offset=".357" stop-color="#340b31"/><stop offset="1" stop-color="#260925"/></linearGradient><linearGradient id="p74" gradientUnits="userSpaceOnUse" x1="1037.2" x2="1131.5"><stop offset="0" stop-color="#72165e"/><stop offset=".357" stop-color="#340b31"/><stop offset="1" stop-color="#260925"/></linearGradient><linearGradient id="p73" gradientUnits="userSpaceOnUse" x1="1034.8" x2="1129.1"><stop offset="0" stop-color="#72165e"/><stop offset=".357" stop-color="#340b31"/><stop offset="1" stop-color="#260925"/></linearGradient><linearGradient id="p72" gradientUnits="userSpaceOnUse" x1="1032.4" x2="1126.7"><stop offset="0" stop-color="#72165e"/><stop offset=".357" stop-color="#340b31"/><stop offset="1" stop-color="#260925"/></linearGradient><linearGradient id="p71" gradientUnits="userSpaceOnUse" x1="1030" x2="1124.3"><stop offset="0" stop-color="#72165e"/><stop offset=".357" stop-color="#340b31"/><stop offset="1" stop-color="#260925"/></linearGradient><linearGradient id="p70" gradientUnits="userSpaceOnUse" x1="1027.7" x2="1122"><stop offset="0" stop-color="#72165e"/><stop offset=".357" stop-color="#340b31"/><stop offset="1" stop-color="#260925"/></linearGradient><linearGradient id="p69" gradientUnits="userSpaceOnUse" x1="1025.3" x2="1119.6"><stop offset="0" stop-color="#72165e"/><stop offset=".357" stop-color="#340b31"/><stop offset="1" stop-color="#260925"/></linearGradient><linearGradient id="p68" gradientUnits="userSpaceOnUse" x1="1022.9" x2="1117.2"><stop offset="0" stop-color="#72165e"/><stop offset=".357" stop-color="#340b31"/><stop offset="1" stop-color="#260925"/></linearGradient><linearGradient id="p67" gradientUnits="userSpaceOnUse" x1="1020.6" x2="1114.9"><stop offset="0" stop-color="#72165e"/><stop offset=".357" stop-color="#340b31"/><stop offset="1" stop-color="#260925"/></linearGradient><linearGradient id="p66" gradientUnits="userSpaceOnUse" x1="1018.2" x2="1112.5"><stop offset="0" stop-color="#72165e"/><stop offset=".357" stop-color="#340b31"/><stop offset="1" stop-color="#260925"/></linearGradient><linearGradient id="p65" gradientUnits="userSpaceOnUse" x1="1015.8" x2="1110.1"><stop offset="0" stop-color="#72165e"/><stop offset=".357" stop-color="#340b31"/><stop offset="1" stop-color="#260925"/></linearGradient><linearGradient id="p64" gradientUnits="userSpaceOnUse" x1="1013.4" x2="1107.7"><stop offset="0" stop-color="#72165e"/><stop offset=".357" stop-color="#340b31"/><stop offset="1" stop-color="#260925"/></linearGradient><linearGradient id="p63" gradientUnits="userSpaceOnUse" x1="1011.1" x2="1105.4"><stop offset="0" stop-color="#72165e"/><stop offset=".357" stop-color="#340b31"/><stop offset="1" stop-color="#260925"/></linearGradient><linearGradient id="p62" gradientUnits="userSpaceOnUse" x1="1008.7" x2="1103"><stop offset="0" stop-color="#72165e"/><stop offset=".357" stop-color="#340b31"/><stop offset="1" stop-color="#260925"/></linearGradient><linearGradient id="p61" gradientUnits="userSpaceOnUse" x1="1006.3" x2="1100.6"><stop offset="0" stop-color="#72165e"/><stop offset=".357" stop-color="#340b31"/><stop offset="1" stop-color="#260925"/></linearGradient><linearGradient id="p60" gradientUnits="userSpaceOnUse" x1="1003.9" x2="1098.2"><stop offset="0" stop-color="#72165e"/><stop offset=".357" stop-color="#340b31"/><stop offset="1" stop-color="#260925"/></linearGradient><linearGradient id="p59" gradientUnits="userSpaceOnUse" x1="1001.6" x2="1095.9"><stop offset="0" stop-color="#72165e"/><stop offset=".357" stop-color="#340b31"/><stop offset="1" stop-color="#260925"/></linearGradient><linearGradient id="p58" gradientUnits="userSpaceOnUse" x1="999.2" x2="1093.5"><stop offset="0" stop-color="#72165e"/><stop offset=".357" stop-color="#340b31"/><stop offset="1" stop-color="#260925"/></linearGradient><linearGradient id="p57" gradientUnits="userSpaceOnUse" x1="996.8" x2="1091.1"><stop offset="0" stop-color="#72165e"/><stop offset=".357" stop-color="#340b31"/><stop offset="1" stop-color="#260925"/></linearGradient><linearGradient id="p56" gradientUnits="userSpaceOnUse" x1="994.4" x2="1088.7"><stop offset="0" stop-color="#72165e"/><stop offset=".357" stop-color="#340b31"/><stop offset="1" stop-color="#260925"/></linearGradient><linearGradient id="p55" gradientUnits="userSpaceOnUse" x1="992.1" x2="1086.4"><stop offset="0" stop-color="#73165e"/><stop offset=".357" stop-color="#340b31"/><stop offset="1" stop-color="#260925"/></linearGradient><linearGradient id="p54" gradientUnits="userSpaceOnUse" x1="989.7" x2="1084"><stop offset="0" stop-color="#771661"/><stop offset=".32" stop-color="#360b32"/><stop offset="1" stop-color="#260925"/></linearGradient><linearGradient id="p53" gradientUnits="userSpaceOnUse" x1="987.3" x2="1081.6"><stop offset="0" stop-color="#7f1867"/><stop offset=".1" stop-color="#5a114c"/><stop offset=".431" stop-color="#310a2e"/><stop offset="1" stop-color="#260925"/></linearGradient><linearGradient id="p52" gradientUnits="userSpaceOnUse" x1="985" x2="1079.3"><stop offset="0" stop-color="#88196e"/><stop offset=".082" stop-color="#5e124f"/><stop offset=".412" stop-color="#320a2f"/><stop offset="1" stop-color="#260925"/></linearGradient><linearGradient id="p51" gradientUnits="userSpaceOnUse" x1="982.6" x2="1076.9"><stop offset="0" stop-color="#911b74"/><stop offset=".082" stop-color="#5e124f"/><stop offset=".412" stop-color="#320a2f"/><stop offset="1" stop-color="#260925"/></linearGradient><linearGradient id="p50" gradientUnits="userSpaceOnUse" x1="980.2" x2="1074.5"><stop offset="0" stop-color="#991d7a"/><stop offset=".1" stop-color="#5a114c"/><stop offset=".431" stop-color="#310a2e"/><stop offset="1" stop-color="#260925"/></linearGradient><linearGradient id="p49" gradientUnits="userSpaceOnUse" x1="977.8" x2="1072.1"><stop offset="0" stop-color="#9f207e"/><stop offset=".1" stop-color="#5b124d"/><stop offset=".431" stop-color="#310a2e"/><stop offset="1" stop-color="#260925"/></linearGradient><linearGradient id="p48" gradientUnits="userSpaceOnUse" x1="975.5" x2="1069.8"><stop offset="0" stop-color="#a52383"/><stop offset=".118" stop-color="#57114a"/><stop offset=".431" stop-color="#310a2e"/><stop offset="1" stop-color="#260925"/></linearGradient><linearGradient id="p47" gradientUnits="userSpaceOnUse" x1="973.1" x2="1067.4"><stop offset="0" stop-color="#ab2587"/><stop offset=".137" stop-color="#531047"/><stop offset=".449" stop-color="#310a2e"/><stop offset="1" stop-color="#260925"/></linearGradient><linearGradient id="p46" gradientUnits="userSpaceOnUse" x1="970.7" x2="1065"><stop offset="0" stop-color="#b3298d"/><stop offset=".155" stop-color="#501045"/><stop offset=".467" stop-color="#300a2d"/><stop offset="1" stop-color="#260925"/></linearGradient><linearGradient id="p45" gradientUnits="userSpaceOnUse" x1="968.3" x2="1062.6"><stop offset="0" stop-color="#ba2c92"/><stop offset=".174" stop-color="#4c0f42"/><stop offset=".504" stop-color="#2f0a2c"/><stop offset="1" stop-color="#260925"/></linearGradient><linearGradient id="p44" gradientUnits="userSpaceOnUse" x1="966" x2="1060.3"><stop offset="0" stop-color="#c22f98"/><stop offset=".192" stop-color="#490e40"/><stop offset=".559" stop-color="#2d0a2b"/><stop offset="1" stop-color="#260925"/></linearGradient><linearGradient id="p43" gradientUnits="userSpaceOnUse" x1="963.6" x2="1057.9"><stop offset="0" stop-color="#bf2e96"/><stop offset=".118" stop-color="#771661"/><stop offset=".229" stop-color="#410d3a"/><stop offset="1" stop-color="#260925"/></linearGradient><linearGradient id="p42" gradientUnits="userSpaceOnUse" x1="961.2" x2="1055.5"><stop offset="0" stop-color="#be2e95"/><stop offset=".045" stop-color="#a12180"/><stop offset=".137" stop-color="#71155d"/><stop offset=".247" stop-color="#3d0c37"/><stop offset="1" stop-color="#260925"/></linearGradient><linearGradient id="p41" gradientUnits="userSpaceOnUse" x1="958.8" x2="1053.1"><stop offset="0" stop-color="#9a3ca4"/><stop offset=".011" stop-color="#bf38a0"/><stop offset=".034" stop-color="#c8329c"/><stop offset=".137" stop-color="#6e155b"/><stop offset=".284" stop-color="#350b31"/><stop offset="1" stop-color="#260925"/></linearGradient><linearGradient id="p40" gradientUnits="userSpaceOnUse" x1="956.5" x2="1050.8"><stop offset="0" stop-color="#2951bb"/><stop offset=".034" stop-color="#3447b1"/><stop offset=".063" stop-color="#a23ba3"/><stop offset=".082" stop-color="#c3359e"/><stop offset=".1" stop-color="#c22f98"/><stop offset=".21" stop-color="#4c0f42"/><stop offset=".357" stop-color="#300a2d"/><stop offset="1" stop-color="#260925"/></linearGradient><linearGradient id="p39" gradientUnits="userSpaceOnUse" x1="954.1" x2="1048.4"><stop offset="0" stop-color="#47b457"/><stop offset=".011" stop-color="#36bbc2"/><stop offset=".022" stop-color="#2aa9e4"/><stop offset=".045" stop-color="#275dc3"/><stop offset=".082" stop-color="#2b4bb5"/><stop offset=".1" stop-color="#4745af"/><stop offset=".137" stop-color="#bf38a0"/><stop offset=".155" stop-color="#c6339d"/><stop offset=".21" stop-color="#8b1a70"/><stop offset=".265" stop-color="#470e3e"/><stop offset=".339" stop-color="#310a2e"/><stop offset="1" stop-color="#260925"/></linearGradient><linearGradient id="p38" gradientUnits="userSpaceOnUse" x1="951.7" x2="1046"><stop offset="0" stop-color="#68ba34"/><stop offset=".045" stop-color="#4db03f"/><stop offset=".063" stop-color="#3eb88e"/><stop offset=".082" stop-color="#28a5e3"/><stop offset=".1" stop-color="#276bcb"/><stop offset=".118" stop-color="#2951bb"/><stop offset=".155" stop-color="#2c49b3"/><stop offset=".21" stop-color="#bf38a0"/><stop offset=".229" stop-color="#c6339d"/><stop offset=".339" stop-color="#3a0c35"/><stop offset=".522" stop-color="#2c092a"/><stop offset="1" stop-color="#260925"/></linearGradient><linearGradient id="p37" gradientUnits="userSpaceOnUse" x1="949.4" x2="1043.7"><stop offset="0" stop-color="#f3911e"/><stop offset=".022" stop-color="#ead625"/><stop offset=".034" stop-color="#b7d32c"/><stop offset=".045" stop-color="#6ebc32"/><stop offset=".1" stop-color="#4eb03c"/><stop offset=".118" stop-color="#44b569"/><stop offset=".137" stop-color="#2db4e5"/><stop offset=".174" stop-color="#285cc2"/><stop offset=".229" stop-color="#2c49b3"/><stop offset=".265" stop-color="#9a3ca5"/><stop offset=".284" stop-color="#c0379f"/><stop offset=".302" stop-color="#c6339d"/><stop offset=".357" stop-color="#86196c"/><stop offset=".412" stop-color="#360b32"/><stop offset=".596" stop-color="#2a0928"/><stop offset="1" stop-color="#260925"/></linearGradient><linearGradient id="p36" gradientUnits="userSpaceOnUse" x1="947" x2="1041.3"><stop offset="0" stop-color="#e92a23"/><stop offset=".011" stop-color="#e8281f"/><stop offset=".045" stop-color="#f1791e"/><stop offset=".063" stop-color="#f5b81f"/><stop offset=".082" stop-color="#d4dc2a"/><stop offset=".1" stop-color="#6dbc32"/><stop offset=".174" stop-color="#4bb147"/><stop offset=".192" stop-color="#42b672"/><stop offset=".21" stop-color="#2db4e5"/><stop offset=".247" stop-color="#2854be"/><stop offset=".302" stop-color="#2c48b2"/><stop offset=".357" stop-color="#b239a1"/><stop offset=".394" stop-color="#c22f98"/><stop offset=".486" stop-color="#340b30"/><stop offset=".651" stop-color="#290927"/><stop offset="1" stop-color="#260925"/></linearGradient><linearGradient id="p35" gradientUnits="userSpaceOnUse" x1="944.6" x2="1038.9"><stop offset="0" stop-color="#eb312f"/><stop offset=".063" stop-color="#e92e1e"/><stop offset=".118" stop-color="#f2bf20"/><stop offset=".137" stop-color="#d7dd29"/><stop offset=".155" stop-color="#7fc131"/><stop offset=".192" stop-color="#62b736"/><stop offset=".229" stop-color="#50b13b"/><stop offset=".247" stop-color="#48b354"/><stop offset=".265" stop-color="#31bee0"/><stop offset=".302" stop-color="#257fd5"/><stop offset=".32" stop-color="#285ac1"/><stop offset=".394" stop-color="#2c48b2"/><stop offset=".449" stop-color="#c0379f"/><stop offset=".467" stop-color="#c7339c"/><stop offset=".541" stop-color="#410d3a"/><stop offset=".596" stop-color="#260925"/><stop offset="1" stop-color="#260925"/></linearGradient><linearGradient id="p34" gradientUnits="userSpaceOnUse" x1="942.2" x2="1036.5"><stop offset="0" stop-color="#ec3232"/><stop offset=".1" stop-color="#e82920"/><stop offset=".155" stop-color="#f38d1e"/><stop offset=".192" stop-color="#ebd225"/><stop offset=".229" stop-color="#6aba33"/><stop offset=".302" stop-color="#4cb145"/><stop offset=".32" stop-color="#47b356"/><stop offset=".357" stop-color="#2fbae6"/><stop offset=".394" stop-color="#2581d7"/><stop offset=".412" stop-color="#285ac1"/><stop offset=".467" stop-color="#2b4ab4"/><stop offset=".486" stop-color="#4445af"/><stop offset=".522" stop-color="#bf379f"/><stop offset=".541" stop-color="#c7329b"/><stop offset=".614" stop-color="#380b33"/><stop offset=".688" stop-color="#250824"/><stop offset="1" stop-color="#260925"/></linearGradient><linearGradient id="p33" gradientUnits="userSpaceOnUse" x1="939.9" x2="1034.2"><stop offset="0" stop-color="#ec3131"/><stop offset=".137" stop-color="#e82920"/><stop offset=".192" stop-color="#f06c1e"/><stop offset=".229" stop-color="#ebd425"/><stop offset=".247" stop-color="#9ecb2e"/><stop offset=".265" stop-color="#69ba34"/><stop offset=".376" stop-color="#4eb03c"/><stop offset=".412" stop-color="#43b56e"/><stop offset=".431" stop-color="#34bccd"/><stop offset=".449" stop-color="#2bace4"/><stop offset=".504" stop-color="#2952bc"/><stop offset=".541" stop-color="#2c49b3"/><stop offset=".559" stop-color="#6142ac"/><stop offset=".578" stop-color="#ae3aa2"/><stop offset=".596" stop-color="#c4349e"/><stop offset=".633" stop-color="#9e1f7d"/><stop offset=".688" stop-color="#3a0c35"/><stop offset=".761" stop-color="#240824"/><stop offset="1" stop-color="#260925"/></linearGradient><linearGradient id="p32" gradientUnits="userSpaceOnUse" x1="937.5" x2="1031.8"><stop offset="0" stop-color="#ec3130"/><stop offset=".155" stop-color="#e8281e"/><stop offset=".192" stop-color="#ee5a1e"/><stop offset=".229" stop-color="#f3bd20"/><stop offset=".247" stop-color="#dcdf29"/><stop offset=".265" stop-color="#85c330"/><stop offset=".284" stop-color="#6abb33"/><stop offset=".431" stop-color="#4cb145"/><stop offset=".449" stop-color="#48b353"/><stop offset=".467" stop-color="#40b780"/><stop offset=".486" stop-color="#33bdd3"/><stop offset=".504" stop-color="#2baee4"/><stop offset=".522" stop-color="#2496e2"/><stop offset=".541" stop-color="#2769ca"/><stop offset=".559" stop-color="#2951bb"/><stop offset=".596" stop-color="#2c49b3"/><stop offset=".633" stop-color="#833ea7"/><stop offset=".651" stop-color="#b938a1"/><stop offset=".688" stop-color="#bf2e95"/><stop offset=".78" stop-color="#320a2f"/><stop offset=".871" stop-color="#250824"/><stop offset="1" stop-color="#260925"/></linearGradient><linearGradient id="p31" gradientUnits="userSpaceOnUse" x1="935.1" x2="1029.4"><stop offset="0" stop-color="#eb302e"/><stop offset=".137" stop-color="#e8291e"/><stop offset=".174" stop-color="#ee5d1e"/><stop offset=".21" stop-color="#f6b21e"/><stop offset=".229" stop-color="#e9db26"/><stop offset=".265" stop-color="#83c330"/><stop offset=".284" stop-color="#6abb33"/><stop offset=".431" stop-color="#4db140"/><stop offset=".467" stop-color="#47b458"/><stop offset=".486" stop-color="#3abaa7"/><stop offset=".504" stop-color="#32bddb"/><stop offset=".541" stop-color="#279fe3"/><stop offset=".559" stop-color="#266fcd"/><stop offset=".578" stop-color="#2853bd"/><stop offset=".651" stop-color="#2c48b2"/><stop offset=".725" stop-color="#be38a0"/><stop offset=".761" stop-color="#c6319b"/><stop offset=".89" stop-color="#350b31"/><stop offset="1" stop-color="#250924"/></linearGradient><linearGradient id="p30" gradientUnits="userSpaceOnUse" x1="932.7" x2="1027"><stop offset="0" stop-color="#eb2f2b"/><stop offset=".118" stop-color="#e92f1e"/><stop offset=".155" stop-color="#ee5d1e"/><stop offset=".192" stop-color="#f5b81f"/><stop offset=".21" stop-color="#e8dd27"/><stop offset=".229" stop-color="#a0cc2e"/><stop offset=".247" stop-color="#6ebc32"/><stop offset=".412" stop-color="#4eb03c"/><stop offset=".467" stop-color="#44b564"/><stop offset=".486" stop-color="#30bde6"/><stop offset=".541" stop-color="#259ae2"/><stop offset=".559" stop-color="#2859c1"/><stop offset=".669" stop-color="#2c48b2"/><stop offset=".706" stop-color="#5643ad"/><stop offset=".743" stop-color="#943ca5"/><stop offset=".78" stop-color="#be38a0"/><stop offset=".853" stop-color="#bf2e95"/><stop offset=".908" stop-color="#951c77"/><stop offset=".963" stop-color="#2e0a2c"/><stop offset="1" stop-color="#240823"/></linearGradient><linearGradient id="p29" gradientUnits="userSpaceOnUse" x1="930.4" x2="1024.7"><stop offset="0" stop-color="#ea2d29"/><stop offset=".082" stop-color="#e8281f"/><stop offset=".137" stop-color="#ef641e"/><stop offset=".174" stop-color="#f3bd20"/><stop offset=".192" stop-color="#e6e128"/><stop offset=".21" stop-color="#96c92f"/><stop offset=".229" stop-color="#6cbb33"/><stop offset=".394" stop-color="#4eb03c"/><stop offset=".449" stop-color="#44b566"/><stop offset=".467" stop-color="#3cb898"/><stop offset=".486" stop-color="#2aa9e4"/><stop offset=".541" stop-color="#2586d9"/><stop offset=".559" stop-color="#2951bb"/><stop offset=".669" stop-color="#3647b1"/><stop offset=".706" stop-color="#5943ad"/><stop offset=".725" stop-color="#973ca5"/><stop offset=".78" stop-color="#bf37a0"/><stop offset=".908" stop-color="#c5319a"/><stop offset=".963" stop-color="#8b1a70"/><stop offset="1" stop-color="#320a2f"/></linearGradient><linearGradient id="p28" gradientUnits="userSpaceOnUse" x1="928" x2="1022.3"><stop offset="0" stop-color="#ea2c26"/><stop offset=".063" stop-color="#e82a1e"/><stop offset=".118" stop-color="#ef6a1e"/><stop offset=".155" stop-color="#f3be20"/><stop offset=".174" stop-color="#dfe029"/><stop offset=".192" stop-color="#8dc62f"/><stop offset=".21" stop-color="#6bbb33"/><stop offset=".376" stop-color="#4cb142"/><stop offset=".412" stop-color="#46b459"/><stop offset=".449" stop-color="#31bedf"/><stop offset=".504" stop-color="#257dd5"/><stop offset=".559" stop-color="#2a4eb8"/><stop offset=".633" stop-color="#2c48b2"/><stop offset=".706" stop-color="#6341ab"/><stop offset=".725" stop-color="#b639a1"/><stop offset=".89" stop-color="#c33098"/><stop offset=".982" stop-color="#a92486"/><stop offset="1" stop-color="#8f1b73"/></linearGradient><linearGradient id="p27" gradientUnits="userSpaceOnUse" x1="925.6" x2="1019.9"><stop offset="0" stop-color="#e92a22"/><stop offset=".045" stop-color="#e9301e"/><stop offset=".1" stop-color="#f06f1e"/><stop offset=".137" stop-color="#f1c221"/><stop offset=".155" stop-color="#d8dd29"/><stop offset=".174" stop-color="#86c330"/><stop offset=".192" stop-color="#6aba33"/><stop offset=".339" stop-color="#4db140"/><stop offset=".376" stop-color="#46b458"/><stop offset=".412" stop-color="#2fbae6"/><stop offset=".467" stop-color="#276aca"/><stop offset=".522" stop-color="#2952bc"/><stop offset=".614" stop-color="#3447b1"/><stop offset=".706" stop-color="#6e40aa"/><stop offset=".725" stop-color="#c1369f"/><stop offset=".853" stop-color="#c02e96"/><stop offset="1" stop-color="#ae2789"/></linearGradient><linearGradient id="p26" gradientUnits="userSpaceOnUse" x1="923.2" x2="1017.5"><stop offset="0" stop-color="#e8281f"/><stop offset=".063" stop-color="#ee5a1e"/><stop offset=".118" stop-color="#f0c622"/><stop offset=".137" stop-color="#cfdb2a"/><stop offset=".155" stop-color="#7bc031"/><stop offset=".21" stop-color="#5fb637"/><stop offset=".302" stop-color="#4db040"/><stop offset=".339" stop-color="#46b45a"/><stop offset=".357" stop-color="#38bab3"/><stop offset=".376" stop-color="#2cb2e5"/><stop offset=".412" stop-color="#267ad3"/><stop offset=".431" stop-color="#285bc2"/><stop offset=".559" stop-color="#2c48b2"/><stop offset=".688" stop-color="#7b3fa8"/><stop offset=".706" stop-color="#813ea8"/><stop offset=".725" stop-color="#c4349d"/><stop offset="1" stop-color="#a52383"/></linearGradient><linearGradient id="p25" gradientUnits="userSpaceOnUse" x1="921.5" x2="1015.8"><stop offset="0" stop-color="#e9301e"/><stop offset=".063" stop-color="#f06f1e"/><stop offset=".1" stop-color="#f2bf20"/><stop offset=".118" stop-color="#dfe029"/><stop offset=".137" stop-color="#87c430"/><stop offset=".155" stop-color="#6aba33"/><stop offset=".284" stop-color="#4bb146"/><stop offset=".302" stop-color="#48b354"/><stop offset=".32" stop-color="#3fb785"/><stop offset=".339" stop-color="#30bee6"/><stop offset=".394" stop-color="#275ec3"/><stop offset=".541" stop-color="#2c48b2"/><stop offset=".578" stop-color="#5743ad"/><stop offset=".706" stop-color="#953ca5"/><stop offset=".725" stop-color="#c7339c"/><stop offset="1" stop-color="#9e1f7e"/></linearGradient><linearGradient id="p24" gradientUnits="userSpaceOnUse" x1="920.3" x2="1014.6"><stop offset="0" stop-color="#ea391e"/><stop offset=".045" stop-color="#ef641e"/><stop offset=".1" stop-color="#ebd325"/><stop offset=".118" stop-color="#afd02d"/><stop offset=".137" stop-color="#6cbb33"/><stop offset=".265" stop-color="#4cb145"/><stop offset=".284" stop-color="#47b355"/><stop offset=".302" stop-color="#3eb88f"/><stop offset=".32" stop-color="#2fbae6"/><stop offset=".357" stop-color="#2677d1"/><stop offset=".376" stop-color="#2856bf"/><stop offset=".522" stop-color="#3447b1"/><stop offset=".596" stop-color="#763fa9"/><stop offset=".706" stop-color="#a83aa3"/><stop offset=".725" stop-color="#c5319a"/><stop offset=".982" stop-color="#9a1e7b"/><stop offset="1" stop-color="#9a1e7b"/></linearGradient><linearGradient id="p23" gradientUnits="userSpaceOnUse" x1="919.2" x2="1013.5"><stop offset="0" stop-color="#eb421e"/><stop offset=".045" stop-color="#f0731e"/><stop offset=".082" stop-color="#f1c121"/><stop offset=".1" stop-color="#d8de29"/><stop offset=".118" stop-color="#7ec131"/><stop offset=".155" stop-color="#62b836"/><stop offset=".247" stop-color="#4bb146"/><stop offset=".265" stop-color="#47b355"/><stop offset=".302" stop-color="#2db5e5"/><stop offset=".339" stop-color="#2670cd"/><stop offset=".357" stop-color="#2854be"/><stop offset=".486" stop-color="#2d48b2"/><stop offset=".614" stop-color="#983ca5"/><stop offset=".725" stop-color="#be2d94"/><stop offset="1" stop-color="#951c77"/></linearGradient><linearGradient id="p22" gradientUnits="userSpaceOnUse" x1="918" x2="1012.3"><stop offset="0" stop-color="#ec4b1e"/><stop offset=".045" stop-color="#f2861e"/><stop offset=".082" stop-color="#ead625"/><stop offset=".118" stop-color="#6bbb33"/><stop offset=".229" stop-color="#4bb147"/><stop offset=".247" stop-color="#47b356"/><stop offset=".265" stop-color="#3ab9a7"/><stop offset=".284" stop-color="#2cb1e5"/><stop offset=".32" stop-color="#2768c9"/><stop offset=".339" stop-color="#2853bd"/><stop offset=".449" stop-color="#2f48b2"/><stop offset=".614" stop-color="#b039a2"/><stop offset=".706" stop-color="#c1369f"/><stop offset=".761" stop-color="#ac2688"/><stop offset="1" stop-color="#8d1a71"/></linearGradient><linearGradient id="p21" gradientUnits="userSpaceOnUse" x1="916.8" x2="1011.1"><stop offset="0" stop-color="#ed541e"/><stop offset=".034" stop-color="#f2831e"/><stop offset=".063" stop-color="#f1c421"/><stop offset=".082" stop-color="#d1db2a"/><stop offset=".1" stop-color="#73bd32"/><stop offset=".21" stop-color="#4bb147"/><stop offset=".229" stop-color="#47b457"/><stop offset=".247" stop-color="#38bab4"/><stop offset=".265" stop-color="#2bace4"/><stop offset=".302" stop-color="#2760c4"/><stop offset=".376" stop-color="#2b4cb6"/><stop offset=".412" stop-color="#2c48b2"/><stop offset=".578" stop-color="#b339a1"/><stop offset=".706" stop-color="#c4349e"/><stop offset=".743" stop-color="#a92486"/><stop offset="1" stop-color="#85196c"/></linearGradient><linearGradient id="p20" gradientUnits="userSpaceOnUse" x1="915.7" x2="1010"><stop offset="0" stop-color="#ee5e1e"/><stop offset=".045" stop-color="#f6b21e"/><stop offset=".063" stop-color="#e9d826"/><stop offset=".082" stop-color="#9dcb2e"/><stop offset=".1" stop-color="#6aba33"/><stop offset=".192" stop-color="#4bb146"/><stop offset=".21" stop-color="#46b458"/><stop offset=".229" stop-color="#36bbc2"/><stop offset=".247" stop-color="#29a7e4"/><stop offset=".284" stop-color="#2856bf"/><stop offset=".394" stop-color="#3247b1"/><stop offset=".541" stop-color="#b939a1"/><stop offset=".706" stop-color="#c7339c"/><stop offset=".725" stop-color="#a82485"/><stop offset="1" stop-color="#7e1866"/></linearGradient><linearGradient id="p19" gradientUnits="userSpaceOnUse" x1="914.5" x2="1008.8"><stop offset="0" stop-color="#ef691e"/><stop offset=".045" stop-color="#f0c522"/><stop offset=".063" stop-color="#cad92a"/><stop offset=".082" stop-color="#6dbc32"/><stop offset=".174" stop-color="#4bb146"/><stop offset=".192" stop-color="#46b45a"/><stop offset=".21" stop-color="#34bcd0"/><stop offset=".229" stop-color="#27a1e3"/><stop offset=".265" stop-color="#2853bd"/><stop offset=".357" stop-color="#2c48b2"/><stop offset=".504" stop-color="#b939a1"/><stop offset=".688" stop-color="#c12f97"/><stop offset=".706" stop-color="#be2e95"/><stop offset=".725" stop-color="#a12180"/><stop offset="1" stop-color="#761661"/></linearGradient><linearGradient id="p18" gradientUnits="userSpaceOnUse" x1="913.3" x2="1007.6"><stop offset="0" stop-color="#f1781e"/><stop offset=".045" stop-color="#e9da26"/><stop offset=".063" stop-color="#91c72f"/><stop offset=".082" stop-color="#68ba34"/><stop offset=".155" stop-color="#4bb146"/><stop offset=".174" stop-color="#45b461"/><stop offset=".192" stop-color="#31bee0"/><stop offset=".21" stop-color="#269be3"/><stop offset=".229" stop-color="#276dcb"/><stop offset=".247" stop-color="#2853bd"/><stop offset=".339" stop-color="#3747b1"/><stop offset=".467" stop-color="#b939a1"/><stop offset=".614" stop-color="#c43099"/><stop offset=".706" stop-color="#b0288b"/><stop offset=".743" stop-color="#971d79"/><stop offset="1" stop-color="#6f155c"/></linearGradient><linearGradient id="p17" gradientUnits="userSpaceOnUse" x1="912.2" x2="1006.5"><stop offset="0" stop-color="#f28a1e"/><stop offset=".034" stop-color="#ead726"/><stop offset=".045" stop-color="#c2d62b"/><stop offset=".063" stop-color="#6bbb33"/><stop offset=".137" stop-color="#4bb146"/><stop offset=".155" stop-color="#44b569"/><stop offset=".174" stop-color="#2fbbe6"/><stop offset=".192" stop-color="#2495e1"/><stop offset=".21" stop-color="#2762c6"/><stop offset=".265" stop-color="#2b4cb6"/><stop offset=".302" stop-color="#2d48b2"/><stop offset=".431" stop-color="#b939a1"/><stop offset=".559" stop-color="#c5319a"/><stop offset=".706" stop-color="#a42282"/><stop offset=".78" stop-color="#86196d"/><stop offset="1" stop-color="#691457"/></linearGradient><linearGradient id="p16" gradientUnits="userSpaceOnUse" x1="911" x2="1005.3"><stop offset="0" stop-color="#f49f1e"/><stop offset=".022" stop-color="#ebd325"/><stop offset=".034" stop-color="#cad92a"/><stop offset=".045" stop-color="#81c230"/><stop offset=".063" stop-color="#65b935"/><stop offset=".118" stop-color="#4bb146"/><stop offset=".137" stop-color="#42b672"/><stop offset=".155" stop-color="#2db5e5"/><stop offset=".174" stop-color="#258bdc"/><stop offset=".192" stop-color="#2856bf"/><stop offset=".265" stop-color="#2c49b3"/><stop offset=".394" stop-color="#b938a1"/><stop offset=".522" stop-color="#c12f97"/><stop offset=".706" stop-color="#981d7a"/><stop offset=".761" stop-color="#801868"/><stop offset="1" stop-color="#621352"/></linearGradient><linearGradient id="p15" gradientUnits="userSpaceOnUse" x1="909.8" x2="1004.1"><stop offset="0" stop-color="#f5b61e"/><stop offset=".022" stop-color="#d2dc2a"/><stop offset=".034" stop-color="#87c430"/><stop offset=".045" stop-color="#69ba34"/><stop offset=".1" stop-color="#4cb145"/><stop offset=".118" stop-color="#41b67b"/><stop offset=".137" stop-color="#2cb0e5"/><stop offset=".174" stop-color="#2853bd"/><stop offset=".247" stop-color="#3247b1"/><stop offset=".357" stop-color="#b938a1"/><stop offset=".467" stop-color="#c5319a"/><stop offset=".816" stop-color="#6f155b"/><stop offset="1" stop-color="#5b124d"/></linearGradient><linearGradient id="p14" gradientUnits="userSpaceOnUse" x1="908.7" x2="1003"><stop offset="0" stop-color="#eeca23"/><stop offset=".011" stop-color="#dbde29"/><stop offset=".022" stop-color="#8cc530"/><stop offset=".034" stop-color="#68ba34"/><stop offset=".082" stop-color="#4cb145"/><stop offset=".1" stop-color="#3fb785"/><stop offset=".118" stop-color="#2aa9e4"/><stop offset=".137" stop-color="#2673cf"/><stop offset=".155" stop-color="#2952bc"/><stop offset=".21" stop-color="#2c49b3"/><stop offset=".32" stop-color="#b938a1"/><stop offset=".431" stop-color="#c22f98"/><stop offset=".798" stop-color="#691457"/><stop offset="1" stop-color="#551048"/></linearGradient><linearGradient id="p13" gradientUnits="userSpaceOnUse" x1="907.5" x2="1001.8"><stop offset="0" stop-color="#e6e228"/><stop offset=".011" stop-color="#92c72f"/><stop offset=".022" stop-color="#68ba34"/><stop offset=".063" stop-color="#4cb144"/><stop offset=".082" stop-color="#3db896"/><stop offset=".1" stop-color="#28a3e3"/><stop offset=".118" stop-color="#2765c7"/><stop offset=".155" stop-color="#2a4db7"/><stop offset=".192" stop-color="#3946b0"/><stop offset=".284" stop-color="#ba38a1"/><stop offset=".394" stop-color="#c02e96"/><stop offset=".743" stop-color="#671456"/><stop offset="1" stop-color="#4e0f44"/></linearGradient><linearGradient id="p12" gradientUnits="userSpaceOnUse" x1="906.3" x2="1000.6"><stop offset="0" stop-color="#98c92e"/><stop offset=".011" stop-color="#67ba34"/><stop offset=".045" stop-color="#4cb143"/><stop offset=".063" stop-color="#39baab"/><stop offset=".082" stop-color="#259be2"/><stop offset=".1" stop-color="#2855bf"/><stop offset=".155" stop-color="#2c48b2"/><stop offset=".247" stop-color="#ba38a1"/><stop offset=".339" stop-color="#c43099"/><stop offset=".688" stop-color="#631353"/><stop offset="1" stop-color="#480e3f"/></linearGradient><linearGradient id="p11" gradientUnits="userSpaceOnUse" x1="905.2" x2="999.5"><stop offset="0" stop-color="#66b935"/><stop offset=".022" stop-color="#50b13b"/><stop offset=".034" stop-color="#48b353"/><stop offset=".045" stop-color="#36bbc2"/><stop offset=".063" stop-color="#258edd"/><stop offset=".082" stop-color="#2853bd"/><stop offset=".118" stop-color="#2b4ab4"/><stop offset=".21" stop-color="#ba38a1"/><stop offset=".302" stop-color="#c22f97"/><stop offset=".633" stop-color="#611351"/><stop offset="1" stop-color="#420d3b"/></linearGradient><linearGradient id="p10" gradientUnits="userSpaceOnUse" x1="904" x2="998.3"><stop offset="0" stop-color="#55b33a"/><stop offset=".011" stop-color="#4bb248"/><stop offset=".022" stop-color="#3bb9a2"/><stop offset=".034" stop-color="#2aa9e4"/><stop offset=".045" stop-color="#267cd4"/><stop offset=".063" stop-color="#2951bb"/><stop offset=".1" stop-color="#2f48b2"/><stop offset=".174" stop-color="#ba38a0"/><stop offset=".247" stop-color="#c7329b"/><stop offset=".559" stop-color="#621352"/><stop offset=".835" stop-color="#470e3e"/><stop offset="1" stop-color="#3c0c36"/></linearGradient><linearGradient id="p9" gradientUnits="userSpaceOnUse" x1="902.9" x2="997.2"><stop offset="0" stop-color="#42b674"/><stop offset=".011" stop-color="#2baee4"/><stop offset=".034" stop-color="#2853bd"/><stop offset=".063" stop-color="#2b4ab4"/><stop offset=".137" stop-color="#ba38a0"/><stop offset=".21" stop-color="#c43099"/><stop offset=".486" stop-color="#631353"/><stop offset=".743" stop-color="#450e3d"/><stop offset="1" stop-color="#360b32"/></linearGradient><linearGradient id="p8" gradientUnits="userSpaceOnUse" x1="901.7" x2="996"><stop offset="0" stop-color="#267dd4"/><stop offset=".011" stop-color="#2952bc"/><stop offset=".045" stop-color="#3647b1"/><stop offset=".1" stop-color="#ba38a0"/><stop offset=".174" stop-color="#c12f97"/><stop offset=".431" stop-color="#601251"/><stop offset=".706" stop-color="#370b32"/><stop offset="1" stop-color="#340b30"/></linearGradient><linearGradient id="p7" gradientUnits="userSpaceOnUse" x1="900.5" x2="994.8"><stop offset="0" stop-color="#2a4db7"/><stop offset=".011" stop-color="#2c49b3"/><stop offset=".063" stop-color="#ba38a1"/><stop offset=".118" stop-color="#c8329c"/><stop offset=".357" stop-color="#621352"/><stop offset=".669" stop-color="#340b30"/><stop offset="1" stop-color="#310a2e"/></linearGradient><linearGradient id="p6" gradientUnits="userSpaceOnUse" x1="899.4" x2="993.7"><stop offset="0" stop-color="#6841ab"/><stop offset=".022" stop-color="#af39a2"/><stop offset=".045" stop-color="#c2369e"/><stop offset=".1" stop-color="#b82b90"/><stop offset=".32" stop-color="#59114b"/><stop offset=".596" stop-color="#330b2f"/><stop offset="1" stop-color="#2f0a2c"/></linearGradient><linearGradient id="p5" gradientUnits="userSpaceOnUse" x1="898.2" x2="992.5"><stop offset="0" stop-color="#c1369f"/><stop offset=".045" stop-color="#bf2e95"/><stop offset=".247" stop-color="#59114c"/><stop offset=".486" stop-color="#330b2f"/><stop offset="1" stop-color="#2d0a2b"/></linearGradient><linearGradient id="p4" gradientUnits="userSpaceOnUse" x1="897" x2="991.3"><stop offset="0" stop-color="#bf2e96"/><stop offset=".174" stop-color="#5a114c"/><stop offset=".376" stop-color="#330b2f"/><stop offset="1" stop-color="#2b0929"/></linearGradient><linearGradient id="p3" gradientUnits="userSpaceOnUse" x1="895.9" x2="990.2"><stop offset="0" stop-color="#9e1f7e"/><stop offset=".118" stop-color="#531047"/><stop offset=".284" stop-color="#320a2f"/><stop offset="1" stop-color="#290927"/></linearGradient><linearGradient id="p2" gradientUnits="userSpaceOnUse" x1="894.7" x2="989"><stop offset="0" stop-color="#6e155b"/><stop offset=".118" stop-color="#370b33"/><stop offset=".927" stop-color="#280926"/><stop offset="1" stop-color="#270926"/></linearGradient><linearGradient id="p1" gradientUnits="userSpaceOnUse" x1="893.5" x2="987.8"><stop offset="0" stop-color="#3f0d38"/><stop offset=".302" stop-color="#270926"/><stop offset="1" stop-color="#250924"/></linearGradient><linearGradient id="p0" gradientUnits="userSpaceOnUse" x1="892.4" x2="986.7"><stop offset="0" stop-color="#2a0928"/><stop offset="1" stop-color="#230823"/></linearGradient><linearGradient id="pf" gradientUnits="userSpaceOnUse" x1="891.8" x2="1043.1"><stop offset="0" stop-color="#661455"/><stop offset="0.027" stop-color="#c6339d"/><stop offset="0.034" stop-color="#c0379f"/><stop offset="0.04" stop-color="#903da6"/><stop offset="0.047" stop-color="#4a44ae"/><stop offset="0.054" stop-color="#2a4db7"/><stop offset="0.06" stop-color="#2768c9"/><stop offset="0.067" stop-color="#38bbb5"/><stop offset="0.074" stop-color="#50b13c"/><stop offset="0.087" stop-color="#6ebc32"/><stop offset="0.094" stop-color="#e8dc27"/><stop offset="0.114" stop-color="#f2821e"/><stop offset="0.154" stop-color="#e82b1e"/><stop offset="0.248" stop-color="#ed3b3b"/><stop offset="0.309" stop-color="#f69898"/><stop offset="0.342" stop-color="#f7a9a9"/><stop offset="0.349" stop-color="#f6a2a2"/><stop offset="0.356" stop-color="#f37a7a"/><stop offset="0.362" stop-color="#ed3838"/><stop offset="0.376" stop-color="#e8291f"/><stop offset="0.383" stop-color="#ef611e"/><stop offset="0.389" stop-color="#f6b51e"/><stop offset="0.396" stop-color="#aacf2d"/><stop offset="0.403" stop-color="#65b835"/><stop offset="0.409" stop-color="#56b33a"/><stop offset="0.416" stop-color="#47b355"/><stop offset="0.423" stop-color="#28a4e3"/><stop offset="0.43" stop-color="#2853bd"/><stop offset="0.436" stop-color="#2b4cb6"/><stop offset="0.443" stop-color="#4d44ae"/><stop offset="0.45" stop-color="#ad3aa2"/><stop offset="0.456" stop-color="#c3359e"/><stop offset="0.49" stop-color="#bd38a0"/><stop offset="0.617" stop-color="#c02e96"/><stop offset="1" stop-color="#b52a8e"/></linearGradient><linearGradient id="q72" gradientUnits="userSpaceOnUse" x1="1206.5" x2="1298"><stop offset="0" stop-color="#5943ad"/><stop offset=".063" stop-color="#bf38a0"/><stop offset="1" stop-color="#c22f98"/></linearGradient><linearGradient id="q71" gradientUnits="userSpaceOnUse" x1="1204.1" x2="1295.6"><stop offset="0" stop-color="#3f46b0"/><stop offset=".045" stop-color="#9c3ba4"/><stop offset=".082" stop-color="#bf379f"/><stop offset="1" stop-color="#c22f98"/></linearGradient><linearGradient id="q70" gradientUnits="userSpaceOnUse" x1="1201.7" x2="1293.2"><stop offset="0" stop-color="#2c49b3"/><stop offset=".045" stop-color="#853ea7"/><stop offset=".082" stop-color="#b839a1"/><stop offset=".927" stop-color="#c43099"/><stop offset="1" stop-color="#c22f98"/></linearGradient><linearGradient id="q69" gradientUnits="userSpaceOnUse" x1="1199.2" x2="1290.7"><stop offset="0" stop-color="#2b4bb5"/><stop offset=".1" stop-color="#b539a1"/><stop offset=".357" stop-color="#c5349d"/><stop offset="1" stop-color="#c22f98"/></linearGradient><linearGradient id="q68" gradientUnits="userSpaceOnUse" x1="1196.8" x2="1288.3"><stop offset="0" stop-color="#2a4db7"/><stop offset=".022" stop-color="#2c48b2"/><stop offset=".118" stop-color="#b139a2"/><stop offset=".174" stop-color="#c1369f"/><stop offset="1" stop-color="#c22f98"/></linearGradient><linearGradient id="q67" gradientUnits="userSpaceOnUse" x1="1194.4" x2="1285.9"><stop offset="0" stop-color="#2950ba"/><stop offset=".045" stop-color="#2c48b2"/><stop offset=".155" stop-color="#be38a0"/><stop offset="1" stop-color="#c22f98"/></linearGradient><linearGradient id="q66" gradientUnits="userSpaceOnUse" x1="1192" x2="1283.5"><stop offset="0" stop-color="#2952bc"/><stop offset=".063" stop-color="#2c49b3"/><stop offset=".174" stop-color="#bb38a0"/><stop offset="1" stop-color="#c22f98"/></linearGradient><linearGradient id="q65" gradientUnits="userSpaceOnUse" x1="1189.6" x2="1281.1"><stop offset="0" stop-color="#2763c6"/><stop offset=".022" stop-color="#2952bc"/><stop offset=".1" stop-color="#3147b1"/><stop offset=".192" stop-color="#b339a1"/><stop offset=".265" stop-color="#c2369f"/><stop offset="1" stop-color="#c22f98"/></linearGradient><linearGradient id="q64" gradientUnits="userSpaceOnUse" x1="1187.1" x2="1278.6"><stop offset="0" stop-color="#2582d7"/><stop offset=".034" stop-color="#2854be"/><stop offset=".118" stop-color="#2c49b3"/><stop offset=".229" stop-color="#bd38a0"/><stop offset="1" stop-color="#c22f98"/></linearGradient><linearGradient id="q63" gradientUnits="userSpaceOnUse" x1="1184.7" x2="1276.2"><stop offset="0" stop-color="#2599e2"/><stop offset=".063" stop-color="#2854be"/><stop offset=".155" stop-color="#2c48b2"/><stop offset=".265" stop-color="#be38a0"/><stop offset="1" stop-color="#c22f98"/></linearGradient><linearGradient id="q62" gradientUnits="userSpaceOnUse" x1="1182.3" x2="1273.8"><stop offset="0" stop-color="#29a7e4"/><stop offset=".063" stop-color="#2676d0"/><stop offset=".1" stop-color="#2853bd"/><stop offset=".192" stop-color="#2f48b2"/><stop offset=".284" stop-color="#b039a2"/><stop offset=".32" stop-color="#c0379f"/><stop offset="1" stop-color="#c22f98"/></linearGradient><linearGradient id="q61" gradientUnits="userSpaceOnUse" x1="1179.9" x2="1271.4"><stop offset="0" stop-color="#2db3e5"/><stop offset=".082" stop-color="#2677d1"/><stop offset=".118" stop-color="#2853bd"/><stop offset=".229" stop-color="#3047b1"/><stop offset=".32" stop-color="#b139a2"/><stop offset=".376" stop-color="#c1369f"/><stop offset="1" stop-color="#c22f98"/></linearGradient><linearGradient id="q60" gradientUnits="userSpaceOnUse" x1="1177.5" x2="1269"><stop offset="0" stop-color="#32bdda"/><stop offset=".034" stop-color="#2bace4"/><stop offset=".118" stop-color="#2762c5"/><stop offset=".174" stop-color="#2950ba"/><stop offset=".265" stop-color="#3147b1"/><stop offset=".357" stop-color="#b139a2"/><stop offset=".412" stop-color="#c1369f"/><stop offset="1" stop-color="#c22f98"/></linearGradient><linearGradient id="q59" gradientUnits="userSpaceOnUse" x1="1175.1" x2="1266.6"><stop offset="0" stop-color="#3fb78a"/><stop offset=".045" stop-color="#2fbbe6"/><stop offset=".118" stop-color="#2670cd"/><stop offset=".174" stop-color="#2952bc"/><stop offset=".302" stop-color="#3147b1"/><stop offset=".394" stop-color="#b039a2"/><stop offset=".449" stop-color="#c1369f"/><stop offset="1" stop-color="#c22f98"/></linearGradient><linearGradient id="q58" gradientUnits="userSpaceOnUse" x1="1172.6" x2="1264.1"><stop offset="0" stop-color="#4ab24d"/><stop offset=".034" stop-color="#46b459"/><stop offset=".063" stop-color="#36bbc0"/><stop offset=".082" stop-color="#2cafe5"/><stop offset=".155" stop-color="#2856bf"/><stop offset=".339" stop-color="#2f48b2"/><stop offset=".449" stop-color="#be38a0"/><stop offset="1" stop-color="#c22f98"/></linearGradient><linearGradient id="q57" gradientUnits="userSpaceOnUse" x1="1170.2" x2="1261.7"><stop offset="0" stop-color="#52b13b"/><stop offset=".045" stop-color="#4ab24c"/><stop offset=".063" stop-color="#46b45d"/><stop offset=".082" stop-color="#36bbbe"/><stop offset=".1" stop-color="#2aaae4"/><stop offset=".174" stop-color="#2854be"/><stop offset=".376" stop-color="#2c48b2"/><stop offset=".486" stop-color="#be38a0"/><stop offset="1" stop-color="#c22f98"/></linearGradient><linearGradient id="q56" gradientUnits="userSpaceOnUse" x1="1167.8" x2="1259.3"><stop offset="0" stop-color="#5cb538"/><stop offset=".045" stop-color="#4fb03c"/><stop offset=".063" stop-color="#4ab24b"/><stop offset=".082" stop-color="#43b66f"/><stop offset=".1" stop-color="#31bedf"/><stop offset=".155" stop-color="#2676d1"/><stop offset=".192" stop-color="#2855bf"/><stop offset=".412" stop-color="#2c48b2"/><stop offset=".522" stop-color="#ba38a0"/><stop offset="1" stop-color="#c22f98"/></linearGradient><linearGradient id="q55" gradientUnits="userSpaceOnUse" x1="1165.4" x2="1256.9"><stop offset="0" stop-color="#66b934"/><stop offset=".063" stop-color="#4eb03d"/><stop offset=".082" stop-color="#48b352"/><stop offset=".118" stop-color="#2db5e5"/><stop offset=".21" stop-color="#2859c1"/><stop offset=".449" stop-color="#2c49b3"/><stop offset=".522" stop-color="#883da7"/><stop offset=".559" stop-color="#b739a1"/><stop offset=".945" stop-color="#c5319a"/><stop offset="1" stop-color="#c22f98"/></linearGradient><linearGradient id="q54" gradientUnits="userSpaceOnUse" x1="1163" x2="1254.5"><stop offset="0" stop-color="#81c230"/><stop offset=".022" stop-color="#64b835"/><stop offset=".082" stop-color="#4bb146"/><stop offset=".1" stop-color="#45b563"/><stop offset=".118" stop-color="#35bcc9"/><stop offset=".137" stop-color="#2bafe4"/><stop offset=".247" stop-color="#2854be"/><stop offset=".486" stop-color="#2c49b3"/><stop offset=".522" stop-color="#4e44ae"/><stop offset=".596" stop-color="#b439a1"/><stop offset=".725" stop-color="#c4349d"/><stop offset="1" stop-color="#c22f98"/></linearGradient><linearGradient id="q53" gradientUnits="userSpaceOnUse" x1="1160.5" x2="1252"><stop offset="0" stop-color="#e1e028"/><stop offset=".034" stop-color="#6cbb32"/><stop offset=".1" stop-color="#4cb142"/><stop offset=".118" stop-color="#41b678"/><stop offset=".137" stop-color="#30bee5"/><stop offset=".265" stop-color="#2856bf"/><stop offset=".541" stop-color="#3347b1"/><stop offset=".633" stop-color="#b039a2"/><stop offset=".688" stop-color="#c2369f"/><stop offset="1" stop-color="#c22f98"/></linearGradient><linearGradient id="q52" gradientUnits="userSpaceOnUse" x1="1158.1" x2="1249.6"><stop offset="0" stop-color="#f3be20"/><stop offset=".045" stop-color="#dddf29"/><stop offset=".063" stop-color="#8fc62f"/><stop offset=".082" stop-color="#66b934"/><stop offset=".118" stop-color="#4bb146"/><stop offset=".155" stop-color="#2fb9e6"/><stop offset=".284" stop-color="#285ac1"/><stop offset=".578" stop-color="#2f48b2"/><stop offset=".688" stop-color="#be38a0"/><stop offset="1" stop-color="#c22f98"/></linearGradient><linearGradient id="q51" gradientUnits="userSpaceOnUse" x1="1155.7" x2="1247.2"><stop offset="0" stop-color="#f3921e"/><stop offset=".045" stop-color="#f0c622"/><stop offset=".063" stop-color="#e2e128"/><stop offset=".082" stop-color="#86c330"/><stop offset=".1" stop-color="#64b835"/><stop offset=".137" stop-color="#49b34f"/><stop offset=".155" stop-color="#39bab0"/><stop offset=".174" stop-color="#2eb6e5"/><stop offset=".32" stop-color="#2854be"/><stop offset=".614" stop-color="#2c48b2"/><stop offset=".725" stop-color="#b938a1"/><stop offset="1" stop-color="#c22f98"/></linearGradient><linearGradient id="q50" gradientUnits="userSpaceOnUse" x1="1153.3" x2="1244.8"><stop offset="0" stop-color="#f06b1e"/><stop offset=".045" stop-color="#f5ac1e"/><stop offset=".063" stop-color="#edcc23"/><stop offset=".082" stop-color="#c7d82b"/><stop offset=".1" stop-color="#6cbb33"/><stop offset=".137" stop-color="#51b13b"/><stop offset=".155" stop-color="#47b457"/><stop offset=".174" stop-color="#36bbc3"/><stop offset=".192" stop-color="#2db4e5"/><stop offset=".339" stop-color="#2856bf"/><stop offset=".651" stop-color="#2c49b3"/><stop offset=".706" stop-color="#6a41ab"/><stop offset=".761" stop-color="#b439a1"/><stop offset=".945" stop-color="#c7329b"/><stop offset="1" stop-color="#c22f98"/></linearGradient><linearGradient id="q49" gradientUnits="userSpaceOnUse" x1="1150.9" x2="1242.4"><stop offset="0" stop-color="#ed501e"/><stop offset=".045" stop-color="#f38e1e"/><stop offset=".082" stop-color="#e8db27"/><stop offset=".1" stop-color="#96c92f"/><stop offset=".118" stop-color="#66b934"/><stop offset=".155" stop-color="#4db03f"/><stop offset=".174" stop-color="#43b670"/><stop offset=".192" stop-color="#33bdd4"/><stop offset=".21" stop-color="#2cb1e5"/><stop offset=".357" stop-color="#2857c0"/><stop offset=".688" stop-color="#2c49b3"/><stop offset=".725" stop-color="#4f44ae"/><stop offset=".798" stop-color="#b339a1"/><stop offset=".927" stop-color="#c7339c"/><stop offset="1" stop-color="#c22f98"/></linearGradient><linearGradient id="q48" gradientUnits="userSpaceOnUse" x1="1148.4" x2="1239.9"><stop offset="0" stop-color="#ea381e"/><stop offset=".045" stop-color="#f06a1e"/><stop offset=".082" stop-color="#f0c622"/><stop offset=".1" stop-color="#bcd52b"/><stop offset=".118" stop-color="#6bbb33"/><stop offset=".155" stop-color="#53b23a"/><stop offset=".174" stop-color="#4ab24c"/><stop offset=".21" stop-color="#30bee5"/><stop offset=".357" stop-color="#275fc4"/><stop offset=".669" stop-color="#2b4bb5"/><stop offset=".725" stop-color="#2c48b2"/><stop offset=".835" stop-color="#b939a1"/><stop offset="1" stop-color="#c22f98"/></linearGradient><linearGradient id="q47" gradientUnits="userSpaceOnUse" x1="1146" x2="1237.5"><stop offset="0" stop-color="#e8291f"/><stop offset=".034" stop-color="#ea3b1e"/><stop offset=".063" stop-color="#f06b1e"/><stop offset=".082" stop-color="#f5a81e"/><stop offset=".1" stop-color="#dddf29"/><stop offset=".118" stop-color="#6dbc32"/><stop offset=".174" stop-color="#4eb03d"/><stop offset=".192" stop-color="#47b457"/><stop offset=".21" stop-color="#39bab0"/><stop offset=".229" stop-color="#2eb9e5"/><stop offset=".394" stop-color="#2855bf"/><stop offset=".761" stop-color="#3347b1"/><stop offset=".853" stop-color="#b139a2"/><stop offset=".927" stop-color="#c5349d"/><stop offset="1" stop-color="#c22f98"/></linearGradient><linearGradient id="q46" gradientUnits="userSpaceOnUse" x1="1143.6" x2="1235.1"><stop offset="0" stop-color="#e92b24"/><stop offset=".045" stop-color="#e9331e"/><stop offset=".063" stop-color="#ed521e"/><stop offset=".082" stop-color="#f2841e"/><stop offset=".1" stop-color="#ead525"/><stop offset=".118" stop-color="#7cc031"/><stop offset=".174" stop-color="#51b13b"/><stop offset=".192" stop-color="#4ab24b"/><stop offset=".21" stop-color="#41b67d"/><stop offset=".229" stop-color="#33bdd1"/><stop offset=".247" stop-color="#2cb2e5"/><stop offset=".394" stop-color="#285ac1"/><stop offset=".78" stop-color="#3147b1"/><stop offset=".871" stop-color="#b039a2"/><stop offset=".927" stop-color="#c3359e"/><stop offset="1" stop-color="#c22f98"/></linearGradient><linearGradient id="q45" gradientUnits="userSpaceOnUse" x1="1141.2" x2="1232.7"><stop offset="0" stop-color="#ea2d27"/><stop offset=".045" stop-color="#e8291f"/><stop offset=".082" stop-color="#f06b1e"/><stop offset=".1" stop-color="#f1c421"/><stop offset=".118" stop-color="#94c82f"/><stop offset=".137" stop-color="#67b934"/><stop offset=".192" stop-color="#4cb142"/><stop offset=".21" stop-color="#46b458"/><stop offset=".229" stop-color="#39baae"/><stop offset=".247" stop-color="#2eb9e5"/><stop offset=".394" stop-color="#275fc4"/><stop offset=".798" stop-color="#2c48b2"/><stop offset=".835" stop-color="#6d40aa"/><stop offset=".853" stop-color="#af3aa2"/><stop offset=".871" stop-color="#c7339d"/><stop offset=".945" stop-color="#9e1f7e"/><stop offset=".963" stop-color="#a02180"/><stop offset=".982" stop-color="#bb2c93"/><stop offset="1" stop-color="#bc2d93"/></linearGradient><linearGradient id="q44" gradientUnits="userSpaceOnUse" x1="1138.8" x2="1230.3"><stop offset="0" stop-color="#ea2e2a"/><stop offset=".045" stop-color="#e92a22"/><stop offset=".063" stop-color="#ea361e"/><stop offset=".082" stop-color="#ee5d1e"/><stop offset=".1" stop-color="#f6b11e"/><stop offset=".118" stop-color="#abcf2d"/><stop offset=".137" stop-color="#69ba34"/><stop offset=".192" stop-color="#4eb03c"/><stop offset=".21" stop-color="#48b353"/><stop offset=".247" stop-color="#30bee6"/><stop offset=".376" stop-color="#2769ca"/><stop offset=".467" stop-color="#2853bd"/><stop offset=".798" stop-color="#2c49b3"/><stop offset=".816" stop-color="#4345af"/><stop offset=".835" stop-color="#7b3fa8"/><stop offset=".853" stop-color="#c6339d"/><stop offset=".871" stop-color="#821869"/><stop offset=".89" stop-color="#4f1045"/><stop offset=".908" stop-color="#350b31"/><stop offset=".945" stop-color="#320a2f"/><stop offset=".982" stop-color="#b3298d"/><stop offset="1" stop-color="#b62a8f"/></linearGradient><linearGradient id="q43" gradientUnits="userSpaceOnUse" x1="1136.4" x2="1227.9"><stop offset="0" stop-color="#eb2f2c"/><stop offset=".063" stop-color="#e82b1e"/><stop offset=".082" stop-color="#ed521e"/><stop offset=".1" stop-color="#f4991e"/><stop offset=".118" stop-color="#c3d72b"/><stop offset=".137" stop-color="#6abb33"/><stop offset=".192" stop-color="#4fb03c"/><stop offset=".21" stop-color="#49b350"/><stop offset=".229" stop-color="#3fb789"/><stop offset=".247" stop-color="#31bddd"/><stop offset=".32" stop-color="#2586d9"/><stop offset=".449" stop-color="#2854be"/><stop offset=".798" stop-color="#3147b1"/><stop offset=".816" stop-color="#5d42ac"/><stop offset=".835" stop-color="#be38a0"/><stop offset=".853" stop-color="#9f207f"/><stop offset=".871" stop-color="#561149"/><stop offset=".89" stop-color="#340b30"/><stop offset=".927" stop-color="#2c0a2a"/><stop offset=".945" stop-color="#380b33"/><stop offset=".963" stop-color="#a0207f"/><stop offset=".982" stop-color="#b52a8e"/><stop offset="1" stop-color="#b52a8e"/></linearGradient><linearGradient id="q42" gradientUnits="userSpaceOnUse" x1="1133.9" x2="1225.4"><stop offset="0" stop-color="#eb2f2d"/><stop offset=".063" stop-color="#e8281f"/><stop offset=".082" stop-color="#ec491e"/><stop offset=".1" stop-color="#f2831e"/><stop offset=".118" stop-color="#dbdf29"/><stop offset=".137" stop-color="#6cbb33"/><stop offset=".192" stop-color="#50b13b"/><stop offset=".21" stop-color="#49b24e"/><stop offset=".229" stop-color="#40b783"/><stop offset=".247" stop-color="#32bdd8"/><stop offset=".284" stop-color="#27a0e3"/><stop offset=".431" stop-color="#2854be"/><stop offset=".78" stop-color="#2c49b3"/><stop offset=".798" stop-color="#4a44ae"/><stop offset=".835" stop-color="#c5319a"/><stop offset=".853" stop-color="#72165e"/><stop offset=".871" stop-color="#410d3a"/><stop offset=".908" stop-color="#2c0a2a"/><stop offset=".927" stop-color="#2d0a2b"/><stop offset=".963" stop-color="#b2288c"/><stop offset="1" stop-color="#b52a8e"/></linearGradient><linearGradient id="q41" gradientUnits="userSpaceOnUse" x1="1131.5" x2="1223"><stop offset="0" stop-color="#eb302e"/><stop offset=".063" stop-color="#e82920"/><stop offset=".082" stop-color="#eb421e"/><stop offset=".1" stop-color="#f0731e"/><stop offset=".118" stop-color="#e8dc27"/><stop offset=".137" stop-color="#6dbc32"/><stop offset=".192" stop-color="#50b13b"/><stop offset=".21" stop-color="#4ab24d"/><stop offset=".229" stop-color="#41b67d"/><stop offset=".247" stop-color="#33bdd4"/><stop offset=".284" stop-color="#27a1e3"/><stop offset=".431" stop-color="#2854be"/><stop offset=".761" stop-color="#2c49b3"/><stop offset=".78" stop-color="#3a46b0"/><stop offset=".798" stop-color="#6941ab"/><stop offset=".816" stop-color="#c0379f"/><stop offset=".835" stop-color="#9f207e"/><stop offset=".853" stop-color="#5a114c"/><stop offset=".871" stop-color="#350b31"/><stop offset=".927" stop-color="#2d0a2b"/><stop offset=".945" stop-color="#5a114c"/><stop offset=".963" stop-color="#9a1e7b"/><stop offset="1" stop-color="#b52a8e"/></linearGradient><linearGradient id="q40" gradientUnits="userSpaceOnUse" x1="1129.1" x2="1220.6"><stop offset="0" stop-color="#eb302e"/><stop offset=".063" stop-color="#e92a21"/><stop offset=".082" stop-color="#ea3c1e"/><stop offset=".1" stop-color="#ef691e"/><stop offset=".118" stop-color="#ebd225"/><stop offset=".137" stop-color="#6ebc32"/><stop offset=".192" stop-color="#51b13b"/><stop offset=".21" stop-color="#4ab24b"/><stop offset=".229" stop-color="#41b678"/><stop offset=".247" stop-color="#33bcd0"/><stop offset=".265" stop-color="#2cb1e5"/><stop offset=".394" stop-color="#2760c5"/><stop offset=".541" stop-color="#2952bc"/><stop offset=".761" stop-color="#2c48b2"/><stop offset=".78" stop-color="#5543ad"/><stop offset=".798" stop-color="#9b3ca4"/><stop offset=".816" stop-color="#c22f98"/><stop offset=".835" stop-color="#7a1763"/><stop offset=".853" stop-color="#480e3f"/><stop offset=".871" stop-color="#300a2d"/><stop offset=".945" stop-color="#2f0a2c"/><stop offset=".963" stop-color="#4d0f43"/><stop offset=".982" stop-color="#951c77"/><stop offset="1" stop-color="#b0278b"/></linearGradient><linearGradient id="q39" gradientUnits="userSpaceOnUse" x1="1126.7" x2="1218.2"><stop offset="0" stop-color="#eb302f"/><stop offset=".063" stop-color="#e92a22"/><stop offset=".082" stop-color="#ea391e"/><stop offset=".1" stop-color="#ef631e"/><stop offset=".118" stop-color="#eecb23"/><stop offset=".137" stop-color="#75be31"/><stop offset=".21" stop-color="#4ab24a"/><stop offset=".229" stop-color="#42b673"/><stop offset=".247" stop-color="#34bccd"/><stop offset=".265" stop-color="#2cb1e5"/><stop offset=".394" stop-color="#2760c4"/><stop offset=".578" stop-color="#2951bb"/><stop offset=".743" stop-color="#2c49b3"/><stop offset=".761" stop-color="#4445af"/><stop offset=".78" stop-color="#783fa9"/><stop offset=".798" stop-color="#c2369e"/><stop offset=".816" stop-color="#a0207f"/><stop offset=".835" stop-color="#5f1250"/><stop offset=".853" stop-color="#370b33"/><stop offset=".963" stop-color="#300a2d"/><stop offset=".982" stop-color="#58114b"/><stop offset="1" stop-color="#9c1f7c"/></linearGradient><linearGradient id="q38" gradientUnits="userSpaceOnUse" x1="1124.3" x2="1215.8"><stop offset="0" stop-color="#eb302f"/><stop offset=".063" stop-color="#e92a22"/><stop offset=".082" stop-color="#ea371e"/><stop offset=".1" stop-color="#ef611e"/><stop offset=".118" stop-color="#efc722"/><stop offset=".137" stop-color="#7cc031"/><stop offset=".174" stop-color="#5ab538"/><stop offset=".21" stop-color="#4bb249"/><stop offset=".229" stop-color="#43b56f"/><stop offset=".247" stop-color="#34bcc9"/><stop offset=".265" stop-color="#2cb2e5"/><stop offset=".394" stop-color="#275fc4"/><stop offset=".633" stop-color="#2a4fb9"/><stop offset=".743" stop-color="#3547b1"/><stop offset=".761" stop-color="#6142ac"/><stop offset=".78" stop-color="#ad3aa2"/><stop offset=".798" stop-color="#bd2d94"/><stop offset=".835" stop-color="#4a0f41"/><stop offset=".853" stop-color="#310a2e"/><stop offset=".982" stop-color="#320a2f"/><stop offset="1" stop-color="#641353"/></linearGradient><linearGradient id="q37" gradientUnits="userSpaceOnUse" x1="1121.8" x2="1213.3"><stop offset="0" stop-color="#eb312f"/><stop offset=".063" stop-color="#e92a22"/><stop offset=".082" stop-color="#ea381e"/><stop offset=".1" stop-color="#ef621e"/><stop offset=".118" stop-color="#f0c722"/><stop offset=".137" stop-color="#7ec131"/><stop offset=".174" stop-color="#5bb538"/><stop offset=".21" stop-color="#4bb248"/><stop offset=".229" stop-color="#43b56b"/><stop offset=".247" stop-color="#35bcc7"/><stop offset=".265" stop-color="#2db3e5"/><stop offset=".394" stop-color="#275fc4"/><stop offset=".725" stop-color="#2c48b2"/><stop offset=".743" stop-color="#5044ae"/><stop offset=".78" stop-color="#c4349e"/><stop offset=".798" stop-color="#9d1f7d"/><stop offset=".816" stop-color="#5f1250"/><stop offset=".835" stop-color="#370b33"/><stop offset=".982" stop-color="#2c0a2a"/><stop offset="1" stop-color="#340b30"/></linearGradient><linearGradient id="q36" gradientUnits="userSpaceOnUse" x1="1119.4" x2="1210.9"><stop offset="0" stop-color="#eb302e"/><stop offset=".063" stop-color="#e92a21"/><stop offset=".082" stop-color="#ea3d1e"/><stop offset=".1" stop-color="#ef691e"/><stop offset=".118" stop-color="#edce24"/><stop offset=".137" stop-color="#77bf31"/><stop offset=".21" stop-color="#4bb248"/><stop offset=".229" stop-color="#44b569"/><stop offset=".247" stop-color="#35bcc4"/><stop offset=".265" stop-color="#2db3e5"/><stop offset=".394" stop-color="#275ec4"/><stop offset=".706" stop-color="#2c49b3"/><stop offset=".725" stop-color="#4145af"/><stop offset=".743" stop-color="#7040aa"/><stop offset=".761" stop-color="#bf38a0"/><stop offset=".78" stop-color="#b4298e"/><stop offset=".816" stop-color="#480e3f"/><stop offset=".835" stop-color="#310a2d"/><stop offset="1" stop-color="#2c0a2a"/></linearGradient><linearGradient id="q35" gradientUnits="userSpaceOnUse" x1="1117" x2="1208.5"><stop offset="0" stop-color="#eb2f2c"/><stop offset=".063" stop-color="#e8281f"/><stop offset=".082" stop-color="#ec481e"/><stop offset=".1" stop-color="#f17c1e"/><stop offset=".118" stop-color="#e8dd27"/><stop offset=".137" stop-color="#6dbc32"/><stop offset=".21" stop-color="#4bb248"/><stop offset=".229" stop-color="#44b568"/><stop offset=".247" stop-color="#36bbc2"/><stop offset=".265" stop-color="#2db4e5"/><stop offset=".394" stop-color="#275dc3"/><stop offset=".706" stop-color="#3447b1"/><stop offset=".725" stop-color="#5f42ac"/><stop offset=".743" stop-color="#a33ba3"/><stop offset=".761" stop-color="#c7329c"/><stop offset=".798" stop-color="#5b124d"/><stop offset=".816" stop-color="#350b31"/><stop offset="1" stop-color="#2c0a2a"/></linearGradient><linearGradient id="q34" gradientUnits="userSpaceOnUse" x1="1114.6" x2="1206.1"><stop offset="0" stop-color="#ea2d28"/><stop offset=".063" stop-color="#e9351e"/><stop offset=".082" stop-color="#ed571e"/><stop offset=".1" stop-color="#f49e1e"/><stop offset=".118" stop-color="#c4d72b"/><stop offset=".137" stop-color="#6bbb33"/><stop offset=".21" stop-color="#4bb249"/><stop offset=".229" stop-color="#44b568"/><stop offset=".247" stop-color="#36bbc1"/><stop offset=".265" stop-color="#2db4e5"/><stop offset=".394" stop-color="#275dc3"/><stop offset=".688" stop-color="#2c48b2"/><stop offset=".706" stop-color="#5243ad"/><stop offset=".743" stop-color="#c3359e"/><stop offset=".761" stop-color="#a82485"/><stop offset=".798" stop-color="#430d3b"/><stop offset=".835" stop-color="#2c0a2a"/><stop offset="1" stop-color="#2c0a2a"/></linearGradient><linearGradient id="q33" gradientUnits="userSpaceOnUse" x1="1112.2" x2="1203.7"><stop offset="0" stop-color="#e92b24"/><stop offset=".045" stop-color="#e92c1e"/><stop offset=".082" stop-color="#f06d1e"/><stop offset=".1" stop-color="#f1c421"/><stop offset=".118" stop-color="#98c92e"/><stop offset=".137" stop-color="#68ba34"/><stop offset=".192" stop-color="#50b13b"/><stop offset=".229" stop-color="#44b569"/><stop offset=".247" stop-color="#36bbc0"/><stop offset=".265" stop-color="#2db5e5"/><stop offset=".394" stop-color="#285cc2"/><stop offset=".669" stop-color="#2c49b3"/><stop offset=".688" stop-color="#4745af"/><stop offset=".706" stop-color="#783fa9"/><stop offset=".725" stop-color="#bf37a0"/><stop offset=".743" stop-color="#b92c92"/><stop offset=".78" stop-color="#521046"/><stop offset=".798" stop-color="#330b30"/><stop offset="1" stop-color="#2c0a2a"/></linearGradient><linearGradient id="q32" gradientUnits="userSpaceOnUse" x1="1109.8" x2="1201.3"><stop offset="0" stop-color="#e8281f"/><stop offset=".045" stop-color="#eb421e"/><stop offset=".063" stop-color="#ee5c1e"/><stop offset=".082" stop-color="#f3961e"/><stop offset=".1" stop-color="#e3e128"/><stop offset=".118" stop-color="#6ebc32"/><stop offset=".192" stop-color="#4fb03c"/><stop offset=".21" stop-color="#4ab24c"/><stop offset=".229" stop-color="#42b670"/><stop offset=".247" stop-color="#35bcc4"/><stop offset=".265" stop-color="#2db4e5"/><stop offset=".394" stop-color="#285bc2"/><stop offset=".651" stop-color="#2c49b3"/><stop offset=".669" stop-color="#3f46b0"/><stop offset=".688" stop-color="#6b40aa"/><stop offset=".706" stop-color="#b239a2"/><stop offset=".725" stop-color="#c8329c"/><stop offset=".78" stop-color="#3a0c35"/><stop offset=".871" stop-color="#2c0a2a"/><stop offset="1" stop-color="#2c0a2a"/></linearGradient><linearGradient id="q31" gradientUnits="userSpaceOnUse" x1="1107.3" x2="1198.8"><stop offset="0" stop-color="#eb3f1e"/><stop offset=".045" stop-color="#ee5e1e"/><stop offset=".063" stop-color="#f2831e"/><stop offset=".082" stop-color="#f0c522"/><stop offset=".1" stop-color="#acd02d"/><stop offset=".118" stop-color="#6bbb33"/><stop offset=".192" stop-color="#4eb03e"/><stop offset=".21" stop-color="#48b351"/><stop offset=".229" stop-color="#3fb787"/><stop offset=".247" stop-color="#33bdd6"/><stop offset=".284" stop-color="#28a2e3"/><stop offset=".412" stop-color="#2854be"/><stop offset=".633" stop-color="#2c49b3"/><stop offset=".651" stop-color="#3846b0"/><stop offset=".669" stop-color="#6341ab"/><stop offset=".688" stop-color="#a23ba3"/><stop offset=".706" stop-color="#c5349d"/><stop offset=".725" stop-color="#a62383"/><stop offset=".761" stop-color="#450e3d"/><stop offset=".798" stop-color="#2c0a2a"/><stop offset="1" stop-color="#2c0a2a"/></linearGradient><linearGradient id="q30" gradientUnits="userSpaceOnUse" x1="1104.9" x2="1196.4"><stop offset="0" stop-color="#ee581e"/><stop offset=".045" stop-color="#f3941e"/><stop offset=".063" stop-color="#f3be20"/><stop offset=".082" stop-color="#dddf29"/><stop offset=".1" stop-color="#85c330"/><stop offset=".118" stop-color="#68ba34"/><stop offset=".192" stop-color="#4bb146"/><stop offset=".21" stop-color="#46b45a"/><stop offset=".229" stop-color="#39baad"/><stop offset=".247" stop-color="#2fbae6"/><stop offset=".394" stop-color="#2856bf"/><stop offset=".633" stop-color="#3447b1"/><stop offset=".688" stop-color="#c3359e"/><stop offset=".706" stop-color="#b0288b"/><stop offset=".743" stop-color="#511046"/><stop offset=".761" stop-color="#330b30"/><stop offset="1" stop-color="#2c0a2a"/></linearGradient><linearGradient id="q29" gradientUnits="userSpaceOnUse" x1="1102.5" x2="1194"><stop offset="0" stop-color="#f0701e"/><stop offset=".045" stop-color="#f2c021"/><stop offset=".063" stop-color="#e8dc27"/><stop offset=".1" stop-color="#6dbc32"/><stop offset=".174" stop-color="#4eb03d"/><stop offset=".192" stop-color="#48b353"/><stop offset=".229" stop-color="#32bddc"/><stop offset=".302" stop-color="#2588db"/><stop offset=".394" stop-color="#2854be"/><stop offset=".614" stop-color="#3247b1"/><stop offset=".669" stop-color="#c2369f"/><stop offset=".688" stop-color="#b92b91"/><stop offset=".743" stop-color="#360b32"/><stop offset="1" stop-color="#2c0a2a"/></linearGradient><linearGradient id="q28" gradientUnits="userSpaceOnUse" x1="1100.1" x2="1191.6"><stop offset="0" stop-color="#f38d1e"/><stop offset=".045" stop-color="#ecd124"/><stop offset=".063" stop-color="#ccda2a"/><stop offset=".082" stop-color="#83c330"/><stop offset=".1" stop-color="#68ba34"/><stop offset=".155" stop-color="#50b13b"/><stop offset=".174" stop-color="#49b24e"/><stop offset=".192" stop-color="#40b782"/><stop offset=".21" stop-color="#34bcce"/><stop offset=".229" stop-color="#2db4e5"/><stop offset=".376" stop-color="#2854be"/><stop offset=".596" stop-color="#3247b1"/><stop offset=".651" stop-color="#c1369f"/><stop offset=".669" stop-color="#bf2e95"/><stop offset=".725" stop-color="#3f0d38"/><stop offset=".761" stop-color="#2c0a2a"/><stop offset="1" stop-color="#2c0a2a"/></linearGradient><linearGradient id="q27" gradientUnits="userSpaceOnUse" x1="1097.7" x2="1189.2"><stop offset="0" stop-color="#f5ad1e"/><stop offset=".045" stop-color="#dddf29"/><stop offset=".063" stop-color="#99ca2e"/><stop offset=".082" stop-color="#6abb33"/><stop offset=".137" stop-color="#51b13b"/><stop offset=".155" stop-color="#4ab24c"/><stop offset=".174" stop-color="#41b679"/><stop offset=".192" stop-color="#35bcc9"/><stop offset=".21" stop-color="#2eb6e5"/><stop offset=".376" stop-color="#2853bd"/><stop offset=".578" stop-color="#3647b1"/><stop offset=".633" stop-color="#c1369f"/><stop offset=".651" stop-color="#c23098"/><stop offset=".706" stop-color="#470e3f"/><stop offset=".725" stop-color="#300a2d"/><stop offset="1" stop-color="#2c0a2a"/></linearGradient><linearGradient id="q26" gradientUnits="userSpaceOnUse" x1="1095.2" x2="1186.7"><stop offset="0" stop-color="#eecc23"/><stop offset=".022" stop-color="#e5e228"/><stop offset=".063" stop-color="#6bbb33"/><stop offset=".118" stop-color="#51b13b"/><stop offset=".137" stop-color="#4ab24d"/><stop offset=".155" stop-color="#40b77e"/><stop offset=".174" stop-color="#34bccc"/><stop offset=".192" stop-color="#2eb6e5"/><stop offset=".302" stop-color="#2676d1"/><stop offset=".32" stop-color="#2588da"/><stop offset=".339" stop-color="#257fd5"/><stop offset=".357" stop-color="#2859c1"/><stop offset=".541" stop-color="#2c49b3"/><stop offset=".559" stop-color="#3d46b0"/><stop offset=".614" stop-color="#c1369f"/><stop offset=".633" stop-color="#c33098"/><stop offset=".706" stop-color="#320a2f"/><stop offset="1" stop-color="#2c0a2a"/></linearGradient><linearGradient id="q25" gradientUnits="userSpaceOnUse" x1="1093.4" x2="1184.9"><stop offset="0" stop-color="#dcdf29"/><stop offset=".034" stop-color="#6cbb32"/><stop offset=".1" stop-color="#50b13b"/><stop offset=".118" stop-color="#49b24e"/><stop offset=".137" stop-color="#40b782"/><stop offset=".155" stop-color="#34bccc"/><stop offset=".174" stop-color="#2eb7e5"/><stop offset=".284" stop-color="#2671ce"/><stop offset=".302" stop-color="#267ad3"/><stop offset=".32" stop-color="#28a4e3"/><stop offset=".339" stop-color="#279fe3"/><stop offset=".357" stop-color="#275ec3"/><stop offset=".467" stop-color="#2a4eb8"/><stop offset=".522" stop-color="#2c49b3"/><stop offset=".541" stop-color="#3a46b0"/><stop offset=".596" stop-color="#c0379f"/><stop offset=".614" stop-color="#c8329c"/><stop offset=".688" stop-color="#360b32"/><stop offset="1" stop-color="#2c0a2a"/></linearGradient><linearGradient id="q24" gradientUnits="userSpaceOnUse" x1="1092.2" x2="1183.7"><stop offset="0" stop-color="#a1cc2e"/><stop offset=".011" stop-color="#6dbc32"/><stop offset=".082" stop-color="#4eb03c"/><stop offset=".1" stop-color="#49b350"/><stop offset=".118" stop-color="#40b77f"/><stop offset=".137" stop-color="#35bcc4"/><stop offset=".155" stop-color="#2eb9e5"/><stop offset=".284" stop-color="#276dcb"/><stop offset=".302" stop-color="#267cd4"/><stop offset=".32" stop-color="#2cb2e5"/><stop offset=".339" stop-color="#2bade4"/><stop offset=".357" stop-color="#2760c5"/><stop offset=".412" stop-color="#2950ba"/><stop offset=".522" stop-color="#2f48b2"/><stop offset=".578" stop-color="#bb38a0"/><stop offset=".596" stop-color="#c5349d"/><stop offset=".633" stop-color="#9a1e7b"/><stop offset=".669" stop-color="#480e3f"/><stop offset=".688" stop-color="#300a2d"/><stop offset="1" stop-color="#2c0a2a"/></linearGradient><linearGradient id="q23" gradientUnits="userSpaceOnUse" x1="1090.9" x2="1182.4"><stop offset="0" stop-color="#6bbb33"/><stop offset=".063" stop-color="#4db03e"/><stop offset=".082" stop-color="#48b353"/><stop offset=".118" stop-color="#35bcc7"/><stop offset=".137" stop-color="#2fb9e6"/><stop offset=".247" stop-color="#267cd4"/><stop offset=".284" stop-color="#2768c9"/><stop offset=".302" stop-color="#2678d2"/><stop offset=".32" stop-color="#2cb0e5"/><stop offset=".339" stop-color="#2aabe4"/><stop offset=".357" stop-color="#285cc2"/><stop offset=".504" stop-color="#2c48b2"/><stop offset=".541" stop-color="#773fa9"/><stop offset=".559" stop-color="#aa3aa2"/><stop offset=".578" stop-color="#c2359e"/><stop offset=".596" stop-color="#c33098"/><stop offset=".669" stop-color="#360b32"/><stop offset="1" stop-color="#2c0a2a"/></linearGradient><linearGradient id="q22" gradientUnits="userSpaceOnUse" x1="1089.7" x2="1181.2"><stop offset="0" stop-color="#61b736"/><stop offset=".045" stop-color="#4db141"/><stop offset=".063" stop-color="#47b355"/><stop offset=".1" stop-color="#34bcce"/><stop offset=".118" stop-color="#2eb9e5"/><stop offset=".247" stop-color="#2676d1"/><stop offset=".284" stop-color="#2763c6"/><stop offset=".302" stop-color="#266dcc"/><stop offset=".32" stop-color="#269ee3"/><stop offset=".339" stop-color="#2598e2"/><stop offset=".357" stop-color="#2854be"/><stop offset=".486" stop-color="#2c49b3"/><stop offset=".522" stop-color="#6c40aa"/><stop offset=".559" stop-color="#c0379f"/><stop offset=".578" stop-color="#c7339c"/><stop offset=".614" stop-color="#971d79"/><stop offset=".651" stop-color="#460e3e"/><stop offset=".688" stop-color="#2c0a2a"/><stop offset="1" stop-color="#2c0a2a"/></linearGradient><linearGradient id="q21" gradientUnits="userSpaceOnUse" x1="1088.4" x2="1179.9"><stop offset="0" stop-color="#56b339"/><stop offset=".034" stop-color="#49b24e"/><stop offset=".045" stop-color="#46b459"/><stop offset=".063" stop-color="#3ab9a4"/><stop offset=".082" stop-color="#32bdd9"/><stop offset=".137" stop-color="#29a8e4"/><stop offset=".284" stop-color="#285cc2"/><stop offset=".302" stop-color="#275fc4"/><stop offset=".32" stop-color="#267cd4"/><stop offset=".339" stop-color="#2673cf"/><stop offset=".357" stop-color="#2952bc"/><stop offset=".467" stop-color="#2c49b3"/><stop offset=".486" stop-color="#3c46b0"/><stop offset=".541" stop-color="#bf38a0"/><stop offset=".578" stop-color="#ba2c92"/><stop offset=".651" stop-color="#350b31"/><stop offset="1" stop-color="#2c0a2a"/></linearGradient><linearGradient id="q20" gradientUnits="userSpaceOnUse" x1="1087.2" x2="1178.7"><stop offset="0" stop-color="#4cb143"/><stop offset=".022" stop-color="#45b45d"/><stop offset=".045" stop-color="#38bbb6"/><stop offset=".063" stop-color="#30bee5"/><stop offset=".21" stop-color="#267cd4"/><stop offset=".302" stop-color="#2854be"/><stop offset=".449" stop-color="#2b4ab4"/><stop offset=".467" stop-color="#3747b1"/><stop offset=".522" stop-color="#bb38a0"/><stop offset=".559" stop-color="#c12f97"/><stop offset=".596" stop-color="#8f1b73"/><stop offset=".633" stop-color="#400d39"/><stop offset=".669" stop-color="#2c0a2a"/><stop offset="1" stop-color="#2c0a2a"/></linearGradient><linearGradient id="q19" gradientUnits="userSpaceOnUse" x1="1086" x2="1177.5"><stop offset="0" stop-color="#43b670"/><stop offset=".034" stop-color="#32bdd8"/><stop offset=".063" stop-color="#2db4e5"/><stop offset=".21" stop-color="#2673cf"/><stop offset=".284" stop-color="#2853bd"/><stop offset=".431" stop-color="#2b4ab4"/><stop offset=".449" stop-color="#3747b1"/><stop offset=".504" stop-color="#b739a1"/><stop offset=".541" stop-color="#c6319b"/><stop offset=".578" stop-color="#991d7a"/><stop offset=".633" stop-color="#320a2f"/><stop offset="1" stop-color="#2c0a2a"/></linearGradient><linearGradient id="q18" gradientUnits="userSpaceOnUse" x1="1084.7" x2="1176.2"><stop offset="0" stop-color="#33bdd5"/><stop offset=".022" stop-color="#2fb9e6"/><stop offset=".174" stop-color="#267dd4"/><stop offset=".265" stop-color="#2853bd"/><stop offset=".412" stop-color="#2c49b3"/><stop offset=".431" stop-color="#3c46b0"/><stop offset=".486" stop-color="#b839a1"/><stop offset=".522" stop-color="#c8329c"/><stop offset=".578" stop-color="#801868"/><stop offset=".614" stop-color="#360b32"/><stop offset="1" stop-color="#2c0a2a"/></linearGradient><linearGradient id="q17" gradientUnits="userSpaceOnUse" x1="1083.5" x2="1175"><stop offset="0" stop-color="#2cb1e5"/><stop offset=".155" stop-color="#267cd4"/><stop offset=".247" stop-color="#2853bd"/><stop offset=".394" stop-color="#2c49b3"/><stop offset=".431" stop-color="#6a40aa"/><stop offset=".467" stop-color="#be38a0"/><stop offset=".504" stop-color="#c8329c"/><stop offset=".559" stop-color="#891a6f"/><stop offset=".596" stop-color="#3f0d39"/><stop offset=".633" stop-color="#2c0a2a"/><stop offset="1" stop-color="#2c0a2a"/></linearGradient><linearGradient id="q16" gradientUnits="userSpaceOnUse" x1="1082.2" x2="1173.7"><stop offset="0" stop-color="#27a1e3"/><stop offset=".155" stop-color="#2671ce"/><stop offset=".229" stop-color="#2853bd"/><stop offset=".376" stop-color="#2d48b2"/><stop offset=".449" stop-color="#bf37a0"/><stop offset=".486" stop-color="#c8329c"/><stop offset=".541" stop-color="#901b74"/><stop offset=".578" stop-color="#470e3f"/><stop offset=".614" stop-color="#2d0a2a"/><stop offset="1" stop-color="#2c0a2a"/></linearGradient><linearGradient id="q15" gradientUnits="userSpaceOnUse" x1="1081" x2="1172.5"><stop offset="0" stop-color="#2588da"/><stop offset=".155" stop-color="#285cc2"/><stop offset=".339" stop-color="#2c49b3"/><stop offset=".357" stop-color="#3b46b0"/><stop offset=".412" stop-color="#ad3aa2"/><stop offset=".449" stop-color="#c4349d"/><stop offset=".467" stop-color="#c7329b"/><stop offset=".522" stop-color="#941c77"/><stop offset=".578" stop-color="#330b30"/><stop offset="1" stop-color="#2c0a2a"/></linearGradient><linearGradient id="q14" gradientUnits="userSpaceOnUse" x1="1079.7" x2="1171.2"><stop offset="0" stop-color="#2854be"/><stop offset=".32" stop-color="#2c48b2"/><stop offset=".394" stop-color="#ba38a1"/><stop offset=".449" stop-color="#c43099"/><stop offset=".504" stop-color="#961c78"/><stop offset=".559" stop-color="#340b31"/><stop offset="1" stop-color="#2c0a2a"/></linearGradient><linearGradient id="q13" gradientUnits="userSpaceOnUse" x1="1078.5" x2="1170"><stop offset="0" stop-color="#2b4cb6"/><stop offset=".284" stop-color="#2c49b3"/><stop offset=".302" stop-color="#3847b1"/><stop offset=".376" stop-color="#bc38a0"/><stop offset=".431" stop-color="#c43099"/><stop offset=".486" stop-color="#961c78"/><stop offset=".541" stop-color="#360b32"/><stop offset="1" stop-color="#2c0a2a"/></linearGradient><linearGradient id="q12" gradientUnits="userSpaceOnUse" x1="1077.2" x2="1168.7"><stop offset="0" stop-color="#6e40aa"/><stop offset=".284" stop-color="#963ca5"/><stop offset=".339" stop-color="#c0379f"/><stop offset=".394" stop-color="#c5319a"/><stop offset=".467" stop-color="#83196a"/><stop offset=".522" stop-color="#340b31"/><stop offset="1" stop-color="#2b0929"/></linearGradient><linearGradient id="q11" gradientUnits="userSpaceOnUse" x1="1076" x2="1167.5"><stop offset="0" stop-color="#c7329c"/><stop offset=".339" stop-color="#901b74"/><stop offset=".486" stop-color="#330b30"/><stop offset=".871" stop-color="#290927"/><stop offset="1" stop-color="#290927"/></linearGradient><linearGradient id="q10" gradientUnits="userSpaceOnUse" x1="1074.8" x2="1166.3"><stop offset="0" stop-color="#85196c"/><stop offset=".302" stop-color="#310a2e"/><stop offset="1" stop-color="#270926"/></linearGradient><linearGradient id="q9" gradientUnits="userSpaceOnUse" x1="1073.5" x2="1165"><stop offset="0" stop-color="#4c0f42"/><stop offset=".339" stop-color="#2b0929"/><stop offset="1" stop-color="#270926"/></linearGradient><linearGradient id="q8" gradientUnits="userSpaceOnUse" x1="1072.3" x2="1163.8"><stop offset="0" stop-color="#340b30"/><stop offset="1" stop-color="#270926"/></linearGradient><linearGradient id="q7" gradientUnits="userSpaceOnUse" x1="1071" x2="1162.5"><stop offset="0" stop-color="#2c0a2a"/><stop offset="1" stop-color="#270926"/></linearGradient><linearGradient id="q6" gradientUnits="userSpaceOnUse" x1="1069.8" x2="1161.3"><stop offset="0" stop-color="#280927"/><stop offset="1" stop-color="#270926"/></linearGradient><linearGradient id="q5" gradientUnits="userSpaceOnUse" x1="1068.5" x2="1160"><stop offset="0" stop-color="#270926"/><stop offset="1" stop-color="#270926"/></linearGradient><linearGradient id="q4" gradientUnits="userSpaceOnUse" x1="1066.5" x2="1158"><stop offset="0" stop-color="#260925"/><stop offset="1" stop-color="#270926"/></linearGradient><linearGradient id="q3" gradientUnits="userSpaceOnUse" x1="1063.8" x2="1155.3"><stop offset="0" stop-color="#240823"/><stop offset="1" stop-color="#270926"/></linearGradient><linearGradient id="q2" gradientUnits="userSpaceOnUse" x1="1061" x2="1152.5"><stop offset="0" stop-color="#230823"/><stop offset="1" stop-color="#270926"/></linearGradient><linearGradient id="q1" gradientUnits="userSpaceOnUse" x1="1058.2" x2="1149.7"><stop offset="0" stop-color="#230822"/><stop offset="1" stop-color="#270926"/></linearGradient><linearGradient id="q0" gradientUnits="userSpaceOnUse" x1="1055.5" x2="1147"><stop offset="0" stop-color="#230822"/><stop offset="1" stop-color="#270926"/></linearGradient><linearGradient id="qf" gradientUnits="userSpaceOnUse" x1="1054.1" x2="1207.7"><stop offset="0" stop-color="#661455"/><stop offset="0.107" stop-color="#781762"/><stop offset="0.141" stop-color="#c1369f"/><stop offset="0.148" stop-color="#5643ad"/><stop offset="0.154" stop-color="#2a4db7"/><stop offset="0.161" stop-color="#2858c0"/><stop offset="0.168" stop-color="#27a0e3"/><stop offset="0.174" stop-color="#2fbbe6"/><stop offset="0.188" stop-color="#41b67a"/><stop offset="0.195" stop-color="#47b457"/><stop offset="0.215" stop-color="#55b33a"/><stop offset="0.228" stop-color="#67b934"/><stop offset="0.235" stop-color="#83c330"/><stop offset="0.242" stop-color="#e1e028"/><stop offset="0.262" stop-color="#f49e1e"/><stop offset="0.302" stop-color="#ec4a1e"/><stop offset="0.336" stop-color="#e92a21"/><stop offset="0.389" stop-color="#ec3636"/><stop offset="0.423" stop-color="#f38080"/><stop offset="0.477" stop-color="#f48686"/><stop offset="0.55" stop-color="#f05858"/><stop offset="0.577" stop-color="#ec3130"/><stop offset="0.644" stop-color="#e92f1e"/><stop offset="0.685" stop-color="#f3921e"/><stop offset="0.711" stop-color="#e6e128"/><stop offset="0.725" stop-color="#88c430"/><stop offset="0.732" stop-color="#6cbb33"/><stop offset="0.799" stop-color="#4ab24c"/><stop offset="0.819" stop-color="#46b45a"/><stop offset="0.859" stop-color="#31bee2"/><stop offset="0.899" stop-color="#257fd5"/><stop offset="0.926" stop-color="#2853bd"/><stop offset="1" stop-color="#2c49b3"/></linearGradient><linearGradient id="r63" gradientUnits="userSpaceOnUse" x1="1372.7" x2="1464.2"><stop offset="0" stop-color="#e92a22"/><stop offset=".011" stop-color="#ea391e"/><stop offset=".045" stop-color="#f5ac1e"/><stop offset=".063" stop-color="#e9d926"/><stop offset=".1" stop-color="#6ebc32"/><stop offset=".258" stop-color="#4cb145"/><stop offset=".295" stop-color="#46b45b"/><stop offset=".34" stop-color="#2fbce6"/><stop offset=".44" stop-color="#2670cd"/><stop offset=".504" stop-color="#2853bd"/><stop offset=".743" stop-color="#3347b1"/><stop offset=".798" stop-color="#6f40aa"/><stop offset=".835" stop-color="#bd38a0"/><stop offset=".853" stop-color="#c5349d"/><stop offset=".89" stop-color="#9e207e"/><stop offset=".945" stop-color="#350b31"/><stop offset="1" stop-color="#2f0a2c"/></linearGradient><linearGradient id="r62" gradientUnits="userSpaceOnUse" x1="1370.3" x2="1461.8"><stop offset="0" stop-color="#e92b24"/><stop offset=".011" stop-color="#eb421e"/><stop offset=".034" stop-color="#f6b41e"/><stop offset=".045" stop-color="#ead726"/><stop offset=".082" stop-color="#6cbb32"/><stop offset=".249" stop-color="#4bb146"/><stop offset=".285" stop-color="#46b45b"/><stop offset=".322" stop-color="#33bdd5"/><stop offset=".34" stop-color="#2db3e5"/><stop offset=".467" stop-color="#2854be"/><stop offset=".725" stop-color="#2d48b2"/><stop offset=".798" stop-color="#7f3ea8"/><stop offset=".835" stop-color="#c1369f"/><stop offset=".853" stop-color="#c8329c"/><stop offset=".89" stop-color="#931b76"/><stop offset=".927" stop-color="#420d3b"/><stop offset=".963" stop-color="#300a2d"/><stop offset="1" stop-color="#2e0a2c"/></linearGradient><linearGradient id="r61" gradientUnits="userSpaceOnUse" x1="1367.9" x2="1459.4"><stop offset="0" stop-color="#e92c25"/><stop offset=".011" stop-color="#ed501e"/><stop offset=".022" stop-color="#f5a41e"/><stop offset=".034" stop-color="#e8dd27"/><stop offset=".045" stop-color="#acd02d"/><stop offset=".063" stop-color="#6dbb32"/><stop offset=".24" stop-color="#4bb247"/><stop offset=".276" stop-color="#46b45a"/><stop offset=".313" stop-color="#32bdd7"/><stop offset=".322" stop-color="#2fb9e6"/><stop offset=".449" stop-color="#2854be"/><stop offset=".706" stop-color="#2c48b2"/><stop offset=".78" stop-color="#7240aa"/><stop offset=".816" stop-color="#bd38a0"/><stop offset=".853" stop-color="#bb2c93"/><stop offset=".927" stop-color="#360b32"/><stop offset="1" stop-color="#2e0a2b"/></linearGradient><linearGradient id="r60" gradientUnits="userSpaceOnUse" x1="1365.5" x2="1457"><stop offset="0" stop-color="#ea2c27"/><stop offset=".011" stop-color="#ed581e"/><stop offset=".022" stop-color="#f3bb20"/><stop offset=".034" stop-color="#c2d72b"/><stop offset=".045" stop-color="#8bc530"/><stop offset=".063" stop-color="#6aba33"/><stop offset=".229" stop-color="#4bb145"/><stop offset=".267" stop-color="#46b459"/><stop offset=".304" stop-color="#32bdd6"/><stop offset=".322" stop-color="#2cb0e5"/><stop offset=".44" stop-color="#2853bd"/><stop offset=".706" stop-color="#3147b1"/><stop offset=".78" stop-color="#813ea8"/><stop offset=".816" stop-color="#c1369f"/><stop offset=".835" stop-color="#c8329c"/><stop offset=".871" stop-color="#971c79"/><stop offset=".908" stop-color="#460e3e"/><stop offset=".945" stop-color="#300a2d"/><stop offset="1" stop-color="#2e0a2b"/></linearGradient><linearGradient id="r59" gradientUnits="userSpaceOnUse" x1="1363.1" x2="1454.6"><stop offset="0" stop-color="#ea2d28"/><stop offset=".011" stop-color="#ed571e"/><stop offset=".022" stop-color="#f2bf20"/><stop offset=".034" stop-color="#bad42c"/><stop offset=".045" stop-color="#83c330"/><stop offset=".063" stop-color="#69ba34"/><stop offset=".229" stop-color="#4bb248"/><stop offset=".265" stop-color="#45b561"/><stop offset=".302" stop-color="#2fbbe6"/><stop offset=".404" stop-color="#275dc3"/><stop offset=".688" stop-color="#2c48b2"/><stop offset=".761" stop-color="#733fa9"/><stop offset=".798" stop-color="#be38a0"/><stop offset=".835" stop-color="#bd2d94"/><stop offset=".871" stop-color="#85196b"/><stop offset=".908" stop-color="#380b33"/><stop offset="1" stop-color="#2d0a2b"/></linearGradient><linearGradient id="r58" gradientUnits="userSpaceOnUse" x1="1360.7" x2="1452.2"><stop offset="0" stop-color="#ea2e29"/><stop offset=".011" stop-color="#ed561e"/><stop offset=".022" stop-color="#f1c121"/><stop offset=".034" stop-color="#b6d32c"/><stop offset=".045" stop-color="#7ec131"/><stop offset=".082" stop-color="#63b835"/><stop offset=".21" stop-color="#4db141"/><stop offset=".258" stop-color="#46b45c"/><stop offset=".295" stop-color="#2fbce6"/><stop offset=".404" stop-color="#2856bf"/><stop offset=".688" stop-color="#3347b1"/><stop offset=".761" stop-color="#823ea7"/><stop offset=".798" stop-color="#c1369f"/><stop offset=".816" stop-color="#c7329c"/><stop offset=".853" stop-color="#981d7a"/><stop offset=".89" stop-color="#480e3f"/><stop offset=".908" stop-color="#330b2f"/><stop offset="1" stop-color="#2d0a2b"/></linearGradient><linearGradient id="r57" gradientUnits="userSpaceOnUse" x1="1358.3" x2="1449.8"><stop offset="0" stop-color="#ea2e2a"/><stop offset=".011" stop-color="#ed551e"/><stop offset=".022" stop-color="#f1c321"/><stop offset=".034" stop-color="#b3d22c"/><stop offset=".045" stop-color="#7ac031"/><stop offset=".1" stop-color="#5eb637"/><stop offset=".21" stop-color="#4cb143"/><stop offset=".249" stop-color="#47b458"/><stop offset=".267" stop-color="#3eb890"/><stop offset=".285" stop-color="#31bee0"/><stop offset=".34" stop-color="#2584d8"/><stop offset=".412" stop-color="#2853bd"/><stop offset=".669" stop-color="#2c48b2"/><stop offset=".743" stop-color="#743fa9"/><stop offset=".78" stop-color="#be38a0"/><stop offset=".816" stop-color="#bd2d94"/><stop offset=".853" stop-color="#86196d"/><stop offset=".89" stop-color="#390c34"/><stop offset="1" stop-color="#2d0a2b"/></linearGradient><linearGradient id="r56" gradientUnits="userSpaceOnUse" x1="1355.9" x2="1447.4"><stop offset="0" stop-color="#eb2f2b"/><stop offset=".011" stop-color="#ed541e"/><stop offset=".022" stop-color="#f0c522"/><stop offset=".034" stop-color="#b0d12d"/><stop offset=".045" stop-color="#76bf31"/><stop offset=".155" stop-color="#53b23a"/><stop offset=".229" stop-color="#49b24e"/><stop offset=".249" stop-color="#46b45c"/><stop offset=".285" stop-color="#2fbae6"/><stop offset=".395" stop-color="#2854be"/><stop offset=".669" stop-color="#3247b1"/><stop offset=".743" stop-color="#813ea8"/><stop offset=".78" stop-color="#c1369f"/><stop offset=".798" stop-color="#c7329c"/><stop offset=".835" stop-color="#991d7a"/><stop offset=".871" stop-color="#4a0e40"/><stop offset=".89" stop-color="#330b30"/><stop offset="1" stop-color="#2d0a2a"/></linearGradient><linearGradient id="r55" gradientUnits="userSpaceOnUse" x1="1353.5" x2="1445"><stop offset="0" stop-color="#eb2f2c"/><stop offset=".011" stop-color="#ed541e"/><stop offset=".022" stop-color="#f0c622"/><stop offset=".034" stop-color="#add02d"/><stop offset=".045" stop-color="#73be32"/><stop offset=".21" stop-color="#4bb147"/><stop offset=".247" stop-color="#45b563"/><stop offset=".276" stop-color="#31bee1"/><stop offset=".339" stop-color="#267bd3"/><stop offset=".395" stop-color="#2853bd"/><stop offset=".651" stop-color="#2c48b2"/><stop offset=".725" stop-color="#7240a9"/><stop offset=".761" stop-color="#bc38a0"/><stop offset=".798" stop-color="#be2e95"/><stop offset=".835" stop-color="#87196d"/><stop offset=".871" stop-color="#3a0c35"/><stop offset="1" stop-color="#2d0a2a"/></linearGradient><linearGradient id="r54" gradientUnits="userSpaceOnUse" x1="1351.1" x2="1442.6"><stop offset="0" stop-color="#eb2f2c"/><stop offset=".011" stop-color="#ed551e"/><stop offset=".022" stop-color="#efc822"/><stop offset=".034" stop-color="#abcf2d"/><stop offset=".045" stop-color="#70bd32"/><stop offset=".21" stop-color="#4bb248"/><stop offset=".24" stop-color="#46b459"/><stop offset=".276" stop-color="#2fbae6"/><stop offset=".376" stop-color="#2857c0"/><stop offset=".651" stop-color="#3047b1"/><stop offset=".725" stop-color="#7f3ea8"/><stop offset=".761" stop-color="#c1369f"/><stop offset=".78" stop-color="#c7339c"/><stop offset=".816" stop-color="#991d7a"/><stop offset=".853" stop-color="#4a0f41"/><stop offset=".871" stop-color="#330b30"/><stop offset="1" stop-color="#2d0a2a"/></linearGradient><linearGradient id="r53" gradientUnits="userSpaceOnUse" x1="1348.7" x2="1440.2"><stop offset="0" stop-color="#eb2f2c"/><stop offset=".011" stop-color="#ed561e"/><stop offset=".022" stop-color="#efc923"/><stop offset=".034" stop-color="#a9cf2d"/><stop offset=".045" stop-color="#6ebc32"/><stop offset=".21" stop-color="#4ab24a"/><stop offset=".24" stop-color="#45b563"/><stop offset=".267" stop-color="#32bdda"/><stop offset=".304" stop-color="#2497e2"/><stop offset=".385" stop-color="#2853bd"/><stop offset=".633" stop-color="#2c48b2"/><stop offset=".706" stop-color="#6f40aa"/><stop offset=".743" stop-color="#b939a1"/><stop offset=".78" stop-color="#bf2e96"/><stop offset=".816" stop-color="#891a6e"/><stop offset=".853" stop-color="#3b0c36"/><stop offset="1" stop-color="#2c0a2a"/></linearGradient><linearGradient id="r52" gradientUnits="userSpaceOnUse" x1="1346.3" x2="1437.8"><stop offset="0" stop-color="#eb2f2c"/><stop offset=".011" stop-color="#ed571e"/><stop offset=".022" stop-color="#eecb23"/><stop offset=".034" stop-color="#a7ce2d"/><stop offset=".045" stop-color="#6ebc32"/><stop offset=".192" stop-color="#4cb142"/><stop offset=".229" stop-color="#47b456"/><stop offset=".247" stop-color="#3eb88c"/><stop offset=".267" stop-color="#30bde6"/><stop offset=".367" stop-color="#2857c0"/><stop offset=".633" stop-color="#2d48b2"/><stop offset=".706" stop-color="#7b3fa8"/><stop offset=".743" stop-color="#c0379f"/><stop offset=".761" stop-color="#c7339d"/><stop offset=".798" stop-color="#9a1e7b"/><stop offset=".835" stop-color="#4c0f42"/><stop offset=".853" stop-color="#340b30"/><stop offset="1" stop-color="#2c0a2a"/></linearGradient><linearGradient id="r51" gradientUnits="userSpaceOnUse" x1="1343.9" x2="1435.4"><stop offset="0" stop-color="#eb2f2c"/><stop offset=".011" stop-color="#ee581e"/><stop offset=".022" stop-color="#eecc23"/><stop offset=".034" stop-color="#a6ce2d"/><stop offset=".045" stop-color="#6ebc32"/><stop offset=".192" stop-color="#4cb143"/><stop offset=".229" stop-color="#46b458"/><stop offset=".249" stop-color="#3bb9a3"/><stop offset=".265" stop-color="#2fbbe6"/><stop offset=".367" stop-color="#2855be"/><stop offset=".633" stop-color="#3247b1"/><stop offset=".706" stop-color="#883da7"/><stop offset=".725" stop-color="#b239a2"/><stop offset=".743" stop-color="#c3359e"/><stop offset=".761" stop-color="#c22f97"/><stop offset=".798" stop-color="#8b1a70"/><stop offset=".835" stop-color="#3c0c36"/><stop offset="1" stop-color="#2c0a2a"/></linearGradient><linearGradient id="r50" gradientUnits="userSpaceOnUse" x1="1341.5" x2="1433"><stop offset="0" stop-color="#eb2f2c"/><stop offset=".011" stop-color="#ee5a1e"/><stop offset=".022" stop-color="#edcd23"/><stop offset=".034" stop-color="#a4cd2d"/><stop offset=".045" stop-color="#6dbc32"/><stop offset=".192" stop-color="#4cb144"/><stop offset=".229" stop-color="#46b45c"/><stop offset=".258" stop-color="#31bddd"/><stop offset=".313" stop-color="#2582d7"/><stop offset=".376" stop-color="#2853bd"/><stop offset=".614" stop-color="#2c49b3"/><stop offset=".688" stop-color="#753fa9"/><stop offset=".725" stop-color="#bf37a0"/><stop offset=".743" stop-color="#c6339d"/><stop offset=".78" stop-color="#9c1f7c"/><stop offset=".835" stop-color="#340b30"/><stop offset="1" stop-color="#2c0a2a"/></linearGradient><linearGradient id="r49" gradientUnits="userSpaceOnUse" x1="1339.1" x2="1430.6"><stop offset="0" stop-color="#eb2f2b"/><stop offset=".011" stop-color="#ee5b1e"/><stop offset=".022" stop-color="#edce24"/><stop offset=".034" stop-color="#a3cd2e"/><stop offset=".045" stop-color="#6dbc32"/><stop offset=".192" stop-color="#4bb146"/><stop offset=".229" stop-color="#44b567"/><stop offset=".258" stop-color="#2fbce6"/><stop offset=".358" stop-color="#2856bf"/><stop offset=".614" stop-color="#2c49b3"/><stop offset=".688" stop-color="#7f3ea8"/><stop offset=".725" stop-color="#c2369f"/><stop offset=".743" stop-color="#c6319b"/><stop offset=".78" stop-color="#8f1b73"/><stop offset=".816" stop-color="#3f0d38"/><stop offset=".89" stop-color="#2e0a2c"/><stop offset="1" stop-color="#2c0a2a"/></linearGradient><linearGradient id="r48" gradientUnits="userSpaceOnUse" x1="1336.7" x2="1428.2"><stop offset="0" stop-color="#eb2e2b"/><stop offset=".011" stop-color="#ee5d1e"/><stop offset=".022" stop-color="#edcf24"/><stop offset=".034" stop-color="#a2cc2e"/><stop offset=".045" stop-color="#6dbc32"/><stop offset=".192" stop-color="#4bb247"/><stop offset=".21" stop-color="#48b352"/><stop offset=".229" stop-color="#42b673"/><stop offset=".249" stop-color="#34bccf"/><stop offset=".258" stop-color="#2eb8e5"/><stop offset=".358" stop-color="#2854be"/><stop offset=".614" stop-color="#2b4ab4"/><stop offset=".688" stop-color="#8c3da6"/><stop offset=".706" stop-color="#b939a1"/><stop offset=".725" stop-color="#c4349e"/><stop offset=".761" stop-color="#a0207f"/><stop offset=".816" stop-color="#350b31"/><stop offset="1" stop-color="#2c0a2a"/></linearGradient><linearGradient id="r47" gradientUnits="userSpaceOnUse" x1="1334.3" x2="1425.8"><stop offset="0" stop-color="#ea2e2a"/><stop offset=".011" stop-color="#ee5f1e"/><stop offset=".022" stop-color="#ecd024"/><stop offset=".034" stop-color="#a0cc2e"/><stop offset=".045" stop-color="#6dbc32"/><stop offset=".192" stop-color="#4ab249"/><stop offset=".21" stop-color="#48b354"/><stop offset=".229" stop-color="#40b781"/><stop offset=".249" stop-color="#31bedf"/><stop offset=".304" stop-color="#2582d7"/><stop offset=".367" stop-color="#2853bd"/><stop offset=".614" stop-color="#2a4db7"/><stop offset=".669" stop-color="#753fa9"/><stop offset=".706" stop-color="#c0379f"/><stop offset=".725" stop-color="#c7339c"/><stop offset=".761" stop-color="#961c78"/><stop offset=".798" stop-color="#450e3d"/><stop offset=".835" stop-color="#300a2d"/><stop offset="1" stop-color="#2d0a2a"/></linearGradient><linearGradient id="r46" gradientUnits="userSpaceOnUse" x1="1331.9" x2="1423.4"><stop offset="0" stop-color="#ea2e2a"/><stop offset=".011" stop-color="#ef611e"/><stop offset=".022" stop-color="#ecd224"/><stop offset=".034" stop-color="#9fcb2e"/><stop offset=".045" stop-color="#6dbc32"/><stop offset=".174" stop-color="#4db141"/><stop offset=".21" stop-color="#47b456"/><stop offset=".229" stop-color="#3eb890"/><stop offset=".249" stop-color="#2fbbe6"/><stop offset=".358" stop-color="#2854be"/><stop offset=".614" stop-color="#2a4fb9"/><stop offset=".633" stop-color="#3b46b0"/><stop offset=".688" stop-color="#aa3aa3"/><stop offset=".706" stop-color="#c2359e"/><stop offset=".725" stop-color="#c22f97"/><stop offset=".798" stop-color="#390b34"/><stop offset="1" stop-color="#2d0a2a"/></linearGradient><linearGradient id="r45" gradientUnits="userSpaceOnUse" x1="1329.5" x2="1421"><stop offset="0" stop-color="#ea2e29"/><stop offset=".011" stop-color="#ef631e"/><stop offset=".022" stop-color="#ebd325"/><stop offset=".034" stop-color="#9dcb2e"/><stop offset=".045" stop-color="#6dbb32"/><stop offset=".174" stop-color="#4cb143"/><stop offset=".21" stop-color="#46b459"/><stop offset=".24" stop-color="#33bdd6"/><stop offset=".249" stop-color="#2eb7e5"/><stop offset=".349" stop-color="#2854be"/><stop offset=".614" stop-color="#2a4eb8"/><stop offset=".669" stop-color="#8c3da6"/><stop offset=".688" stop-color="#bc38a0"/><stop offset=".706" stop-color="#c5349d"/><stop offset=".743" stop-color="#9b1e7c"/><stop offset=".78" stop-color="#4c0f42"/><stop offset=".798" stop-color="#340b30"/><stop offset="1" stop-color="#2d0a2b"/></linearGradient><linearGradient id="r44" gradientUnits="userSpaceOnUse" x1="1327.1" x2="1418.6"><stop offset="0" stop-color="#ea2d29"/><stop offset=".011" stop-color="#ef661e"/><stop offset=".022" stop-color="#ebd425"/><stop offset=".034" stop-color="#9bca2e"/><stop offset=".045" stop-color="#6cbb33"/><stop offset=".174" stop-color="#4cb145"/><stop offset=".21" stop-color="#44b565"/><stop offset=".24" stop-color="#30bde6"/><stop offset=".322" stop-color="#2767c9"/><stop offset=".376" stop-color="#2952bc"/><stop offset=".559" stop-color="#2854be"/><stop offset=".578" stop-color="#2762c6"/><stop offset=".614" stop-color="#2b4bb5"/><stop offset=".688" stop-color="#c0379f"/><stop offset=".706" stop-color="#c8329c"/><stop offset=".743" stop-color="#901b73"/><stop offset=".78" stop-color="#3f0d39"/><stop offset=".835" stop-color="#2f0a2c"/><stop offset="1" stop-color="#2d0a2b"/></linearGradient><linearGradient id="r43" gradientUnits="userSpaceOnUse" x1="1324.7" x2="1416.2"><stop offset="0" stop-color="#ea2d28"/><stop offset=".011" stop-color="#ef681e"/><stop offset=".022" stop-color="#ead625"/><stop offset=".034" stop-color="#98c92f"/><stop offset=".045" stop-color="#6cbb33"/><stop offset=".174" stop-color="#4bb147"/><stop offset=".192" stop-color="#48b352"/><stop offset=".21" stop-color="#41b677"/><stop offset=".229" stop-color="#35bcc9"/><stop offset=".24" stop-color="#2eb8e5"/><stop offset=".349" stop-color="#2854be"/><stop offset=".541" stop-color="#2853bd"/><stop offset=".559" stop-color="#276bcb"/><stop offset=".596" stop-color="#2a4db7"/><stop offset=".614" stop-color="#3347b1"/><stop offset=".669" stop-color="#ac3aa2"/><stop offset=".688" stop-color="#c3359e"/><stop offset=".706" stop-color="#be2e95"/><stop offset=".78" stop-color="#360b32"/><stop offset="1" stop-color="#2e0a2b"/></linearGradient><linearGradient id="r42" gradientUnits="userSpaceOnUse" x1="1322.3" x2="1413.8"><stop offset="0" stop-color="#ea2d28"/><stop offset=".011" stop-color="#f06b1e"/><stop offset=".022" stop-color="#e9d826"/><stop offset=".034" stop-color="#95c82f"/><stop offset=".045" stop-color="#6cbb33"/><stop offset=".174" stop-color="#4ab24a"/><stop offset=".192" stop-color="#47b356"/><stop offset=".21" stop-color="#3eb88c"/><stop offset=".229" stop-color="#31bee0"/><stop offset=".285" stop-color="#2582d7"/><stop offset=".349" stop-color="#2853bd"/><stop offset=".522" stop-color="#2853bd"/><stop offset=".541" stop-color="#266fcd"/><stop offset=".596" stop-color="#2c49b3"/><stop offset=".651" stop-color="#8d3da6"/><stop offset=".669" stop-color="#be38a0"/><stop offset=".688" stop-color="#c6339d"/><stop offset=".725" stop-color="#981d79"/><stop offset=".761" stop-color="#470e3e"/><stop offset=".798" stop-color="#300a2d"/><stop offset="1" stop-color="#2e0a2b"/></linearGradient><linearGradient id="r41" gradientUnits="userSpaceOnUse" x1="1319.9" x2="1411.4"><stop offset="0" stop-color="#ea2d28"/><stop offset=".011" stop-color="#f06e1e"/><stop offset=".022" stop-color="#e9da26"/><stop offset=".034" stop-color="#91c72f"/><stop offset=".045" stop-color="#6bbb33"/><stop offset=".155" stop-color="#4db141"/><stop offset=".192" stop-color="#46b459"/><stop offset=".229" stop-color="#2fb9e6"/><stop offset=".34" stop-color="#2854be"/><stop offset=".504" stop-color="#2952bc"/><stop offset=".522" stop-color="#266fcd"/><stop offset=".541" stop-color="#276dcb"/><stop offset=".559" stop-color="#2951bb"/><stop offset=".596" stop-color="#3d46b0"/><stop offset=".669" stop-color="#c1369f"/><stop offset=".688" stop-color="#c6319a"/><stop offset=".761" stop-color="#3a0c35"/><stop offset="1" stop-color="#2e0a2c"/></linearGradient><linearGradient id="r40" gradientUnits="userSpaceOnUse" x1="1317.5" x2="1409"><stop offset="0" stop-color="#ea2d27"/><stop offset=".011" stop-color="#f0711e"/><stop offset=".022" stop-color="#e8dc27"/><stop offset=".034" stop-color="#8ec62f"/><stop offset=".045" stop-color="#6bbb33"/><stop offset=".155" stop-color="#4cb144"/><stop offset=".192" stop-color="#44b56a"/><stop offset=".21" stop-color="#37bbbc"/><stop offset=".229" stop-color="#2db3e5"/><stop offset=".331" stop-color="#2854be"/><stop offset=".486" stop-color="#2952bc"/><stop offset=".522" stop-color="#2679d2"/><stop offset=".541" stop-color="#2952bc"/><stop offset=".578" stop-color="#2c48b2"/><stop offset=".633" stop-color="#853ea7"/><stop offset=".651" stop-color="#b439a1"/><stop offset=".669" stop-color="#c4349e"/><stop offset=".706" stop-color="#9c1f7d"/><stop offset=".743" stop-color="#4d0f43"/><stop offset=".761" stop-color="#340b30"/><stop offset="1" stop-color="#2f0a2c"/></linearGradient><linearGradient id="r39" gradientUnits="userSpaceOnUse" x1="1315.1" x2="1406.6"><stop offset="0" stop-color="#ea2c27"/><stop offset=".011" stop-color="#f1741e"/><stop offset=".022" stop-color="#e7de27"/><stop offset=".034" stop-color="#8ac530"/><stop offset=".045" stop-color="#6abb33"/><stop offset=".155" stop-color="#4bb147"/><stop offset=".174" stop-color="#48b353"/><stop offset=".192" stop-color="#40b781"/><stop offset=".21" stop-color="#32bdd6"/><stop offset=".249" stop-color="#2598e2"/><stop offset=".331" stop-color="#2853bd"/><stop offset=".467" stop-color="#2951bb"/><stop offset=".504" stop-color="#2581d6"/><stop offset=".522" stop-color="#2857bf"/><stop offset=".559" stop-color="#2c49b3"/><stop offset=".614" stop-color="#7140aa"/><stop offset=".651" stop-color="#c0379f"/><stop offset=".669" stop-color="#c7329c"/><stop offset=".706" stop-color="#8f1b73"/><stop offset=".743" stop-color="#3f0d38"/><stop offset=".816" stop-color="#2e0a2c"/><stop offset="1" stop-color="#2f0a2c"/></linearGradient><linearGradient id="r38" gradientUnits="userSpaceOnUse" x1="1312.7" x2="1404.2"><stop offset="0" stop-color="#ea2c26"/><stop offset=".011" stop-color="#f1771e"/><stop offset=".022" stop-color="#e7e028"/><stop offset=".034" stop-color="#86c430"/><stop offset=".045" stop-color="#6abb33"/><stop offset=".155" stop-color="#4ab24b"/><stop offset=".174" stop-color="#47b457"/><stop offset=".21" stop-color="#2fbbe6"/><stop offset=".295" stop-color="#2766c8"/><stop offset=".349" stop-color="#2952bc"/><stop offset=".449" stop-color="#2951bb"/><stop offset=".467" stop-color="#275fc4"/><stop offset=".486" stop-color="#2584d8"/><stop offset=".522" stop-color="#2950ba"/><stop offset=".559" stop-color="#3347b1"/><stop offset=".614" stop-color="#813ea8"/><stop offset=".633" stop-color="#ae3aa2"/><stop offset=".651" stop-color="#c3359e"/><stop offset=".669" stop-color="#bc2d93"/><stop offset=".743" stop-color="#350b31"/><stop offset="1" stop-color="#2f0a2d"/></linearGradient><linearGradient id="r37" gradientUnits="userSpaceOnUse" x1="1310.3" x2="1401.8"><stop offset="0" stop-color="#ea2c26"/><stop offset=".011" stop-color="#f17b1e"/><stop offset=".022" stop-color="#e5e228"/><stop offset=".034" stop-color="#81c230"/><stop offset=".045" stop-color="#6aba33"/><stop offset=".137" stop-color="#4db142"/><stop offset=".174" stop-color="#44b565"/><stop offset=".192" stop-color="#37bbb9"/><stop offset=".21" stop-color="#2db4e5"/><stop offset=".313" stop-color="#2854be"/><stop offset=".449" stop-color="#2857c0"/><stop offset=".467" stop-color="#2585d9"/><stop offset=".486" stop-color="#2679d2"/><stop offset=".504" stop-color="#2951bb"/><stop offset=".541" stop-color="#2c48b2"/><stop offset=".596" stop-color="#7040aa"/><stop offset=".633" stop-color="#bf379f"/><stop offset=".651" stop-color="#c7339c"/><stop offset=".688" stop-color="#921b75"/><stop offset=".725" stop-color="#410d3a"/><stop offset=".78" stop-color="#2f0a2c"/><stop offset="1" stop-color="#300a2d"/></linearGradient><linearGradient id="r36" gradientUnits="userSpaceOnUse" x1="1307.9" x2="1399.4"><stop offset="0" stop-color="#ea2c26"/><stop offset=".011" stop-color="#f17e1e"/><stop offset=".022" stop-color="#e0e028"/><stop offset=".034" stop-color="#7cc031"/><stop offset=".063" stop-color="#60b736"/><stop offset=".137" stop-color="#4cb145"/><stop offset=".155" stop-color="#48b353"/><stop offset=".174" stop-color="#40b781"/><stop offset=".192" stop-color="#32bdd7"/><stop offset=".229" stop-color="#259be2"/><stop offset=".313" stop-color="#2854be"/><stop offset=".431" stop-color="#2854be"/><stop offset=".449" stop-color="#2582d7"/><stop offset=".467" stop-color="#2586d9"/><stop offset=".486" stop-color="#2853bd"/><stop offset=".541" stop-color="#3647b1"/><stop offset=".596" stop-color="#823ea8"/><stop offset=".614" stop-color="#af3aa2"/><stop offset=".633" stop-color="#c3359e"/><stop offset=".651" stop-color="#bc2d93"/><stop offset=".725" stop-color="#350b31"/><stop offset="1" stop-color="#310a2d"/></linearGradient><linearGradient id="r35" gradientUnits="userSpaceOnUse" x1="1305.5" x2="1397"><stop offset="0" stop-color="#e92c25"/><stop offset=".011" stop-color="#f2831e"/><stop offset=".022" stop-color="#dbde29"/><stop offset=".034" stop-color="#76be31"/><stop offset=".118" stop-color="#4eb03c"/><stop offset=".155" stop-color="#47b458"/><stop offset=".192" stop-color="#2fbae6"/><stop offset=".276" stop-color="#2765c8"/><stop offset=".331" stop-color="#2853bd"/><stop offset=".413" stop-color="#2853bd"/><stop offset=".44" stop-color="#258ddd"/><stop offset=".449" stop-color="#248fde"/><stop offset=".467" stop-color="#275ec3"/><stop offset=".522" stop-color="#2c48b2"/><stop offset=".578" stop-color="#7240aa"/><stop offset=".614" stop-color="#c0379f"/><stop offset=".633" stop-color="#c7329c"/><stop offset=".669" stop-color="#8f1b73"/><stop offset=".706" stop-color="#3f0d39"/><stop offset=".761" stop-color="#2f0a2c"/><stop offset="1" stop-color="#310a2e"/></linearGradient><linearGradient id="r34" gradientUnits="userSpaceOnUse" x1="1303.1" x2="1394.6"><stop offset="0" stop-color="#e92b25"/><stop offset=".011" stop-color="#f2881e"/><stop offset=".022" stop-color="#d4dc2a"/><stop offset=".034" stop-color="#6ebc32"/><stop offset=".118" stop-color="#4db040"/><stop offset=".155" stop-color="#43b56a"/><stop offset=".174" stop-color="#36bbc2"/><stop offset=".192" stop-color="#2cb2e5"/><stop offset=".295" stop-color="#2856bf"/><stop offset=".395" stop-color="#2853bd"/><stop offset=".431" stop-color="#2493e1"/><stop offset=".467" stop-color="#2950ba"/><stop offset=".522" stop-color="#3a46b0"/><stop offset=".578" stop-color="#863ea7"/><stop offset=".596" stop-color="#b539a1"/><stop offset=".614" stop-color="#c4349e"/><stop offset=".651" stop-color="#9d1f7d"/><stop offset=".706" stop-color="#340b31"/><stop offset="1" stop-color="#320a2e"/></linearGradient><linearGradient id="r33" gradientUnits="userSpaceOnUse" x1="1300.7" x2="1392.2"><stop offset="0" stop-color="#e92b24"/><stop offset=".011" stop-color="#f38f1e"/><stop offset=".022" stop-color="#ccda2a"/><stop offset=".034" stop-color="#6dbc32"/><stop offset=".118" stop-color="#4cb144"/><stop offset=".137" stop-color="#48b354"/><stop offset=".155" stop-color="#3eb88c"/><stop offset=".174" stop-color="#30bee5"/><stop offset=".249" stop-color="#2671ce"/><stop offset=".302" stop-color="#2858c0"/><stop offset=".349" stop-color="#2769ca"/><stop offset=".376" stop-color="#275fc4"/><stop offset=".413" stop-color="#2497e2"/><stop offset=".431" stop-color="#2580d6"/><stop offset=".44" stop-color="#275ec4"/><stop offset=".486" stop-color="#2c49b3"/><stop offset=".522" stop-color="#4645af"/><stop offset=".559" stop-color="#773fa9"/><stop offset=".596" stop-color="#c1369f"/><stop offset=".614" stop-color="#c6319b"/><stop offset=".688" stop-color="#3c0c36"/><stop offset=".871" stop-color="#2c0a2a"/><stop offset="1" stop-color="#320a2f"/></linearGradient><linearGradient id="r32" gradientUnits="userSpaceOnUse" x1="1298.3" x2="1389.8"><stop offset="0" stop-color="#e92a23"/><stop offset=".011" stop-color="#f3961e"/><stop offset=".022" stop-color="#c2d72b"/><stop offset=".034" stop-color="#6cbb33"/><stop offset=".118" stop-color="#4ab24a"/><stop offset=".137" stop-color="#46b45a"/><stop offset=".155" stop-color="#38bab2"/><stop offset=".174" stop-color="#2db5e5"/><stop offset=".276" stop-color="#2857c0"/><stop offset=".304" stop-color="#2764c6"/><stop offset=".34" stop-color="#269ce3"/><stop offset=".404" stop-color="#27a1e3"/><stop offset=".422" stop-color="#2672ce"/><stop offset=".431" stop-color="#2853bd"/><stop offset=".486" stop-color="#2c48b2"/><stop offset=".541" stop-color="#6c40aa"/><stop offset=".578" stop-color="#be38a0"/><stop offset=".596" stop-color="#c6339d"/><stop offset=".633" stop-color="#991d7a"/><stop offset=".669" stop-color="#490e40"/><stop offset=".688" stop-color="#330b30"/><stop offset="1" stop-color="#330b2f"/></linearGradient><linearGradient id="r31" gradientUnits="userSpaceOnUse" x1="1295.9" x2="1387.4"><stop offset="0" stop-color="#e92a22"/><stop offset=".011" stop-color="#f4a11e"/><stop offset=".022" stop-color="#b3d22c"/><stop offset=".034" stop-color="#6bbb33"/><stop offset=".1" stop-color="#4db03f"/><stop offset=".118" stop-color="#49b350"/><stop offset=".137" stop-color="#40b77e"/><stop offset=".155" stop-color="#32bdda"/><stop offset=".192" stop-color="#269be3"/><stop offset=".276" stop-color="#2854be"/><stop offset=".304" stop-color="#2674cf"/><stop offset=".331" stop-color="#30bce6"/><stop offset=".349" stop-color="#43b56d"/><stop offset=".358" stop-color="#46b459"/><stop offset=".367" stop-color="#45b562"/><stop offset=".376" stop-color="#3fb788"/><stop offset=".385" stop-color="#35bcc5"/><stop offset=".395" stop-color="#2cb0e5"/><stop offset=".404" stop-color="#2493e1"/><stop offset=".413" stop-color="#2766c8"/><stop offset=".431" stop-color="#2a4fb9"/><stop offset=".486" stop-color="#3747b1"/><stop offset=".541" stop-color="#823ea7"/><stop offset=".559" stop-color="#af3aa2"/><stop offset=".578" stop-color="#c3359e"/><stop offset=".596" stop-color="#bf2e95"/><stop offset=".669" stop-color="#370b33"/><stop offset="1" stop-color="#340b30"/></linearGradient><linearGradient id="r30" gradientUnits="userSpaceOnUse" x1="1293.5" x2="1385"><stop offset="0" stop-color="#e82920"/><stop offset=".011" stop-color="#f6b31e"/><stop offset=".022" stop-color="#9bca2e"/><stop offset=".034" stop-color="#69ba34"/><stop offset=".1" stop-color="#4bb146"/><stop offset=".118" stop-color="#47b457"/><stop offset=".137" stop-color="#3abaa9"/><stop offset=".155" stop-color="#2eb7e5"/><stop offset=".265" stop-color="#2854be"/><stop offset=".285" stop-color="#2857c0"/><stop offset=".304" stop-color="#2586da"/><stop offset=".313" stop-color="#29a8e4"/><stop offset=".32" stop-color="#34bccf"/><stop offset=".331" stop-color="#48b354"/><stop offset=".349" stop-color="#52b23b"/><stop offset=".376" stop-color="#4bb146"/><stop offset=".385" stop-color="#3ab9a4"/><stop offset=".395" stop-color="#279fe3"/><stop offset=".404" stop-color="#2764c7"/><stop offset=".422" stop-color="#2a4eb8"/><stop offset=".467" stop-color="#3147b1"/><stop offset=".522" stop-color="#783fa9"/><stop offset=".559" stop-color="#c1369f"/><stop offset=".578" stop-color="#c8329c"/><stop offset=".614" stop-color="#901b73"/><stop offset=".651" stop-color="#400d39"/><stop offset=".706" stop-color="#2f0a2c"/><stop offset="1" stop-color="#340b30"/></linearGradient><linearGradient id="r29" gradientUnits="userSpaceOnUse" x1="1291.1" x2="1382.6"><stop offset="0" stop-color="#e8281f"/><stop offset=".011" stop-color="#efc722"/><stop offset=".022" stop-color="#78bf31"/><stop offset=".063" stop-color="#56b33a"/><stop offset=".1" stop-color="#49b24e"/><stop offset=".118" stop-color="#41b677"/><stop offset=".137" stop-color="#33bdd6"/><stop offset=".174" stop-color="#269ce3"/><stop offset=".249" stop-color="#2854be"/><stop offset=".285" stop-color="#285cc2"/><stop offset=".313" stop-color="#2fbce6"/><stop offset=".32" stop-color="#45b563"/><stop offset=".331" stop-color="#4fb03c"/><stop offset=".367" stop-color="#58b439"/><stop offset=".376" stop-color="#4cb143"/><stop offset=".385" stop-color="#2fbce6"/><stop offset=".395" stop-color="#2675d0"/><stop offset=".404" stop-color="#2951bb"/><stop offset=".449" stop-color="#2c48b2"/><stop offset=".504" stop-color="#6f40aa"/><stop offset=".541" stop-color="#bf37a0"/><stop offset=".559" stop-color="#c6339d"/><stop offset=".596" stop-color="#9a1e7b"/><stop offset=".633" stop-color="#4a0e40"/><stop offset=".651" stop-color="#340b30"/><stop offset="1" stop-color="#350b31"/></linearGradient><linearGradient id="r28" gradientUnits="userSpaceOnUse" x1="1288.7" x2="1380.2"><stop offset="0" stop-color="#e9311e"/><stop offset=".011" stop-color="#e4e128"/><stop offset=".022" stop-color="#6bbb33"/><stop offset=".082" stop-color="#4cb144"/><stop offset=".1" stop-color="#47b456"/><stop offset=".118" stop-color="#3abaa8"/><stop offset=".137" stop-color="#2eb7e5"/><stop offset=".21" stop-color="#276bca"/><stop offset=".258" stop-color="#2853bd"/><stop offset=".276" stop-color="#2854be"/><stop offset=".295" stop-color="#2589db"/><stop offset=".304" stop-color="#2bace4"/><stop offset=".32" stop-color="#4ab24a"/><stop offset=".34" stop-color="#59b438"/><stop offset=".367" stop-color="#54b23a"/><stop offset=".376" stop-color="#47b356"/><stop offset=".385" stop-color="#279fe3"/><stop offset=".395" stop-color="#2853bd"/><stop offset=".449" stop-color="#3b46b0"/><stop offset=".504" stop-color="#8c3da6"/><stop offset=".522" stop-color="#ba38a1"/><stop offset=".541" stop-color="#c4349d"/><stop offset=".578" stop-color="#9f207f"/><stop offset=".633" stop-color="#360b32"/><stop offset=".982" stop-color="#340b30"/><stop offset="1" stop-color="#360b32"/></linearGradient><linearGradient id="r27" gradientUnits="userSpaceOnUse" x1="1286.3" x2="1377.8"><stop offset="0" stop-color="#eb3e1e"/><stop offset=".011" stop-color="#9aca2e"/><stop offset=".022" stop-color="#66b934"/><stop offset=".063" stop-color="#4eb03c"/><stop offset=".082" stop-color="#49b34f"/><stop offset=".1" stop-color="#41b67c"/><stop offset=".118" stop-color="#31bdde"/><stop offset=".174" stop-color="#2586d9"/><stop offset=".229" stop-color="#2854be"/><stop offset=".267" stop-color="#2854be"/><stop offset=".285" stop-color="#267dd4"/><stop offset=".295" stop-color="#28a2e3"/><stop offset=".302" stop-color="#31bdde"/><stop offset=".313" stop-color="#49b350"/><stop offset=".322" stop-color="#50b13b"/><stop offset=".358" stop-color="#52b13b"/><stop offset=".367" stop-color="#49b24d"/><stop offset=".376" stop-color="#2fbae6"/><stop offset=".385" stop-color="#2675d0"/><stop offset=".395" stop-color="#2951bb"/><stop offset=".431" stop-color="#3447b1"/><stop offset=".486" stop-color="#853ea7"/><stop offset=".504" stop-color="#b139a2"/><stop offset=".522" stop-color="#c3359e"/><stop offset=".541" stop-color="#bf2e96"/><stop offset=".614" stop-color="#3a0c35"/><stop offset=".908" stop-color="#300a2d"/><stop offset="1" stop-color="#370b33"/></linearGradient><linearGradient id="r26" gradientUnits="userSpaceOnUse" x1="1283.9" x2="1375.4"><stop offset="0" stop-color="#ed521e"/><stop offset=".011" stop-color="#6bbb33"/><stop offset=".063" stop-color="#4ab24a"/><stop offset=".082" stop-color="#46b45a"/><stop offset=".1" stop-color="#37bbba"/><stop offset=".118" stop-color="#2db3e5"/><stop offset=".21" stop-color="#2856bf"/><stop offset=".267" stop-color="#2856bf"/><stop offset=".285" stop-color="#2498e2"/><stop offset=".295" stop-color="#2fbbe6"/><stop offset=".304" stop-color="#46b458"/><stop offset=".313" stop-color="#4eb03d"/><stop offset=".349" stop-color="#4fb03c"/><stop offset=".358" stop-color="#47b356"/><stop offset=".367" stop-color="#2eb7e5"/><stop offset=".385" stop-color="#2952bc"/><stop offset=".422" stop-color="#3747b1"/><stop offset=".467" stop-color="#803ea8"/><stop offset=".486" stop-color="#ab3aa2"/><stop offset=".504" stop-color="#c2359e"/><stop offset=".522" stop-color="#c33098"/><stop offset=".596" stop-color="#3d0c37"/><stop offset=".725" stop-color="#2d0a2a"/><stop offset="1" stop-color="#390c34"/></linearGradient><linearGradient id="r25" gradientUnits="userSpaceOnUse" x1="1281.5" x2="1373"><stop offset="0" stop-color="#f1761e"/><stop offset=".011" stop-color="#86c330"/><stop offset=".022" stop-color="#64b835"/><stop offset=".045" stop-color="#51b13b"/><stop offset=".063" stop-color="#48b351"/><stop offset=".1" stop-color="#2eb8e5"/><stop offset=".174" stop-color="#276bca"/><stop offset=".21" stop-color="#2853bd"/><stop offset=".258" stop-color="#2853bd"/><stop offset=".267" stop-color="#2764c7"/><stop offset=".285" stop-color="#2bafe4"/><stop offset=".295" stop-color="#3fb785"/><stop offset=".304" stop-color="#4cb145"/><stop offset=".34" stop-color="#4fb03c"/><stop offset=".349" stop-color="#47b457"/><stop offset=".357" stop-color="#2fb9e6"/><stop offset=".376" stop-color="#2952bc"/><stop offset=".404" stop-color="#2c49b3"/><stop offset=".486" stop-color="#c2369f"/><stop offset=".504" stop-color="#c5319a"/><stop offset=".578" stop-color="#3e0c38"/><stop offset=".669" stop-color="#2e0a2b"/><stop offset="1" stop-color="#3b0c36"/></linearGradient><linearGradient id="r24" gradientUnits="userSpaceOnUse" x1="1279.1" x2="1370.6"><stop offset="0" stop-color="#f5b71f"/><stop offset=".011" stop-color="#a6ce2d"/><stop offset=".022" stop-color="#66b935"/><stop offset=".045" stop-color="#50b13b"/><stop offset=".063" stop-color="#44b564"/><stop offset=".082" stop-color="#30bde6"/><stop offset=".137" stop-color="#2581d6"/><stop offset=".192" stop-color="#2853bd"/><stop offset=".258" stop-color="#2856bf"/><stop offset=".276" stop-color="#27a2e3"/><stop offset=".284" stop-color="#32bddc"/><stop offset=".295" stop-color="#49b34f"/><stop offset=".304" stop-color="#50b13b"/><stop offset=".331" stop-color="#4fb03c"/><stop offset=".34" stop-color="#47b355"/><stop offset=".349" stop-color="#2eb8e5"/><stop offset=".367" stop-color="#2952bc"/><stop offset=".395" stop-color="#2c48b2"/><stop offset=".449" stop-color="#a53aa3"/><stop offset=".467" stop-color="#c2369f"/><stop offset=".486" stop-color="#c43099"/><stop offset=".559" stop-color="#3d0c37"/><stop offset=".706" stop-color="#2c0a2a"/><stop offset="1" stop-color="#3d0c37"/></linearGradient><linearGradient id="r23" gradientUnits="userSpaceOnUse" x1="1276.7" x2="1368.2"><stop offset="0" stop-color="#bbd42c"/><stop offset=".011" stop-color="#67b934"/><stop offset=".034" stop-color="#50b13b"/><stop offset=".045" stop-color="#48b352"/><stop offset=".063" stop-color="#33bdd2"/><stop offset=".082" stop-color="#2aaae4"/><stop offset=".155" stop-color="#2859c1"/><stop offset=".249" stop-color="#2853bd"/><stop offset=".258" stop-color="#2766c8"/><stop offset=".267" stop-color="#2493e0"/><stop offset=".276" stop-color="#2fb9e6"/><stop offset=".285" stop-color="#46b459"/><stop offset=".295" stop-color="#4db040"/><stop offset=".322" stop-color="#4fb03c"/><stop offset=".331" stop-color="#48b353"/><stop offset=".34" stop-color="#2fbce6"/><stop offset=".358" stop-color="#2952bc"/><stop offset=".385" stop-color="#3247b1"/><stop offset=".44" stop-color="#bf37a0"/><stop offset=".467" stop-color="#bf2e96"/><stop offset=".541" stop-color="#3a0c35"/><stop offset=".816" stop-color="#2e0a2b"/><stop offset="1" stop-color="#400d39"/></linearGradient><linearGradient id="r22" gradientUnits="userSpaceOnUse" x1="1274.3" x2="1365.8"><stop offset="0" stop-color="#68ba34"/><stop offset=".022" stop-color="#4fb03c"/><stop offset=".034" stop-color="#47b457"/><stop offset=".045" stop-color="#37bbba"/><stop offset=".063" stop-color="#2aabe4"/><stop offset=".137" stop-color="#2856bf"/><stop offset=".249" stop-color="#2854be"/><stop offset=".267" stop-color="#2aaae4"/><stop offset=".276" stop-color="#3db893"/><stop offset=".284" stop-color="#49b24d"/><stop offset=".304" stop-color="#51b13b"/><stop offset=".313" stop-color="#4eb03c"/><stop offset=".322" stop-color="#48b352"/><stop offset=".331" stop-color="#30bee6"/><stop offset=".34" stop-color="#2587da"/><stop offset=".349" stop-color="#2952bc"/><stop offset=".367" stop-color="#2b4ab4"/><stop offset=".395" stop-color="#813ea8"/><stop offset=".413" stop-color="#be38a0"/><stop offset=".44" stop-color="#be2e95"/><stop offset=".504" stop-color="#480e3f"/><stop offset=".541" stop-color="#300a2d"/><stop offset=".963" stop-color="#3b0c36"/><stop offset="1" stop-color="#430d3b"/></linearGradient><linearGradient id="r21" gradientUnits="userSpaceOnUse" x1="1271.9" x2="1363.4"><stop offset="0" stop-color="#5ab438"/><stop offset=".011" stop-color="#4eb03e"/><stop offset=".022" stop-color="#43b56c"/><stop offset=".034" stop-color="#31bee1"/><stop offset=".082" stop-color="#267ad3"/><stop offset=".118" stop-color="#2854be"/><stop offset=".249" stop-color="#2854be"/><stop offset=".267" stop-color="#2db4e5"/><stop offset=".276" stop-color="#45b45f"/><stop offset=".285" stop-color="#4cb143"/><stop offset=".304" stop-color="#4db03f"/><stop offset=".313" stop-color="#48b354"/><stop offset=".322" stop-color="#30bce6"/><stop offset=".34" stop-color="#2952bc"/><stop offset=".358" stop-color="#3047b1"/><stop offset=".376" stop-color="#9e3ba4"/><stop offset=".385" stop-color="#c0379f"/><stop offset=".404" stop-color="#c22f98"/><stop offset=".467" stop-color="#460e3e"/><stop offset=".504" stop-color="#310a2e"/><stop offset=".945" stop-color="#3b0c36"/><stop offset="1" stop-color="#470e3e"/></linearGradient><linearGradient id="r20" gradientUnits="userSpaceOnUse" x1="1269.5" x2="1361"><stop offset="0" stop-color="#4ab24a"/><stop offset=".022" stop-color="#2db4e5"/><stop offset=".082" stop-color="#275dc3"/><stop offset=".249" stop-color="#2952bc"/><stop offset=".258" stop-color="#2766c8"/><stop offset=".267" stop-color="#279fe3"/><stop offset=".276" stop-color="#37bbbc"/><stop offset=".284" stop-color="#46b458"/><stop offset=".295" stop-color="#48b352"/><stop offset=".302" stop-color="#43b56b"/><stop offset=".313" stop-color="#2aabe4"/><stop offset=".322" stop-color="#2764c7"/><stop offset=".34" stop-color="#2d48b2"/><stop offset=".358" stop-color="#c0379f"/><stop offset=".367" stop-color="#c7329c"/><stop offset=".413" stop-color="#57114a"/><stop offset=".449" stop-color="#330b2f"/><stop offset=".908" stop-color="#380b34"/><stop offset="1" stop-color="#4b0f41"/></linearGradient><linearGradient id="r19" gradientUnits="userSpaceOnUse" x1="1267.1" x2="1358.6"><stop offset="0" stop-color="#2bace4"/><stop offset=".063" stop-color="#285bc2"/><stop offset=".258" stop-color="#2a4eb8"/><stop offset=".276" stop-color="#2763c6"/><stop offset=".285" stop-color="#257fd5"/><stop offset=".295" stop-color="#257ed5"/><stop offset=".304" stop-color="#285bc2"/><stop offset=".322" stop-color="#2c49b3"/><stop offset=".34" stop-color="#c3359e"/><stop offset=".357" stop-color="#961c78"/><stop offset=".376" stop-color="#511046"/><stop offset=".404" stop-color="#330b30"/><stop offset=".89" stop-color="#390b34"/><stop offset="1" stop-color="#4e0f44"/></linearGradient><linearGradient id="r18" gradientUnits="userSpaceOnUse" x1="1264.7" x2="1356.2"><stop offset="0" stop-color="#2853bd"/><stop offset=".137" stop-color="#2c49b3"/><stop offset=".192" stop-color="#7040aa"/><stop offset=".229" stop-color="#a73aa3"/><stop offset=".249" stop-color="#933ca5"/><stop offset=".276" stop-color="#2d48b2"/><stop offset=".302" stop-color="#3747b1"/><stop offset=".313" stop-color="#793fa9"/><stop offset=".322" stop-color="#c0379f"/><stop offset=".331" stop-color="#c02f96"/><stop offset=".358" stop-color="#490e40"/><stop offset=".376" stop-color="#320a2f"/><stop offset=".871" stop-color="#390c34"/><stop offset="1" stop-color="#511046"/></linearGradient><linearGradient id="r17" gradientUnits="userSpaceOnUse" x1="1262.3" x2="1353.8"><stop offset="0" stop-color="#2b4ab4"/><stop offset=".045" stop-color="#3347b1"/><stop offset=".137" stop-color="#973ca5"/><stop offset=".174" stop-color="#c0379f"/><stop offset=".276" stop-color="#bf37a0"/><stop offset=".304" stop-color="#c1369f"/><stop offset=".313" stop-color="#c7339c"/><stop offset=".331" stop-color="#931c76"/><stop offset=".349" stop-color="#4a0f40"/><stop offset=".367" stop-color="#320a2f"/><stop offset=".871" stop-color="#3b0c36"/><stop offset="1" stop-color="#531047"/></linearGradient><linearGradient id="r16" gradientUnits="userSpaceOnUse" x1="1259.9" x2="1351.4"><stop offset="0" stop-color="#6941ab"/><stop offset=".118" stop-color="#bf379f"/><stop offset=".174" stop-color="#c7329c"/><stop offset=".249" stop-color="#a52383"/><stop offset=".295" stop-color="#b0278a"/><stop offset=".32" stop-color="#87196d"/><stop offset=".349" stop-color="#390c34"/><stop offset=".522" stop-color="#2d0a2a"/><stop offset=".908" stop-color="#430d3b"/><stop offset="1" stop-color="#551048"/></linearGradient><linearGradient id="r15" gradientUnits="userSpaceOnUse" x1="1257.5" x2="1349"><stop offset="0" stop-color="#a63aa3"/><stop offset=".118" stop-color="#c4349e"/><stop offset=".174" stop-color="#ba2c92"/><stop offset=".267" stop-color="#74165f"/><stop offset=".304" stop-color="#71155d"/><stop offset=".349" stop-color="#330a2f"/><stop offset=".853" stop-color="#3b0c36"/><stop offset="1" stop-color="#561149"/></linearGradient><linearGradient id="r14" gradientUnits="userSpaceOnUse" x1="1255.1" x2="1346.6"><stop offset="0" stop-color="#c1369f"/><stop offset=".137" stop-color="#c02f97"/><stop offset=".21" stop-color="#971c79"/><stop offset=".258" stop-color="#490e40"/><stop offset=".313" stop-color="#420d3b"/><stop offset=".385" stop-color="#2d0a2a"/><stop offset=".89" stop-color="#420d3b"/><stop offset="1" stop-color="#57114a"/></linearGradient><linearGradient id="r13" gradientUnits="userSpaceOnUse" x1="1252.7" x2="1344.2"><stop offset="0" stop-color="#c5349d"/><stop offset=".1" stop-color="#c12f97"/><stop offset=".192" stop-color="#9a1e7b"/><stop offset=".229" stop-color="#5b114d"/><stop offset=".258" stop-color="#340b31"/><stop offset=".798" stop-color="#360b32"/><stop offset="1" stop-color="#58114b"/></linearGradient><linearGradient id="r12" gradientUnits="userSpaceOnUse" x1="1250.3" x2="1341.8"><stop offset="0" stop-color="#c33098"/><stop offset=".174" stop-color="#9b1e7c"/><stop offset=".192" stop-color="#8e1b72"/><stop offset=".24" stop-color="#340b30"/><stop offset=".798" stop-color="#360b32"/><stop offset="1" stop-color="#58114b"/></linearGradient><linearGradient id="r11" gradientUnits="userSpaceOnUse" x1="1247.9" x2="1339.4"><stop offset="0" stop-color="#b62a8f"/><stop offset=".174" stop-color="#971c78"/><stop offset=".229" stop-color="#340b30"/><stop offset=".798" stop-color="#370b32"/><stop offset="1" stop-color="#59114c"/></linearGradient><linearGradient id="r10" gradientUnits="userSpaceOnUse" x1="1245.5" x2="1337"><stop offset="0" stop-color="#ad2689"/><stop offset=".155" stop-color="#991d7a"/><stop offset=".174" stop-color="#8e1b72"/><stop offset=".21" stop-color="#3f0d38"/><stop offset=".276" stop-color="#2f0a2c"/><stop offset=".853" stop-color="#3f0d38"/><stop offset="1" stop-color="#59114c"/></linearGradient><linearGradient id="r9" gradientUnits="userSpaceOnUse" x1="1243.1" x2="1334.6"><stop offset="0" stop-color="#a92486"/><stop offset=".155" stop-color="#971c79"/><stop offset=".174" stop-color="#83196a"/><stop offset=".21" stop-color="#350b31"/><stop offset=".78" stop-color="#360b32"/><stop offset="1" stop-color="#5a114c"/></linearGradient><linearGradient id="r8" gradientUnits="userSpaceOnUse" x1="1240.7" x2="1332.2"><stop offset="0" stop-color="#a62384"/><stop offset=".155" stop-color="#941c76"/><stop offset=".192" stop-color="#480e3f"/><stop offset=".21" stop-color="#320a2f"/><stop offset=".816" stop-color="#3a0c35"/><stop offset="1" stop-color="#5a114c"/></linearGradient><linearGradient id="r7" gradientUnits="userSpaceOnUse" x1="1238.3" x2="1329.8"><stop offset="0" stop-color="#a42282"/><stop offset=".155" stop-color="#8d1a71"/><stop offset=".192" stop-color="#3c0c36"/><stop offset=".358" stop-color="#2c0a2a"/><stop offset=".853" stop-color="#400d39"/><stop offset="1" stop-color="#5b114d"/></linearGradient><linearGradient id="r6" gradientUnits="userSpaceOnUse" x1="1235.9" x2="1327.4"><stop offset="0" stop-color="#a22181"/><stop offset=".137" stop-color="#971c78"/><stop offset=".155" stop-color="#84196b"/><stop offset=".192" stop-color="#340b31"/><stop offset=".78" stop-color="#360b32"/><stop offset="1" stop-color="#5b124d"/></linearGradient><linearGradient id="r5" gradientUnits="userSpaceOnUse" x1="1233.5" x2="1325"><stop offset="0" stop-color="#a02180"/><stop offset=".137" stop-color="#941c77"/><stop offset=".192" stop-color="#320a2f"/><stop offset=".798" stop-color="#390c34"/><stop offset="1" stop-color="#5b124d"/></linearGradient><linearGradient id="r4" gradientUnits="userSpaceOnUse" x1="1231.1" x2="1322.6"><stop offset="0" stop-color="#9f207f"/><stop offset=".137" stop-color="#911b74"/><stop offset=".174" stop-color="#410d3a"/><stop offset=".21" stop-color="#300a2d"/><stop offset=".816" stop-color="#3c0c36"/><stop offset="1" stop-color="#5b124d"/></linearGradient><linearGradient id="r3" gradientUnits="userSpaceOnUse" x1="1228.7" x2="1320.2"><stop offset="0" stop-color="#9e207e"/><stop offset=".137" stop-color="#8c1a70"/><stop offset=".174" stop-color="#390c34"/><stop offset=".541" stop-color="#2e0a2c"/><stop offset=".89" stop-color="#470e3e"/><stop offset="1" stop-color="#5c124d"/></linearGradient><linearGradient id="r2" gradientUnits="userSpaceOnUse" x1="1226.3" x2="1317.8"><stop offset="0" stop-color="#9d1f7d"/><stop offset=".118" stop-color="#971c78"/><stop offset=".137" stop-color="#87196d"/><stop offset=".174" stop-color="#350b31"/><stop offset=".761" stop-color="#360b32"/><stop offset="1" stop-color="#5c124e"/></linearGradient><linearGradient id="r1" gradientUnits="userSpaceOnUse" x1="1223.9" x2="1315.4"><stop offset="0" stop-color="#9d1f7d"/><stop offset=".118" stop-color="#961c78"/><stop offset=".137" stop-color="#82196a"/><stop offset=".174" stop-color="#340b30"/><stop offset=".78" stop-color="#370b33"/><stop offset="1" stop-color="#5c124e"/></linearGradient><linearGradient id="r0" gradientUnits="userSpaceOnUse" x1="1221.5" x2="1313"><stop offset="0" stop-color="#9c1f7d"/><stop offset=".118" stop-color="#961c78"/><stop offset=".137" stop-color="#801868"/><stop offset=".174" stop-color="#330b30"/><stop offset=".78" stop-color="#380b33"/><stop offset="1" stop-color="#5c124e"/></linearGradient><linearGradient id="rf" gradientUnits="userSpaceOnUse" x1="1220.3" x2="1373.9"><stop offset="0" stop-color="#c7339d"/><stop offset="0.195" stop-color="#be38a0"/><stop offset="0.255" stop-color="#2e48b2"/><stop offset="0.282" stop-color="#2854be"/><stop offset="0.295" stop-color="#2bade4"/><stop offset="0.302" stop-color="#3abaa9"/><stop offset="0.309" stop-color="#48b351"/><stop offset="0.322" stop-color="#56b339"/><stop offset="0.342" stop-color="#6aba33"/><stop offset="0.349" stop-color="#81c230"/><stop offset="0.356" stop-color="#c3d72b"/><stop offset="0.362" stop-color="#ebd425"/><stop offset="0.389" stop-color="#ed581e"/><stop offset="0.403" stop-color="#e92e1e"/><stop offset="0.658" stop-color="#ed3e3e"/><stop offset="0.852" stop-color="#f26d6d"/><stop offset="0.94" stop-color="#ed3a3a"/><stop offset="1" stop-color="#eb2f2c"/></linearGradient>
<linearGradient id="scb" x1="0" x2="0" y1="1" y2="0"><stop offset="0.000" stop-color="#140616"/><stop offset="0.040" stop-color="#360b32"/><stop offset="0.085" stop-color="#961c78"/><stop offset="0.131" stop-color="#c8329c"/><stop offset="0.170" stop-color="#be38a0"/><stop offset="0.210" stop-color="#6e40aa"/><stop offset="0.250" stop-color="#2c48b2"/><stop offset="0.352" stop-color="#2854be"/><stop offset="0.398" stop-color="#2496e2"/><stop offset="0.438" stop-color="#30bee6"/><stop offset="0.472" stop-color="#46b45a"/><stop offset="0.511" stop-color="#4eb03c"/><stop offset="0.653" stop-color="#6ebc32"/><stop offset="0.699" stop-color="#e6e228"/><stop offset="0.739" stop-color="#f6b41e"/><stop offset="0.784" stop-color="#f06e1e"/><stop offset="0.841" stop-color="#e8281e"/><stop offset="0.920" stop-color="#ec3232"/><stop offset="0.977" stop-color="#fac8c8"/></linearGradient></defs>
<g filter="url(#sbl)"><path d="M1040 427.9 1077.2 465.6 1134.3 521.9 1137.4 521.7 1080.2 465.4 1043.1 427.7Z" fill="url(#p76)"/><path d="M1037.7 428.1 1074.8 465.8 1132 522.1 1135 521.9 1077.9 465.6 1040.7 427.9Z" fill="url(#p75)"/><path d="M1035.3 428.3 1072.4 466 1129.6 522.3 1132.7 522.1 1075.5 465.8 1038.4 428.1Z" fill="url(#p74)"/><path d="M1032.9 428.5 1070.1 466.2 1127.2 522.5 1130.3 522.3 1073.1 466 1036 428.3Z" fill="url(#p73)"/><path d="M1030.5 428.7 1067.7 466.4 1124.8 522.7 1127.9 522.5 1070.8 466.2 1033.6 428.5Z" fill="url(#p72)"/><path d="M1028.2 428.9 1065.3 466.6 1122.5 522.8 1125.5 522.7 1068.4 466.4 1031.2 428.7Z" fill="url(#p71)"/><path d="M1025.8 429.1 1062.9 466.8 1120.1 523 1123.2 522.8 1066 466.6 1028.9 428.9Z" fill="url(#p70)"/><path d="M1023.4 429.3 1060.6 467 1117.7 523.2 1120.8 523 1063.6 466.8 1026.5 429.1Z" fill="url(#p69)"/><path d="M1021 429.5 1058.2 467.2 1115.3 523.4 1118.4 523.2 1061.3 467 1024.1 429.3Z" fill="url(#p68)"/><path d="M1018.7 429.6 1055.8 467.4 1113 523.6 1116 523.4 1058.9 467.2 1021.7 429.5Z" fill="url(#p67)"/><path d="M1016.3 429.8 1053.4 467.6 1110.6 523.8 1113.7 523.6 1056.5 467.4 1019.4 429.6Z" fill="url(#p66)"/><path d="M1013.9 430 1051.1 467.8 1108.2 524 1111.3 523.8 1054.1 467.6 1017 429.8Z" fill="url(#p65)"/><path d="M1011.5 430.2 1048.7 468 1105.8 524.2 1108.9 524 1051.8 467.8 1014.6 430Z" fill="url(#p64)"/><path d="M1009.2 430.4 1046.3 468.2 1103.5 524.4 1106.5 524.2 1049.4 468 1012.2 430.2Z" fill="url(#p63)"/><path d="M1006.8 430.6 1043.9 468.4 1101.1 524.6 1104.2 524.4 1047 468.2 1009.9 430.4Z" fill="url(#p62)"/><path d="M1004.4 430.8 1041.6 468.5 1098.7 524.8 1101.8 524.6 1044.6 468.4 1007.5 430.6Z" fill="url(#p61)"/><path d="M1002.1 431 1039.2 468.7 1096.4 525 1099.4 524.8 1042.3 468.5 1005.1 430.8Z" fill="url(#p60)"/><path d="M999.7 431.2 1036.8 468.9 1094 525.2 1097.1 525 1039.9 468.7 1002.8 431Z" fill="url(#p59)"/><path d="M997.3 431.4 1034.5 469.1 1091.6 525.4 1094.7 525.2 1037.5 468.9 1000.4 431.2Z" fill="url(#p58)"/><path d="M994.9 431.6 1032.1 469.3 1089.2 525.6 1092.3 525.4 1035.2 469.1 998 431.4Z" fill="url(#p57)"/><path d="M992.6 431.8 1029.7 469.5 1086.9 525.8 1089.9 525.6 1032.8 469.3 995.6 431.6Z" fill="url(#p56)"/><path d="M990.2 432 1006.6 448.8 1027.3 469.7 1084.5 526 1087.6 525.8 1030.4 469.5 993.3 431.8Z" fill="url(#p55)"/><path d="M987.8 432 999 443.7 1023.2 468.2 1082.1 526.2 1085.2 526 1028 469.7 1007.3 448.8 990.9 432Z" fill="url(#p54)"/><path d="M985.4 431.9 991.4 438.6 1017.4 464.9 1079.7 526.3 1082.8 526.2 1023.9 468.2 999.7 443.7 988.5 432Z" fill="url(#p53)"/><path d="M983.1 431.9 989 438.8 1011.6 461.6 1039.3 489.2 1077.4 526.5 1080.4 526.3 1018.1 464.9 992.1 438.6 986.1 431.9Z" fill="url(#p52)"/><path d="M980.7 431.9 988.4 440.7 1007.5 460.1 1036.9 489.4 1075 526.7 1078.1 526.5 1040 489.2 1012.3 461.6 989.7 438.8 983.8 431.9Z" fill="url(#p51)"/><path d="M978.3 431.8 986 440.9 1001.6 456.8 1031.1 486.2 1072.6 526.9 1075.7 526.7 1037.6 489.4 1008.2 460.1 989.1 440.7 981.4 431.9Z" fill="url(#p50)"/><path d="M975.9 431.7 985.4 442.9 995.8 453.5 1027 484.6 1070.2 527.1 1073.3 526.9 1031.8 486.2 1002.3 456.8 986.7 440.9 979 431.8Z" fill="url(#p49)"/><path d="M973.6 431.6 983 442.9 991.7 451.9 1022.8 483.1 1067.9 527.3 1070.9 527.1 1027.7 484.6 996.5 453.5 986.1 442.9 976.6 431.7Z" fill="url(#p48)"/><path d="M971.2 431.4 978.9 440.9 985.8 448.6 1018.7 481.6 1065.5 527.5 1068.6 527.3 1023.5 483.1 992.4 451.9 983.7 442.9 974.3 431.6Z" fill="url(#p47)"/><path d="M968.8 431.3 976.5 440.9 985.2 450.6 1018.1 483.5 1063.1 527.7 1066.2 527.5 1019.4 481.6 986.5 448.6 979.6 440.9 971.9 431.4Z" fill="url(#p46)"/><path d="M966.5 431.1 974.2 440.9 984.6 452.5 1015.7 483.7 1060.8 527.9 1063.8 527.7 1018.8 483.5 985.9 450.6 977.2 440.9 969.5 431.3Z" fill="url(#p45)"/><path d="M964.1 430.9 971.8 440.8 982.2 452.7 1013.4 483.9 1058.4 528.1 1061.5 527.9 1016.4 483.7 985.3 452.5 974.9 440.9 967.2 431.1Z" fill="url(#p44)"/><path d="M961.7 431.8 966 436.5 974.6 446.9 983.3 456.5 1017.9 490.9 1056 528.3 1059.1 528.1 1014.1 483.9 982.9 452.7 972.5 440.8 964.8 430.9Z" fill="url(#p43)"/><path d="M959.3 431.4 962.5 436.8 968.8 443 977.4 452.8 986.1 462.1 1053.6 528.5 1056.7 528.3 1018.6 490.9 984 456.5 975.3 446.9 966.7 436.5 962.4 431.8Z" fill="url(#p42)"/><path d="M957 425.1 962.9 437.5 964.7 440.5 968.1 445.7 987.2 465.8 1051.3 528.7 1054.3 528.5 986.8 462.1 978.1 452.8 969.5 443 963.2 436.8 960 431.4Z" fill="url(#p41)"/><path d="M954.6 417.5 960.6 431.4 965.8 442 969.2 448 974.4 455.2 990 471.3 1048.9 528.9 1052 528.7 987.9 465.8 968.8 445.7 965.4 440.5 963.6 437.5 957.7 425.1Z" fill="url(#p40)"/><path d="M952.2 409.4 959.9 428.3 965.1 439.4 972 452.1 975.5 457.8 977.2 460.2 980.7 464.4 992.8 476.7 1003.2 486.6 1046.5 529.1 1049.6 528.9 990.7 471.3 975.1 455.2 969.9 448 966.5 442 961.3 431.4 955.3 417.5Z" fill="url(#p39)"/><path d="M949.8 401.9 959.3 424.8 964.5 436.2 974.9 456.3 981.8 467.3 987 473.4 993.9 480.3 1006 491.9 1044.1 529.3 1047.2 529.1 1003.9 486.6 993.5 476.7 981.4 464.4 977.9 460.2 976.2 457.8 972.7 452.1 965.8 439.4 960.6 428.3 952.9 409.4Z" fill="url(#p38)"/><path d="M947.5 395.7 960.4 425.3 972.5 450.4 979.4 462.7 986.3 474.2 988.1 476.6 993.3 482.2 1041.8 529.5 1044.8 529.3 1006.7 491.9 994.6 480.3 987.7 473.4 982.5 467.3 975.6 456.3 965.2 436.2 960 424.8 950.5 401.9Z" fill="url(#p37)"/><path d="M945.1 391.8 949.3 399.4 958 418.3 963.2 428.5 970.1 443.7 987.4 475.2 992.6 483.7 996.1 487.5 1001.3 492.7 1039.4 529.7 1042.5 529.5 994 482.2 988.8 476.6 987 474.2 980.1 462.7 973.2 450.4 961.1 425.3 948.2 395.7Z" fill="url(#p36)"/><path d="M942.7 390.9 945.9 394.5 950.4 402.1 960.8 422 967.7 437.3 979.9 458.7 992 482.2 995.5 488.4 997.2 490.9 1000.7 494.6 1037 529.8 1040.1 529.7 1002 492.7 996.8 487.5 993.3 483.7 988.1 475.2 970.8 443.7 963.9 428.5 958.7 418.3 950 399.4 945.8 391.8Z" fill="url(#p35)"/><path d="M940.3 391.2 944.6 395.6 948.1 399.8 951.5 405.3 958.4 417.1 965.4 432.1 968.8 438.1 975.8 449.1 982.7 461.2 987.9 471.4 994.8 486.4 1000 495.4 1001.7 497.9 1003.5 499.9 1034.6 530 1037.7 529.8 1001.4 494.6 997.9 490.9 996.2 488.4 992.7 482.2 980.6 458.7 968.4 437.3 961.5 422 951.1 402.1 946.6 394.5 943.4 390.9Z" fill="url(#p34)"/><path d="M938 391.6 942.2 396.1 947.4 402.3 952.6 409.3 956.1 414.6 963 429.3 964.7 432.4 975.1 447.9 982 459 985.5 465 994.2 483.5 999.4 493.3 1004.6 502.2 1008 506.8 1032.3 530.2 1035.3 530 1004.2 499.9 1002.4 497.9 1000.7 495.4 995.5 486.4 988.6 471.4 983.4 461.2 976.5 449.1 969.5 438.1 966.1 432.1 959.1 417.1 952.2 405.3 948.8 399.8 945.3 395.6 941 391.2Z" fill="url(#p33)"/><path d="M935.6 392.1 943.3 400.9 950.2 410.1 953.7 415.9 958.9 426.2 962.4 432.2 984.9 465.2 986.6 468.1 993.5 481.4 1010.8 511.5 1012.6 513.8 1029.9 530.4 1033 530.2 1008.7 506.8 1005.3 502.2 1000.1 493.3 994.9 483.5 986.2 465 982.7 459 975.8 447.9 965.4 432.4 963.7 429.3 956.8 414.6 953.3 409.3 948.1 402.3 942.9 396.1 938.7 391.6Z" fill="url(#p32)"/><path d="M933.2 392.8 939.2 399.7 946.1 408.9 947.9 411.5 954.8 424.9 956.5 427.8 958.3 429.8 961.7 435.4 977.3 458 979 461.1 984.2 468.2 986 471.9 989.4 477.5 998.1 490.5 1008.5 505.3 1020.6 523.7 1022.3 525.7 1027.5 530.7 1030.6 530.4 1013.3 513.8 1011.5 511.5 994.2 481.4 987.3 468.1 985.6 465.2 963.1 432.2 959.6 426.2 954.4 415.9 950.9 410.1 944 400.9 936.3 392.1Z" fill="url(#p31)"/><path d="M930.9 393.5 936.8 400.6 942 407.7 945.5 413.3 952.4 426.7 954.1 429.2 955.9 430.8 959.3 436.4 974.9 458.6 976.7 462.3 981.9 469 983.6 473.5 987.1 478.8 997.4 493.2 999.2 496.3 1016.5 516.7 1018.2 519.4 1021.7 526.3 1023.4 529.1 1025.2 531 1028.2 530.7 1023 525.7 1021.3 523.7 1009.2 505.3 998.8 490.5 990.1 477.5 986.7 471.9 984.9 468.2 979.7 461.1 978 458 962.4 435.4 959 429.8 957.2 427.8 955.5 424.9 948.6 411.5 946.8 408.9 939.9 399.7 933.9 392.8Z" fill="url(#p30)"/><path d="M928.5 394.3 932.7 399.4 937.9 406.5 941.4 412.1 946.6 422.2 950 428.3 951.8 430.6 953.5 432 958.7 440.2 967.4 452.7 972.6 459.8 974.3 463.7 979.5 470.2 981.2 475.1 982.9 477.7 995.1 493.6 996.8 497.3 998.5 499.5 1007.2 509.5 1019.3 522.6 1021 525.5 1022.8 529.4 1025.9 531 1024.1 529.1 1022.4 526.3 1018.9 519.4 1017.2 516.7 999.9 496.3 998.1 493.2 987.8 478.8 984.3 473.5 982.6 469 977.4 462.3 975.6 458.6 960 436.4 956.6 430.8 954.8 429.2 953.1 426.7 946.2 413.3 942.7 407.7 937.5 400.6 931.6 393.5Z" fill="url(#p29)"/><path d="M926.1 395.2 932.1 402.8 935.5 407.9 939 414 944.2 424.1 947.7 429.7 949.4 432 951.1 433.6 954.6 439.2 966.7 456.8 970.2 463 977.1 472.1 978.8 476.7 985.8 485.8 992.7 494.2 994.4 498.3 996.2 500.5 1010 515.8 1020.4 526.4 1023.5 529.4 1021.7 525.5 1020 522.6 1007.9 509.5 999.2 499.5 997.5 497.3 995.8 493.6 983.6 477.7 981.9 475.1 980.2 470.2 975 463.7 973.3 459.8 968.1 452.7 959.4 440.2 954.2 432 952.5 430.6 950.7 428.3 947.3 422.2 942.1 412.1 938.6 406.5 933.4 399.4 929.2 394.3Z" fill="url(#p28)"/><path d="M923.7 396.1 928 401.6 931.4 406.6 934.9 412.7 940.1 422.8 943.6 428.6 947 433.5 948.8 435.5 959.2 451.3 964.3 460.3 967.8 465.6 969.5 467.3 974.7 474.3 976.5 478.3 983.4 486.9 990.3 494.8 992.1 499.3 993.8 501.4 1007.6 516.5 1018 527.1 1021.1 526.4 1010.7 515.8 996.9 500.5 995.1 498.3 993.4 494.2 986.5 485.8 979.5 476.7 977.8 472.1 970.9 463 967.4 456.8 955.3 439.2 951.8 433.6 950.1 432 948.4 429.7 944.9 424.1 939.7 414 936.2 407.9 932.8 402.8 926.8 395.2Z" fill="url(#p27)"/><path d="M921.4 397 927.3 405.3 930.8 411.4 936 421.5 939.5 427.4 953.3 448.3 958.5 457.6 965.4 468.1 967.2 469.7 972.4 476.8 974.1 479.8 975.8 481.9 982.8 490 988 495.5 989.7 500.2 991.4 502.3 1003.5 515.4 1015.7 527.7 1018.7 527.1 1008.3 516.5 994.5 501.4 992.8 499.3 991 494.8 984.1 486.9 977.2 478.3 975.4 474.3 970.2 467.3 968.5 465.6 965 460.3 959.9 451.3 949.5 435.5 947.7 433.5 944.3 428.6 940.8 422.8 935.6 412.7 932.1 406.6 928.7 401.6 924.4 396.1Z" fill="url(#p26)"/><path d="M920.2 397.5 923.4 401.7 926.2 406.1 934.8 422.5 938.3 428.3 950.4 446.8 953.9 453.4 957.3 459.1 964.3 469.2 966 471 974.7 482.6 981.6 490.6 986.8 496.1 988.5 500.7 990.3 502.8 1002.4 515.7 1014.5 528 1016.4 527.7 1004.2 515.4 992.1 502.3 990.4 500.2 988.7 495.5 983.5 490 976.5 481.9 974.8 479.8 973.1 476.8 967.9 469.7 966.1 468.1 959.2 457.6 954 448.3 940.2 427.4 936.7 421.5 931.5 411.4 928 405.3 922.1 397Z" fill="url(#p25)"/><path d="M919 397.9 922.2 402.3 925 406.9 933.7 423.4 947.5 445.4 952.7 455 956.2 460.5 961.4 467.9 971.8 481.3 978.7 489.3 985.6 496.7 987.4 501.1 989.1 503.2 1001.2 516 1013.3 528.3 1015.2 528 1003.1 515.7 991 502.8 989.2 500.7 987.5 496.1 982.3 490.6 975.4 482.6 966.7 471 965 469.2 958 459.1 954.6 453.4 951.1 446.8 939 428.3 935.5 422.5 926.9 406.1 924.1 401.7 920.9 397.5Z" fill="url(#p24)"/><path d="M917.9 398.4 922.1 404.7 932.5 424.4 942.9 441.1 949.8 453.7 953.3 459.2 958.5 466.7 970.6 482 977.5 490 984.5 497.4 986.2 501.6 987.9 503.6 1000 516.4 1012.2 528.6 1014 528.3 1001.9 516 989.8 503.2 988.1 501.1 986.3 496.7 979.4 489.3 972.5 481.3 962.1 467.9 956.9 460.5 953.4 455 948.2 445.4 934.4 423.4 925.7 406.9 922.9 402.3 919.7 397.9Z" fill="url(#p23)"/><path d="M916.7 398.9 920.9 405.5 929.6 422.3 940 439.6 946.9 452.4 950.4 457.9 955.6 465.4 960.8 472.3 967.7 480.8 976.4 490.7 983.3 498.1 985 502 986.8 504 1011 528.9 1012.9 528.6 1000.7 516.4 988.6 503.6 986.9 501.6 985.2 497.4 978.2 490 971.3 482 959.2 466.7 954 459.2 950.5 453.7 943.6 441.1 933.2 424.4 922.8 404.7 918.6 398.4Z" fill="url(#p22)"/><path d="M915.5 399.4 919.8 406.3 928.4 423.4 937.1 438.1 942.3 448.1 947.5 456.7 952.7 464.2 957.9 471.1 966.5 481.7 982.1 498.9 983.9 502.5 994.3 513.4 1009.8 529.2 1011.7 528.9 987.5 504 985.7 502 984 498.1 977.1 490.7 968.4 480.8 961.5 472.3 956.3 465.4 951.1 457.9 947.6 452.4 940.7 439.6 930.3 422.3 921.6 405.5 917.4 398.9Z" fill="url(#p21)"/><path d="M914.4 399.9 917.6 405.2 925.5 421.4 934.2 436.7 939.4 446.9 944.6 455.5 949.8 463 956.7 472 965.4 482.5 981 499.7 982.7 502.9 993.1 513.8 1008.7 529.5 1010.5 529.2 995 513.4 984.6 502.5 982.8 498.9 967.2 481.7 958.6 471.1 953.4 464.2 948.2 456.7 943 448.1 937.8 438.1 929.1 423.4 920.5 406.3 916.2 399.4Z" fill="url(#p20)"/><path d="M913.2 400.5 917.5 408.3 924.4 422.7 931.3 435.3 936.5 445.6 941.7 454.3 946.9 461.9 952.1 468.7 960.8 479.3 971.1 491.1 979.8 500.4 981.5 503.3 1007.5 529.8 1009.4 529.5 993.8 513.8 983.4 502.9 981.7 499.7 966.1 482.5 957.4 472 950.5 463 945.3 455.5 940.1 446.9 934.9 436.7 926.2 421.4 918.3 405.2 915.1 399.9Z" fill="url(#p19)"/><path d="M912 401.2 915.2 407.2 921.5 420.7 928.4 433.9 933.6 444.4 938.8 453.2 944 460.7 950.9 469.7 959.6 480.1 978.6 501.1 980.4 503.7 1006.3 530 1008.2 529.8 982.2 503.3 980.5 500.4 971.8 491.1 961.5 479.3 952.8 468.7 947.6 461.9 942.4 454.3 937.2 445.6 932 435.3 925.1 422.7 918.2 408.3 913.9 400.5Z" fill="url(#p18)"/><path d="M910.9 402 914.1 408.2 920.3 422.3 930.7 443.2 935.9 452.1 941.1 459.6 948 468.5 956.7 479 961.9 485 977.5 501.8 979.2 504.1 1005.2 530.3 1007 530 981.1 503.7 979.3 501.1 960.3 480.1 951.6 469.7 944.7 460.7 939.5 453.2 934.3 444.4 929.1 433.9 922.2 420.7 915.9 407.2 912.7 401.2Z" fill="url(#p17)"/><path d="M909.7 402.8 912.9 409.5 917.4 420.4 927.8 442.1 933 451 938.2 458.5 948.6 471.7 960.7 485.7 978 504.5 1004 530.6 1005.9 530.3 979.9 504.1 978.2 501.8 962.6 485 957.4 479 948.7 468.5 941.8 459.6 936.6 452.1 931.4 443.2 921 422.3 914.8 408.2 911.6 402Z" fill="url(#p16)"/><path d="M908.6 403.8 910.7 408.4 916.3 422.3 924.9 441 930.1 450 935.3 457.4 945.7 470.5 959.6 486.4 976.9 504.8 1002.9 530.8 1004.7 530.6 978.7 504.5 961.4 485.7 949.3 471.7 938.9 458.5 933.7 451 928.5 442.1 918.1 420.4 913.6 409.5 910.4 402.8Z" fill="url(#p15)"/><path d="M907.4 404.9 913.4 420.5 920.3 436.5 925.5 446.3 929 451.6 932.4 456.4 944.5 471.5 958.4 487.1 974 503.4 1001.7 531.1 1003.6 530.8 977.6 504.8 960.3 486.4 946.4 470.5 936 457.4 930.8 450 925.6 441 917 422.3 911.4 408.4 909.3 403.8Z" fill="url(#p14)"/><path d="M906.2 406.1 910.5 418.7 917.4 435.5 919.1 439.1 922.6 445.4 929.5 455.4 941.6 470.4 955.5 485.9 972.8 503.8 1000.5 531.3 1002.4 531.1 974.7 503.4 959.1 487.1 945.2 471.5 933.1 456.4 929.7 451.6 926.2 446.3 921 436.5 914.1 420.5 908.1 404.9Z" fill="url(#p13)"/><path d="M905.1 408.2 908.2 418.7 914.5 434.6 916.2 438.2 919.7 444.5 926.6 454.4 931.8 461 938.8 469.3 952.6 484.6 971.7 504.2 999.4 531.6 1001.2 531.3 973.5 503.8 956.2 485.9 942.3 470.4 930.2 455.4 923.3 445.4 919.8 439.1 918.1 435.5 911.2 418.7 906.9 406.1Z" fill="url(#p12)"/><path d="M903.9 411.8 906 418.9 908.1 424.8 911.6 433.7 913.3 437.5 915.1 440.7 918.5 446.3 925.5 455.7 935.9 468.2 949.7 483.3 970.5 504.5 998.2 531.8 1000.1 531.6 972.4 504.2 953.3 484.6 939.5 469.3 932.5 461 927.3 454.4 920.4 444.5 916.9 438.2 915.2 434.6 908.9 418.7 905.8 408.2Z" fill="url(#p11)"/><path d="M902.7 416.1 907 428.7 910.4 436.8 912.2 440 915.6 445.4 924.3 456.9 934.7 469 948.5 483.8 969.3 504.9 997 532.1 998.9 531.8 971.2 504.5 950.4 483.3 936.6 468.2 926.2 455.7 919.2 446.3 915.8 440.7 914 437.5 912.3 433.7 908.8 424.8 906.7 418.9 904.6 411.8Z" fill="url(#p10)"/><path d="M901.6 420.4 903.7 426.9 905.8 432.5 909.3 439.3 914.5 447 923.1 458 933.5 469.8 949.1 486 968.2 505.2 995.9 532.3 997.7 532.1 970 504.9 949.2 483.8 935.4 469 925 456.9 916.3 445.4 912.9 440 911.1 436.8 907.7 428.7 903.4 416.1Z" fill="url(#p9)"/><path d="M900.4 425.3 903.6 433.6 906.4 438.7 913.3 448.5 922 459 932.4 470.4 949.7 488.2 967 505.6 994.7 532.6 996.6 532.3 968.9 505.2 949.8 486 934.2 469.8 923.8 458 915.2 447 910 439.3 906.5 432.5 904.4 426.9 902.3 420.4Z" fill="url(#p8)"/><path d="M899.2 430 902.4 436.4 907 443.1 913.9 451.9 922.5 461.8 934.7 474.5 952 492.1 965.8 505.9 969.3 509 993.5 532.8 995.4 532.6 967.7 505.6 950.4 488.2 933.1 470.4 922.7 459 914 448.5 907.1 438.7 904.3 433.6 901.1 425.3Z" fill="url(#p7)"/><path d="M898.1 433.5 902.3 440 907.5 446.8 914.4 455 923.1 464.3 937 478.6 954.3 495.9 992.4 533 994.2 532.8 970 509 966.5 505.9 952.7 492.1 935.4 474.5 923.2 461.8 914.6 451.9 907.7 443.1 903.1 436.4 899.9 430Z" fill="url(#p6)"/><path d="M896.9 435.9 901.2 441.7 906.4 448 913.3 455.8 921.9 464.9 954.9 497.9 991.2 533.2 993.1 533 955 495.9 937.7 478.6 923.8 464.3 915.1 455 908.2 446.8 903 440 898.8 433.5Z" fill="url(#p5)"/><path d="M895.8 437.7 900 443.1 905.2 449.1 922.5 467.2 957.2 501.6 990.1 533.5 991.9 533.2 955.6 497.9 922.6 464.9 914 455.8 907.1 448 901.9 441.7 897.6 435.9Z" fill="url(#p4)"/><path d="M894.6 439.3 904 450 921.3 467.7 957.7 503.5 988.9 533.7 990.8 533.5 957.9 501.6 923.2 467.2 905.9 449.1 900.7 443.1 896.5 437.7Z" fill="url(#p3)"/><path d="M893.4 440.6 902.9 450.8 920.2 468.2 987.7 533.9 989.6 533.7 958.4 503.5 922 467.7 904.7 450 895.3 439.3Z" fill="url(#p2)"/><path d="M892.3 441.8 917.3 466.8 986.6 534.1 988.4 533.9 920.9 468.2 903.6 450.8 894.1 440.6Z" fill="url(#p1)"/><path d="M891.1 442.8 985.4 534.3 987.3 534.1 918 466.8 893 441.8Z" fill="url(#p0)"/></g><path d="M892.4 442.3 986.7 534.2M895 439.6 903.6 449.3 920.7 466.8 989.3 533.7M925.7 459 937.1 472 951.4 486.9 968.6 504.2 997.2 532.2M1015.1 520.8 1020.8 526.5M995.1 482.1 1043.6 529.4M992.7 476.1 1047 529.1M975.7 431.6 984.3 441.9 995.7 453.7 1027.2 485.1 1070 527.2M996.7 431.5 1033.8 469.2 1091 525.5M1004.5 430.9 1041.7 468.6 1098.8 524.8M1011.3 430.3 1048.4 468 1105.6 524.3M1040.2 427.9 1077.4 465.7 1134.5 521.9" fill="none" stroke="#12040f" stroke-width="2.0" opacity="0.2"/><path d="M897.2 436.6 905.7 447.5 922.9 465.9 957.2 500.1 991.5 533.3M918.8 445.9 924.5 453.8 930.2 460.9 944.5 477.2 970.2 503.7 998.8 531.8M926.4 451.5 937.8 466.1 952.1 482.3 972.1 503.1 1000.7 531.4M973.9 483.2 985.3 495.9 988.2 501.6 999.6 513.8 1013.9 528.4M999.6 496.9 1016.7 516.7 1019.6 520.4 1022.5 526.7 1025.3 531.1M1000.8 492.6 1003.7 497.1M1020.8 522.4 1029.4 530.6M1002 493.7 1039.2 529.7M989.2 470.2 1049.2 528.9M986.1 464.1 1051.8 528.7M978.6 451.8 984.3 457.9 1004.3 477.8 1055.7 528.4M965.9 431 974.5 441.9 983.1 451.6 1014.5 483.1 1060.2 528M968.4 431.2 977 441.9 985.5 451.4 1017 482.9 1062.7 527.8M978.1 431.7 986.7 441.9 1000.9 456.4 1032.4 487.8 1072.4 527M982.4 431.9 988.2 438.6 1011 461.8 1076.7 526.6M994.7 431.7 1031.8 469.4 1089 525.6M1008.1 430.6 1045.3 468.3 1102.4 524.5M1032.9 428.5 1070.1 466.3 1127.2 522.5M1036.5 428.2 1073.6 466 1130.8 522.2" fill="none" stroke="#d83cb0" stroke-width="0.9" opacity="0.22"/><path d="M906.1 439.6 911.8 447.5 917.5 454.5 931.8 470.2 963.2 502.1 994.7 532.7M986.5 495.3 989.3 501.2 1000.8 513.5 1015.1 528.1M992.8 499.8 1007.1 515.5 1018.5 527.2M997.1 498 1008.5 511.1 1020 523.3 1022.8 527.9M1005.3 499.8 1011 508.1M1022.4 525.2 1028.1 530.7M1015 513.8 1032.2 530.3M1005.4 499.5 1036.9 529.9M998.7 487.9 1041.6 529.5M981 431.8 989.6 441.7 1006.7 459.1 1075.3 526.8M985.8 431.9 991.5 438.3 1017.2 464.4 1080.1 526.4M990.2 432 1027.4 469.8 1084.5 526M1000.2 431.2 1037.3 469 1094.5 525.2M1006.1 430.7 1043.3 468.5 1100.4 524.7M1012.8 430.2 1049.9 467.9 1107.1 524.2M1017.7 429.8 1054.8 467.5 1112 523.8M1022.6 429.4 1059.8 467.1 1116.9 523.4M1025.6 429.1 1062.8 466.9 1119.9 523.1M1027.8 429 1064.9 466.7 1122.1 522.9M1041.2 427.9 1078.3 465.6 1135.5 521.8" fill="none" stroke="#0a020a" stroke-width="1.3" opacity="0.3"/><path d="M934.5 456.5 946 470.9 960.2 487.1 977.4 505.2 1003.1 530.9M946.5 464.3 960.8 481.8 977.9 500.6 980.8 504.2 1006.5 530.2M954.4 469.6 965.9 483.4 980.2 499.2 983 503.5 1008.7 529.6M965.9 478 974.4 487.9 983 497.3 985.9 502.5 1011.6 529M1011.5 508.1 1034.4 530.1M982.2 458 1053.6 528.5M972.2 441.9 983.6 454.8 1015.1 486.1 1057.9 528.2M971.5 431.4 977.3 438.6 985.8 448.3 1020.1 482.7 1065.8 527.5M972.6 431.5 981.1 441.9 986.9 448.2 1021.1 482.6 1066.9 527.5M987.3 432 995.9 441.1 1021.6 467.2 1081.6 526.3M992.7 431.8 1029.8 469.6 1087 525.8M1001.3 431.1 1038.4 468.9 1095.6 525.1M1016.2 429.9 1053.3 467.6 1110.5 523.9M1019.9 429.6 1057 467.3 1114.2 523.6M1029.4 428.8 1066.5 466.6 1123.7 522.8M1034.7 428.4 1071.8 466.1 1129 522.4" fill="none" stroke="#e040b8" stroke-width="1.3" opacity="0.14"/><path d="M891.8 442.5 892.8 441.4 893.8 440.7 894.8 436.9 895.9 438.2 896.9 436.5 897.9 435.1 898.9 432.4 899.9 429.8 900.9 423.8 902 421.2 903 416 904 413.7 905 408.4 906 407.4 907 402.1 908 404.6 909.1 398.6 910.1 402.8 911.1 399.8 912.1 401.3 913.1 399.7 914.1 400.1 915.2 394.6 916.2 399.1 917.2 398.4 918.2 398.2 919.2 395.8 920.2 397.4 921.2 395.2 922.3 396.6 923.3 394.7 924.3 395.8 925.3 394.2 926.3 395 927.3 394.5 928.4 394.3 929.4 389.4 930.4 393.6 931.4 389.1 932.4 392.9 933.4 388.7 934.4 392.3 935.5 391.8 936.5 391.8 937.5 388.2 938.5 391.3 939.5 390.8 940.5 391 941.6 387 942.6 390.7 943.6 388.3 944.6 390.6 945.6 389.6 946.6 392.6 947.6 393.9 948.7 396.5 948.7 398 947.6 395.8 946.6 394.1 945.6 392.8 944.6 392.1 943.6 392.1 942.6 392.2 941.6 392.3 940.5 392.5 939.5 392.6 938.5 392.8 937.5 393.1 936.5 393.3 935.5 393.6 934.4 393.8 933.4 394.1 932.4 394.4 931.4 394.7 930.4 395.1 929.4 395.4 928.4 395.8 927.3 396.2 926.3 396.5 925.3 396.9 924.3 397.3 923.3 397.7 922.3 398.1 921.2 398.5 920.2 398.9 919.2 399.3 918.2 399.7 917.2 400.2 916.2 400.6 915.2 401.1 914.1 401.6 913.1 402.2 912.1 402.8 911.1 403.5 910.1 404.3 909.1 405.2 908 406.1 907 407.2 906 408.9 905 411.7 904 415.2 903 419 902 422.7 900.9 427.2 899.9 431.3 898.9 434.5 897.9 436.6 896.9 438.3 895.9 439.7 894.8 441 893.8 442.2 892.8 443.2 891.8 444ZM965.9 430.3 966.9 430.8 968 429.8 969 430.9 970 430.3 971 431.1 972 429.2 973 431.2 974.1 429.4 975.1 431.3 976.1 429.5 977.1 431.4 978.1 430.8 979.1 431.5 980.1 430.7 981.2 431.5 982.2 431.4 983.2 431.6 984.2 431.4 985.2 431.6 986.2 430.7 987.3 431.7 988.3 431.4 989.3 431.7 990.3 430.4 991.3 431.6 992.3 431.1 993.3 431.5 994.4 431.3 995.4 431.3 996.4 430.6 997.4 431.1 998.4 431 999.4 431 1000.5 429.1 1001.5 430.8 1002.5 430.7 1003.5 430.6 1004.5 428.6 1005.5 430.5 1006.5 429.5 1007.6 430.3 1008.6 429.7 1009.6 430.1 1010.6 430 1011.6 430 1012.6 429.7 1013.7 429.8 1014.7 429.5 1015.7 429.6 1016.7 427.7 1017.7 429.5 1018.7 429.4 1019.7 429.3 1020.8 429.1 1021.8 429.1 1022.8 428.7 1023.8 429 1024.8 428.7 1025.8 428.8 1026.9 427.7 1027.9 428.6 1028.9 427 1029.9 428.5 1030.9 428.4 1031.9 428.3 1032.9 428.1 1034 428.1 1035 427.1 1036 428 1037 427.8 1038 427.8 1039 427 1040.1 427.6 1041.1 427.3 1042.1 427.5 1043.1 426.9 1043.1 428.9 1042.1 429 1041.1 429.1 1040.1 429.1 1039 429.2 1038 429.3 1037 429.4 1036 429.5 1035 429.6 1034 429.6 1032.9 429.7 1031.9 429.8 1030.9 429.9 1029.9 430 1028.9 430.1 1027.9 430.1 1026.9 430.2 1025.8 430.3 1024.8 430.4 1023.8 430.5 1022.8 430.6 1021.8 430.6 1020.8 430.7 1019.7 430.8 1018.7 430.9 1017.7 431 1016.7 431.1 1015.7 431.1 1014.7 431.2 1013.7 431.3 1012.6 431.4 1011.6 431.5 1010.6 431.6 1009.6 431.6 1008.6 431.7 1007.6 431.8 1006.5 431.9 1005.5 432 1004.5 432.1 1003.5 432.1 1002.5 432.2 1001.5 432.3 1000.5 432.4 999.4 432.5 998.4 432.6 997.4 432.6 996.4 432.7 995.4 432.8 994.4 432.9 993.3 433 992.3 433.1 991.3 433.1 990.3 433.2 989.3 433.2 988.3 433.2 987.3 433.2 986.2 433.1 985.2 433.1 984.2 433.1 983.2 433.1 982.2 433.1 981.2 433 980.1 433 979.1 433 978.1 432.9 977.1 432.9 976.1 432.9 975.1 432.8 974.1 432.8 973 432.7 972 432.6 971 432.6 970 432.5 969 432.4 968 432.4 966.9 432.3 965.9 432.2Z" fill="url(#pf)"/>
<g filter="url(#sbl)"><path d="M1204.6 408.4 1208.7 414.9 1212.1 419.3 1213.7 421.2 1240.6 449 1296.1 505.2 1299.2 505 1243.7 448.8 1216.9 421 1213.5 417.2 1207.7 408.9Z" fill="url(#q72)"/><path d="M1202.2 407.8 1206.3 414.6 1209.6 419.2 1213 423 1239.9 450.9 1293.7 505.4 1296.8 505.2 1241.3 449 1214.4 421.2 1212.8 419.3 1209.4 414.9 1205.3 408.4Z" fill="url(#q71)"/><path d="M1199.7 407.1 1200.8 409.4 1202.8 412.7 1208.9 421.1 1212.3 424.9 1239.2 452.7 1291.2 505.6 1294.4 505.4 1240.6 450.9 1213.7 423 1210.3 419.2 1207 414.6 1202.9 407.8Z" fill="url(#q70)"/><path d="M1197.3 406.4 1198.4 409 1200.4 412.3 1208.2 422.9 1211.5 426.8 1236.7 452.9 1288.8 505.8 1291.9 505.6 1239.9 452.7 1213 424.9 1209.6 421.1 1203.5 412.7 1201.5 409.4 1200.4 407.1Z" fill="url(#q69)"/><path d="M1194.9 405.5 1197 409.5 1200.7 415.3 1207.4 424.6 1210.8 428.7 1236 454.8 1286.4 506 1289.5 505.8 1237.4 452.9 1212.2 426.8 1208.9 422.9 1201.1 412.3 1199.1 409 1198 406.4Z" fill="url(#q68)"/><path d="M1192.5 404.5 1196.6 411.7 1200 416.9 1206.7 426.4 1210.1 430.5 1235.3 456.7 1284 506.2 1287.1 506 1236.7 454.8 1211.5 428.7 1208.1 424.6 1201.4 415.3 1197.7 409.5 1195.6 405.5Z" fill="url(#q67)"/><path d="M1190.1 403.5 1194.2 410.6 1199.2 418.5 1206 428 1209.3 432.3 1232.8 456.9 1281.6 506.4 1284.7 506.2 1236 456.7 1210.8 430.5 1207.4 426.4 1200.7 416.9 1197.3 411.7 1193.2 404.5Z" fill="url(#q66)"/><path d="M1187.7 402.5 1193.5 412.2 1198.5 420 1205.2 429.7 1208.6 434.1 1232.1 458.7 1279.2 506.6 1282.3 506.4 1233.5 456.9 1210 432.3 1206.7 428 1199.9 418.5 1194.9 410.6 1190.8 403.5Z" fill="url(#q65)"/><path d="M1185.2 401.7 1188.3 406.1 1199.4 423.9 1206.2 433.5 1209.5 437.8 1233 462.3 1276.7 506.8 1279.9 506.6 1232.8 458.7 1209.3 434.1 1205.9 429.7 1199.2 420 1194.2 412.2 1188.4 402.5Z" fill="url(#q64)"/><path d="M1182.8 401.2 1188.6 409.1 1197 422.5 1202.1 430.1 1207.1 437.1 1210.5 441.4 1232.3 464.2 1274.3 507 1277.4 506.8 1233.7 462.3 1210.2 437.8 1206.9 433.5 1200.1 423.9 1189 406.1 1185.9 401.7Z" fill="url(#q63)"/><path d="M1180.4 400.8 1187.9 410.8 1203 433.7 1208 440.7 1211.4 444.9 1233.2 467.8 1271.9 507.2 1275 507 1233 464.2 1211.2 441.4 1207.8 437.1 1202.8 430.1 1197.7 422.5 1189.3 409.1 1183.5 401.2Z" fill="url(#q62)"/><path d="M1178 400.3 1187.1 412.7 1205.6 439.7 1212.3 448.5 1232.5 469.7 1269.5 507.4 1272.6 507.2 1233.9 467.8 1212.1 444.9 1208.7 440.7 1203.7 433.7 1188.6 410.8 1181.1 400.8Z" fill="url(#q61)"/><path d="M1175.6 399.8 1193.1 424 1206.6 443.2 1211.6 450.1 1216.6 455.7 1230.1 469.8 1267.1 507.6 1270.2 507.4 1233.2 469.7 1213 448.5 1206.3 439.7 1187.8 412.7 1178.7 400.3Z" fill="url(#q60)"/><path d="M1173.1 398.8 1177.3 403.9 1182.3 412.1 1185.7 416.8 1199.1 434.7 1212.5 453.6 1215.9 457.4 1229.4 471.6 1264.6 507.8 1267.8 507.6 1230.8 469.8 1217.3 455.7 1212.3 450.1 1207.3 443.2 1193.8 424 1176.3 399.8Z" fill="url(#q59)"/><path d="M1170.7 397.2 1173.8 401.3 1176.5 405.4 1179.9 411.5 1183.2 416.6 1188.3 423.4 1201.7 440.5 1213.5 457.1 1216.9 461 1228.6 473.5 1262.2 508 1265.3 507.8 1230.1 471.6 1216.6 457.4 1213.2 453.6 1199.8 434.7 1186.4 416.8 1183 412.1 1178 403.9 1173.8 398.8Z" fill="url(#q58)"/><path d="M1168.3 395.2 1174.1 404.5 1179.1 413.6 1180.8 416.2 1187.5 425.2 1202.7 444 1214.4 460.6 1217.8 464.5 1229.6 477.1 1259.8 508.2 1262.9 508 1229.3 473.5 1217.6 461 1214.2 457.1 1202.4 440.5 1189 423.4 1183.9 416.6 1180.6 411.5 1177.2 405.4 1174.5 401.3 1171.4 397.2Z" fill="url(#q57)"/><path d="M1165.9 393.1 1176.7 412.8 1180.1 418.1 1186.8 426.9 1203.6 447.4 1215.4 464 1218.7 468.1 1228.8 478.9 1257.4 508.4 1260.5 508.2 1230.3 477.1 1218.5 464.5 1215.1 460.6 1203.4 444 1188.2 425.2 1181.5 416.2 1179.8 413.6 1174.8 404.5 1169 395.2Z" fill="url(#q56)"/><path d="M1163.5 391 1169.3 403 1174.3 412.2 1177.7 417.6 1182.7 424.4 1204.6 450.9 1213 462.9 1218 469.6 1231.4 484.2 1255 508.6 1258.1 508.4 1229.5 478.9 1219.4 468.1 1216.1 464 1204.3 447.4 1187.5 426.9 1180.8 418.1 1177.4 412.8 1166.6 393.1Z" fill="url(#q55)"/><path d="M1161.1 389.3 1165.2 398.6 1170.2 408.7 1175.3 417 1180.3 424 1203.8 452.3 1208.9 458.9 1217.3 471 1220.6 475.1 1234.1 489.6 1252.6 508.8 1255.7 508.6 1232.1 484.2 1218.7 469.6 1213.7 462.9 1205.3 450.9 1183.4 424.4 1178.4 417.6 1175 412.2 1170 403 1164.2 391Z" fill="url(#q54)"/><path d="M1158.6 387.7 1161.7 391.9 1164.4 397 1169.5 410.6 1171.2 413.8 1174.5 419 1177.9 423.6 1184.6 432 1204.8 455.8 1209.8 462.4 1218.2 474.4 1221.6 478.6 1233.3 491.5 1250.1 509 1253.3 508.8 1234.8 489.6 1221.3 475.1 1218 471 1209.6 458.9 1204.5 452.3 1181 424 1176 417 1170.9 408.7 1165.9 398.6 1161.8 389.3Z" fill="url(#q53)"/><path d="M1156.2 386.3 1159.3 390.5 1162 395.2 1163.7 398.8 1168.7 412.9 1172.1 418.5 1175.5 423.2 1183.9 433.8 1200.7 453.2 1207.4 461.4 1210.7 465.8 1217.5 475.5 1222.5 482.1 1232.6 493.3 1247.7 509.2 1250.8 509 1234 491.5 1222.3 478.6 1218.9 474.4 1210.5 462.4 1205.5 455.8 1185.3 432 1178.6 423.6 1175.2 419 1171.9 413.8 1170.2 410.6 1165.1 397 1162.4 391.9 1159.3 387.7Z" fill="url(#q52)"/><path d="M1153.8 385.1 1156.9 389.4 1161.3 397.4 1163 401.5 1166.3 411.2 1168 415.1 1173 422.9 1183.1 435.5 1201.6 456.8 1208.3 464.9 1211.7 469.2 1218.4 478.9 1223.4 485.6 1233.5 496.9 1245.3 509.4 1248.4 509.2 1233.3 493.3 1223.2 482.1 1218.2 475.5 1211.4 465.8 1208.1 461.4 1201.4 453.2 1184.6 433.8 1176.2 423.2 1172.8 418.5 1169.4 412.9 1164.4 398.8 1162.7 395.2 1160 390.5 1156.9 386.3Z" fill="url(#q51)"/><path d="M1151.4 384.1 1155.5 390.5 1160.5 400.2 1165.6 413.8 1167.3 417.3 1172.3 424.8 1182.4 437.4 1200.9 458.4 1209.3 468.4 1214.3 474.9 1221 484.6 1226.1 491.1 1234.5 500.6 1242.9 509.6 1246 509.4 1234.2 496.9 1224.1 485.6 1219.1 478.9 1212.4 469.2 1209 464.9 1202.3 456.8 1183.8 435.5 1173.7 422.9 1168.7 415.1 1167 411.2 1163.7 401.5 1162 397.4 1157.6 389.4 1154.5 385.1Z" fill="url(#q50)"/><path d="M1149 383.3 1152 387.9 1154.8 392.7 1158.1 399.6 1164.8 416.3 1166.5 419.5 1169.9 424.5 1174.9 431.1 1181.6 439.2 1208.5 469.9 1213.6 476.2 1220.3 485.9 1225.3 492.6 1233.7 502.5 1240.5 509.8 1243.6 509.6 1235.2 500.6 1226.8 491.1 1221.7 484.6 1215 474.9 1210 468.4 1201.6 458.4 1183.1 437.4 1173 424.8 1168 417.3 1166.3 413.8 1161.2 400.2 1156.2 390.5 1152.1 384.1Z" fill="url(#q49)"/><path d="M1146.5 382.5 1149.6 386.8 1152.3 391.5 1162.4 415.3 1164.1 418.8 1165.8 421.6 1169.1 426.6 1174.2 433.1 1180.9 441.2 1201.1 463.8 1209.5 473.7 1214.5 480 1219.6 487.5 1224.6 494.2 1233 504.4 1238 510 1241.2 509.8 1234.4 502.5 1226 492.6 1221 485.9 1214.3 476.2 1209.2 469.9 1182.3 439.2 1175.6 431.1 1170.6 424.5 1167.2 419.5 1165.5 416.3 1158.8 399.6 1155.5 392.7 1152.7 387.9 1149.7 383.3Z" fill="url(#q48)"/><path d="M1144.1 381.8 1147.2 385.8 1149.9 390.4 1158.3 410.8 1161.7 418.1 1165 423.8 1168.4 428.7 1173.4 435.1 1180.2 443.1 1200.3 465.7 1208.7 475.5 1213.8 481.8 1218.8 489.2 1223.9 496 1230.6 504.4 1235.6 510.2 1238.7 510 1233.7 504.4 1225.3 494.2 1220.3 487.5 1215.2 480 1210.2 473.7 1201.8 463.8 1181.6 441.2 1174.9 433.1 1169.8 426.6 1166.5 421.6 1164.8 418.8 1163.1 415.3 1153 391.5 1150.3 386.8 1147.2 382.5Z" fill="url(#q47)"/><path d="M1141.7 381.2 1144.8 385.2 1147.5 389.9 1149.2 393.3 1152.5 402.5 1157.6 414.1 1160.9 420.7 1166 428.6 1171 435.1 1177.7 443.2 1199.6 467.6 1208 477.4 1213 483.7 1221.4 495.7 1229.8 506.5 1233.2 510.4 1236.3 510.2 1231.3 504.4 1224.6 496 1219.5 489.2 1214.5 481.8 1209.4 475.5 1201 465.7 1180.9 443.1 1174.1 435.1 1169.1 428.7 1165.7 423.8 1162.4 418.1 1159 410.8 1150.6 390.4 1147.9 385.8 1144.8 381.8Z" fill="url(#q46)"/><path d="M1139.3 380.8 1142.4 384.8 1146.8 392.8 1150.1 402.3 1155.2 413.8 1158.5 420.5 1163.6 428.5 1166.9 433.1 1173.7 441.2 1200.5 471 1207.3 478.9 1212.3 485.2 1215.7 490.9 1217.3 495.3 1219 500.6 1220.7 503.6 1222.4 506.1 1225.7 509.8 1227.4 510.8 1229.1 509.7 1230.8 511.1 1233.9 510.4 1230.5 506.5 1222.1 495.7 1213.7 483.7 1208.7 477.4 1200.3 467.6 1178.4 443.2 1171.7 435.1 1166.7 428.6 1161.6 420.7 1158.3 414.1 1153.2 402.5 1149.9 393.3 1148.2 389.9 1145.5 385.2 1142.4 381.2Z" fill="url(#q45)"/><path d="M1136.9 380.5 1140 384.5 1142.7 389.3 1144.3 392.5 1147.7 402 1152.7 413.7 1157.8 423.3 1162.8 431 1166.2 435.4 1172.9 443.4 1196.4 469.3 1203.2 477.1 1208.2 483.4 1211.6 488.7 1213.2 492.3 1214.9 498 1216.6 502.3 1220 507.2 1223.3 510.5 1225 509.7 1226.7 509.7 1228.4 511.4 1231.5 511.1 1229.8 509.7 1228.1 510.8 1226.4 509.8 1223.1 506.1 1221.4 503.6 1219.7 500.6 1218 495.3 1216.4 490.9 1213 485.2 1208 478.9 1201.2 471 1174.4 441.2 1167.6 433.1 1164.3 428.5 1159.2 420.5 1155.9 413.8 1150.8 402.3 1147.5 392.8 1143.1 384.8 1140 380.8Z" fill="url(#q44)"/><path d="M1134.4 380.4 1137.5 384.4 1141.9 392.3 1143.6 396.4 1145.3 401.8 1150.3 413.7 1155.4 423.4 1160.4 431.2 1163.8 435.6 1170.5 443.6 1194 469.6 1204.1 481.7 1207.5 486.7 1209.1 489.8 1212.5 500.1 1215.9 505.5 1219.2 509.1 1220.9 509.7 1222.6 508.5 1225.9 511.6 1229.1 511.4 1227.4 509.7 1225.7 509.7 1224 510.5 1220.7 507.2 1217.3 502.3 1215.6 498 1213.9 492.3 1212.3 488.7 1208.9 483.4 1203.9 477.1 1197.1 469.3 1173.6 443.4 1166.9 435.4 1163.5 431 1158.5 423.3 1153.4 413.7 1148.4 402 1145 392.5 1143.4 389.3 1140.7 384.5 1137.6 380.5Z" fill="url(#q43)"/><path d="M1132 380.5 1135.1 384.4 1139.5 392.2 1141.2 395.9 1142.9 401.5 1144.5 405.9 1147.9 413.7 1153 423.6 1158 431.4 1166.4 441.8 1191.6 469.9 1201.7 482.3 1205 487.7 1206.7 491.5 1208.4 497 1210.1 501 1213.4 505.9 1216.8 509.3 1218.5 508.4 1220.2 508.4 1223.5 511.8 1226.6 511.6 1223.3 508.5 1221.6 509.7 1219.9 509.1 1216.6 505.5 1213.2 500.1 1209.8 489.8 1208.2 486.7 1204.8 481.7 1194.7 469.6 1171.2 443.6 1164.5 435.6 1161.1 431.2 1156.1 423.4 1151 413.7 1146 401.8 1144.3 396.4 1142.6 392.3 1138.2 384.4 1135.1 380.4Z" fill="url(#q42)"/><path d="M1129.6 380.5 1132.7 384.4 1137.1 392.1 1138.8 395.7 1140.5 401.2 1142.1 405.9 1147.2 417.4 1150.5 423.7 1155.6 431.5 1164 442.1 1187.5 468.3 1197.6 480.6 1199.3 482.9 1202.6 489 1206 498.6 1209.3 504.1 1211 506.2 1216.1 510.9 1219.4 511 1221.1 512 1224.2 511.8 1220.9 508.4 1219.2 508.4 1217.5 509.3 1214.1 505.9 1210.8 501 1209.1 497 1207.4 491.5 1205.7 487.7 1202.4 482.3 1192.3 469.9 1167.1 441.8 1158.7 431.4 1153.7 423.6 1148.6 413.7 1145.2 405.9 1143.6 401.5 1141.9 395.9 1140.2 392.2 1135.8 384.4 1132.7 380.5Z" fill="url(#q41)"/><path d="M1127.2 380.6 1130.3 384.5 1134.7 392.1 1136.4 395.6 1139.7 405.9 1144.8 417.5 1148.1 423.8 1153.2 431.7 1161.6 442.3 1185.1 468.6 1195.2 481.1 1198.5 486.8 1203.6 499.5 1206.9 504.6 1213.7 511.4 1215.3 512.6 1218.7 512.6 1221.8 512 1220.1 511 1216.8 510.9 1211.7 506.2 1210 504.1 1206.7 498.6 1203.3 489 1200 482.9 1198.3 480.6 1188.2 468.3 1164.7 442.1 1156.3 431.5 1151.2 423.7 1147.9 417.4 1142.8 405.9 1141.2 401.2 1139.5 395.7 1137.8 392.1 1133.4 384.4 1130.3 380.5Z" fill="url(#q40)"/><path d="M1124.8 380.7 1127.9 384.6 1132.3 392.2 1133.9 395.6 1137.3 405.9 1142.3 417.6 1145.7 424 1150.7 431.9 1159.1 442.5 1181 467 1191.1 479.4 1194.4 484.8 1196.1 488.1 1199.5 497.2 1202.8 502.8 1204.5 504.9 1212.9 513.3 1214.6 514.3 1216.3 514.2 1219.4 512.6 1216 512.6 1214.4 511.4 1207.6 504.6 1204.3 499.5 1199.2 486.8 1195.9 481.1 1185.8 468.6 1162.3 442.3 1153.9 431.7 1148.8 423.8 1145.5 417.5 1140.4 405.9 1137.1 395.6 1135.4 392.1 1131 384.5 1127.9 380.6Z" fill="url(#q39)"/><path d="M1122.4 380.9 1125.4 384.7 1129.8 392.4 1131.5 395.8 1134.9 406 1138.2 414.1 1141.6 421.1 1146.6 429.6 1150 434.4 1156.7 442.7 1176.9 465.4 1187 477.7 1188.7 480 1192 485.9 1195.4 494.6 1197.1 498.2 1200.4 503.3 1212.2 515.2 1213.9 516 1217 514.2 1215.3 514.3 1213.6 513.3 1205.2 504.9 1203.5 502.8 1200.2 497.2 1196.8 488.1 1195.1 484.8 1191.8 479.4 1181.7 467 1159.8 442.5 1151.4 431.9 1146.4 424 1143 417.6 1138 405.9 1134.6 395.6 1133 392.2 1128.6 384.6 1125.5 380.7Z" fill="url(#q38)"/><path d="M1119.9 381.1 1123 385 1127.4 392.7 1129.1 396.1 1132.5 406.2 1135.8 414.2 1139.2 421.2 1144.2 429.7 1147.6 434.5 1152.6 440.9 1174.5 465.7 1184.6 478.3 1187.9 483.9 1189.6 487.4 1193 496 1196.3 501.5 1198 503.6 1211.4 517 1214.6 516 1212.9 515.2 1201.1 503.3 1197.8 498.2 1196.1 494.6 1192.7 485.9 1189.4 480 1187.7 477.7 1177.6 465.4 1157.4 442.7 1150.7 434.4 1147.3 429.6 1142.3 421.1 1138.9 414.1 1135.6 406 1132.2 395.8 1130.5 392.4 1126.1 384.7 1123.1 380.9Z" fill="url(#q37)"/><path d="M1117.5 381.6 1120.6 385.5 1125 393.3 1126.7 396.8 1130 406.7 1133.4 414.5 1136.8 421.4 1141.8 429.9 1145.2 434.7 1150.2 441.1 1172.1 466.1 1180.5 476.6 1182.1 479 1185.5 485.1 1188.9 493.6 1190.5 497 1193.9 502 1209 517.3 1212.1 517 1198.7 503.6 1197 501.5 1193.7 496 1190.3 487.4 1188.6 483.9 1185.3 478.3 1175.2 465.7 1153.3 440.9 1148.3 434.5 1144.9 429.7 1139.9 421.2 1136.5 414.2 1133.2 406.2 1129.8 396.1 1128.1 392.7 1123.7 385 1120.6 381.1Z" fill="url(#q36)"/><path d="M1115.1 382.5 1118.2 386.4 1122.6 394 1124.3 397.9 1125.9 403.1 1127.6 407.3 1131 414.9 1136 424.7 1141.1 432.6 1149.5 443.3 1168 464.5 1176.4 474.9 1178 477.3 1181.4 483.1 1186.4 495 1189.8 500.3 1191.5 502.3 1206.6 517.5 1209.7 517.3 1194.6 502 1191.2 497 1189.6 493.6 1186.2 485.1 1182.8 479 1181.2 476.6 1172.8 466.1 1150.9 441.1 1145.9 434.7 1142.5 429.9 1137.5 421.4 1134.1 414.5 1130.7 406.7 1127.4 396.8 1125.7 393.3 1121.3 385.5 1118.2 381.6Z" fill="url(#q35)"/><path d="M1112.7 383.5 1115.8 387.4 1120.2 394.9 1123.5 404.2 1128.6 415.4 1133.6 424.9 1138.6 432.8 1145.4 441.5 1165.5 464.8 1173.9 475.6 1177.3 481.2 1179 484.6 1182.3 492.8 1184 495.9 1187.4 500.8 1204.2 517.7 1207.3 517.5 1192.2 502.3 1190.5 500.3 1187.1 495 1182.1 483.1 1178.7 477.3 1177.1 474.9 1168.7 464.5 1150.2 443.3 1141.8 432.6 1136.7 424.7 1131.7 414.9 1128.3 407.3 1126.6 403.1 1125 397.9 1123.3 394 1118.9 386.4 1115.8 382.5Z" fill="url(#q34)"/><path d="M1110.3 384.7 1113.4 388.5 1116.1 392.8 1117.7 396.2 1121.1 405.2 1126.1 415.9 1131.2 425.1 1136.2 432.9 1142.9 441.8 1161.4 463.2 1169.8 473.9 1171.5 476.5 1174.9 482.7 1178.2 490.7 1179.9 494 1183.3 499.2 1201.8 517.9 1204.9 517.7 1188.1 500.8 1184.7 495.9 1183 492.8 1179.7 484.6 1178 481.2 1174.6 475.6 1166.2 464.8 1146.1 441.5 1139.3 432.8 1134.3 424.9 1129.3 415.4 1124.2 404.2 1120.9 394.9 1116.5 387.4 1113.4 383.5Z" fill="url(#q33)"/><path d="M1107.8 385.9 1110.9 389.7 1113.6 393.9 1117 402.5 1123.7 416.5 1128.8 425.5 1133.8 433.2 1140.5 442 1157.3 461.6 1165.7 472.3 1167.4 474.8 1170.8 480.8 1175.8 492.1 1179.2 497.5 1180.9 499.6 1199.3 518.1 1202.5 517.9 1184 499.2 1180.6 494 1178.9 490.7 1175.6 482.7 1172.2 476.5 1170.5 473.9 1162.1 463.2 1143.6 441.8 1136.9 432.9 1131.9 425.1 1126.8 415.9 1121.8 405.2 1118.4 396.2 1116.8 392.8 1114.1 388.5 1111 384.7Z" fill="url(#q32)"/><path d="M1105.4 387.2 1107.5 389.7 1109.5 392.7 1114.6 403.6 1121.3 417.1 1124.7 423.3 1129.7 431.2 1138.1 442.3 1154.9 462.1 1161.6 470.7 1163.3 473.2 1166.7 479.1 1171.7 490.2 1175.1 495.8 1176.8 498 1196.9 518.3 1200 518.1 1181.6 499.6 1179.9 497.5 1176.5 492.1 1171.5 480.8 1168.1 474.8 1166.4 472.3 1158 461.6 1141.2 442 1134.5 433.2 1129.5 425.5 1124.4 416.5 1117.7 402.5 1114.3 393.9 1111.6 389.7 1108.5 385.9Z" fill="url(#q31)"/><path d="M1103 388.4 1110.5 401.3 1120.6 421.2 1123.9 426.8 1127.3 431.7 1132.3 438.5 1150.8 460.5 1157.5 469.2 1159.2 471.6 1162.6 477.5 1167.6 488.3 1171 494.1 1172.7 496.4 1174.3 498.3 1194.5 518.5 1197.6 518.3 1177.5 498 1175.8 495.8 1172.4 490.2 1167.4 479.1 1164 473.2 1162.3 470.7 1155.6 462.1 1138.8 442.3 1130.4 431.2 1125.4 423.3 1122 417.1 1115.3 403.6 1110.2 392.7 1108.2 389.7 1106.1 387.2Z" fill="url(#q30)"/><path d="M1100.6 389.5 1108.1 402.2 1116.5 419.3 1119.8 425.1 1124.9 432.3 1129.9 438.9 1146.7 459 1153.4 467.7 1155.1 470.1 1158.5 475.9 1165.2 489.6 1168.6 494.8 1170.2 496.8 1192.1 518.7 1195.2 518.5 1175 498.3 1173.4 496.4 1171.7 494.1 1168.3 488.3 1163.3 477.5 1159.9 471.6 1158.2 469.2 1151.5 460.5 1133 438.5 1128 431.7 1124.6 426.8 1121.3 421.2 1111.2 401.3 1103.7 388.4Z" fill="url(#q29)"/><path d="M1098.2 390.7 1104 400.2 1112.4 417.5 1115.7 423.5 1120.8 430.7 1125.8 437.3 1142.6 457.5 1149.3 466.2 1152.7 471.5 1156.1 477.7 1161.1 487.9 1164.5 493.2 1166.1 495.3 1189.7 518.9 1192.8 518.7 1170.9 496.8 1169.3 494.8 1165.9 489.6 1159.2 475.9 1155.8 470.1 1154.1 467.7 1147.4 459 1130.6 438.9 1125.6 432.3 1120.5 425.1 1117.2 419.3 1108.8 402.2 1101.3 389.5Z" fill="url(#q28)"/><path d="M1095.8 392 1098.8 396.8 1101.6 401.6 1108.3 415.9 1111.6 422 1115 426.9 1121.7 435.7 1126.8 441.5 1130.1 445.9 1140.2 458.1 1145.2 464.8 1148.6 470.2 1157 486.2 1160.4 491.6 1162 493.8 1163.7 495.5 1187.3 519.1 1190.4 518.9 1166.8 495.3 1165.2 493.2 1161.8 487.9 1156.8 477.7 1153.4 471.5 1150 466.2 1143.3 457.5 1126.5 437.3 1121.5 430.7 1116.4 423.5 1113.1 417.5 1104.7 400.2 1098.9 390.7Z" fill="url(#q27)"/><path d="M1093.3 393.6 1095.4 396.6 1097.5 400.2 1104.2 414.7 1107.5 420.7 1112.6 427.7 1119.3 436.3 1121 437.8 1122.7 438.2 1124.3 440.2 1126 443.8 1127.7 446.4 1136.1 456.7 1141.1 463.5 1146.2 472 1152.9 484.6 1157.9 492.3 1184.8 519.3 1188 519.1 1164.4 495.5 1162.7 493.8 1161.1 491.6 1157.7 486.2 1149.3 470.2 1145.9 464.8 1140.9 458.1 1130.8 445.9 1127.5 441.5 1122.4 435.7 1115.7 426.9 1112.3 422 1109 415.9 1102.3 401.6 1099.5 396.8 1096.5 392Z" fill="url(#q26)"/><path d="M1092.1 394.6 1099.6 410.1 1104.6 418.9 1109.7 425.9 1118.1 436.5 1119.7 437.8 1121.4 437.3 1123.1 439.3 1124.8 443.8 1126.5 446.6 1134.9 457.1 1139.9 464.2 1150 482.4 1155 490.4 1156.7 492.5 1183.6 519.4 1185.5 519.3 1158.6 492.3 1153.6 484.6 1146.9 472 1141.8 463.5 1136.8 456.7 1128.4 446.4 1126.7 443.8 1125 440.2 1123.4 438.2 1121.7 437.8 1120 436.3 1113.3 427.7 1108.2 420.7 1104.9 414.7 1098.2 400.2 1096.1 396.6 1094 393.6Z" fill="url(#q25)"/><path d="M1090.8 396.1 1096.6 408.7 1100 414.8 1101.7 417.4 1106.7 424.2 1116.8 436.8 1118.5 437.9 1120.2 437.1 1121.9 439 1123.5 443.9 1125.2 446.9 1131.9 455.4 1137 462.3 1148.7 483.1 1153.8 490.8 1182.3 519.5 1184.3 519.4 1157.4 492.5 1155.7 490.4 1150.7 482.4 1140.6 464.2 1135.6 457.1 1127.2 446.6 1125.5 443.8 1123.8 439.3 1122.1 437.3 1120.4 437.8 1118.8 436.5 1110.4 425.9 1105.3 418.9 1100.3 410.1 1092.8 394.6Z" fill="url(#q24)"/><path d="M1089.6 398.2 1095.4 410.4 1097.1 413.4 1100.4 418.2 1115.6 437.1 1117.2 438.2 1118.9 437.7 1120.6 439.7 1122.3 444.3 1124 447.2 1134.1 460.5 1145.8 481 1150.9 489 1152.5 491 1181.1 519.6 1183 519.5 1154.5 490.8 1149.4 483.1 1137.7 462.3 1132.6 455.4 1125.9 446.9 1124.2 443.9 1122.6 439 1120.9 437.1 1119.2 437.9 1117.5 436.8 1107.4 424.2 1102.4 417.4 1100.7 414.8 1097.3 408.7 1091.5 396.1Z" fill="url(#q23)"/><path d="M1088.4 400.7 1092.5 409.1 1094.2 412 1097.5 416.7 1114.3 437.4 1116 438.8 1117.7 439.1 1119.4 441 1121 444.9 1122.7 447.6 1131.1 458.8 1144.6 481.8 1149.6 489.3 1179.9 519.7 1181.8 519.6 1153.2 491 1151.6 489 1146.5 481 1134.8 460.5 1124.7 447.2 1123 444.3 1121.3 439.7 1119.6 437.7 1117.9 438.2 1116.3 437.1 1101.1 418.2 1097.8 413.4 1096.1 410.4 1090.3 398.2Z" fill="url(#q22)"/><path d="M1087.1 403.3 1090.2 409.1 1094.6 415.3 1113.1 437.7 1114.8 439.4 1116.4 440.5 1118.1 442.6 1119.8 445.6 1121.5 448.1 1126.5 454.8 1129.9 459.7 1140 477 1146.7 487.6 1148.4 489.5 1178.6 519.8 1180.6 519.7 1150.3 489.3 1145.3 481.8 1131.8 458.8 1123.4 447.6 1121.7 444.9 1120.1 441 1118.4 439.1 1116.7 438.8 1115 437.4 1098.2 416.7 1094.9 412 1093.2 409.1 1089.1 400.7Z" fill="url(#q21)"/><path d="M1085.9 405.5 1089 410.3 1091.7 413.8 1111.8 438.1 1116.9 443.8 1127 458 1138.7 477.9 1143.8 485.7 1145.4 487.9 1177.4 519.9 1179.3 519.8 1149.1 489.5 1147.4 487.6 1140.7 477 1130.6 459.7 1127.2 454.8 1122.2 448.1 1120.5 445.6 1118.8 442.6 1117.1 440.5 1115.5 439.4 1113.8 437.7 1095.3 415.3 1090.9 409.1 1087.8 403.3Z" fill="url(#q20)"/><path d="M1084.6 407.1 1114 442.6 1120.7 451.6 1124 456.5 1135.8 476 1142.5 486.2 1176.1 520 1178.1 519.9 1146.1 487.9 1144.5 485.7 1139.4 477.9 1127.7 458 1117.6 443.8 1112.5 438.1 1092.4 413.8 1089.7 410.3 1086.6 405.5Z" fill="url(#q19)"/><path d="M1083.4 408.2 1104.3 432.9 1116.1 447.8 1119.4 452.5 1129.5 469 1139.6 484.5 1141.3 486.5 1174.9 520.1 1176.8 520 1143.2 486.2 1136.5 476 1124.7 456.5 1121.4 451.6 1114.7 442.6 1085.3 407.1Z" fill="url(#q18)"/><path d="M1082.1 409.1 1099.7 429.3 1106.4 437.6 1113.1 446.4 1116.5 451.1 1128.3 470 1136.7 482.7 1138.4 484.9 1173.6 520.2 1175.6 520.1 1142 486.5 1140.3 484.5 1130.2 469 1120.1 452.5 1116.8 447.8 1105 432.9 1084.1 408.2Z" fill="url(#q17)"/><path d="M1080.9 410 1088.4 418.1 1095.1 425.9 1108.5 442.8 1111.9 447.4 1122 463.5 1135.4 483.2 1172.4 520.3 1174.3 520.2 1139.1 484.9 1137.4 482.7 1129 470 1117.2 451.1 1113.8 446.4 1107.1 437.6 1100.4 429.3 1082.8 409.1Z" fill="url(#q16)"/><path d="M1079.7 411.4 1085.5 417.4 1092.2 425 1098.9 433.1 1107.3 443.8 1110.7 448.8 1117.4 459.6 1132.5 481.6 1171.2 520.4 1173.1 520.3 1136.1 483.2 1122.7 463.5 1112.6 447.4 1109.2 442.8 1095.8 425.9 1089.1 418.1 1081.6 410Z" fill="url(#q15)"/><path d="M1078.4 414 1090.9 427.1 1104.4 442.6 1112.8 455.9 1129.6 480 1169.9 520.5 1171.9 520.4 1133.2 481.6 1118.1 459.6 1111.4 448.8 1108 443.8 1099.6 433.1 1092.9 425 1086.2 417.4 1080.4 411.4Z" fill="url(#q14)"/><path d="M1077.2 417.9 1103.1 444.4 1125 476 1128.3 480.3 1168.7 520.6 1170.6 520.5 1130.3 480 1113.5 455.9 1105.1 442.6 1091.6 427.1 1079.1 414Z" fill="url(#q13)"/><path d="M1075.9 422.1 1105.3 453.1 1110.3 459.2 1123.7 476.9 1125.4 478.8 1167.4 520.8 1169.4 520.6 1129 480.3 1125.7 476 1103.8 444.4 1077.9 417.9Z" fill="url(#q12)"/><path d="M1074.7 425.9 1097.3 450.9 1112.4 467.1 1166.2 521.1 1168.1 520.8 1126.1 478.8 1124.4 476.9 1111 459.2 1106 453.1 1076.6 422.1Z" fill="url(#q11)"/><path d="M1073.4 427.9 1111.2 467.3 1164.9 521.2 1166.9 521.1 1113.1 467.1 1098 450.9 1075.4 425.9Z" fill="url(#q10)"/><path d="M1072.2 428.8 1109.9 467.5 1163.7 521.3 1165.6 521.2 1111.9 467.3 1074.1 427.9Z" fill="url(#q9)"/><path d="M1071 429.4 1108.7 467.6 1162.5 521.4 1164.4 521.3 1110.6 467.5 1072.9 428.8Z" fill="url(#q8)"/><path d="M1069.7 429.9 1161.2 521.5 1163.2 521.4 1109.4 467.6 1071.7 429.4Z" fill="url(#q7)"/><path d="M1068.5 430.1 1160 521.6 1161.9 521.5 1070.4 429.9Z" fill="url(#q6)"/><path d="M1067.2 430.3 1158.7 521.7 1160.7 521.6 1069.2 430.1Z" fill="url(#q5)"/><path d="M1064.5 430.6 1156 521.9 1159.4 521.7 1067.9 430.3Z" fill="url(#q4)"/><path d="M1061.7 430.9 1153.2 522.2 1156.7 521.9 1065.2 430.6Z" fill="url(#q3)"/><path d="M1058.9 431.2 1150.4 522.4 1153.9 522.2 1062.4 430.9Z" fill="url(#q2)"/><path d="M1056.2 431.4 1147.7 522.6 1151.1 522.4 1059.6 431.2Z" fill="url(#q1)"/><path d="M1053.4 431.6 1144.9 522.9 1148.4 522.6 1056.9 431.4Z" fill="url(#q0)"/></g><path d="M1054.8 431.6 1146.3 522.8M1057.3 431.4 1148.8 522.6M1065.3 430.6 1156.8 521.9M1144.8 480.4 1150.4 489 1180.9 519.6M1181.8 492.7 1184.6 497.4 1187.4 501.1 1204 517.7M1188 496.3 1190.8 500.5 1193.6 503.6 1207.4 517.5M1219.7 502.8 1222.5 507" fill="none" stroke="#12040f" stroke-width="2.0" opacity="0.2"/><path d="M1059.5 431.2 1151 522.4M1067 430.4 1158.5 521.8M1068.9 430.1 1160.4 521.6M1121.1 459.2 1137.8 484.2 1173.8 520.2M1146.6 471.8 1152.1 482.3 1157.7 491.2 1185.4 519.3M1153.5 473.7 1159.1 484.7 1164.6 493.8 1189.6 518.9M1171.7 483 1174.5 489.6 1177.3 494.6 1180 498.6 1199.5 518.1M1187.5 488.4 1190.2 495.4 1193 500 1195.8 503.4 1209.6 517.3M1190.2 486.4 1192.9 493.7 1195.7 499.2 1198.5 503.1 1212.3 517M1196.9 490.6 1199.7 497.9 1202.4 502.4 1205.2 505.6 1213.5 513.9 1216.3 514.7M1201.4 487.6 1204.2 495 1207 501.2 1209.7 505.2 1215.3 510.8 1218.1 511.8 1220.8 512.1M1206.7 492.8 1209.5 500.5 1212.3 504.8 1215 507.8 1217.8 509.2 1220.6 509.4 1223.4 511.8M1219.3 492.8 1233.2 510.4M1221 489.8 1229.3 500.5 1237.6 510.1M1216.8 472.2 1222.3 479.5 1225.1 482.6 1250 509.1M1208.2 448.2 1213.8 455.8 1216.5 459.1 1233.2 476.7 1263.7 507.9M1202.9 415.4 1208.5 423.1 1214 429.4 1239 455.2 1288.9 505.8M1203.8 412.2 1209.3 420.1 1214.9 426.3 1239.8 452.1 1292.5 505.5" fill="none" stroke="#d83cb0" stroke-width="0.9" opacity="0.22"/><path d="M1062.8 430.8 1154.3 522.1M1125.1 462.3 1139 483.8 1141.7 486.9 1175 520.1M1134.1 467.9 1145.2 486 1148 489.3 1178.5 519.8M1144.1 473.9 1149.6 483.8 1152.4 488.2 1155.1 491.7 1182.9 519.5M1155 480.1 1157.8 485.5 1163.3 494 1188.3 519M1161.9 482.6 1164.7 488.3 1167.4 492.9 1170.2 496.5 1192.4 518.7M1169.4 485 1172.2 490.9 1175 495.4 1177.7 498.9 1197.2 518.3M1177 487.7 1179.7 493.7 1182.5 498.1 1185.3 501.3 1201.9 517.9M1222.3 493.2 1230.6 503.8 1236.2 510.2M1224.4 490.6 1232.7 500.6 1241 509.8M1223.3 485 1231.6 494.6 1245.5 509.4M1216.8 467.3 1219.6 470.7 1227.9 479.8 1255.6 508.6M1214.5 458.7 1228.4 473.8 1261.7 508.1M1210.2 446.7 1213 450.2 1226.8 465 1268.4 507.5M1209.6 441.1 1212.4 444.4 1229 461.9 1273.4 507.1M1206.3 431.7 1211.9 438.5 1223 450.1 1278.4 506.7M1206.6 428.9 1212.2 435.5 1223.2 447.1 1281.5 506.5M1206 425.6 1211.6 432.5 1222.7 444.1 1283.7 506.3M1211.3 416.9 1214 420.2 1233.5 440.4 1297.2 505.1" fill="none" stroke="#0a020a" stroke-width="1.3" opacity="0.3"/><path d="M1071.4 429.6 1162.9 521.4M1074.8 427.1 1113.6 468.4 1166.3 521.1M1077.1 420.5 1104.8 448.4 1107.6 451.6 1113.1 459.2 1124.2 475.7 1127 479.1 1168.6 520.7M1113.2 453.2 1132.7 481.5 1171.5 520.4M1164.1 480.8 1166.9 486.9 1169.6 492 1172.4 496.2 1194.6 518.5M1192 485.5 1197.5 498.6 1200.3 502.8 1211.4 514.1 1214.2 516.2M1199.1 488.9 1201.9 496.7 1204.7 501.8 1207.4 505.4 1213 511 1215.7 513.3 1218.5 513.1M1209.9 490.3 1212.7 499.1 1215.5 504.1 1218.2 507.6M1223.8 508.8 1226.6 511.6M1211 489.7 1213.7 498.2 1216.5 503.9 1219.3 507.5M1224.8 508.8 1227.6 511.5M1220.3 483.7 1228.7 494.4 1242.5 509.7M1217.5 475 1223.1 482.4 1225.8 485.5 1248 509.2M1212.4 460.1 1217.9 467.6 1220.7 470.8 1234.5 485.6 1256.7 508.5M1205.3 436.7 1210.9 444.2 1216.4 450.3 1271.9 507.2M1203.5 430.6 1209.1 438.2 1214.6 444.4 1236.8 467.4 1275.6 506.9M1204.9 422.2 1210.4 429.5 1218.7 438.3 1285.3 506.1M1204.7 415.8 1210.2 423.3 1215.8 429.3 1240.7 455.1 1290.6 505.7" fill="none" stroke="#e040b8" stroke-width="1.3" opacity="0.14"/><path d="M1054.1 431.3 1055.1 431 1056.2 431.2 1057.2 428.4 1058.2 431 1059.3 430.6 1060.3 430.8 1061.3 430.4 1062.3 430.6 1063.4 429.4 1064.4 430.4 1065.4 429.8 1066.5 430.1 1067.5 429.5 1068.5 429.9 1069.6 428.6 1070.6 429.5 1071.6 427.6 1072.7 428.6 1073.7 427.3 1074.7 427 1075.7 424.5 1076.8 421.3 1077.8 415 1078.8 414.5 1079.9 411.5 1080.9 410.3 1081.9 407.4 1083 408.7 1084 406.1 1085 407.2 1086.1 404.5 1087.1 404.3 1088.1 401.1 1089.1 400.2 1090.2 397.9 1091.2 396.2 1092.2 390.4 1093.3 393.9 1094.3 389 1095.3 392.4 1096.4 387.8 1097.4 391.2 1098.4 390.3 1099.5 390.1 1100.5 386.2 1101.5 389.1 1102.6 388.3 1103.6 388.2 1104.6 383.9 1105.6 387.1 1106.7 384.4 1107.7 386.1 1108.7 383.8 1109.8 385 1110.8 384.1 1111.8 383.9 1112.9 380.7 1113.9 383 1114.9 381.3 1116 382.1 1117 377.5 1118 381.4 1119 380.9 1120.1 380.9 1121.1 378.1 1122.1 380.7 1123.2 375.6 1124.2 380.5 1125.2 379.1 1126.3 380.4 1127.3 378.9 1128.3 380.3 1129.4 379.1 1130.4 380.2 1131.4 376.9 1132.4 380.2 1133.5 378 1134.5 380.1 1135.5 374 1136.6 380.1 1137.6 374.4 1138.6 380.3 1139.7 374.5 1140.7 380.6 1141.7 378.6 1142.8 381 1143.8 378.6 1144.8 381.5 1145.8 381.4 1146.9 382.1 1147.9 381.6 1148.9 382.7 1150 380 1151 383.4 1152 382.9 1153.1 384.1 1154.1 380.5 1155.1 385 1156.2 384.2 1157.2 386.2 1158.2 386.5 1159.2 387.4 1160.3 386 1161.3 388.7 1162.3 389.2 1163.4 390.1 1164.4 385.2 1165.4 391.8 1166.5 392.6 1167.5 393.6 1168.5 388.1 1169.6 395.4 1170.6 393.5 1171.6 397.1 1172.7 395.9 1173.7 398.4 1174.7 398.6 1175.7 399.3 1176.8 399.1 1177.8 399.9 1178.8 399.4 1179.9 400.3 1180.9 394.6 1181.9 400.6 1183 400.7 1184 401 1185 400.8 1186.1 401.4 1187.1 400.5 1188.1 402.1 1189.1 402 1190.2 402.9 1191.2 400.2 1192.2 403.8 1193.3 401.5 1194.3 404.7 1195.3 405 1196.4 405.5 1197.4 405.6 1198.4 406.2 1199.5 404.8 1200.5 406.8 1201.5 406.9 1202.5 407.4 1203.6 406.4 1204.6 407.9 1205.6 407.7 1206.7 408.4 1207.7 407.7 1207.7 410.1 1206.7 409.9 1205.6 409.6 1204.6 409.4 1203.6 409.1 1202.5 408.9 1201.5 408.6 1200.5 408.3 1199.5 408 1198.4 407.7 1197.4 407.4 1196.4 407 1195.3 406.6 1194.3 406.2 1193.3 405.7 1192.2 405.3 1191.2 404.8 1190.2 404.4 1189.1 404 1188.1 403.6 1187.1 403.2 1186.1 402.9 1185 402.7 1184 402.5 1183 402.3 1181.9 402.1 1180.9 401.9 1179.9 401.8 1178.8 401.6 1177.8 401.4 1176.8 401.1 1175.7 400.8 1174.7 400.4 1173.7 399.9 1172.7 399.3 1171.6 398.6 1170.6 397.8 1169.6 396.9 1168.5 396 1167.5 395.1 1166.5 394.2 1165.4 393.3 1164.4 392.4 1163.4 391.6 1162.3 390.9 1161.3 390.2 1160.3 389.5 1159.2 388.9 1158.2 388.3 1157.2 387.7 1156.2 387.1 1155.1 386.5 1154.1 386.1 1153.1 385.6 1152 385.3 1151 384.9 1150 384.6 1148.9 384.2 1147.9 383.9 1146.9 383.6 1145.8 383.3 1144.8 383 1143.8 382.7 1142.8 382.5 1141.7 382.3 1140.7 382.1 1139.7 381.9 1138.6 381.8 1137.6 381.7 1136.6 381.6 1135.5 381.6 1134.5 381.6 1133.5 381.7 1132.4 381.7 1131.4 381.7 1130.4 381.7 1129.4 381.8 1128.3 381.8 1127.3 381.8 1126.3 381.9 1125.2 381.9 1124.2 382 1123.2 382.1 1122.1 382.2 1121.1 382.3 1120.1 382.4 1119 382.6 1118 382.9 1117 383.2 1116 383.6 1114.9 384 1113.9 384.5 1112.9 384.9 1111.8 385.4 1110.8 386 1109.8 386.5 1108.7 387 1107.7 387.6 1106.7 388.1 1105.6 388.6 1104.6 389.2 1103.6 389.7 1102.6 390.1 1101.5 390.6 1100.5 391.1 1099.5 391.6 1098.4 392.1 1097.4 392.7 1096.4 393.3 1095.3 393.9 1094.3 394.6 1093.3 395.4 1092.2 396.4 1091.2 397.7 1090.2 399.6 1089.1 401.7 1088.1 403.8 1087.1 405.8 1086.1 407.5 1085 408.7 1084 409.5 1083 410.2 1081.9 410.9 1080.9 411.8 1079.9 413.3 1078.8 416 1077.8 419.3 1076.8 422.8 1075.7 426.3 1074.7 428.5 1073.7 429.5 1072.7 430.1 1071.6 430.7 1070.6 431 1069.6 431.3 1068.5 431.4 1067.5 431.5 1066.5 431.6 1065.4 431.8 1064.4 431.9 1063.4 432 1062.3 432.1 1061.3 432.2 1060.3 432.3 1059.3 432.4 1058.2 432.5 1057.2 432.6 1056.2 432.7 1055.1 432.8 1054.1 432.8Z" fill="url(#qf)"/>
<g filter="url(#sbl)"><path d="M1370.8 386.8 1376.6 396.9 1381.6 403.8 1388.4 412.2 1408.6 436.5 1440.5 472.1 1445.5 478.2 1455.6 491.8 1462.3 498.9 1465.4 498.7 1460.4 493.5 1455.3 487 1448.6 477.7 1443.6 471.7 1414.2 439 1399.2 421.2 1389.8 409.4 1383.1 400.6 1379.7 395.8 1373.9 386.8Z" fill="url(#r63)"/><path d="M1368.4 386.8 1371.5 393.6 1372.5 395.4 1375.9 400.2 1380.9 406.8 1405.3 436 1429.7 462.9 1438.1 472.4 1441.4 476.5 1453.2 492.1 1459.9 499.1 1463 498.9 1456.3 491.8 1446.2 478.2 1441.2 472.1 1409.3 436.5 1389.1 412.2 1382.3 403.8 1377.3 396.9 1371.5 386.8Z" fill="url(#r62)"/><path d="M1366 386.8 1369.1 394.6 1373.5 400.9 1376.8 405.3 1390.5 421.3 1402.1 435.5 1434 470.8 1439 476.9 1449.1 490.4 1450.8 492.5 1457.5 499.3 1460.6 499.1 1453.9 492.1 1442.1 476.5 1438.8 472.4 1430.4 462.9 1406 436 1381.6 406.8 1376.6 400.2 1373.2 395.4 1372.2 393.6 1369.1 386.8Z" fill="url(#r61)"/><path d="M1363.6 386.9 1365.7 392.7 1366.7 394.9 1371.1 401.2 1374.4 405.6 1387.2 420.6 1398.9 434.9 1424.9 463.5 1433.3 473.2 1446.7 490.8 1455.1 499.5 1458.2 499.3 1451.5 492.5 1449.8 490.4 1439.7 476.9 1434.7 470.8 1402.8 435.5 1391.2 421.3 1377.5 405.3 1374.2 400.9 1369.8 394.6 1366.7 386.8Z" fill="url(#r60)"/><path d="M1361.2 386.9 1363.3 393 1364.3 395.2 1368.7 401.5 1372 405.8 1384 419.9 1395.6 434.3 1420.8 462 1429.2 471.6 1432.5 475.7 1439.3 484.8 1444.3 491.2 1452.7 499.7 1455.8 499.5 1447.4 490.8 1434 473.2 1425.6 463.5 1399.6 434.9 1387.9 420.6 1375.1 405.6 1371.8 401.2 1367.4 394.9 1366.4 392.7 1364.3 386.9Z" fill="url(#r59)"/><path d="M1358.8 387 1360.9 393.2 1361.9 395.4 1366.3 401.7 1369.6 406.1 1381.4 420 1388.2 428.7 1393.2 434.5 1418.4 462.3 1426.8 471.9 1440.2 489.5 1450.3 499.9 1453.4 499.7 1445 491.2 1440 484.8 1433.2 475.7 1429.9 471.6 1421.5 462 1396.3 434.3 1384.7 419.9 1372.7 405.8 1369.4 401.5 1365 395.2 1364 393 1361.9 386.9Z" fill="url(#r58)"/><path d="M1356.4 387.1 1358.5 393.4 1359.5 395.6 1363.9 402 1367.2 406.3 1378.4 419.5 1385.7 428.9 1390 434 1414.3 460.7 1422.7 470.3 1426.1 474.4 1437.8 489.9 1447.9 500.1 1451 499.9 1440.9 489.5 1427.5 471.9 1419.1 462.3 1393.9 434.5 1388.9 428.7 1382.1 420 1370.3 406.1 1367 401.7 1362.6 395.4 1361.6 393.2 1359.5 387Z" fill="url(#r57)"/><path d="M1354 387.2 1356.1 393.7 1357.1 395.9 1361.5 402.2 1364.8 406.6 1376 419.8 1382.6 428.3 1386.8 433.3 1411.9 461 1420.3 470.6 1433.7 488.2 1445.5 500.3 1448.6 500.1 1438.5 489.9 1426.8 474.4 1423.4 470.3 1415 460.7 1390.7 434 1386.4 428.9 1379.1 419.5 1367.9 406.3 1364.6 402 1360.2 395.6 1359.2 393.4 1357.1 387.1Z" fill="url(#r56)"/><path d="M1351.6 387.4 1353.7 393.9 1354.7 396.1 1359.1 402.5 1362.4 406.8 1372.5 418.8 1380.2 428.6 1384.4 433.5 1407.8 459.4 1416.2 469 1419.6 473.1 1426.3 482.2 1431.3 488.6 1443.1 500.6 1446.2 500.3 1434.4 488.2 1421 470.6 1412.6 461 1387.5 433.3 1383.3 428.3 1376.7 419.8 1365.5 406.6 1362.2 402.2 1357.8 395.9 1356.8 393.7 1354.7 387.2Z" fill="url(#r55)"/><path d="M1349.2 387.6 1351.3 394.1 1352.3 396.3 1356.7 402.7 1360 407.1 1370.1 419 1377 427.9 1381.1 432.9 1405.4 459.7 1413.8 469.3 1427.3 487 1440.7 500.8 1443.8 500.6 1432 488.6 1427 482.2 1420.3 473.1 1416.9 469 1408.5 459.4 1385.1 433.5 1380.9 428.6 1373.2 418.8 1363.1 406.8 1359.8 402.5 1355.4 396.1 1354.4 393.9 1352.3 387.4Z" fill="url(#r54)"/><path d="M1346.8 387.8 1348.9 394.4 1349.9 396.5 1354.3 402.9 1357.6 407.3 1367.7 419.3 1374.4 428 1378.7 433.1 1403 460 1411.4 469.7 1424.9 487.3 1438.3 501 1441.4 500.8 1428 487 1414.5 469.3 1406.1 459.7 1381.8 432.9 1377.7 427.9 1370.8 419 1360.7 407.1 1357.4 402.7 1353 396.3 1352 394.1 1349.9 387.6Z" fill="url(#r53)"/><path d="M1344.4 388 1346.5 394.6 1347.5 396.7 1351.9 403.2 1355.2 407.5 1365.3 419.6 1372 428.3 1376.3 433.4 1398.9 458.3 1407.3 468 1420.8 485.7 1424.1 489.3 1435.9 501.2 1439 501 1425.6 487.3 1412.1 469.7 1403.7 460 1379.4 433.1 1375.1 428 1368.4 419.3 1358.3 407.3 1355 402.9 1350.6 396.5 1349.6 394.4 1347.5 387.8Z" fill="url(#r52)"/><path d="M1342 388.2 1344.1 394.8 1345.1 396.9 1347.8 401 1352.8 407.7 1362.9 419.8 1369.6 428.6 1377.3 437.4 1396.5 458.6 1403.3 466.3 1406.6 470.4 1413.3 479.6 1418.4 486 1433.5 501.4 1436.6 501.2 1424.8 489.3 1421.5 485.7 1408 468 1399.6 458.3 1377 433.4 1372.7 428.3 1366 419.6 1355.9 407.5 1352.6 403.2 1348.2 396.7 1347.2 394.6 1345.1 388Z" fill="url(#r51)"/><path d="M1339.6 388.5 1341.7 395 1342.7 397.2 1345.4 401.3 1350.4 408 1360.5 420.1 1366.6 428 1376.5 439.5 1394.1 458.7 1400.9 466.6 1404.2 470.8 1410.9 480 1416 486.3 1431.1 501.6 1434.2 501.4 1419.1 486 1414 479.6 1407.3 470.4 1404 466.3 1397.2 458.6 1378 437.4 1370.3 428.6 1363.6 419.8 1353.5 407.7 1348.5 401 1345.8 396.9 1344.8 394.8 1342.7 388.2Z" fill="url(#r50)"/><path d="M1337.2 388.7 1339.3 395.3 1340.3 397.4 1343 401.5 1348 408.2 1358.1 420.4 1364.2 428.2 1376.6 442.5 1388.4 455.4 1391.7 458.6 1400.1 469 1406.9 478.2 1411.9 484.7 1428.7 501.8 1431.8 501.6 1416.7 486.3 1411.6 480 1404.9 470.8 1401.6 466.6 1394.8 458.7 1377.2 439.5 1367.3 428 1361.2 420.1 1351.1 408 1346.1 401.3 1343.4 397.2 1342.4 395 1340.3 388.5Z" fill="url(#r49)"/><path d="M1334.8 388.9 1336.9 395.5 1337.9 397.6 1340.6 401.7 1345.6 408.4 1354 418.5 1360.9 427.5 1369.2 437.2 1384.3 453.8 1386 455.6 1389.3 458.1 1392.7 463.1 1397.7 469.4 1404.5 478.7 1409.5 485 1426.3 501.9 1429.4 501.8 1412.6 484.7 1407.6 478.2 1400.8 469 1392.4 458.6 1389.1 455.4 1377.3 442.5 1364.9 428.2 1358.8 420.4 1348.7 408.2 1343.7 401.5 1341 397.4 1340 395.3 1337.9 388.7Z" fill="url(#r48)"/><path d="M1332.4 389.2 1334.5 395.7 1335.5 397.8 1338.2 401.9 1343.2 408.7 1351.6 418.8 1358.4 427.5 1366.8 437.4 1381.9 454 1383.6 455.6 1385.3 456.7 1386.9 457.4 1388.6 460 1390.3 463.3 1405.4 483.4 1423.9 502.1 1427 501.9 1410.2 485 1405.2 478.7 1398.4 469.4 1393.4 463.1 1390 458.1 1386.7 455.6 1385 453.8 1369.9 437.2 1361.6 427.5 1354.7 418.5 1346.3 408.4 1341.3 401.7 1338.6 397.6 1337.6 395.5 1335.5 388.9Z" fill="url(#r47)"/><path d="M1330 389.4 1332.1 395.9 1333.1 398 1335.8 402.2 1340.8 408.9 1349.2 419.1 1356 427.8 1364.4 437.6 1377.8 452.4 1379.5 454 1381.2 455.3 1382.9 456 1384.5 457.1 1387.9 463.5 1401.3 481.6 1404.7 485.5 1421.5 502.3 1424.6 502.1 1406.1 483.4 1391 463.3 1389.3 460 1387.6 457.4 1386 456.7 1384.3 455.6 1382.6 454 1367.5 437.4 1359.1 427.5 1352.3 418.8 1343.9 408.7 1338.9 401.9 1336.2 397.8 1335.2 395.7 1333.1 389.2Z" fill="url(#r46)"/><path d="M1327.6 389.7 1329.7 396.2 1330.7 398.2 1333.4 402.4 1336.8 407 1346.8 419.4 1352.9 427.2 1362 437.8 1375.4 452.5 1377.1 453.9 1380.5 455.6 1382.1 457.7 1385.5 463.9 1398.9 482 1402.3 485.7 1419.1 502.5 1422.2 502.3 1405.4 485.5 1402 481.6 1388.6 463.5 1385.2 457.1 1383.6 456 1381.9 455.3 1380.2 454 1378.5 452.4 1365.1 437.6 1356.7 427.8 1349.9 419.1 1341.5 408.9 1336.5 402.2 1333.8 398 1332.8 395.9 1330.7 389.4Z" fill="url(#r45)"/><path d="M1325.2 389.9 1327.3 396.4 1328.3 398.4 1331 402.6 1334.4 407.3 1350.5 427.5 1358.8 437.2 1371.3 450.9 1373 452.4 1376.4 454 1378.1 455.8 1381.4 461.8 1383.1 464.3 1386.5 468.7 1391.5 475.9 1396.5 482.4 1416.7 502.7 1419.8 502.5 1403 485.7 1399.6 482 1386.2 463.9 1382.8 457.7 1381.2 455.6 1377.8 453.9 1376.1 452.5 1362.7 437.8 1353.6 427.2 1347.5 419.4 1337.5 407 1334.1 402.4 1331.4 398.2 1330.4 396.2 1328.3 389.7Z" fill="url(#r44)"/><path d="M1322.8 390.2 1324.9 396.6 1325.9 398.7 1328.6 402.9 1332 407.5 1347.3 426.8 1355.6 436.5 1367.2 449.3 1368.9 450.9 1370.6 451.9 1372.3 452.6 1374 454.1 1379 462.6 1392.5 480.6 1395.8 484.4 1414.3 502.9 1417.4 502.7 1397.2 482.4 1392.2 475.9 1387.2 468.7 1383.8 464.3 1382.1 461.8 1378.8 455.8 1377.1 454 1373.7 452.4 1372 450.9 1359.5 437.2 1351.2 427.5 1335.1 407.3 1331.7 402.6 1329 398.4 1328 396.4 1325.9 389.9Z" fill="url(#r43)"/><path d="M1320.4 390.4 1322.5 396.9 1323.5 398.9 1326.2 403.1 1329.6 407.8 1344.9 427.1 1352.3 435.8 1363.2 447.8 1364.8 449.4 1366.5 450.6 1368.2 451.2 1369.9 452.4 1374.9 460.8 1380 467.2 1385 474.4 1390.1 481 1395.1 486.3 1411.9 503.1 1415 502.9 1396.5 484.4 1393.2 480.6 1379.7 462.6 1374.7 454.1 1373 452.6 1371.3 451.9 1369.6 450.9 1367.9 449.3 1356.3 436.5 1348 426.8 1332.7 407.5 1329.3 402.9 1326.6 398.7 1325.6 396.6 1323.5 390.2Z" fill="url(#r42)"/><path d="M1318 390.7 1320.1 397.1 1323.8 403.4 1327.2 408.1 1341.6 426.4 1350.8 437 1360.8 447.9 1362.4 449.2 1365.8 450.9 1367.5 453.1 1370.9 459 1377.6 467.7 1382.6 474.9 1387.7 481.3 1409.5 503.3 1412.6 503.1 1395.8 486.3 1390.8 481 1385.7 474.4 1380.7 467.2 1375.6 460.8 1370.6 452.4 1368.9 451.2 1367.2 450.6 1365.5 449.4 1363.9 447.8 1353 435.8 1345.6 427.1 1330.3 407.8 1326.9 403.1 1324.2 398.9 1323.2 396.9 1321.1 390.4Z" fill="url(#r41)"/><path d="M1315.6 390.9 1317.7 397.4 1321.4 403.6 1324.8 408.3 1339.2 426.7 1346.6 435.3 1355.9 445.5 1358.4 447.8 1361.7 449.4 1363.4 451.3 1366.8 457.3 1368.5 459.6 1373.5 465.9 1380.2 475.3 1385.3 481.6 1407.1 503.5 1410.2 503.3 1388.4 481.3 1383.3 474.9 1378.3 467.7 1371.6 459 1368.2 453.1 1366.5 450.9 1363.1 449.2 1361.5 447.9 1351.5 437 1342.3 426.4 1327.9 408.1 1324.5 403.4 1320.8 397.1 1318.7 390.7Z" fill="url(#r40)"/><path d="M1313.2 391.1 1315.3 397.6 1319 403.9 1322.4 408.6 1336 426 1343.5 434.7 1352.6 444.8 1354.3 446.3 1357.6 447.9 1359.3 449.6 1362.7 455.5 1364.4 458 1371.1 466.3 1376.1 473.5 1381.2 480 1404.7 503.6 1407.8 503.5 1386 481.6 1380.9 475.3 1374.2 465.9 1369.2 459.6 1367.5 457.3 1364.1 451.3 1362.4 449.4 1359.1 447.8 1356.6 445.5 1347.3 435.3 1339.9 426.7 1325.5 408.3 1322.1 403.6 1318.4 397.4 1316.3 390.9Z" fill="url(#r39)"/><path d="M1310.8 391.4 1312.9 397.9 1316.6 404.2 1320 408.9 1332.8 425.3 1339.4 433.1 1348.6 443.3 1351.1 445.5 1353.6 446.6 1355.2 447.9 1360.3 456.3 1367 464.5 1373.7 474 1378.8 480.3 1402.3 503.8 1405.4 503.6 1381.9 480 1376.8 473.5 1371.8 466.3 1365.1 458 1363.4 455.5 1360 449.6 1358.3 447.9 1355 446.3 1353.3 444.8 1344.2 434.7 1336.7 426 1323.1 408.6 1319.7 403.9 1316 397.6 1313.9 391.1Z" fill="url(#r38)"/><path d="M1308.4 391.6 1310.5 398.1 1314.2 404.5 1317.6 409.2 1330.4 425.6 1336.2 432.4 1345.3 442.6 1347 444.1 1351.2 446.3 1352.8 448.7 1356.2 454.5 1364.6 465 1369.7 472.2 1374.7 478.7 1384.8 489.1 1399.9 504 1403 503.8 1379.5 480.3 1374.4 474 1367.7 464.5 1361 456.3 1355.9 447.9 1354.3 446.6 1351.8 445.5 1349.3 443.3 1340.1 433.1 1333.5 425.3 1320.7 408.9 1317.3 404.2 1313.6 397.9 1311.5 391.4Z" fill="url(#r37)"/><path d="M1306 391.8 1308.1 398.3 1311.8 404.7 1315.2 409.5 1326.9 424.7 1333 431.8 1342 441.8 1343.8 443.2 1347.1 444.8 1348.8 446.9 1352.1 452.8 1353.8 455.1 1360.5 463.3 1367.3 472.7 1372.3 479.1 1397.5 504.2 1400.6 504 1385.5 489.1 1375.4 478.7 1370.4 472.2 1365.3 465 1356.9 454.5 1353.5 448.7 1351.9 446.3 1347.7 444.1 1346 442.6 1336.9 432.4 1331.1 425.6 1318.3 409.2 1314.9 404.5 1311.2 398.1 1309.1 391.6Z" fill="url(#r36)"/><path d="M1303.6 392.1 1305.7 398.6 1309.4 405 1312.8 409.8 1324.5 425 1329.7 431.1 1338.9 441 1340.5 442.2 1343 443.4 1343.9 444.1 1344.7 445.2 1348 451.1 1349.7 453.5 1356.5 461.6 1363.2 471 1368.2 477.5 1380 489.5 1395.1 504.4 1398.2 504.2 1373 479.1 1368 472.7 1361.2 463.3 1354.5 455.1 1352.8 452.8 1349.5 446.9 1347.8 444.8 1344.5 443.2 1342.7 441.8 1333.7 431.8 1327.6 424.7 1315.9 409.5 1312.5 404.7 1308.8 398.3 1306.7 391.8Z" fill="url(#r35)"/><path d="M1301.2 392.4 1303.3 398.9 1305.3 402.7 1310.4 410.2 1320.4 423.3 1327.2 431.2 1332.3 436.3 1335.6 439.9 1337.2 441.2 1339 442 1340.6 443.5 1345.6 451.8 1354.1 462.1 1360.8 471.5 1365.8 477.8 1392.7 504.6 1395.8 504.4 1380.7 489.5 1368.9 477.5 1363.9 471 1357.2 461.6 1350.4 453.5 1348.7 451.1 1345.4 445.2 1344.6 444.1 1343.7 443.4 1341.2 442.2 1339.6 441 1330.4 431.1 1325.2 425 1313.5 409.8 1310.1 405 1306.4 398.6 1304.3 392.1Z" fill="url(#r34)"/><path d="M1298.8 392.6 1300.9 399.2 1304.6 405.7 1308 410.5 1318 423.6 1324.9 431.6 1329.9 435.8 1333.2 439.2 1335.7 441 1336.5 441.8 1341.6 450.2 1350 460.4 1356.7 469.8 1361.7 476.3 1375.2 489.9 1390.3 504.7 1393.4 504.6 1366.5 477.8 1361.5 471.5 1354.8 462.1 1346.3 451.8 1341.3 443.5 1339.7 442 1337.9 441.2 1336.3 439.9 1333 436.3 1327.9 431.2 1321.1 423.3 1311.1 410.2 1306 402.7 1304 398.9 1301.9 392.4Z" fill="url(#r33)"/><path d="M1296.4 392.9 1298.5 399.5 1302.2 406 1307.2 413.1 1315.6 424 1322.4 431.7 1324 433 1327.5 434.9 1332.4 439.8 1337.5 448.5 1345.9 458.8 1354.3 470.3 1359.3 476.6 1387.9 504.9 1391 504.7 1375.9 489.9 1362.4 476.3 1357.4 469.8 1350.7 460.4 1342.3 450.2 1337.2 441.8 1336.4 441 1333.9 439.2 1330.6 435.8 1325.6 431.6 1318.7 423.6 1308.7 410.5 1305.3 405.7 1301.6 399.2 1299.5 392.6Z" fill="url(#r32)"/><path d="M1294 393.3 1296.1 399.8 1298.1 403.7 1303.2 411.3 1311.6 422.3 1317.6 429.5 1320 431.9 1321.6 432.9 1325.1 433.7 1326.8 434.6 1328.4 436.7 1332.6 445.4 1334.3 448 1343.5 459.3 1353.6 473 1355.3 475 1363.7 483.6 1385.5 505.1 1388.6 504.9 1360 476.6 1355 470.3 1346.6 458.8 1338.2 448.5 1333.1 439.8 1328.2 434.9 1324.7 433 1323.1 431.7 1316.3 424 1307.9 413.1 1302.9 406 1299.2 399.5 1297.1 392.9Z" fill="url(#r31)"/><path d="M1291.6 393.6 1292.6 397.6 1293.7 400.3 1295.7 404.2 1300.8 411.8 1309.2 422.7 1315.2 429.8 1317.6 432.1 1319.2 432.8 1322.6 432.6 1324.4 433.3 1325.2 434.5 1328.5 443.2 1330.2 446.3 1339.4 457.7 1346.1 467 1351.2 473.5 1366.3 488.8 1383.1 505.3 1386.2 505.1 1364.4 483.6 1356 475 1354.3 473 1344.2 459.3 1335 448 1333.3 445.4 1329.1 436.7 1327.5 434.6 1325.8 433.7 1322.3 432.9 1320.7 431.9 1318.3 429.5 1312.3 422.3 1303.9 411.3 1298.8 403.7 1296.8 399.8 1294.7 393.3Z" fill="url(#r30)"/><path d="M1289.2 394 1290.2 398.3 1291.3 400.9 1293.3 404.8 1296.7 409.9 1305.1 421.1 1311.2 428.3 1314.5 431.7 1315.3 432.2 1316.8 432.7 1320.3 432.1 1321.1 432.4 1322 433.2 1322.8 434.7 1325.3 442.2 1327 445.7 1328.6 448 1335.3 456.1 1347.1 471.9 1360.5 485.7 1380.7 505.5 1383.8 505.3 1367 488.8 1351.9 473.5 1346.8 467 1340.1 457.7 1330.9 446.3 1329.2 443.2 1325.9 434.5 1325.1 433.3 1323.3 432.6 1319.9 432.8 1318.3 432.1 1315.9 429.8 1309.9 422.7 1301.5 411.8 1296.4 404.2 1294.4 400.3 1293.3 397.6 1292.3 393.6Z" fill="url(#r29)"/><path d="M1286.8 394.5 1287.8 399.2 1290.9 405.4 1294.3 410.5 1302.7 421.5 1309.4 429.3 1312.1 431.7 1313.8 432.3 1317.1 431.9 1317.9 432.2 1318.7 432.9 1319.6 434.1 1320.4 435.9 1322.8 442.8 1324.5 446.1 1332.9 456.7 1343 470.4 1346.4 474 1356.5 484.2 1378.3 505.6 1381.4 505.5 1361.2 485.7 1347.8 471.9 1336 456.1 1329.3 448 1327.7 445.7 1326 442.2 1323.5 434.7 1322.7 433.2 1321.8 432.4 1321 432.1 1317.5 432.7 1316 432.2 1315.2 431.7 1311.9 428.3 1305.8 421.1 1297.4 409.9 1294 404.8 1292 400.9 1290.9 398.3 1289.9 394Z" fill="url(#r28)"/><path d="M1284.4 395 1285.4 400.1 1286.5 402.4 1288.5 406.2 1291.9 411.1 1300.3 421.9 1305.3 427.8 1308 430.6 1308.9 431.2 1310.4 431.9 1313.8 431.6 1314.7 431.9 1315.5 432.7 1317.2 435.6 1320.4 443.6 1322.1 446.6 1328.8 455.2 1338.9 468.8 1342.3 472.6 1350.7 481 1375.9 505.8 1379 505.6 1357.2 484.2 1347.1 474 1343.7 470.4 1333.6 456.7 1325.2 446.1 1323.5 442.8 1321.1 435.9 1320.3 434.1 1319.4 432.9 1318.6 432.2 1317.8 431.9 1314.5 432.3 1312.8 431.7 1310.1 429.3 1303.4 421.5 1295 410.5 1291.6 405.4 1288.5 399.2 1287.5 394.5Z" fill="url(#r27)"/><path d="M1282 395.7 1283 401.1 1285.1 405.5 1287.8 409.5 1296.2 420.3 1301.2 426.3 1304.8 430.1 1306.3 431.2 1307.3 431.5 1310.6 431.2 1311.4 431.5 1312.3 432.2 1313.9 435.1 1317.3 443 1318.9 446 1334.9 467.3 1338.2 471.1 1346.6 479.6 1373.5 506 1376.6 505.8 1351.4 481 1343 472.6 1339.6 468.8 1329.5 455.2 1322.8 446.6 1321.1 443.6 1317.9 435.6 1316.2 432.7 1315.4 431.9 1314.5 431.6 1311.1 431.9 1309.6 431.2 1308.7 430.6 1306 427.8 1301 421.9 1292.6 411.1 1289.2 406.2 1287.2 402.4 1286.1 400.1 1285.1 395Z" fill="url(#r26)"/><path d="M1279.6 396.8 1283.7 406.5 1285.4 409.7 1288.8 414.6 1297.2 424.7 1302.2 430.1 1304.1 431.1 1304.9 431.2 1307.4 430.8 1308.2 431 1309 431.7 1310.6 434.2 1314 442.3 1315.6 445.4 1330.8 465.8 1334.1 469.6 1344.2 479.8 1371.1 506.1 1374.2 506 1347.3 479.6 1338.9 471.1 1335.6 467.3 1319.6 446 1318 443 1314.6 435.1 1313 432.2 1312.1 431.5 1311.3 431.2 1308 431.5 1307 431.2 1305.5 430.1 1301.9 426.3 1296.9 420.3 1288.5 409.5 1285.8 405.5 1283.7 401.1 1282.7 395.7Z" fill="url(#r25)"/><path d="M1277.2 398.3 1280.3 405.7 1283 410.6 1286.4 415.2 1294.8 425.2 1298.1 428.9 1300 430.4 1301.7 430.9 1304.8 430.6 1305.8 431.2 1306.5 432 1307.5 433.8 1310.8 441.8 1312.5 444.9 1323.3 460.1 1328.4 466.4 1346.9 485 1368.7 506.3 1371.8 506.1 1344.9 479.8 1334.8 469.6 1331.5 465.8 1316.3 445.4 1314.7 442.3 1311.3 434.2 1309.7 431.7 1308.9 431 1308.1 430.8 1305.6 431.2 1304.8 431.1 1302.9 430.1 1297.9 424.7 1289.5 414.6 1286.1 409.7 1284.4 406.5 1280.3 396.8Z" fill="url(#r24)"/><path d="M1274.8 399.9 1277.9 407.1 1280.6 411.4 1285.6 417.8 1294 427.6 1295.7 429.2 1297.6 430.4 1299.1 430.6 1300.8 430.3 1301.8 430.3 1302.4 430.6 1303.4 431.7 1304.2 433.1 1307.6 441.1 1309.2 444.4 1317.6 456.5 1322.6 463.1 1339.4 480.2 1366.3 506.5 1369.4 506.3 1347.6 485 1329.1 466.4 1324 460.1 1313.2 444.9 1311.5 441.8 1308.2 433.8 1307.2 432 1306.5 431.2 1305.5 430.6 1302.4 430.9 1300.7 430.4 1298.8 428.9 1295.5 425.2 1287.1 415.2 1283.7 410.6 1281 405.7 1277.9 398.3Z" fill="url(#r23)"/><path d="M1272.4 401.6 1275.5 408.3 1278.2 412.2 1284.9 420.4 1291.6 428 1293.3 429.6 1294.4 430.3 1296 430.5 1298.4 429.9 1299.4 430.3 1300 431 1301.7 434 1304.3 440.5 1306 444 1311.8 453.3 1316.8 459.9 1335.3 478.7 1363.9 506.6 1367 506.5 1340.1 480.2 1323.3 463.1 1318.3 456.5 1309.9 444.4 1308.3 441.1 1304.9 433.1 1304.1 431.7 1303.1 430.6 1302.5 430.3 1301.5 430.3 1299.8 430.6 1298.3 430.4 1296.4 429.2 1294.7 427.6 1286.3 417.8 1281.3 411.4 1278.6 407.1 1275.5 399.9Z" fill="url(#r22)"/><path d="M1270 403.5 1272.1 407.7 1275.8 413 1280.8 419.1 1289.2 428.5 1290.9 430.1 1292 430.7 1292.8 430.9 1293.6 430.8 1296 430.1 1297 430.8 1298.6 433.8 1301.9 442.2 1304.4 447.4 1306.9 451.5 1311.1 456.9 1331.3 477.2 1361.5 506.8 1364.6 506.6 1336 478.7 1317.5 459.9 1312.5 453.3 1306.7 444 1305 440.5 1302.4 434 1300.7 431 1300.1 430.3 1299.1 429.9 1296.7 430.5 1295.1 430.3 1294 429.6 1292.3 428 1285.6 420.4 1278.9 412.2 1276.2 408.3 1273.1 401.6Z" fill="url(#r21)"/><path d="M1267.6 405.6 1269.7 408.8 1273.4 413.7 1286.8 429.1 1289.6 431.5 1291.2 431.8 1293.6 431.6 1294.6 432.5 1296.2 436 1298.7 443.2 1300.4 447 1302 449.7 1305.3 453.8 1328.9 477.4 1359.1 506.9 1362.2 506.8 1332 477.2 1311.8 456.9 1307.6 451.5 1305.1 447.4 1302.6 442.2 1299.3 433.8 1297.7 430.8 1296.7 430.1 1294.3 430.8 1293.5 430.9 1292.7 430.7 1291.6 430.1 1289.9 428.5 1281.5 419.1 1276.5 413 1272.8 407.7 1270.7 403.5Z" fill="url(#r20)"/><path d="M1265.2 407.7 1274.4 418.2 1286.1 432.6 1288 434.1 1291.2 435.3 1292.2 436.3 1293 437.8 1297.1 447.2 1299.6 450.7 1324.8 475.9 1356.7 507.1 1359.8 506.9 1329.6 477.4 1306 453.8 1302.7 449.7 1301.1 447 1299.4 443.2 1296.9 436 1295.3 432.5 1294.3 431.6 1291.9 431.8 1290.3 431.5 1287.5 429.1 1274.1 413.7 1270.4 408.8 1268.3 405.6Z" fill="url(#r19)"/><path d="M1262.8 409.9 1272 420.6 1283.7 434.8 1285.6 436.5 1288.8 438.1 1289.8 439.1 1293.9 446.7 1297.2 451 1324.1 477.8 1354.3 507.3 1357.4 507.1 1325.5 475.9 1300.3 450.7 1297.8 447.2 1293.7 437.8 1292.9 436.3 1291.9 435.3 1288.7 434.1 1286.8 432.6 1275.1 418.2 1265.9 407.7Z" fill="url(#r18)"/><path d="M1260.4 411.9 1281.3 435.8 1283.2 437.7 1286.4 440.1 1287.4 441.2 1291.5 447.3 1294.8 451.2 1323.3 479.6 1351.9 507.4 1355 507.3 1324.8 477.8 1297.9 451 1294.6 446.7 1290.5 439.1 1289.5 438.1 1286.3 436.5 1284.4 434.8 1272.7 420.6 1263.5 409.9Z" fill="url(#r17)"/><path d="M1258 413.1 1267.2 423 1278.9 436.5 1285.6 443.4 1289.9 448.8 1292.4 451.4 1320.9 479.8 1349.5 507.6 1352.6 507.4 1324 479.6 1295.5 451.2 1292.2 447.3 1288.1 441.2 1287.1 440.1 1283.9 437.7 1282 435.8 1261.1 411.9Z" fill="url(#r16)"/><path d="M1255.6 413.9 1264.8 423.6 1279.2 440.3 1283.2 444.3 1289.2 450.9 1318.5 480 1347.1 507.8 1350.2 507.6 1321.6 479.8 1293.1 451.4 1290.6 448.8 1286.3 443.4 1279.6 436.5 1267.9 423 1258.7 413.1Z" fill="url(#r15)"/><path d="M1253.2 414.6 1265.7 427.9 1272.4 435.5 1276.8 440.9 1286 450.3 1316.1 480.2 1344.7 508 1347.8 507.8 1319.2 480 1289.9 450.9 1283.9 444.3 1279.9 440.3 1265.5 423.6 1256.3 413.9Z" fill="url(#r14)"/><path d="M1250.8 415.2 1265 430.2 1274.4 441.2 1305.3 472.1 1342.3 508.2 1345.4 508 1316.8 480.2 1286.7 450.3 1277.5 440.9 1273.1 435.5 1266.4 427.9 1253.9 414.6Z" fill="url(#r13)"/><path d="M1248.4 415.8 1264.3 432.4 1271 440.4 1304.6 473.9 1339.9 508.4 1343 508.2 1306 472.1 1275.1 441.2 1265.7 430.2 1251.5 415.2Z" fill="url(#r12)"/><path d="M1246 416.2 1261.9 432.7 1266.9 438.9 1269.6 441.7 1303.9 475.8 1337.5 508.6 1340.6 508.4 1305.3 473.9 1271.7 440.4 1265 432.4 1249.1 415.8Z" fill="url(#r11)"/><path d="M1243.6 416.6 1257.8 431.1 1262.8 437.3 1268.9 443.6 1301.5 476 1335.1 508.8 1338.2 508.6 1304.6 475.8 1270.3 441.7 1267.6 438.9 1262.6 432.7 1246.7 416.2Z" fill="url(#r10)"/><path d="M1241.2 416.8 1255.4 431.4 1260.4 437.6 1266.5 443.8 1300.8 477.8 1332.7 509 1335.8 508.8 1302.2 476 1269.6 443.6 1263.5 437.3 1258.5 431.1 1244.3 416.6Z" fill="url(#r9)"/><path d="M1238.8 417.1 1251.3 429.8 1258 437.9 1264.1 444 1298.4 478 1330.3 509.2 1333.4 509 1301.5 477.8 1267.2 443.8 1261.1 437.6 1256.1 431.4 1241.9 416.8Z" fill="url(#r8)"/><path d="M1236.4 417.3 1248.9 430.1 1254 436.3 1260.9 443.4 1294.3 476.5 1327.9 509.4 1331 509.2 1299.1 478 1264.8 444 1258.7 437.9 1252 429.8 1239.5 417.1Z" fill="url(#r7)"/><path d="M1234 417.6 1246.5 430.3 1251.6 436.6 1258.5 443.6 1293.6 478.4 1325.5 509.5 1328.6 509.4 1295 476.5 1261.6 443.4 1254.7 436.3 1249.6 430.1 1237.1 417.3Z" fill="url(#r6)"/><path d="M1231.6 417.8 1244.1 430.5 1249.2 436.8 1256.1 443.8 1291.2 478.6 1323.1 509.7 1326.2 509.5 1294.3 478.4 1259.2 443.6 1252.3 436.6 1247.2 430.3 1234.7 417.6Z" fill="url(#r5)"/><path d="M1229.2 418 1240 429 1246.8 437 1253.5 443.8 1288.8 478.8 1320.7 509.9 1323.8 509.7 1291.9 478.6 1256.8 443.8 1249.9 436.8 1244.8 430.5 1232.3 417.8Z" fill="url(#r4)"/><path d="M1226.8 418.3 1237.6 429.2 1242.7 435.4 1251.1 444 1286.4 479 1318.3 510.1 1321.4 509.9 1289.5 478.8 1254.2 443.8 1247.5 437 1240.7 429 1229.9 418Z" fill="url(#r3)"/><path d="M1224.4 418.5 1235.2 429.4 1240.3 435.6 1248 443.5 1282.3 477.5 1315.9 510.3 1319 510.1 1287.1 479 1251.8 444 1243.4 435.4 1238.3 429.2 1227.5 418.3Z" fill="url(#r2)"/><path d="M1222 418.7 1232.8 429.6 1237.9 435.9 1245.6 443.7 1279.9 477.7 1313.5 510.5 1316.6 510.3 1283 477.5 1248.7 443.5 1241 435.6 1235.9 429.4 1225.1 418.5Z" fill="url(#r1)"/><path d="M1219.6 418.9 1230.4 429.8 1235.5 436.1 1243.2 443.9 1277.5 477.9 1311.1 510.7 1314.2 510.5 1280.6 477.7 1246.3 443.7 1238.6 435.9 1233.5 429.6 1222.7 418.7Z" fill="url(#r0)"/></g><path d="M1221 418.8 1232 430 1237.6 436.8 1245.9 445.2 1312.5 510.7M1223.5 418.6 1234.6 429.8 1240.2 436.6 1248.5 445 1315 510.5M1231.5 417.9 1242.6 429.1 1248.2 435.8 1256.5 444.3 1323 509.8M1272.2 432.2 1280.5 441.9 1288.8 450.6 1347.1 507.9M1325.9 461.1 1331.4 467.9 1370.2 506.3M1332.1 463.7 1337.6 470.4 1373.6 506M1366.5 472.6 1372 479.5 1397 504.3M1393.3 476 1398.9 483.1 1418.3 502.6M1404.1 478.4 1409.6 485.3 1426.2 502M1413.7 480.8 1419.2 487.5 1433.1 501.4M1451.4 486.2 1456.9 493.3 1462.5 499" fill="none" stroke="#12040f" stroke-width="2.0" opacity="0.2"/><path d="M1225.7 418.4 1236.8 429.6 1242.4 436.4 1250.7 444.8 1317.2 510.3M1233.2 417.7 1244.3 428.9 1249.8 435.6 1258.2 444.2 1324.7 509.7M1235.1 417.5 1246.2 428.8 1254.5 438.4 1260.1 444 1326.6 509.5M1248.5 415.9 1265.1 433.3 1270.7 440.1 1304 473.2 1340 508.4M1260.1 412.5 1279.5 434.4 1287.8 442.9 1293.4 450.1 1321.1 477.8 1351.6 507.5M1280.9 429 1286.4 435.5M1294.8 445.3 1297.5 449.6 1300.3 452.6 1355.8 507.2M1310.2 447.4 1315.7 455.6 1321.3 462.7 1340.7 482.2 1365.7 506.6M1328.7 455.3 1334.2 463 1339.8 470.1 1375.8 505.9M1331.4 454.6 1339.7 465.9 1345.3 472.7 1378.5 505.7M1338.1 457.2 1346.5 468.6 1352 475.2 1382.5 505.4M1345.4 459.7 1356.5 474.6 1387 505M1348 459.1 1356.3 470.6 1361.8 477.3 1389.6 504.8M1363.3 464.3 1368.9 472.2 1374.4 479.2 1399.4 504.1M1367.8 463.4 1376.1 474.9 1381.6 481.7 1403.8 503.8M1383 465 1391.3 476.4 1396.8 483.4 1416.2 502.8M1402.2 470 1413.2 484.9 1429.9 501.7M1432.9 472.9 1446.8 491 1455.1 499.6M1439.3 475.7 1450.4 490.5 1458.7 499.3" fill="none" stroke="#d83cb0" stroke-width="0.9" opacity="0.22"/><path d="M1229 418.1 1240.1 429.3 1245.6 436.1 1253.9 444.5 1320.5 510M1249.7 415.7 1266.3 433.1 1271.9 439.9 1305.2 473.1 1341.2 508.3M1253.2 414.8 1267.1 429.5 1275.4 439.4 1286.5 450.8 1344.7 508.1M1257.6 413.5 1265.9 422.3 1290.8 450.4 1349.1 507.7M1279.6 430 1285.2 436.3 1287.9 438 1290.7 440.8 1293.5 445.9 1296.3 449.8 1299 452.7 1354.5 507.3M1297.6 443.2 1300.4 448.8 1303.1 452.3 1328.1 477.2 1358.6 507M1307.9 449.1 1310.7 453.3 1316.2 460.2 1338.4 482.4 1363.4 506.7M1318.2 454.2 1326.5 465.2 1345.9 484.7 1368.1 506.4M1369.1 467.5 1374.6 475.2 1380.2 481.8 1402.4 503.9M1376.7 470.4 1385 481.3 1407.2 503.5M1381.2 469.4 1389.5 480.7 1411.7 503.2M1394.1 471.4 1402.4 482.7 1421.8 502.4M1400.1 470.3 1405.7 478.1 1411.2 485.1 1427.9 501.9M1409.7 472.9 1415.2 480.5 1420.8 487.4 1434.6 501.3M1417.4 475.7 1425.7 486.7 1439.6 500.9M1422.4 474.7 1433.5 489.3 1444.6 500.5M1428.3 477.9 1436.6 488.8 1447.7 500.2M1430.5 477.4 1438.8 488.5 1441.5 491.6 1449.9 500M1449.6 482.1 1457.9 493.1 1463.4 498.9" fill="none" stroke="#0a020a" stroke-width="1.3" opacity="0.3"/><path d="M1237.6 417.3 1251.4 431.5 1257 438.2 1262.5 443.8 1329.1 509.3M1241 416.9 1254.9 431.1 1260.4 437.9 1266 443.5 1332.5 509M1243.3 416.7 1257.1 430.9 1262.7 437.7 1268.2 443.3 1301.5 476.4 1334.8 508.9M1246.2 416.3 1260 430.6 1265.6 437.2 1271.1 443.1 1304.4 476.1 1337.7 508.6M1302.6 446.9 1305.3 451.3 1310.9 457.7 1360.8 506.9M1333.2 454.2 1347.1 472.5 1380.4 505.5M1340.4 456.7 1348.7 468 1354.2 475 1384.7 505.2M1353.9 462 1359.5 469.9 1365 477 1392.8 504.6M1355 461.8 1366.1 476.8 1393.8 504.5M1375.5 466.1 1381 474 1386.5 481.1 1408.7 503.4M1381 465.3 1389.3 476.7 1394.8 483.6 1414.2 503M1392.4 467.5 1403.5 482.5 1406.3 485.6 1422.9 502.3M1410.3 468.8 1424.2 487 1438.1 501M1416.9 471.6 1427.9 486.4 1430.7 489.6 1441.8 500.7M1429.3 473.5 1443.2 491.5 1451.5 499.9M1437.4 476 1448.5 490.8 1456.8 499.4" fill="none" stroke="#e040b8" stroke-width="1.3" opacity="0.14"/><path d="M1220.3 418.6 1221.3 418.2 1222.4 418.4 1223.4 415.7 1224.4 418.2 1225.5 417.8 1226.5 418 1227.5 417.6 1228.5 417.9 1229.6 416.7 1230.6 417.7 1231.6 417.1 1232.7 417.5 1233.7 416.8 1234.7 417.3 1235.8 416 1236.8 417.1 1237.8 415.4 1238.9 416.9 1239.9 416.1 1240.9 416.6 1241.9 416.2 1243 416.4 1244 414.8 1245 416.2 1246.1 416 1247.1 415.9 1248.1 415 1249.2 415.5 1250.2 414.7 1251.2 415 1252.3 414.3 1253.3 414.5 1254.3 413.5 1255.3 413.9 1256.4 413.4 1257.4 413.2 1258.4 410.3 1259.5 412.5 1260.5 409.6 1261.5 411.3 1262.6 408.2 1263.6 409.5 1264.6 408.2 1265.7 407.6 1266.7 403.3 1267.7 405.8 1268.8 404.5 1269.8 404 1270.8 399.3 1271.8 402.3 1272.9 399.3 1273.9 400.8 1274.9 398.3 1276 399.3 1277 398.2 1278 397.9 1279.1 394.6 1280.1 396.6 1281.1 394.9 1282.2 395.6 1283.2 391 1284.2 394.9 1285.2 394.4 1286.3 394.4 1287.3 391.6 1288.3 394 1289.4 388.8 1290.4 393.7 1291.4 392.1 1292.5 393.3 1293.5 391.7 1294.5 393 1295.6 391.7 1296.6 392.7 1297.6 389.3 1298.6 392.4 1299.7 390.1 1300.7 392.2 1301.7 386 1302.8 392 1303.8 386 1304.8 391.7 1305.9 385.7 1306.9 391.5 1307.9 389.2 1309 391.3 1310 388.6 1311 391.1 1312 390.6 1313.1 390.9 1314.1 390 1315.1 390.7 1316.2 387.5 1317.2 390.5 1318.2 389.5 1319.3 390.3 1320.3 386.2 1321.3 390.1 1322.4 388.6 1323.4 389.9 1324.4 389.6 1325.4 389.7 1326.5 387.5 1327.5 389.5 1328.5 389.2 1329.6 389.3 1330.6 383.4 1331.6 389 1332.7 388.8 1333.7 388.8 1334.7 382.3 1335.8 388.6 1336.8 385.7 1337.8 388.4 1338.9 386.4 1339.9 388.2 1340.9 387.8 1341.9 388 1343 387.4 1344 387.8 1345 387 1346.1 387.6 1347.1 381.6 1348.1 387.4 1349.2 387.3 1350.2 387.3 1351.2 386.7 1352.3 387.1 1353.3 385.8 1354.3 387 1355.3 386.4 1356.4 386.8 1357.4 383.6 1358.4 386.8 1359.5 381.8 1360.5 386.7 1361.5 386.5 1362.6 386.6 1363.6 386.1 1364.6 386.6 1365.7 383.5 1366.7 386.5 1367.7 386.1 1368.7 386.5 1369.8 384.2 1370.8 386.5 1371.8 385.6 1372.9 386.5 1373.9 384.8 1373.9 387.9 1372.9 388 1371.8 388 1370.8 388 1369.8 388 1368.7 388 1367.7 388 1366.7 388 1365.7 388 1364.6 388.1 1363.6 388.1 1362.6 388.1 1361.5 388.1 1360.5 388.2 1359.5 388.2 1358.4 388.3 1357.4 388.3 1356.4 388.3 1355.3 388.4 1354.3 388.5 1353.3 388.5 1352.3 388.6 1351.2 388.7 1350.2 388.8 1349.2 388.8 1348.1 388.9 1347.1 389 1346.1 389.1 1345 389.2 1344 389.3 1343 389.4 1341.9 389.5 1340.9 389.6 1339.9 389.7 1338.9 389.8 1337.8 389.9 1336.8 390 1335.8 390.1 1334.7 390.2 1333.7 390.3 1332.7 390.4 1331.6 390.5 1330.6 390.6 1329.6 390.8 1328.5 390.9 1327.5 391 1326.5 391.1 1325.4 391.2 1324.4 391.3 1323.4 391.4 1322.4 391.5 1321.3 391.6 1320.3 391.7 1319.3 391.8 1318.2 391.9 1317.2 392 1316.2 392.1 1315.1 392.2 1314.1 392.3 1313.1 392.4 1312 392.5 1311 392.6 1310 392.7 1309 392.8 1307.9 392.9 1306.9 393 1305.9 393.1 1304.8 393.2 1303.8 393.4 1302.8 393.5 1301.7 393.6 1300.7 393.7 1299.7 393.8 1298.6 393.9 1297.6 394.1 1296.6 394.2 1295.6 394.3 1294.5 394.5 1293.5 394.6 1292.5 394.8 1291.4 395 1290.4 395.2 1289.4 395.3 1288.3 395.5 1287.3 395.7 1286.3 395.9 1285.2 396.2 1284.2 396.4 1283.2 396.7 1282.2 397.1 1281.1 397.6 1280.1 398.1 1279.1 398.8 1278 399.4 1277 400.1 1276 400.8 1274.9 401.5 1273.9 402.3 1272.9 403 1271.8 403.8 1270.8 404.6 1269.8 405.5 1268.8 406.4 1267.7 407.3 1266.7 408.2 1265.7 409.1 1264.6 410 1263.6 411 1262.6 412 1261.5 412.8 1260.5 413.5 1259.5 414 1258.4 414.4 1257.4 414.7 1256.4 415.1 1255.3 415.4 1254.3 415.7 1253.3 416 1252.3 416.2 1251.2 416.5 1250.2 416.7 1249.2 417 1248.1 417.2 1247.1 417.4 1246.1 417.5 1245 417.7 1244 417.8 1243 417.9 1241.9 418 1240.9 418.1 1239.9 418.2 1238.9 418.4 1237.8 418.5 1236.8 418.6 1235.8 418.7 1234.7 418.8 1233.7 418.9 1232.7 419 1231.6 419.1 1230.6 419.2 1229.6 419.3 1228.5 419.4 1227.5 419.5 1226.5 419.5 1225.5 419.6 1224.4 419.7 1223.4 419.8 1222.4 419.9 1221.3 420 1220.3 420.1Z" fill="url(#rf)"/>
<rect x="859.4" y="363.4" width="12.2" height="62" fill="url(#scb)"/>
<line x1="856.5" y1="369.1" x2="859.4" y2="369.1" stroke="#555" stroke-width="0.6" />
<text x="854.2" y="371.9" font-size="7.8" text-anchor="end" font-weight="bold" fill="#111" >1.6</text>
<line x1="856.5" y1="383.7" x2="859.4" y2="383.7" stroke="#555" stroke-width="0.6" />
<text x="854.2" y="386.5" font-size="7.8" text-anchor="end" font-weight="bold" fill="#111" >1.2</text>
<line x1="856.5" y1="398.4" x2="859.4" y2="398.4" stroke="#555" stroke-width="0.6" />
<text x="854.2" y="401.2" font-size="7.8" text-anchor="end" font-weight="bold" fill="#111" >0.8</text>
<line x1="856.5" y1="412.7" x2="859.4" y2="412.7" stroke="#555" stroke-width="0.6" />
<text x="854.2" y="415.5" font-size="7.8" text-anchor="end" font-weight="bold" fill="#111" >0.4</text>
<line x1="856.5" y1="425.4" x2="859.4" y2="425.4" stroke="#555" stroke-width="0.6" />
<text x="854.2" y="428.2" font-size="7.8" text-anchor="end" font-weight="bold" fill="#111" >0.0</text>
<text x="859.6" y="438.3" font-size="8.6" text-anchor="middle" font-weight="bold" fill="#111" >Absorbance (-)</text>
<text x="864.5" y="460.9" font-size="7.3" text-anchor="middle" font-weight="bold" fill="#111" >400</text>
<text x="878.3" y="475" font-size="7.3" text-anchor="middle" font-weight="bold" fill="#111" >450</text>
<text x="892.6" y="489.1" font-size="7.3" text-anchor="middle" font-weight="bold" fill="#111" >500</text>
<text x="908.7" y="503.5" font-size="7.3" text-anchor="middle" font-weight="bold" fill="#111" >550</text>
<text x="920.5" y="518.1" font-size="7.3" text-anchor="middle" font-weight="bold" fill="#111" >600</text>
<text x="934.9" y="532.7" font-size="7.3" text-anchor="middle" font-weight="bold" fill="#111" >650</text>
<line x1="889.5" y1="444.8" x2="879.5" y2="446.4" stroke="#aaa" stroke-width="0.55" />
<line x1="892.8" y1="448" x2="882.8" y2="449.6" stroke="#aaa" stroke-width="0.55" />
<line x1="896" y1="451.1" x2="880" y2="453.7" stroke="#aaa" stroke-width="0.55" />
<line x1="899.3" y1="454.3" x2="889.3" y2="455.9" stroke="#aaa" stroke-width="0.55" />
<line x1="902.5" y1="457.4" x2="892.5" y2="459" stroke="#aaa" stroke-width="0.55" />
<line x1="905.8" y1="460.6" x2="895.8" y2="462.2" stroke="#aaa" stroke-width="0.55" />
<line x1="909" y1="463.7" x2="899" y2="465.3" stroke="#aaa" stroke-width="0.55" />
<line x1="912.3" y1="466.9" x2="896.3" y2="469.4" stroke="#aaa" stroke-width="0.55" />
<line x1="915.5" y1="470" x2="905.5" y2="471.6" stroke="#aaa" stroke-width="0.55" />
<line x1="918.8" y1="473.2" x2="908.8" y2="474.8" stroke="#aaa" stroke-width="0.55" />
<line x1="922" y1="476.4" x2="912" y2="478" stroke="#aaa" stroke-width="0.55" />
<line x1="925.3" y1="479.5" x2="915.3" y2="481.1" stroke="#aaa" stroke-width="0.55" />
<line x1="928.5" y1="482.7" x2="912.5" y2="485.2" stroke="#aaa" stroke-width="0.55" />
<line x1="931.8" y1="485.8" x2="921.8" y2="487.4" stroke="#aaa" stroke-width="0.55" />
<line x1="935" y1="489" x2="925" y2="490.6" stroke="#aaa" stroke-width="0.55" />
<line x1="938.3" y1="492.1" x2="928.3" y2="493.7" stroke="#aaa" stroke-width="0.55" />
<line x1="941.5" y1="495.3" x2="931.5" y2="496.9" stroke="#aaa" stroke-width="0.55" />
<line x1="944.8" y1="498.4" x2="928.8" y2="501" stroke="#aaa" stroke-width="0.55" />
<line x1="948" y1="501.6" x2="938" y2="503.2" stroke="#aaa" stroke-width="0.55" />
<line x1="951.3" y1="504.7" x2="941.3" y2="506.3" stroke="#aaa" stroke-width="0.55" />
<line x1="954.5" y1="507.9" x2="944.5" y2="509.5" stroke="#aaa" stroke-width="0.55" />
<line x1="957.8" y1="511.1" x2="947.8" y2="512.7" stroke="#aaa" stroke-width="0.55" />
<line x1="961" y1="514.2" x2="945" y2="516.8" stroke="#aaa" stroke-width="0.55" />
<line x1="964.3" y1="517.4" x2="954.3" y2="519" stroke="#aaa" stroke-width="0.55" />
<line x1="967.5" y1="520.5" x2="957.5" y2="522.1" stroke="#aaa" stroke-width="0.55" />
<line x1="970.8" y1="523.7" x2="960.8" y2="525.3" stroke="#aaa" stroke-width="0.55" />
<line x1="974" y1="526.8" x2="964" y2="528.4" stroke="#aaa" stroke-width="0.55" />
<line x1="977.3" y1="530" x2="961.3" y2="532.5" stroke="#aaa" stroke-width="0.55" />
<line x1="980.5" y1="533.1" x2="970.5" y2="534.7" stroke="#aaa" stroke-width="0.55" />
<line x1="983.8" y1="536.3" x2="973.8" y2="537.9" stroke="#aaa" stroke-width="0.55" />
<text x="885.8" y="502.4" font-size="10.2" text-anchor="middle" font-weight="bold" fill="#111" transform="rotate(46 885.8 502.4)" >Wavelength (nm)</text>
<text x="993" y="548.6" font-size="7.3" text-anchor="middle" font-weight="bold" fill="#111" transform="rotate(-4 993 548.6)" >6.5</text>
<text x="1015" y="547.6" font-size="7.3" text-anchor="middle" font-weight="bold" fill="#111" transform="rotate(-4 1015 547.6)" >6.6</text>
<text x="1037.7" y="545.6" font-size="7.3" text-anchor="middle" font-weight="bold" fill="#111" transform="rotate(-4 1037.7 545.6)" >6.7</text>
<text x="1060.7" y="544" font-size="7.3" text-anchor="middle" font-weight="bold" fill="#111" transform="rotate(-4 1060.7 544)" >6.8</text>
<text x="1083.8" y="542.6" font-size="7.3" text-anchor="middle" font-weight="bold" fill="#111" transform="rotate(-4 1083.8 542.6)" >6.9</text>
<text x="1107.2" y="541.2" font-size="7.3" text-anchor="middle" font-weight="bold" fill="#111" transform="rotate(-4 1107.2 541.2)" >7.0</text>
<text x="1129.7" y="539.5" font-size="7.3" text-anchor="middle" font-weight="bold" fill="#111" transform="rotate(-4 1129.7 539.5)" >7.1</text>
<text x="1156.9" y="537.3" font-size="7.3" text-anchor="middle" font-weight="bold" fill="#111" transform="rotate(-4 1156.9 537.3)" >6.5</text>
<text x="1179.4" y="535.6" font-size="7.3" text-anchor="middle" font-weight="bold" fill="#111" transform="rotate(-4 1179.4 535.6)" >6.6</text>
<text x="1202.8" y="533.9" font-size="7.3" text-anchor="middle" font-weight="bold" fill="#111" transform="rotate(-4 1202.8 533.9)" >6.7</text>
<text x="1225" y="532.2" font-size="7.3" text-anchor="middle" font-weight="bold" fill="#111" transform="rotate(-4 1225 532.2)" >6.8</text>
<text x="1247.9" y="530.6" font-size="7.3" text-anchor="middle" font-weight="bold" fill="#111" transform="rotate(-4 1247.9 530.6)" >6.9</text>
<text x="1271" y="528.6" font-size="7.3" text-anchor="middle" font-weight="bold" fill="#111" transform="rotate(-4 1271 528.6)" >7.0</text>
<text x="1294" y="527.2" font-size="7.3" text-anchor="middle" font-weight="bold" fill="#111" transform="rotate(-4 1294 527.2)" >7.1</text>
<text x="1322.5" y="525.2" font-size="7.3" text-anchor="middle" font-weight="bold" fill="#111" transform="rotate(-4 1322.5 525.2)" >6.5</text>
<text x="1344.8" y="523.2" font-size="7.3" text-anchor="middle" font-weight="bold" fill="#111" transform="rotate(-4 1344.8 523.2)" >6.6</text>
<text x="1367.6" y="521.3" font-size="7.3" text-anchor="middle" font-weight="bold" fill="#111" transform="rotate(-4 1367.6 521.3)" >6.7</text>
<text x="1390.1" y="519.6" font-size="7.3" text-anchor="middle" font-weight="bold" fill="#111" transform="rotate(-4 1390.1 519.6)" >6.8</text>
<text x="1413.2" y="517.6" font-size="7.3" text-anchor="middle" font-weight="bold" fill="#111" transform="rotate(-4 1413.2 517.6)" >6.9</text>
<text x="1435.8" y="516.2" font-size="7.3" text-anchor="middle" font-weight="bold" fill="#111" transform="rotate(-4 1435.8 516.2)" >7.0</text>
<text x="1223.1" y="545" font-size="9.3" text-anchor="middle" font-weight="bold" fill="#111" >Radius (cm)</text>
<text x="967.3" y="409.4" font-size="15.5" text-anchor="middle" font-weight="bold" fill="#111" >d</text>
<text x="1130.7" y="376.2" font-size="15.5" text-anchor="middle" font-weight="bold" fill="#111" >e</text>
<text x="1267.6" y="381.3" font-size="15.5" text-anchor="middle" font-weight="bold" fill="#111" >f</text>
<text x="1005" y="408.2" font-size="8.6" text-anchor="middle" font-weight="bold" fill="#111" >Scan 1</text>
<text x="1172.4" y="375.6" font-size="8.6" text-anchor="middle" font-weight="bold" fill="#111" >Scan 5</text>
<text x="1310.4" y="379.2" font-size="8.6" text-anchor="middle" font-weight="bold" fill="#111" >Scan 10</text>
</g>
</g>
</g></svg>
<div class="card" id="c1"></div>
<svg width="1919" height="710" viewBox="0 0 1919 710"><defs><clipPath id="c1clip"><rect x="1363" y="36" width="315" height="251"/></clipPath></defs><g clip-path="url(#c1clip)"><g transform="translate(514.1 -195.5) scale(1.4142)">
<rect x="630.3" y="164.9" width="186" height="151.4" fill="#fff" stroke="#666" stroke-width="0.9"/>
<line x1="630.3" y1="316.3" x2="627.2" y2="316.3" stroke="#555" stroke-width="0.9" />
<text x="625.3" y="319.1" font-size="7.8" text-anchor="end" font-weight="normal" fill="#222" stroke="#222" stroke-width="0.22">0.0</text>
<line x1="630.3" y1="304.7" x2="628.5" y2="304.7" stroke="#555" stroke-width="0.8" />
<line x1="630.3" y1="293" x2="627.2" y2="293" stroke="#555" stroke-width="0.9" />
<text x="625.3" y="295.8" font-size="7.8" text-anchor="end" font-weight="normal" fill="#222" stroke="#222" stroke-width="0.22">0.2</text>
<line x1="630.3" y1="281.4" x2="628.5" y2="281.4" stroke="#555" stroke-width="0.8" />
<line x1="630.3" y1="269.7" x2="627.2" y2="269.7" stroke="#555" stroke-width="0.9" />
<text x="625.3" y="272.5" font-size="7.8" text-anchor="end" font-weight="normal" fill="#222" stroke="#222" stroke-width="0.22">0.4</text>
<line x1="630.3" y1="258.1" x2="628.5" y2="258.1" stroke="#555" stroke-width="0.8" />
<line x1="630.3" y1="246.4" x2="627.2" y2="246.4" stroke="#555" stroke-width="0.9" />
<text x="625.3" y="249.2" font-size="7.8" text-anchor="end" font-weight="normal" fill="#222" stroke="#222" stroke-width="0.22">0.6</text>
<line x1="630.3" y1="234.8" x2="628.5" y2="234.8" stroke="#555" stroke-width="0.8" />
<line x1="630.3" y1="223.1" x2="627.2" y2="223.1" stroke="#555" stroke-width="0.9" />
<text x="625.3" y="225.9" font-size="7.8" text-anchor="end" font-weight="normal" fill="#222" stroke="#222" stroke-width="0.22">0.8</text>
<line x1="630.3" y1="211.5" x2="628.5" y2="211.5" stroke="#555" stroke-width="0.8" />
<line x1="630.3" y1="199.8" x2="627.2" y2="199.8" stroke="#555" stroke-width="0.9" />
<text x="625.3" y="202.6" font-size="7.8" text-anchor="end" font-weight="normal" fill="#222" stroke="#222" stroke-width="0.22">1.0</text>
<line x1="630.3" y1="188.2" x2="628.5" y2="188.2" stroke="#555" stroke-width="0.8" />
<line x1="630.3" y1="176.5" x2="627.2" y2="176.5" stroke="#555" stroke-width="0.9" />
<text x="625.3" y="179.3" font-size="7.8" text-anchor="end" font-weight="normal" fill="#222" stroke="#222" stroke-width="0.22">1.2</text>
<line x1="630.3" y1="316.3" x2="630.3" y2="319.4" stroke="#555" stroke-width="0.9" />
<text x="630.3" y="328.3" font-size="7.8" text-anchor="middle" font-weight="normal" fill="#222" stroke="#222" stroke-width="0.22">400</text>
<line x1="645.8" y1="316.3" x2="645.8" y2="318.1" stroke="#555" stroke-width="0.8" />
<line x1="661.3" y1="316.3" x2="661.3" y2="319.4" stroke="#555" stroke-width="0.9" />
<text x="661.3" y="328.3" font-size="7.8" text-anchor="middle" font-weight="normal" fill="#222" stroke="#222" stroke-width="0.22">450</text>
<line x1="676.8" y1="316.3" x2="676.8" y2="318.1" stroke="#555" stroke-width="0.8" />
<line x1="692.3" y1="316.3" x2="692.3" y2="319.4" stroke="#555" stroke-width="0.9" />
<text x="692.3" y="328.3" font-size="7.8" text-anchor="middle" font-weight="normal" fill="#222" stroke="#222" stroke-width="0.22">500</text>
<line x1="707.8" y1="316.3" x2="707.8" y2="318.1" stroke="#555" stroke-width="0.8" />
<line x1="723.3" y1="316.3" x2="723.3" y2="319.4" stroke="#555" stroke-width="0.9" />
<text x="723.3" y="328.3" font-size="7.8" text-anchor="middle" font-weight="normal" fill="#222" stroke="#222" stroke-width="0.22">550</text>
<line x1="738.8" y1="316.3" x2="738.8" y2="318.1" stroke="#555" stroke-width="0.8" />
<line x1="754.3" y1="316.3" x2="754.3" y2="319.4" stroke="#555" stroke-width="0.9" />
<text x="754.3" y="328.3" font-size="7.8" text-anchor="middle" font-weight="normal" fill="#222" stroke="#222" stroke-width="0.22">600</text>
<line x1="769.8" y1="316.3" x2="769.8" y2="318.1" stroke="#555" stroke-width="0.8" />
<line x1="785.3" y1="316.3" x2="785.3" y2="319.4" stroke="#555" stroke-width="0.9" />
<text x="785.3" y="328.3" font-size="7.8" text-anchor="middle" font-weight="normal" fill="#222" stroke="#222" stroke-width="0.22">650</text>
<line x1="800.8" y1="316.3" x2="800.8" y2="318.1" stroke="#555" stroke-width="0.8" />
<line x1="816.3" y1="316.3" x2="816.3" y2="319.4" stroke="#555" stroke-width="0.9" />
<text x="816.3" y="328.3" font-size="7.8" text-anchor="middle" font-weight="normal" fill="#222" stroke="#222" stroke-width="0.22">700</text>
<text x="724.6" y="338.2" font-size="8.6" text-anchor="middle" font-weight="bold" fill="#111" >Wavelength (nm)</text>
<text x="607.4" y="239.4" font-size="8.5" text-anchor="middle" font-weight="bold" fill="#111" transform="rotate(-90 607.4 239.4)" >Cumulative Absorbance (-)</text>
<path d="M630.3 316.3 L630.9 316.3 L631.4 316.3 L632 316.2 L632.5 316.2 L633.1 316.1 L633.6 316.1 L634.2 315.9 L634.8 315.7 L635.3 315.4 L635.9 315 L636.4 314.4 L637 313.6 L637.5 312.5 L638.1 311 L638.7 309.1 L639.2 306.7 L639.8 303.6 L640.3 299.7 L640.9 295.1 L641.4 289.7 L642 283.4 L642.6 276.3 L643.1 268.4 L643.7 259.9 L644.2 251.1 L644.8 242 L645.3 233.1 L645.9 224.6 L646.5 216.9 L647 210.3 L647.6 205.2 L648.1 201.7 L648.7 200 L649.2 200.2 L649.8 202.3 L650.4 206.2 L650.9 211.7 L651.5 218.6 L652 226.5 L652.6 235.1 L653.1 244.1 L653.7 253.1 L654.3 261.9 L654.8 270.3 L655.4 278 L655.9 284.9 L656.5 291 L657 296.2 L657.6 300.7 L658.2 304.3 L658.7 307.3 L659.3 309.6 L659.8 311.4 L660.4 312.8 L660.9 313.8 L661.5 314.6 L662.1 315.1 L662.6 315.5 L663.2 315.8 L663.7 316 L664.3 316.1 L664.8 316.2 L665.4 316.2 L666 316.2 L666.5 316.3 L667.1 316.3 L667.6 316.3 L668.2 316.3 L668.7 316.3" fill="none" stroke="#3cb44a" stroke-width="0.9" stroke-linejoin="round"/>
<line x1="769" y1="179.9" x2="784.4" y2="179.9" stroke="#3cb44a" stroke-width="0.855" />
<text x="786.3" y="182.4" font-size="6.9" text-anchor="start" font-weight="bold" fill="#111" >1.83 nm</text>
<path d="M646.5 199.8 h4.8 M648.9 197.4 v4.8 M647.7 199.6 l2.4 2.2 M650.1 199.6 l-2.4 2.2" stroke="#e8283c" stroke-width="0.6" fill="none"/>
<text x="649.5" y="193.2" font-size="6.9" text-anchor="start" font-weight="normal" fill="#222" transform="rotate(-57 649.5 193.2)" stroke="#222" stroke-width="0.15">430 nm</text>
<path d="M668.1 312.5 L668.9 311.5 L669.6 310.2 L670.4 308.6 L671.1 306.7 L671.9 304.4 L672.6 301.7 L673.4 298.7 L674.2 295.1 L674.9 291.1 L675.7 286.6 L676.4 281.6 L677.2 276.2 L677.9 270.3 L678.7 264.1 L679.4 257.5 L680.2 250.8 L681 244 L681.7 237.2 L682.5 230.6 L683.2 224.3 L684 218.4 L684.7 213.2 L685.5 208.7 L686.2 205 L687 202.2 L687.7 200.5 L688.5 199.8 L689.3 200.3 L690 201.8 L690.8 204.3 L691.5 207.8 L692.3 212.2 L693 217.3 L693.8 223 L694.5 229.2 L695.3 235.8 L696 242.5 L696.8 249.4 L697.6 256.1 L698.3 262.7 L699.1 269 L699.8 274.9 L700.6 280.5 L701.3 285.6 L702.1 290.2 L702.8 294.3 L703.6 297.9 L704.3 301.1 L705.1 303.9 L705.9 306.2 L706.6 308.2 L707.4 309.8 L708.1 311.2 L708.9 312.3 L709.6 313.2 L710.4 313.9 L711.1 314.5 L711.9 314.9 L712.7 315.3 L713.4 315.6 L714.2 315.8 L714.9 315.9 L715.7 316 L716.4 316.1 L717.2 316.2 L717.9 316.2 L718.7 316.2 L719.4 316.3 L720.2 316.3" fill="none" stroke="#2b2b2b" stroke-width="0.9" stroke-linejoin="round"/>
<line x1="769" y1="188.1" x2="784.4" y2="188.1" stroke="#2b2b2b" stroke-width="0.855" />
<text x="786.3" y="190.6" font-size="6.9" text-anchor="start" font-weight="bold" fill="#111" >2.21 nm</text>
<path d="M686.2 199.8 h4.8 M688.6 197.4 v4.8 M687.4 199.6 l2.4 2.2 M689.8 199.6 l-2.4 2.2" stroke="#e8283c" stroke-width="0.6" fill="none"/>
<text x="689.2" y="193.2" font-size="6.9" text-anchor="start" font-weight="normal" fill="#222" transform="rotate(-57 689.2 193.2)" stroke="#222" stroke-width="0.15">494 nm</text>
<path d="M688 295.5 L688.7 292.1 L689.4 288.3 L690.2 284 L690.9 279.5 L691.6 274.6 L692.4 269.3 L693.1 263.8 L693.9 258.1 L694.6 252.2 L695.3 246.2 L696.1 240.3 L696.8 234.4 L697.5 228.6 L698.3 223.2 L699 218.1 L699.7 213.5 L700.5 209.4 L701.2 206 L702 203.3 L702.7 201.3 L703.4 200.2 L704.2 199.8 L704.9 200.5 L705.6 202.2 L706.4 204.9 L707.1 208.6 L707.9 213.1 L708.6 218.3 L709.3 224 L710.1 230.3 L710.8 236.8 L711.5 243.5 L712.3 250.3 L713 257 L713.7 263.5 L714.5 269.7 L715.2 275.6 L716 281 L716.7 286 L717.4 290.5 L718.2 294.6 L718.9 298.2 L719.6 301.3 L720.4 304 L721.1 306.3 L721.9 308.3 L722.6 309.9 L723.3 311.2 L724.1 312.3 L724.8 313.2 L725.5 313.9 L726.3 314.5 L727 314.9 L727.7 315.3 L728.5 315.5 L729.2 315.7 L730 315.9 L730.7 316 L731.4 316.1 L732.2 316.2 L732.9 316.2 L733.6 316.2 L734.4 316.3 L735.1 316.3 L735.9 316.3 L736.6 316.3 L737.3 316.3 L738.1 316.3 L738.8 316.3" fill="none" stroke="#e8203a" stroke-width="0.9" stroke-linejoin="round"/>
<line x1="769" y1="196.3" x2="784.4" y2="196.3" stroke="#e8203a" stroke-width="0.855" />
<text x="786.3" y="198.8" font-size="6.9" text-anchor="start" font-weight="bold" fill="#111" >2.57 nm</text>
<path d="M701.7 199.8 h4.8 M704.1 197.4 v4.8 M702.9 199.6 l2.4 2.2 M705.3 199.6 l-2.4 2.2" stroke="#e8283c" stroke-width="0.6" fill="none"/>
<text x="704.7" y="193.2" font-size="6.9" text-anchor="start" font-weight="normal" fill="#222" transform="rotate(-57 704.7 193.2)" stroke="#222" stroke-width="0.15">519 nm</text>
<path d="M702.8 271.9 L703.6 267.7 L704.3 263.3 L705.1 258.8 L705.8 254.2 L706.6 249.5 L707.3 244.8 L708.1 240.1 L708.8 235.4 L709.6 230.9 L710.3 226.5 L711 222.2 L711.8 218.3 L712.5 214.6 L713.3 211.2 L714 208.2 L714.8 205.6 L715.5 203.5 L716.3 201.8 L717 200.7 L717.8 200 L718.5 199.9 L719.2 200.6 L720 202.3 L720.7 205 L721.5 208.6 L722.2 213 L723 218.1 L723.7 223.8 L724.5 229.9 L725.2 236.3 L726 242.8 L726.7 249.5 L727.5 256.1 L728.2 262.5 L728.9 268.6 L729.7 274.4 L730.4 279.8 L731.2 284.8 L731.9 289.4 L732.7 293.5 L733.4 297.1 L734.2 300.3 L734.9 303.1 L735.7 305.5 L736.4 307.6 L737.1 309.3 L737.9 310.7 L738.6 311.9 L739.4 312.8 L740.1 313.6 L740.9 314.2 L741.6 314.7 L742.4 315.1 L743.1 315.4 L743.9 315.6 L744.6 315.8 L745.4 315.9 L746.1 316 L746.8 316.1 L747.6 316.2 L748.3 316.2 L749.1 316.2 L749.8 316.3 L750.6 316.3 L751.3 316.3 L752.1 316.3 L752.8 316.3 L753.6 316.3 L754.3 316.3" fill="none" stroke="#8ab832" stroke-width="0.9" stroke-linejoin="round"/>
<line x1="769" y1="204.6" x2="784.4" y2="204.6" stroke="#8ab832" stroke-width="0.855" />
<text x="786.3" y="207.1" font-size="6.9" text-anchor="start" font-weight="bold" fill="#111" >2.81 nm</text>
<path d="M715.9 199.8 h4.8 M718.3 197.4 v4.8 M717.1 199.6 l2.4 2.2 M719.5 199.6 l-2.4 2.2" stroke="#e8283c" stroke-width="0.6" fill="none"/>
<text x="718.9" y="193.2" font-size="6.9" text-anchor="start" font-weight="normal" fill="#222" transform="rotate(-57 718.9 193.2)" stroke="#222" stroke-width="0.15">542 nm</text>
<path d="M711.5 257.5 L712.5 255.8 L713.5 254.1 L714.5 252.4 L715.4 250.6 L716.4 248.9 L717.4 247 L718.4 245.3 L719.4 243.5 L720.3 241.7 L721.3 239.8 L722.3 237.8 L723.3 235.4 L724.3 232.7 L725.2 229.4 L726.2 225.8 L727.2 222.1 L728.2 218.4 L729.1 214.8 L730.1 210.7 L731.1 207 L732.1 204.3 L733.1 202.2 L734 200.6 L735 199.8 L736 200.7 L737 203 L738 206.1 L738.9 210.5 L739.9 217.4 L740.9 225.1 L741.9 231.9 L742.9 238.7 L743.8 245.5 L744.8 252.3 L745.8 259.4 L746.8 267.5 L747.8 276.4 L748.7 285.3 L749.7 293.5 L750.7 300.1 L751.7 304.3 L752.7 306.5 L753.6 308.4 L754.6 310 L755.6 311.4 L756.6 312.5 L757.6 313.3 L758.5 313.9 L759.5 314.4 L760.5 314.8 L761.5 315.2 L762.4 315.6 L763.4 315.8 L764.4 316.1 L765.4 316.2 L766.4 316.3 L767.3 316.3 L768.3 316.3 L769.3 316.3 L770.3 316.3 L771.3 316.3 L772.2 316.3 L773.2 316.3 L774.2 316.3 L775.2 316.3 L776.2 316.3 L777.1 316.3 L778.1 316.3 L779.1 316.3" fill="none" stroke="#2a3a9a" stroke-width="0.9" stroke-linejoin="round"/>
<line x1="769" y1="212.8" x2="784.4" y2="212.8" stroke="#2a3a9a" stroke-width="0.855" />
<text x="786.3" y="215.3" font-size="6.9" text-anchor="start" font-weight="bold" fill="#111" >3.06 nm</text>
<path d="M732.7 199.8 h4.8 M735.1 197.4 v4.8 M733.9 199.6 l2.4 2.2 M736.3 199.6 l-2.4 2.2" stroke="#e8283c" stroke-width="0.6" fill="none"/>
<text x="735.7" y="193.2" font-size="6.9" text-anchor="start" font-weight="normal" fill="#222" transform="rotate(-57 735.7 193.2)" stroke="#222" stroke-width="0.15">569 nm</text>
<path d="M733.8 244.6 L734.6 240.4 L735.3 236.3 L736.1 232.2 L736.8 228.3 L737.6 224.4 L738.3 220.8 L739.1 217.3 L739.8 214.1 L740.6 211.1 L741.3 208.5 L742 206.1 L742.8 204.1 L743.5 202.5 L744.3 201.2 L745 200.4 L745.8 199.9 L746.5 199.9 L747.3 200.6 L748 202 L748.8 204.1 L749.5 207 L750.2 210.4 L751 214.5 L751.7 219 L752.5 223.9 L753.2 229.2 L754 234.7 L754.7 240.3 L755.5 246.1 L756.2 251.8 L757 257.4 L757.7 262.9 L758.5 268.3 L759.2 273.3 L759.9 278.1 L760.7 282.6 L761.4 286.7 L762.2 290.5 L762.9 294 L763.7 297.1 L764.4 299.9 L765.2 302.4 L765.9 304.6 L766.7 306.5 L767.4 308.1 L768.1 309.6 L768.9 310.8 L769.6 311.8 L770.4 312.6 L771.1 313.4 L771.9 313.9 L772.6 314.4 L773.4 314.8 L774.1 315.1 L774.9 315.4 L775.6 315.6 L776.4 315.8 L777.1 315.9 L777.8 316 L778.6 316.1 L779.3 316.1 L780.1 316.2 L780.8 316.2 L781.6 316.2 L782.3 316.2 L783.1 316.3 L783.8 316.3 L784.6 316.3 L785.3 316.3" fill="none" stroke="#8fd8a8" stroke-width="0.9" stroke-linejoin="round"/>
<line x1="769" y1="221" x2="784.4" y2="221" stroke="#8fd8a8" stroke-width="0.855" />
<text x="786.3" y="223.5" font-size="6.9" text-anchor="start" font-weight="bold" fill="#111" >3.26 nm</text>
<path d="M743.8 199.8 h4.8 M746.2 197.4 v4.8 M745 199.6 l2.4 2.2 M747.4 199.6 l-2.4 2.2" stroke="#e8283c" stroke-width="0.6" fill="none"/>
<text x="746.8" y="193.2" font-size="6.9" text-anchor="start" font-weight="normal" fill="#222" transform="rotate(-57 746.8 193.2)" stroke="#222" stroke-width="0.15">587 nm</text>
<path d="M748.1 208 L748.6 207.5 L749.2 206.9 L749.7 206.4 L750.3 205.9 L750.8 205.4 L751.3 204.9 L751.9 204.4 L752.4 203.9 L753 203.4 L753.5 202.9 L754 202.3 L754.6 201.7 L755.1 201.1 L755.6 200.7 L756.2 200.3 L756.7 200 L757.3 199.8 L757.8 199.9 L758.3 200.2 L758.9 200.7 L759.4 201.3 L760 202.1 L760.5 202.9 L761 203.8 L761.6 204.8 L762.1 205.8 L762.7 207.2 L763.2 208.8 L763.7 210.6 L764.3 212.6 L764.8 214.9 L765.4 217.2 L765.9 219.7 L766.4 222.3 L767 224.9 L767.5 227.5 L768 230.1 L768.6 232.6 L769.1 235.1 L769.7 237.6 L770.2 240.1 L770.7 242.6 L771.3 245.2 L771.8 247.9 L772.4 250.5 L772.9 253.3 L773.4 256 L774 258.8 L774.5 261.5 L775.1 264.3 L775.6 267.1 L776.1 269.9 L776.7 272.7 L777.2 275.4 L777.8 278.2 L778.3 281.1 L778.8 284 L779.4 287 L779.9 289.9 L780.4 292.8 L781 295.6 L781.5 298.2 L782.1 300.6 L782.6 302.8 L783.1 304.9 L783.7 306.9 L784.2 308.8 L784.8 310.6 L785.3 312.2" fill="none" stroke="#6a3f9a" stroke-width="0.9" stroke-linejoin="round"/>
<line x1="769" y1="229.2" x2="784.4" y2="229.2" stroke="#6a3f9a" stroke-width="0.855" />
<text x="786.3" y="231.7" font-size="6.9" text-anchor="start" font-weight="bold" fill="#111" >3.48 nm</text>
<path d="M755 199.8 h4.8 M757.4 197.4 v4.8 M756.2 199.6 l2.4 2.2 M758.6 199.6 l-2.4 2.2" stroke="#e8283c" stroke-width="0.6" fill="none"/>
<text x="758" y="193.2" font-size="6.9" text-anchor="start" font-weight="normal" fill="#222" transform="rotate(-57 758 193.2)" stroke="#222" stroke-width="0.15">605 nm</text>
</g></g></svg>
<div class="card" id="c2"></div>
<svg width="1919" height="710" viewBox="0 0 1919 710"><defs><clipPath id="c2clip"><rect x="232" y="418" width="307" height="233"/></clipPath><filter id="c2b" x="-5%" y="-5%" width="110%" height="110%"><feGaussianBlur stdDeviation="0.35"/></filter></defs><g clip-path="url(#c2clip)" filter="url(#c2b)">
<rect x="280.8" y="435.1" width="241" height="177.6" fill="none" stroke="#888" stroke-width="0.8"/>
<line x1="280.8" y1="612.7" x2="277.8" y2="612.7" stroke="#555" stroke-width="0.8" />
<text x="274.8" y="615.8" font-size="8.7" text-anchor="end" font-weight="bold" fill="#3a3a3a" >0.0</text>
<line x1="280.8" y1="580.3" x2="277.8" y2="580.3" stroke="#555" stroke-width="0.8" />
<text x="274.8" y="583.4" font-size="8.7" text-anchor="end" font-weight="bold" fill="#3a3a3a" >0.5</text>
<line x1="280.8" y1="547.9" x2="277.8" y2="547.9" stroke="#555" stroke-width="0.8" />
<text x="274.8" y="551" font-size="8.7" text-anchor="end" font-weight="bold" fill="#3a3a3a" >1.0</text>
<line x1="280.8" y1="515.5" x2="277.8" y2="515.5" stroke="#555" stroke-width="0.8" />
<text x="274.8" y="518.6" font-size="8.7" text-anchor="end" font-weight="bold" fill="#3a3a3a" >1.5</text>
<line x1="280.8" y1="483.1" x2="277.8" y2="483.1" stroke="#555" stroke-width="0.8" />
<text x="274.8" y="486.2" font-size="8.7" text-anchor="end" font-weight="bold" fill="#3a3a3a" >2.0</text>
<line x1="280.8" y1="450.7" x2="277.8" y2="450.7" stroke="#555" stroke-width="0.8" />
<text x="274.8" y="453.8" font-size="8.7" text-anchor="end" font-weight="bold" fill="#3a3a3a" >2.5</text>
<line x1="280.8" y1="612.7" x2="280.8" y2="615.7" stroke="#555" stroke-width="0.8" />
<text x="280.8" y="626.7" font-size="8.7" text-anchor="middle" font-weight="bold" fill="#3a3a3a" >2</text>
<line x1="307.6" y1="612.7" x2="307.6" y2="614.5" stroke="#555" stroke-width="0.7" />
<line x1="334.3" y1="612.7" x2="334.3" y2="615.7" stroke="#555" stroke-width="0.8" />
<text x="334.3" y="626.7" font-size="8.7" text-anchor="middle" font-weight="bold" fill="#3a3a3a" >3</text>
<line x1="361.1" y1="612.7" x2="361.1" y2="614.5" stroke="#555" stroke-width="0.7" />
<line x1="387.8" y1="612.7" x2="387.8" y2="615.7" stroke="#555" stroke-width="0.8" />
<text x="387.8" y="626.7" font-size="8.7" text-anchor="middle" font-weight="bold" fill="#3a3a3a" >4</text>
<line x1="414.6" y1="612.7" x2="414.6" y2="614.5" stroke="#555" stroke-width="0.7" />
<line x1="441.3" y1="612.7" x2="441.3" y2="615.7" stroke="#555" stroke-width="0.8" />
<text x="441.3" y="626.7" font-size="8.7" text-anchor="middle" font-weight="bold" fill="#3a3a3a" >5</text>
<line x1="468.1" y1="612.7" x2="468.1" y2="614.5" stroke="#555" stroke-width="0.7" />
<line x1="494.8" y1="612.7" x2="494.8" y2="615.7" stroke="#555" stroke-width="0.8" />
<text x="494.8" y="626.7" font-size="8.7" text-anchor="middle" font-weight="bold" fill="#3a3a3a" >6</text>
<line x1="521.5" y1="612.7" x2="521.5" y2="614.5" stroke="#555" stroke-width="0.7" />
<text x="401.4" y="647.3" font-size="13.6" text-anchor="middle" font-weight="bold" fill="#3a3a3a" >Core Diameter (nm)</text>
<text font-size="13.6" font-weight="bold" fill="#3a3a3a" text-anchor="middle" transform="translate(247.4 523.5) rotate(-90)">Volume Density (nm<tspan font-size="9" dy="-4.6">-1</tspan><tspan dy="4.6">)</tspan></text>
<path d="M281.9 612.4 L282.5 612.1 L283.1 611.7 L283.7 611 L284.2 609.9 L284.8 608.3 L285.4 605.9 L286 602.7 L286.5 598.6 L287.1 593.4 L287.7 587.4 L288.3 580.8 L288.8 573.9 L289.4 567.3 L290 561.5 L290.6 557.2 L291.1 554.8 L291.7 554 L292.3 554.4 L292.9 557.1 L293.4 561.7 L294 567.6 L294.6 574.4 L295.2 581.4 L295.7 588.1 L296.3 594.1 L296.9 599.1 L297.5 603.2 L298 606.3 L298.6 608.5 L299.2 610.1 L299.8 611.1 L300.3 611.8 L300.9 612.2" fill="none" stroke="#444" stroke-width="0.7"/>
<path d="M283.1 612.3 L283.7 612.2 L284.2 612 L284.8 611.7 L285.4 611.4 L286 611 L286.5 610.4 L287.1 609.7 L287.7 608.9 L288.3 607.8 L288.8 606.6 L289.4 605.1 L290 603.3 L290.6 601.3 L291.1 599 L291.7 596.4 L292.3 593.5 L292.9 590.4 L293.4 587.1 L294 583.6 L294.6 580 L295.2 576.5 L295.7 572.9 L296.3 569.6 L296.9 566.5 L297.5 563.7 L298 561.4 L298.6 559.6 L299.2 558.3 L299.8 557.7 L300.3 557.3 L300.9 557.2 L301.5 557.7 L302.1 558.8 L302.6 560.5 L303.2 562.7 L303.8 565.5 L304.4 568.5 L304.9 571.9 L305.5 575.4 L306.1 579.1 L306.7 582.7 L307.2 586.3 L307.8 589.7 L308.4 592.9 L309 595.8 L309.5 598.5 L310.1 600.9 L310.7 603 L311.3 604.8 L311.8 606.4 L312.4 607.7 L313 608.8 L313.6 609.6 L314.1 610.4 L314.7 610.9 L315.3 611.4 L315.8 611.7 L316.4 612 L317 612.2 L317.6 612.3" fill="none" stroke="#444" stroke-width="0.7"/>
<path d="M299.2 612.4 L299.8 612.3 L300.3 612.2 L300.9 612 L301.5 611.8 L302.1 611.5 L302.6 611.2 L303.2 610.8 L303.8 610.3 L304.4 609.7 L304.9 609 L305.5 608.2 L306.1 607.2 L306.7 606.2 L307.2 604.9 L307.8 603.6 L308.4 602.1 L309 600.5 L309.5 598.8 L310.1 597 L310.7 595.1 L311.3 593.2 L311.8 591.3 L312.4 589.4 L313 587.6 L313.6 585.9 L314.1 584.4 L314.7 583.1 L315.3 582 L315.8 581.1 L316.4 580.6 L317 580.3 L317.6 580.1 L318.1 580 L318.7 580.3 L319.3 580.9 L319.9 581.7 L320.4 582.9 L321 584.2 L321.6 585.8 L322.2 587.5 L322.7 589.4 L323.3 591.3 L323.9 593.2 L324.5 595.2 L325 597.1 L325.6 598.9 L326.2 600.6 L326.8 602.2 L327.3 603.7 L327.9 605.1 L328.5 606.3 L329.1 607.3 L329.6 608.3 L330.2 609.1 L330.8 609.8 L331.4 610.4 L331.9 610.8 L332.5 611.2 L333.1 611.6 L333.7 611.8 L334.2 612 L334.8 612.2 L335.4 612.3 L336 612.4" fill="none" stroke="#444" stroke-width="0.7"/>
<path d="M315.3 612.4 L315.8 612.3 L316.4 612.3 L317 612.2 L317.6 612.1 L318.1 612 L318.7 611.8 L319.3 611.7 L319.9 611.5 L320.4 611.3 L321 611.1 L321.6 610.8 L322.2 610.5 L322.7 610.2 L323.3 609.9 L323.9 609.5 L324.5 609.1 L325 608.6 L325.6 608.1 L326.2 607.6 L326.8 607.1 L327.3 606.5 L327.9 605.9 L328.5 605.2 L329.1 604.6 L329.6 603.9 L330.2 603.2 L330.8 602.5 L331.4 601.7 L331.9 601 L332.5 600.3 L333.1 599.7 L333.7 599 L334.2 598.4 L334.8 597.8 L335.4 597.2 L336 596.8 L336.5 596.3 L337.1 596 L337.7 595.7 L338.3 595.4 L338.8 595.3 L339.4 595.2 L340 595.1 L340.6 595.1 L341.1 595.1 L341.7 595.2 L342.3 595.3 L342.9 595.6 L343.4 595.9 L344 596.3 L344.6 596.7 L345.2 597.3 L345.7 597.8 L346.3 598.4 L346.9 599.1 L347.5 599.7 L348 600.4 L348.6 601.2 L349.2 601.9 L349.7 602.6 L350.3 603.3 L350.9 604 L351.5 604.7 L352 605.4 L352.6 606 L353.2 606.6 L353.8 607.2 L354.3 607.8 L354.9 608.3 L355.5 608.8 L356.1 609.2 L356.6 609.6 L357.2 610 L357.8 610.3 L358.4 610.6 L358.9 610.9 L359.5 611.2 L360.1 611.4 L360.7 611.6 L361.2 611.7 L361.8 611.9 L362.4 612 L363 612.1 L363.5 612.2 L364.1 612.3 L364.7 612.4 L365.3 612.4" fill="none" stroke="#444" stroke-width="0.7" stroke-dasharray="1.5 1"/>
<path d="M331.4 612.4 L331.9 612.4 L332.5 612.3 L333.1 612.3 L333.7 612.2 L334.2 612.1 L334.8 612.1 L335.4 612 L336 611.9 L336.5 611.8 L337.1 611.6 L337.7 611.5 L338.3 611.4 L338.8 611.2 L339.4 611 L340 610.8 L340.6 610.6 L341.1 610.4 L341.7 610.2 L342.3 609.9 L342.9 609.6 L343.4 609.4 L344 609.1 L344.6 608.7 L345.2 608.4 L345.7 608.1 L346.3 607.7 L346.9 607.3 L347.5 606.9 L348 606.5 L348.6 606.1 L349.2 605.7 L349.7 605.3 L350.3 604.9 L350.9 604.4 L351.5 604 L352 603.6 L352.6 603.2 L353.2 602.8 L353.8 602.4 L354.3 602 L354.9 601.7 L355.5 601.4 L356.1 601.1 L356.6 600.8 L357.2 600.5 L357.8 600.3 L358.4 600.1 L358.9 600 L359.5 599.9 L360.1 599.8 L360.7 599.7 L361.2 599.7 L361.8 599.6 L362.4 599.6 L363 599.6 L363.5 599.7 L364.1 599.8 L364.7 599.9 L365.3 600.1 L365.8 600.3 L366.4 600.5 L367 600.8 L367.6 601.1 L368.1 601.4 L368.7 601.7 L369.3 602.1 L369.9 602.5 L370.4 602.8 L371 603.3 L371.6 603.7 L372.2 604.1 L372.7 604.5 L373.3 604.9 L373.9 605.4 L374.5 605.8 L375 606.2 L375.6 606.6 L376.2 607 L376.8 607.4 L377.3 607.8 L377.9 608.2 L378.5 608.5 L379.1 608.8 L379.6 609.2 L380.2 609.5 L380.8 609.7 L381.4 610 L381.9 610.3 L382.5 610.5 L383.1 610.7 L383.7 610.9 L384.2 611.1 L384.8 611.3 L385.4 611.4 L385.9 611.6 L386.5 611.7 L387.1 611.8 L387.7 611.9 L388.2 612 L388.8 612.1 L389.4 612.2 L390 612.2 L390.5 612.3 L391.1 612.4 L391.7 612.4" fill="none" stroke="#444" stroke-width="0.7" stroke-dasharray="1.5 1"/>
<path d="M343.4 612.4 L344 612.4 L344.6 612.4 L345.2 612.3 L345.7 612.3 L346.3 612.2 L346.9 612.2 L347.5 612.1 L348 612 L348.6 612 L349.2 611.9 L349.7 611.8 L350.3 611.7 L350.9 611.6 L351.5 611.5 L352 611.4 L352.6 611.3 L353.2 611.2 L353.8 611 L354.3 610.9 L354.9 610.7 L355.5 610.6 L356.1 610.4 L356.6 610.2 L357.2 610 L357.8 609.8 L358.4 609.6 L358.9 609.4 L359.5 609.2 L360.1 609 L360.7 608.7 L361.2 608.5 L361.8 608.2 L362.4 608 L363 607.7 L363.5 607.4 L364.1 607.1 L364.7 606.9 L365.3 606.6 L365.8 606.3 L366.4 606 L367 605.7 L367.6 605.4 L368.1 605.2 L368.7 604.9 L369.3 604.6 L369.9 604.3 L370.4 604.1 L371 603.8 L371.6 603.6 L372.2 603.3 L372.7 603.1 L373.3 602.9 L373.9 602.7 L374.5 602.5 L375 602.4 L375.6 602.2 L376.2 602.1 L376.8 602 L377.3 601.9 L377.9 601.8 L378.5 601.7 L379.1 601.7 L379.6 601.7 L380.2 601.6 L380.8 601.6 L381.4 601.6 L381.9 601.6 L382.5 601.6 L383.1 601.7 L383.7 601.7 L384.2 601.8 L384.8 601.9 L385.4 602 L385.9 602.2 L386.5 602.3 L387.1 602.5 L387.7 602.7 L388.2 602.9 L388.8 603.1 L389.4 603.4 L390 603.6 L390.5 603.9 L391.1 604.1 L391.7 604.4 L392.3 604.7 L392.8 605 L393.4 605.3 L394 605.6 L394.6 605.8 L395.1 606.1 L395.7 606.4 L396.3 606.7 L396.9 607 L397.4 607.3 L398 607.6 L398.6 607.8 L399.2 608.1 L399.7 608.4 L400.3 608.6 L400.9 608.9 L401.5 609.1 L402 609.3 L402.6 609.6 L403.2 609.8 L403.8 610 L404.3 610.2 L404.9 610.3 L405.5 610.5 L406.1 610.7 L406.6 610.8 L407.2 611 L407.8 611.1 L408.4 611.3 L408.9 611.4 L409.5 611.5 L410.1 611.6 L410.7 611.7 L411.2 611.8 L411.8 611.9 L412.4 612 L413 612 L413.5 612.1 L414.1 612.2 L414.7 612.2 L415.3 612.3 L415.8 612.3 L416.4 612.3 L417 612.4 L417.6 612.4" fill="none" stroke="#444" stroke-width="0.7" stroke-dasharray="0.8 0.8"/>
<path d="M357.2 612.4 L357.8 612.4 L358.4 612.4 L358.9 612.3 L359.5 612.3 L360.1 612.3 L360.7 612.2 L361.2 612.2 L361.8 612.2 L362.4 612.1 L363 612.1 L363.5 612 L364.1 612 L364.7 611.9 L365.3 611.9 L365.8 611.8 L366.4 611.7 L367 611.7 L367.6 611.6 L368.1 611.5 L368.7 611.4 L369.3 611.4 L369.9 611.3 L370.4 611.2 L371 611.1 L371.6 611 L372.2 610.9 L372.7 610.8 L373.3 610.7 L373.9 610.6 L374.5 610.4 L375 610.3 L375.6 610.2 L376.2 610 L376.8 609.9 L377.3 609.8 L377.9 609.6 L378.5 609.5 L379.1 609.3 L379.6 609.2 L380.2 609 L380.8 608.8 L381.4 608.7 L381.9 608.5 L382.5 608.3 L383.1 608.2 L383.7 608 L384.2 607.8 L384.8 607.6 L385.4 607.5 L385.9 607.3 L386.5 607.1 L387.1 606.9 L387.7 606.7 L388.2 606.6 L388.8 606.4 L389.4 606.2 L390 606 L390.5 605.9 L391.1 605.7 L391.7 605.5 L392.3 605.4 L392.8 605.2 L393.4 605.1 L394 604.9 L394.6 604.8 L395.1 604.7 L395.7 604.5 L396.3 604.4 L396.9 604.3 L397.4 604.2 L398 604.1 L398.6 604 L399.2 603.9 L399.7 603.9 L400.3 603.8 L400.9 603.8 L401.5 603.7 L402 603.7 L402.6 603.7 L403.2 603.6 L403.8 603.6 L404.3 603.6 L404.9 603.6 L405.5 603.6 L406.1 603.5 L406.6 603.6 L407.2 603.6 L407.8 603.6 L408.4 603.6 L408.9 603.7 L409.5 603.7 L410.1 603.8 L410.7 603.8 L411.2 603.9 L411.8 604 L412.4 604.1 L413 604.2 L413.5 604.3 L414.1 604.4 L414.7 604.6 L415.3 604.7 L415.8 604.8 L416.4 605 L417 605.1 L417.6 605.3 L418.1 605.5 L418.7 605.6 L419.3 605.8 L419.8 606 L420.4 606.1 L421 606.3 L421.6 606.5 L422.1 606.7 L422.7 606.8 L423.3 607 L423.9 607.2 L424.4 607.4 L425 607.6 L425.6 607.8 L426.2 607.9 L426.7 608.1 L427.3 608.3 L427.9 608.5 L428.5 608.6 L429 608.8 L429.6 609 L430.2 609.1 L430.8 609.3 L431.3 609.4 L431.9 609.6 L432.5 609.7 L433.1 609.9 L433.6 610 L434.2 610.2 L434.8 610.3 L435.4 610.4 L435.9 610.5 L436.5 610.7 L437.1 610.8 L437.7 610.9 L438.2 611 L438.8 611.1 L439.4 611.2 L440 611.3 L440.5 611.4 L441.1 611.4 L441.7 611.5 L442.3 611.6 L442.8 611.7 L443.4 611.7 L444 611.8 L444.6 611.9 L445.1 611.9 L445.7 612 L446.3 612 L446.9 612.1 L447.4 612.1 L448 612.2 L448.6 612.2 L449.2 612.2 L449.7 612.3 L450.3 612.3 L450.9 612.3 L451.5 612.4 L452 612.4 L452.6 612.4" fill="none" stroke="#444" stroke-width="0.7" stroke-dasharray="2.5 1 0.8 1"/>
<path d="M361.2 612.4 L361.8 612.4 L362.4 612.4 L363 612.4 L363.5 612.4 L364.1 612.3 L364.7 612.3 L365.3 612.3 L365.8 612.3 L366.4 612.2 L367 612.2 L367.6 612.2 L368.1 612.1 L368.7 612.1 L369.3 612.1 L369.9 612 L370.4 612 L371 612 L371.6 611.9 L372.2 611.9 L372.7 611.8 L373.3 611.8 L373.9 611.7 L374.5 611.7 L375 611.6 L375.6 611.6 L376.2 611.5 L376.8 611.5 L377.3 611.4 L377.9 611.4 L378.5 611.3 L379.1 611.2 L379.6 611.2 L380.2 611.1 L380.8 611 L381.4 610.9 L381.9 610.9 L382.5 610.8 L383.1 610.7 L383.7 610.6 L384.2 610.6 L384.8 610.5 L385.4 610.4 L385.9 610.3 L386.5 610.2 L387.1 610.1 L387.7 610 L388.2 610 L388.8 609.9 L389.4 609.8 L390 609.7 L390.5 609.6 L391.1 609.5 L391.7 609.4 L392.3 609.3 L392.8 609.2 L393.4 609.1 L394 609 L394.6 608.9 L395.1 608.8 L395.7 608.7 L396.3 608.6 L396.9 608.6 L397.4 608.5 L398 608.4 L398.6 608.3 L399.2 608.2 L399.7 608.1 L400.3 608 L400.9 607.9 L401.5 607.9 L402 607.8 L402.6 607.7 L403.2 607.6 L403.8 607.6 L404.3 607.5 L404.9 607.4 L405.5 607.4 L406.1 607.3 L406.6 607.3 L407.2 607.2 L407.8 607.2 L408.4 607.1 L408.9 607.1 L409.5 607 L410.1 607 L410.7 607 L411.2 606.9 L411.8 606.9 L412.4 606.9 L413 606.9 L413.5 606.9 L414.1 606.9 L414.7 606.9 L415.3 606.8 L415.8 606.8 L416.4 606.8 L417 606.8 L417.6 606.8 L418.1 606.8 L418.7 606.8 L419.3 606.8 L419.8 606.9 L420.4 606.9 L421 606.9 L421.6 606.9 L422.1 607 L422.7 607 L423.3 607 L423.9 607.1 L424.4 607.1 L425 607.2 L425.6 607.2 L426.2 607.3 L426.7 607.4 L427.3 607.4 L427.9 607.5 L428.5 607.6 L429 607.6 L429.6 607.7 L430.2 607.8 L430.8 607.9 L431.3 608 L431.9 608.1 L432.5 608.1 L433.1 608.2 L433.6 608.3 L434.2 608.4 L434.8 608.5 L435.4 608.6 L435.9 608.7 L436.5 608.8 L437.1 608.9 L437.7 609 L438.2 609.1 L438.8 609.2 L439.4 609.3 L440 609.4 L440.5 609.5 L441.1 609.6 L441.7 609.6 L442.3 609.7 L442.8 609.8 L443.4 609.9 L444 610 L444.6 610.1 L445.1 610.2 L445.7 610.3 L446.3 610.4 L446.9 610.5 L447.4 610.5 L448 610.6 L448.6 610.7 L449.2 610.8 L449.7 610.9 L450.3 610.9 L450.9 611 L451.5 611.1 L452 611.1 L452.6 611.2 L453.2 611.3 L453.7 611.3 L454.3 611.4 L454.9 611.5 L455.5 611.5 L456 611.6 L456.6 611.6 L457.2 611.7 L457.8 611.7 L458.3 611.8 L458.9 611.8 L459.5 611.9 L460.1 611.9 L460.6 612 L461.2 612 L461.8 612 L462.4 612.1 L462.9 612.1 L463.5 612.1 L464.1 612.2 L464.7 612.2 L465.2 612.2 L465.8 612.3 L466.4 612.3 L467 612.3 L467.5 612.3 L468.1 612.4 L468.7 612.4 L469.3 612.4 L469.8 612.4 L470.4 612.4" fill="none" stroke="#444" stroke-width="0.7" stroke-dasharray="2.5 1 0.8 1"/>
<path d="M280.8 612.3 L281.4 612 L281.9 612 L282.5 611.7 L283.1 611.3 L283.7 610.2 L284.2 608.7 L284.8 607.7 L285.4 604.6 L286 601.5 L286.5 595.6 L287.1 587.4 L287.7 583.2 L288.3 577.8 L288.8 565.7 L289.4 561.2 L290 552.1 L290.6 540.7 L291.1 543.9 L291.7 536.9 L292.3 538.2 L292.9 533 L293.4 531.1 L294 537.5 L294.6 533.9 L295.2 532.1 L295.7 531.4 L296.3 530.5 L296.9 527.1 L297.5 515.2 L298 511.3 L298.6 492.8 L299.2 522.4 L299.8 508.6 L300.3 512.1 L300.9 513 L301.5 525 L302.1 539.7 L302.6 543.1 L303.2 547.9 L303.8 556.8 L304.4 558.9 L304.9 571 L305.5 564.6 L306.1 569.3 L306.7 576.4 L307.2 577 L307.8 580.1 L308.4 583.6 L309 583.2 L309.5 582.6 L310.1 585.3 L310.7 585.7 L311.3 584.9 L311.8 583.9 L312.4 581.9 L313 584 L313.6 581.6 L314.1 580.9 L314.7 584.1 L315.3 580.7 L315.8 579.9 L316.4 579.5 L317 578.1 L317.6 583.1 L318.1 578.8 L318.7 580 L319.3 581.9 L319.9 578.8 L320.4 579.6 L321 583.4 L321.6 582.1 L322.2 585.7 L322.7 586.1 L323.3 589.5 L323.9 587.2 L324.5 594.7 L325 592.7 L325.6 593.1 L326.2 597.3 L326.8 596.3 L327.3 597.3 L327.9 597.2 L328.5 597.5 L329.1 599 L329.6 600.2 L330.2 598 L330.8 598.1 L331.4 599.4 L331.9 598 L332.5 597.7 L333.1 597.4 L333.7 596.8 L334.2 595.3 L334.8 597.6 L335.4 594.7 L336 595.1 L336.5 595.3 L337.1 592.9 L337.7 596.5 L338.3 592.5 L338.8 592.8 L339.4 594.3 L340 592 L340.6 593.1 L341.1 589.4 L341.7 589.9 L342.3 591.7 L342.9 592.5 L343.4 592.8 L344 592.3 L344.6 592.8 L345.2 593.1 L345.7 593.3 L346.3 593 L346.9 593.4 L347.5 594 L348 594.2 L348.6 590.5 L349.2 595.1 L349.7 595 L350.3 593.7 L350.9 594.7 L351.5 594.1 L352 593.3 L352.6 593 L353.2 593.9 L353.8 595.8 L354.3 593.8 L354.9 596.5 L355.5 594.6 L356.1 595.3 L356.6 595.7 L357.2 593.7 L357.8 594.5 L358.4 593 L358.9 595.9 L359.5 592.8 L360.1 593.5 L360.7 593.5 L361.2 595.2 L361.8 593.8 L362.4 594.6 L363 595.4 L363.5 588.7 L364.1 591.2 L364.7 590.2 L365.3 592.7 L365.8 591.1 L366.4 591.1 L367 591.1 L367.6 591.9 L368.1 591.7 L368.7 594.2 L369.3 590.7 L369.9 591.1 L370.4 590.4 L371 592 L371.6 589.3 L372.2 592.1 L372.7 593.1 L373.3 590.9 L373.9 592.6 L374.5 593.8 L375 591.6 L375.6 591.2 L376.2 591.8 L376.8 591.8 L377.3 587.7 L377.9 591.6 L378.5 590.9 L379.1 595 L379.6 592.1 L380.2 591.7 L380.8 593.4 L381.4 594 L381.9 592.2 L382.5 593.2 L383.1 593.7 L383.7 591.4 L384.2 591.6 L384.8 592.8 L385.4 593.7 L385.9 592.5 L386.5 592 L387.1 592.5 L387.7 595 L388.2 593.4 L388.8 592.4 L389.4 592.7 L390 592.2 L390.5 592.1 L391.1 594.5 L391.7 593.9 L392.3 594.5 L392.8 591.6 L393.4 593.2 L394 593.2 L394.6 592.3 L395.1 593.9 L395.7 595.4 L396.3 594.2 L396.9 594.5 L397.4 592.5 L398 593.3 L398.6 595.5 L399.2 593.6 L399.7 593.6 L400.3 595.8 L400.9 595.2 L401.5 596.6 L402 595 L402.6 595.3 L403.2 596.9 L403.8 595.9 L404.3 595.2 L404.9 596.3 L405.5 595.2 L406.1 595.5 L406.6 596.9 L407.2 596.4 L407.8 594.1 L408.4 596.3 L408.9 596.9 L409.5 596.5 L410.1 597.6 L410.7 595.9 L411.2 596.6 L411.8 595.9 L412.4 596.1 L413 597.1 L413.5 596.7 L414.1 597.3 L414.7 598.5 L415.3 599 L415.8 598.3 L416.4 600.5 L417 597.3 L417.6 599.9 L418.1 599.1 L418.7 600.3 L419.3 600.7 L419.8 600 L420.4 599.8 L421 600.4 L421.6 600.2 L422.1 600.7 L422.7 600.5 L423.3 600.8 L423.9 601.1 L424.4 601.7 L425 601.1 L425.6 601.9 L426.2 602.2 L426.7 603.8 L427.3 602.4 L427.9 602.4 L428.5 603.1 L429 603.3 L429.6 602.4 L430.2 603.6 L430.8 603.8 L431.3 604.6 L431.9 604.8 L432.5 604.9 L433.1 605.4 L433.6 605.4 L434.2 605.9 L434.8 606 L435.4 606.8 L435.9 607 L436.5 606.7 L437.1 607.1 L437.7 606.9 L438.2 607.3 L438.8 607.3 L439.4 607.2 L440 607.5 L440.5 607.5 L441.1 608.2 L441.7 607.8 L442.3 608.6 L442.8 608.8 L443.4 608.6 L444 608.9 L444.6 608.7 L445.1 609 L445.7 609.7 L446.3 609.4 L446.9 609.3 L447.4 609.5 L448 610.1 L448.6 609.8 L449.2 610.4 L449.7 610.1 L450.3 610 L450.9 610.5 L451.5 610.8 L452 610.8 L452.6 610.4 L453.2 610.4 L453.7 610.8 L454.3 611.2 L454.9 611 L455.5 611.1 L456 611.4 L456.6 611.1 L457.2 611.1 L457.8 611.2 L458.3 611.2 L458.9 611.2 L459.5 611.7 L460.1 611.9 L460.6 611.6 L461.2 611.4 L461.8 611.5 L462.4 611.9 L462.9 611.6 L463.5 611.7 L464.1 612 L464.7 611.7 L465.2 611.9 L465.8 612 L466.4 612.2 L467 611.9 L467.5 612 L468.1 611.9 L468.7 612.4 L469.3 612.1 L469.8 612.4 L470.4 612.2 L471 612.4 L471.6 612.1 L472.1 611.9 L472.7 611.9 L473.3 612.2 L473.9 612.3 L474.4 612.5 L475 612.1 L475.6 612.4 L476.2 612.3 L476.7 612.2 L477.3 612.5 L477.9 612.2 L478.5 612.3 L479 612.4 L479.6 612.1 L480.2 612.1 L480.8 612.5 L481.3 612 L481.9 612.6 L482.5 612.5 L483.1 612.6 L483.6 612.4 L484.2 612.6 L484.8 612.5 L485.4 612.4 L485.9 612.4 L486.5 612.5 L487.1 612.6 L487.6 612.3 L488.2 612.3 L488.8 612.3 L489.4 612.7 L489.9 612.6 L490.5 612.3 L491.1 612.6 L491.7 612.6 L492.2 612.4 L492.8 612.5 L493.4 612.3 L494 612.7 L494.5 612.5 L495.1 612.5 L495.7 612.5 L496.3 612.7 L496.8 612.3 L497.4 612.7 L498 612.5 L498.6 612.1 L499.1 612.6 L499.7 612.3 L500.3 612.4 L500.9 612.1 L501.4 612.4 L502 612.6 L502.6 612.1 L503.2 612.2 L503.7 612.6 L504.3 612.4 L504.9 612.5 L505.5 612.1 L506 612.6 L506.6 612.3 L507.2 612.1 L507.8 612.1 L508.3 612.1 L508.9 612.3 L509.5 612.5 L510.1 612.7 L510.6 612.6 L511.2 612.1 L511.8 612.2 L512.4 612.6 L512.9 612.1 L513.5 612.4 L514.1 612.6 L514.7 612.4 L515.2 612.4 L515.8 612.6 L516.4 612.3 L517 612.4 L517.5 612.5 L518.1 612.2 L518.7 612.4 L519.3 612.5 L519.8 612.6 L520.4 612.4 L521 612.6 L521.5 612.1" fill="none" stroke="#777" stroke-width="1.6" stroke-linejoin="round"/>
<path d="M280.8 612.7 L281.4 612.7 L281.9 612.7 L282.5 612.6 L283.1 612.5 L283.7 612.5 L284.2 612.3 L284.8 612.2 L285.4 612.1 L286 611.8 L286.5 611.6 L287.1 611.3 L287.7 609 L288.3 601.9 L288.8 590.8 L289.4 579.6 L290 571.4 L290.6 560.1 L291.1 551.3 L291.7 554.2 L292.3 554.8 L292.9 559.7 L293.4 554.6 L294 564.2 L294.6 560.5 L295.2 547.7 L295.7 522.4 L296.3 502.6 L296.9 498.7 L297.5 481.9 L298 483.6 L298.6 475.7 L299.2 463.5 L299.8 483.7 L300.3 499.2 L300.9 513.6 L301.5 515.8 L302.1 528.2 L302.6 539.1 L303.2 535.2 L303.8 542.3 L304.4 549.6 L304.9 551.9 L305.5 563.4 L306.1 559.4 L306.7 569.2 L307.2 569.4 L307.8 572.5 L308.4 574.1 L309 574.8 L309.5 579.1 L310.1 580.9 L310.7 582 L311.3 579.5 L311.8 580.9 L312.4 581.2 L313 578.6 L313.6 576.3 L314.1 577.4 L314.7 577.9 L315.3 574.7 L315.8 576.3 L316.4 576 L317 569.6 L317.6 572.2 L318.1 569.5 L318.7 577.4 L319.3 574.2 L319.9 578.3 L320.4 575.6 L321 582.4 L321.6 584.8 L322.2 585.6 L322.7 587.7 L323.3 590 L323.9 589.6 L324.5 590.9 L325 591.9 L325.6 593.5 L326.2 595.6 L326.8 596.5 L327.3 596.5 L327.9 598.6 L328.5 597.5 L329.1 599.4 L329.6 600.5 L330.2 599.9 L330.8 600.9 L331.4 600.3 L331.9 600.9 L332.5 599.7 L333.1 600.6 L333.7 601.2 L334.2 600.1 L334.8 599.5 L335.4 597.1 L336 595.2 L336.5 596 L337.1 596.3 L337.7 593.8 L338.3 593.5 L338.8 593.9 L339.4 592.9 L340 593.3 L340.6 594.4 L341.1 592.8 L341.7 594.1 L342.3 594.6 L342.9 594.2 L343.4 592.7 L344 592.6 L344.6 593.3 L345.2 595.2 L345.7 595.8 L346.3 594.7 L346.9 595.3 L347.5 595.1 L348 596.2 L348.6 596 L349.2 596.1 L349.7 594.4 L350.3 594.1 L350.9 595.5 L351.5 594.3 L352 594.1 L352.6 595.3 L353.2 594.5 L353.8 593.6 L354.3 595.2 L354.9 593 L355.5 594.2 L356.1 593.8 L356.6 594 L357.2 595.1 L357.8 593.2 L358.4 593.5 L358.9 593.8 L359.5 593.5 L360.1 592.9 L360.7 593.4 L361.2 593.8 L361.8 593.2 L362.4 592.5 L363 593.2 L363.5 594.1 L364.1 592.5 L364.7 593.6 L365.3 592.8 L365.8 593.5 L366.4 594.3 L367 594.6 L367.6 594.3 L368.1 593.7 L368.7 595.7 L369.3 593.2 L369.9 592.5 L370.4 593.8 L371 594.7 L371.6 595.3 L372.2 593.5 L372.7 593.4 L373.3 593.7 L373.9 593.2 L374.5 594.5 L375 594.2 L375.6 593.7 L376.2 594.3 L376.8 593.6 L377.3 593.7 L377.9 594.5 L378.5 595.1 L379.1 595 L379.6 593.4 L380.2 595.5 L380.8 594.4 L381.4 595.4 L381.9 592.5 L382.5 595.2 L383.1 594.1 L383.7 595.6 L384.2 592 L384.8 596.1 L385.4 594.6 L385.9 596.1 L386.5 594.4 L387.1 596.2 L387.7 595.6 L388.2 596.6 L388.8 595.7 L389.4 595.4 L390 593.9 L390.5 597.5 L391.1 595.1 L391.7 595.6 L392.3 596.2 L392.8 596 L393.4 595.6 L394 596 L394.6 596.1 L395.1 596.8 L395.7 596.6 L396.3 595.9 L396.9 597.2 L397.4 596.9 L398 596.5 L398.6 596.4 L399.2 596.5 L399.7 597.1 L400.3 598.6 L400.9 596.5 L401.5 596.4 L402 596.4 L402.6 597.1 L403.2 596.9 L403.8 597.8 L404.3 598.6 L404.9 598 L405.5 598.1 L406.1 597.3 L406.6 597.6 L407.2 598.7 L407.8 598.7 L408.4 598.5 L408.9 598.6 L409.5 597.8 L410.1 599.2 L410.7 598.1 L411.2 600 L411.8 599.7 L412.4 598.2 L413 599.2 L413.5 599.5 L414.1 599.3 L414.7 599.9 L415.3 599.9 L415.8 599.9 L416.4 600 L417 600 L417.6 600.7 L418.1 600.3 L418.7 601.1 L419.3 600.4 L419.8 601 L420.4 600.9 L421 601 L421.6 601.8 L422.1 601.8 L422.7 601.7 L423.3 601.5 L423.9 601.4 L424.4 602.1 L425 602.6 L425.6 602.3 L426.2 602.5 L426.7 602.3 L427.3 602.2 L427.9 602 L428.5 603.9 L429 603.5 L429.6 603.5 L430.2 603.2 L430.8 603.4 L431.3 603.9 L431.9 603.7 L432.5 604.4 L433.1 604.5 L433.6 604.3 L434.2 605 L434.8 604.1 L435.4 605.2 L435.9 605.5 L436.5 605.1 L437.1 606 L437.7 605.6 L438.2 605.6 L438.8 605.3 L439.4 604.8 L440 605.9 L440.5 606.5 L441.1 606.1 L441.7 606.1 L442.3 606.7 L442.8 606.4 L443.4 606.2 L444 606.6 L444.6 607.1 L445.1 607.2 L445.7 607.6 L446.3 607.3 L446.9 607.5 L447.4 607.1 L448 608 L448.6 608.1 L449.2 607.8 L449.7 607.8 L450.3 608.2 L450.9 608.1 L451.5 608.1 L452 608.2 L452.6 608.4 L453.2 608.5 L453.7 609 L454.3 608.6 L454.9 608.9 L455.5 609.2 L456 609.2 L456.6 609.3 L457.2 609.4 L457.8 609.4 L458.3 609.6 L458.9 609.8 L459.5 609.4 L460.1 609.7 L460.6 609.5 L461.2 610 L461.8 609.8 L462.4 610.1 L462.9 610 L463.5 610.1 L464.1 610.2 L464.7 610.4 L465.2 610.4 L465.8 610.4 L466.4 610.8 L467 610.7 L467.5 610.8 L468.1 610.9 L468.7 610.8 L469.3 610.8 L469.8 610.9 L470.4 610.9 L471 611.1 L471.6 611.1 L472.1 611.1 L472.7 611.1 L473.3 611.2 L473.9 611.3 L474.4 611.3 L475 611.2 L475.6 611.4 L476.2 611.4 L476.7 611.5 L477.3 611.5 L477.9 611.6 L478.5 611.6 L479 611.6 L479.6 611.7 L480.2 611.8 L480.8 611.7 L481.3 611.9 L481.9 611.8 L482.5 611.8 L483.1 611.9 L483.6 611.9 L484.2 612 L484.8 611.9 L485.4 612 L485.9 612.1 L486.5 612.1 L487.1 612.1 L487.6 612.2 L488.2 612.2 L488.8 612.2 L489.4 612.2 L489.9 612.2 L490.5 612.2 L491.1 612.3 L491.7 612.3 L492.2 612.3 L492.8 612.3 L493.4 612.3 L494 612.4 L494.5 612.4 L495.1 612.4 L495.7 612.4 L496.3 612.4 L496.8 612.4 L497.4 612.4 L498 612.4 L498.6 612.4 L499.1 612.5 L499.7 612.5 L500.3 612.5 L500.9 612.5 L501.4 612.5 L502 612.5 L502.6 612.5 L503.2 612.5 L503.7 612.5 L504.3 612.6 L504.9 612.6 L505.5 612.6 L506 612.6 L506.6 612.6 L507.2 612.6 L507.8 612.6 L508.3 612.6 L508.9 612.6 L509.5 612.6 L510.1 612.6 L510.6 612.6 L511.2 612.6 L511.8 612.7 L512.4 612.7 L512.9 612.7 L513.5 612.7 L514.1 612.7 L514.7 612.7 L515.2 612.7 L515.8 612.7 L516.4 612.7 L517 612.7 L517.5 612.7 L518.1 612.7 L518.7 612.7 L519.3 612.7 L519.8 612.7 L520.4 612.7 L521 612.7 L521.5 612.7" fill="none" stroke="#111" stroke-width="1.2" stroke-linejoin="round"/>
<rect x="360.3" y="417" width="178" height="171" fill="#fff" stroke="#ccc" stroke-width="1"/>
<line x1="371.2" y1="427.6" x2="394" y2="427.6" stroke="#333" stroke-width="1.3" />
<text x="397.4" y="430.8" font-size="9.4" text-anchor="start" font-weight="normal" fill="#666" >from measurement of mixture</text>
<line x1="371.2" y1="440.2" x2="394" y2="440.2" stroke="#888" stroke-width="1.3" />
<text x="397.4" y="443.4" font-size="9.4" text-anchor="start" font-weight="normal" fill="#666" >from summation of contributions</text>
<line x1="371.2" y1="454.9" x2="394" y2="454.9" stroke="#555" stroke-width="1.1"/>
<text x="397.4" y="457.1" font-size="9.4" fill="#666">sample 1 - λ<tspan font-size="9.4" dy="3.6">peak</tspan><tspan dy="-3.6"> = 451 nm</tspan></text>
<line x1="371.2" y1="472.6" x2="394" y2="472.6" stroke="#555" stroke-width="1.1"/>
<text x="397.4" y="474.8" font-size="9.4" fill="#666">sample 2 - λ<tspan font-size="9.4" dy="3.6">peak</tspan><tspan dy="-3.6"> = 465 nm</tspan></text>
<line x1="371.2" y1="490.4" x2="394" y2="490.4" stroke="#555" stroke-width="1.1"/>
<text x="397.4" y="492.6" font-size="9.4" fill="#666">sample 3 - λ<tspan font-size="9.4" dy="3.6">peak</tspan><tspan dy="-3.6"> = 496 nm</tspan></text>
<line x1="371.2" y1="508.1" x2="394" y2="508.1" stroke="#555" stroke-width="0.8" stroke-dasharray="1.5 1"/>
<text x="397.4" y="510.3" font-size="9.4" fill="#666">sample 4 - λ<tspan font-size="9.4" dy="3.6">peak</tspan><tspan dy="-3.6"> = 522 nm</tspan></text>
<line x1="371.2" y1="525.8" x2="394" y2="525.8" stroke="#555" stroke-width="0.8" stroke-dasharray="1.5 1"/>
<text x="397.4" y="528" font-size="9.4" fill="#666">sample 5 - λ<tspan font-size="9.4" dy="3.6">peak</tspan><tspan dy="-3.6"> = 551 nm</tspan></text>
<line x1="371.2" y1="543.5" x2="394" y2="543.5" stroke="#555" stroke-width="0.8" stroke-dasharray="0.8 0.8"/>
<text x="397.4" y="545.7" font-size="9.4" fill="#666">sample 6 - λ<tspan font-size="9.4" dy="3.6">peak</tspan><tspan dy="-3.6"> = 569 nm</tspan></text>
<line x1="371.2" y1="561.3" x2="394" y2="561.3" stroke="#555" stroke-width="0.8" stroke-dasharray="2.5 1 0.8 1"/>
<text x="397.4" y="563.5" font-size="9.4" fill="#666">sample 7 - λ<tspan font-size="9.4" dy="3.6">peak</tspan><tspan dy="-3.6"> = 595 nm</tspan></text>
<line x1="371.2" y1="579" x2="394" y2="579" stroke="#555" stroke-width="0.8" stroke-dasharray="2.5 1 0.8 1"/>
<text x="397.4" y="581.2" font-size="9.4" fill="#666">sample 8 - λ<tspan font-size="9.4" dy="3.6">peak</tspan><tspan dy="-3.6"> = 605 nm</tspan></text>
</g></svg>
</body></html>
